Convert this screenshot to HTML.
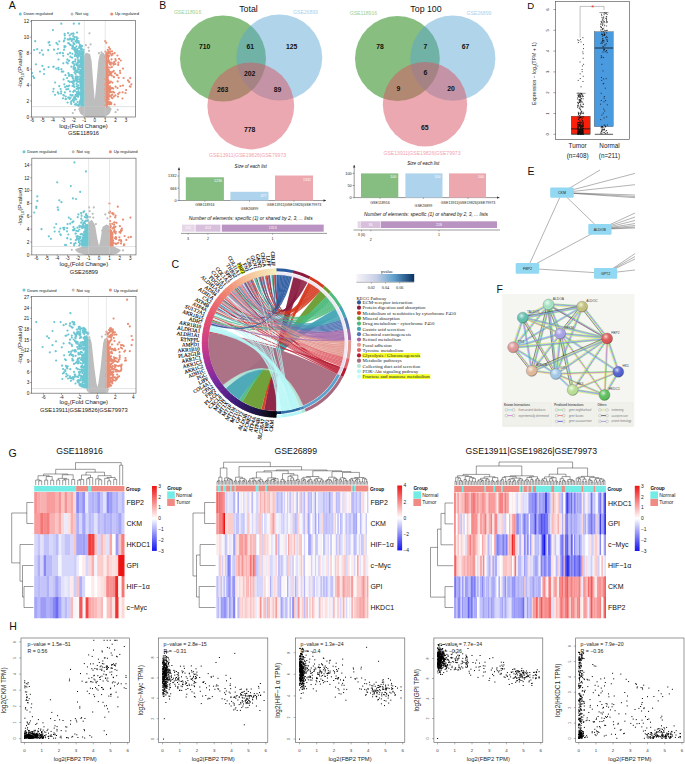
<!DOCTYPE html><html><head><meta charset="utf-8"><style>html,body{margin:0;padding:0;background:#fff;}svg{display:block;}</style></head><body><svg width="685" height="764" viewBox="0 0 685 764">
<rect width="685" height="764" fill="#fff"/>
<text x="8.8" y="8.9" font-size="10.5" text-anchor="start" fill="#111" font-family='"Liberation Sans", sans-serif' >A</text>
<circle cx="20.3" cy="13.9" r="1.5" fill="#6cc7d3"/>
<text x="23.6" y="15.4" font-size="4.2" text-anchor="start" fill="#222" font-family='"Liberation Sans", sans-serif' >Down regulated</text>
<circle cx="72" cy="13.9" r="1.5" fill="#bdbdbd"/>
<text x="75.3" y="15.4" font-size="4.2" text-anchor="start" fill="#222" font-family='"Liberation Sans", sans-serif' >Not sig</text>
<circle cx="111.7" cy="13.9" r="1.5" fill="#e88c72"/>
<text x="115" y="15.4" font-size="4.2" text-anchor="start" fill="#222" font-family='"Liberation Sans", sans-serif' >Up regulated</text>
<clipPath id="clip11"><rect x="31.5" y="20.5" width="104.0" height="96.5"/></clipPath>
<g clip-path="url(#clip11)">
<polygon points="85.3,116.2 81.1,113.4 79.1,109 81.1,106.6 84.3,106.6 84.3,56.4 86.4,53.6 89.5,54.8 90.8,61.2 92.6,85.1 93.9,99.5 94.7,105 95.6,99.5 97,85.1 99.1,61.2 100.5,54.8 103.1,53.6 105.2,56.4 105.2,106.6 108.3,106.6 110.9,109 108.8,113.4 104.7,116.2" fill="#bdbdbd" stroke="#bdbdbd" stroke-width="1.6" stroke-linejoin="round"/>
<path stroke="#bdbdbd" stroke-width="2.2" stroke-linecap="round" d="M89 50.8h0M89.5 33.3h0M85.9 45.2h0M88.5 47.6h0M98.9 53.2h0M101.5 52.4h0M74.9 109.8h0M117.7 109.8h0M72.8 113h0M115.6 112.2h0M90.6 44.4h0"/>
<polygon points="84.3,106.6 84.3,54.8 83.4,51.6 82,59.6 80.9,81.1 80.9,104.2 82.2,106.6" fill="#6cc7d3" stroke="#6cc7d3" stroke-width="0.8" stroke-linejoin="round" transform="translate(-0.4,0)"/>
<polygon points="105.2,106.6 105.2,54.8 105.8,53.2 107.1,61.2 108.1,85.1 107.5,104.2 106.4,106.6" fill="#e88c72" stroke="#e88c72" stroke-width="0.8" stroke-linejoin="round" transform="translate(0.4,0)"/>
<path stroke="#6cc7d3" stroke-width="2.2" stroke-linecap="round" d="M78.9 69.5h0M61.4 69.2h0M78 66.7h0M82.5 75.9h0M75.5 49.6h0M83.4 89h0M83.4 59.5h0M73.8 102h0M48.5 42.6h0M74.9 61.4h0M82.8 105.7h0M77.6 102.1h0M82.4 92.1h0M84 80.1h0M79.1 51h0M77.8 62.9h0M78.1 61.7h0M78.9 88.1h0M35.9 64.3h0M73.4 82h0M82 89h0M83.6 62.3h0M79.7 51.7h0M79.9 44.8h0M67.6 102.6h0M82.2 51.6h0M78.6 41.1h0M79.8 101.9h0M75.5 50.6h0M81.5 101.3h0M80.7 45.7h0M71.7 95.7h0M81.8 100.4h0M83.7 60.7h0M82.5 73.2h0M79 94h0M72.6 95.1h0M75.1 97.2h0M79.4 92.7h0M81.5 46.7h0M69.8 81.9h0M65.1 87.1h0M79.8 51.3h0M75.2 98.3h0M44 74h0M81.6 59.1h0M80.7 87.9h0M83.6 101.4h0M76.5 89h0M76.1 79.8h0M78.9 42.9h0M78.4 67.9h0M66.4 89.4h0M82.8 52.7h0M69.2 85.6h0M82.4 62.2h0M59.2 86.2h0M57.6 44.4h0M76.1 76.3h0M83.3 104.4h0M55.1 82.5h0M73.5 86.3h0M68.9 61h0M81.2 95.7h0M73 99.7h0M82 72.6h0M67.3 59.5h0M81.4 49.8h0M82.3 105.6h0M81.5 79.1h0M83.7 96.5h0M80.2 70h0M83 85.3h0M64.6 33.8h0M74.8 56h0M76.5 96.1h0M84 105.6h0M62.9 53.2h0M55 94.8h0M75.3 71.4h0M72.6 81.6h0M83.6 75h0M72.4 39.7h0M72.4 53.8h0M70.3 38.5h0M80.4 63h0M63.8 41.3h0M79.5 54.9h0M66.6 62.3h0M75.6 78.6h0M76.5 63.7h0M83.5 69.6h0M39.8 52.8h0M72.7 76.6h0M72.5 62.7h0M79.1 51.2h0M83.5 63.1h0M84 72.3h0M78.5 91h0M73.6 68.9h0M75.8 41.1h0M81.7 105.9h0M81.1 64.3h0M82.3 96.4h0M63.3 55.8h0M79.1 47.7h0M80.8 64.6h0M82.3 80.7h0M69.7 38.6h0M65.4 75.2h0M76.5 83.9h0M83 77.3h0M68.2 43.1h0M73.2 36.1h0M81.4 96.2h0M79 88.4h0M82.1 81.6h0M75.6 70.8h0M80.9 53.9h0M48.6 67.2h0M83.6 104.8h0M66 99.1h0M73.3 63.5h0M81 57.1h0M84.1 98.9h0M78.9 104.9h0M68.6 86.3h0M82.9 103.9h0M75.5 74h0M75.5 59.3h0M69.7 35.4h0M74 90.7h0M78.6 94.5h0M84.2 79.8h0M73.2 91.8h0M81.5 85.3h0M73.7 67.2h0M75.8 52.6h0M79.8 55.3h0M63.3 95h0M60.3 52.8h0M83 79.9h0M75.6 41.4h0M80.1 70h0M65.5 46.6h0M58.6 69.5h0M74.9 90.8h0M72.9 45.6h0M75.2 54.5h0M82.2 52.2h0M49.3 42.1h0M77.4 52.2h0M80.9 49.4h0M67.1 78.1h0M83.5 81h0M77.2 53.4h0M78.3 104.5h0M69.6 98.9h0M70 91.3h0M80.7 56.8h0M82.9 97.8h0M77.8 57.3h0M68 54.3h0M58.4 67.8h0M57.8 92.4h0M82.1 74.7h0M81.2 61.3h0M75.2 68.4h0M67.8 63.4h0M81 82.7h0M67.7 39.4h0M82.2 55.2h0M53.6 66.6h0M76.7 92h0M77.5 71.9h0M76 103.8h0M53.3 67h0M79.7 54.6h0M76.9 72.2h0M73.9 100.3h0M77.4 77.9h0M56.4 42.8h0M81.5 77.4h0M83.1 81.1h0M69.3 39.5h0M78.5 85.3h0M82.4 69.5h0M61.2 91.3h0M70.9 102.3h0M82.4 93h0M74 81.8h0M80.4 67.1h0M83.3 63.9h0M83.1 76.6h0M81.7 94.5h0M77.6 76.5h0M80.1 80.1h0M77.6 95.3h0M82.3 68.5h0M75.2 67.9h0M67.4 59.7h0M67 86.2h0M72.3 46.1h0M63.6 79.4h0M80.9 48.7h0M82.1 46.1h0M64.9 92.4h0M81.9 62.3h0M81.6 100.7h0M68.4 73.2h0M70.4 94.8h0M79.7 62.1h0M84.1 95.2h0M74.1 39.3h0M53.6 88.8h0M78 55.2h0M78.1 60.1h0M82.4 102.4h0M83.3 104.4h0M77.2 70.8h0M76.8 95.8h0M82.5 94.4h0M68 33.1h0M61 93.4h0M83.7 51.8h0M78.8 55.7h0M80.8 77.2h0M77.8 77.2h0M76.1 104.8h0M73.6 43.7h0M82.5 79.5h0M72.3 75.3h0M82.4 96.7h0M77.9 105.2h0M64.4 46.1h0M73.4 42.5h0M75.5 77h0M76.2 70.6h0M48.2 50.2h0M81.6 50.6h0M72.2 48.4h0M69.3 74.6h0M64.1 40.7h0M73.7 49.3h0M71.4 75h0M72.9 99.6h0M80.6 76.9h0M84.2 86.4h0M75.2 61.3h0M81.9 49.1h0M74.5 81h0M74.7 64.6h0M77.5 79.6h0M75.2 55.7h0M71.5 33.9h0M84.1 71.6h0M72.4 86h0M79.7 103.4h0M82.4 84h0M83.4 92h0M63.3 63.3h0M78 41h0M76.8 37.4h0M75.3 48.1h0M83.6 72h0M71.6 101h0M60.6 89h0M78.6 95.2h0M78.2 65.3h0M83.7 52.2h0M79.4 72.1h0M76.2 80.3h0M81.3 66h0M77 86.5h0M73.1 83.4h0M84.2 92.7h0M83.9 97.7h0M71.8 76.3h0M64 49.8h0M83.8 49.8h0M58.6 93.6h0M63.3 71.6h0M78.5 41.4h0M81.8 74.6h0M59.7 53.1h0M78.7 41.3h0M69.2 60.5h0M83.2 70h0M78.9 93.1h0M83.8 76.3h0M83.1 80.6h0M74.5 72.5h0M81.6 70.8h0M79.5 55.7h0M77.6 38.3h0M57.2 53.5h0M81.9 99.7h0M64.5 47.3h0M75.6 80.3h0M81.5 64.3h0M76.9 65.2h0M75.4 52.3h0M82.4 91.7h0M49.7 45.2h0M65.5 99.1h0M83.7 91h0M79.4 65.7h0M83.3 75h0M83.6 101.6h0M74.3 65.5h0M75.4 79.2h0M78.5 92.4h0M80.5 59.4h0M68.1 97.6h0M83.2 59.1h0M75.6 51.4h0M82.2 80.9h0M81.6 56.8h0M80.2 64.7h0M44.1 69.3h0M77.2 55h0M61.8 71.7h0M80.2 100.4h0M65.8 96.5h0M83.5 73.9h0M78.4 60.5h0M81.1 58.2h0M83.6 94.3h0M74.6 99.4h0M81.1 61.3h0M73.8 84.5h0M82.9 85.5h0M72.8 78.2h0M83.2 65h0M76.8 42.6h0M59.3 41.3h0M79.2 53.6h0M81.1 86.8h0M79.8 46h0M64.3 84.3h0M80.3 83.3h0M80.3 81.3h0M79.9 94h0M76.9 51.1h0M77.4 49h0M76.9 93.8h0M71.6 41h0M81.3 105.3h0M77.8 69.4h0M76.8 39.4h0M74.9 48.1h0M83.7 75.1h0M70.5 97.8h0M83.5 63.9h0M63.9 95.4h0M75.4 95.3h0M72.1 57.7h0M81.8 93.1h0M71.4 66.7h0M71.4 75.9h0M80.6 45.3h0M74.4 69.7h0M77.4 57h0M73.3 38.6h0M79.6 52.7h0M74.5 44h0M69.7 44.3h0M64.8 35.4h0M75.2 68.3h0M73.3 46.8h0M79.4 79.1h0M82.9 62.8h0M42.4 65.9h0M82.7 94.5h0M79.4 87.5h0M53.2 91.6h0M81 99.4h0M75 50.2h0M82.5 102.9h0M78.8 67.7h0M63 98.3h0M83.3 95.8h0M82.1 92.4h0M73.1 61.8h0M82 95.4h0M81.4 95.9h0M71.7 81.9h0M77.2 50.2h0M78.5 89h0M64.9 38.4h0M80.6 71.9h0M56.3 68.6h0M82.1 103.6h0M58.1 49h0M80 72.6h0M77.8 87.7h0M43.1 54.7h0M81.9 106h0M78.6 81.7h0M70.1 52.9h0M76 94.7h0M82.8 87.5h0M81.6 53.2h0M77.8 63.1h0M40 71.6h0M77.5 95.9h0M71.2 103.9h0M69 43.3h0M68.9 97.3h0M81.5 62.4h0M83.4 78.6h0M78.7 42.8h0M76.4 46.3h0M81.1 57.3h0M79.5 46.7h0M83.4 58.6h0M82.2 73.8h0M77.7 95.5h0M68.4 81h0M81 101.9h0M81 77.4h0M73.1 78.8h0M74 97.4h0M79.8 76.7h0M54 49.7h0M74.9 104.5h0M80.1 61h0M81.9 72.2h0M78.8 105.9h0M41.8 50.3h0M82.2 69.4h0M81.2 83.2h0M77.4 85.8h0M80.6 81.8h0M74.5 86.9h0M82.3 62.6h0M80.7 47h0M76.9 56.2h0M80.7 54.4h0M83.4 98.4h0M83.4 67.2h0M73.3 91.8h0M79.7 52.2h0M76.3 99.5h0M82 97.1h0M83.1 82.7h0M83.6 53.4h0M79.3 73h0M75 50.9h0M69 75.9h0M80.7 80.6h0M84.1 83.8h0M73.6 33.8h0M70.4 56.7h0M76 104.4h0M80.7 85h0M74.9 97.8h0M80.1 73.9h0M70.5 44.9h0M75.9 94.6h0M71.4 39.4h0M77.2 81.9h0M78.1 96.8h0M73.2 33.4h0M77.8 57.8h0M68.2 89h0M58.5 59.5h0M82.3 101.6h0M81.8 71.4h0M73.7 81.1h0"/>
<path stroke="#e88c72" stroke-width="2.2" stroke-linecap="round" d="M120.4 86.1h0M108.8 99.3h0M126.1 90.1h0M118.7 77.8h0M109.9 72.6h0M107 54.6h0M115 73.3h0M105.9 60.5h0M107.1 55.1h0M106.8 74h0M115.4 95.4h0M109.8 102h0M105.4 96.7h0M130.2 78.1h0M111.4 88h0M111.6 62.6h0M108 72.1h0M114.6 104.5h0M106.5 80.1h0M106.1 85h0M110 96h0M109.4 90.8h0M110 86.4h0M111.1 104.1h0M111.6 97.7h0M123.6 78h0M108.8 82.2h0M110.8 64.7h0M113.3 63.6h0M109 47.3h0M115.7 60.7h0M108.2 81.2h0M110 51.5h0M109.5 75h0M108.4 53.3h0M107.4 103.5h0M112.6 54.3h0M112.8 71.8h0M113.2 88.6h0M110.4 102.4h0M106 81.6h0M109.2 82.9h0M105.5 68.1h0M109.5 92.2h0M107.3 83.9h0M106.7 102.7h0M119.1 58.9h0M111.5 54.8h0M108.3 59.2h0M106.6 64.2h0M110 51.6h0M105.8 62.5h0M105.9 76.6h0M122.5 98.5h0M106.8 89.6h0M107.4 103h0M118.2 64.9h0M108.1 85.7h0M110.3 103.8h0M105.4 57h0M107.3 77.9h0M120.8 60.5h0M108.9 94.3h0M107.2 53.6h0M118.2 93.9h0M115.6 86.7h0M108.9 96.4h0M117.4 55.5h0M106.5 70.8h0M106.4 56.9h0M105.5 100.8h0M112.6 88h0M118.4 62.7h0M112.4 98.2h0M112 51.3h0M108.6 102h0M106.6 89.2h0M112.3 94.7h0M106.3 93.3h0M111.5 59.3h0M107.9 68h0M117.6 75.3h0M106.7 89.5h0M120.2 73h0M107.1 70h0M105.7 51.9h0M108.5 75.4h0M109.5 103.9h0M110.5 89.2h0M106.8 60.8h0M105.7 90.8h0M113.3 91.9h0M107.1 75.2h0M106.4 56h0M130.5 86.7h0M108.7 62.1h0M108 52.3h0M109.2 95.9h0M109.9 67.5h0M107.8 68.3h0M114 77.2h0M109.2 55.9h0M111.8 75.6h0M122.6 92.3h0M113.9 96.5h0M110.6 92.2h0M108.5 60.9h0M114.1 62.2h0M106.7 78.8h0M106.6 73.7h0M109.2 104.5h0M110.4 62.7h0M110.1 53.4h0M106.3 98.1h0M105.3 79.3h0M108.5 80.6h0M106.9 61h0M105.6 56.2h0M110 73.5h0M114.2 92.5h0M106.1 89.2h0M105.4 89.2h0M110.8 74.6h0M107 73h0M105.7 60.9h0M106.3 92.3h0M106.2 67.8h0M115.4 64h0M105.6 83.9h0M107.8 94h0M125.5 93h0M109.1 61.1h0M129.8 86.3h0M108.7 62.5h0M105.4 93.3h0M117.9 96.6h0M108.1 89.2h0M108.4 102.1h0M105.4 51.6h0M113.5 64.7h0M106.7 92.2h0M109.8 92h0M108.7 51.3h0M107.8 87h0M128 80.4h0M105.4 84.3h0M111.2 102.9h0M107.6 66.4h0M116.7 74.8h0M117.7 81.4h0M108.1 57.3h0M107.9 61h0M106.6 86.9h0M106.4 75.6h0M106.2 95.2h0M106.6 80.1h0M107.3 80.9h0M111.7 55.3h0M106.5 84.9h0M105.6 68.2h0M107.8 90.7h0M105.3 96.6h0M106.9 84.2h0M120 70.8h0M107 86h0M106.1 54h0M107.8 62.1h0M112.6 53.9h0M105.3 88.9h0M108 101.8h0M117.5 88h0M113.7 76.8h0M105.5 84.8h0M106.8 104.3h0M106.1 73.2h0M105.4 89.4h0M108.4 74.6h0M106 67h0M106.9 65.2h0M111.5 97.6h0M106.5 90.8h0M112.4 82.6h0M108 56h0M106.7 90h0M107.6 94.1h0M105.4 105.3h0M110.9 72.2h0M114.7 53.1h0M107.2 68.1h0M119.6 92.5h0M111.9 67.1h0M123 68.6h0M106.7 70.6h0M105.7 82.8h0M108.1 103.1h0M108 87.5h0M109.1 89.9h0M106.2 84h0M108.9 96.7h0M111.5 92h0M105.7 87.6h0M108.3 97.8h0M110.2 63.7h0M109.8 64.1h0M105.3 85h0M107.8 103h0M108.2 103.4h0M109.1 71.6h0M108.8 87.3h0M106.9 105.3h0M107.6 54.9h0M110 90.7h0M111.5 95.2h0M108.8 70h0M123 85.6h0M110.1 49.1h0M113.7 70.9h0M110.8 81.6h0M108.3 90.4h0M115.4 59.1h0M108 53.5h0M105.4 99.1h0M109.3 88.1h0M107.8 49.8h0M106.1 95.8h0M106.7 68h0M106.7 106.6h0M109.7 82.8h0M106.8 78.5h0M111.2 73.5h0"/>
<circle cx="61.3" cy="23.7" r="1.1" fill="#6cc7d3"/>
<circle cx="73.8" cy="23.7" r="1.1" fill="#6cc7d3"/>
<circle cx="79.1" cy="23.7" r="1.1" fill="#6cc7d3"/>
<circle cx="52.9" cy="30.1" r="1.1" fill="#6cc7d3"/>
<circle cx="77" cy="32.5" r="1.1" fill="#6cc7d3"/>
<circle cx="74.9" cy="37.2" r="1.1" fill="#6cc7d3"/>
<circle cx="35.2" cy="41.2" r="1.1" fill="#6cc7d3"/>
<circle cx="34.1" cy="50" r="1.1" fill="#6cc7d3"/>
<circle cx="37.2" cy="49.2" r="1.1" fill="#6cc7d3"/>
<circle cx="32" cy="73.1" r="1.1" fill="#6cc7d3"/>
<circle cx="34.1" cy="77.9" r="1.1" fill="#6cc7d3"/>
<circle cx="33.1" cy="76.3" r="1.1" fill="#6cc7d3"/>
<circle cx="105.2" cy="41.2" r="1.1" fill="#e88c72"/>
<circle cx="106.2" cy="42.8" r="1.1" fill="#e88c72"/>
<circle cx="129.2" cy="81.9" r="1.1" fill="#e88c72"/>
<circle cx="131.3" cy="84.3" r="1.1" fill="#e88c72"/>
</g>
<line x1="31.5" y1="106.6" x2="135.5" y2="106.6" stroke="#c8c8c8" stroke-width="0.5"/>
<line x1="84.3" y1="20.5" x2="84.3" y2="117" stroke="#d0d0d0" stroke-width="0.5"/>
<line x1="105.2" y1="20.5" x2="105.2" y2="117" stroke="#d0d0d0" stroke-width="0.5"/>
<rect x="31.5" y="20.5" width="104" height="96.5" fill="none" stroke="#666" stroke-width="0.7"/>
<line x1="32" y1="117" x2="32" y2="118.5" stroke="#555" stroke-width="0.5"/>
<text x="32" y="122.4" font-size="4.6" text-anchor="middle" fill="#222" font-family='"Liberation Sans", sans-serif' >-6</text>
<line x1="42.5" y1="117" x2="42.5" y2="118.5" stroke="#555" stroke-width="0.5"/>
<text x="42.5" y="122.4" font-size="4.6" text-anchor="middle" fill="#222" font-family='"Liberation Sans", sans-serif' >-5</text>
<line x1="52.9" y1="117" x2="52.9" y2="118.5" stroke="#555" stroke-width="0.5"/>
<text x="52.9" y="122.4" font-size="4.6" text-anchor="middle" fill="#222" font-family='"Liberation Sans", sans-serif' >-4</text>
<line x1="63.4" y1="117" x2="63.4" y2="118.5" stroke="#555" stroke-width="0.5"/>
<text x="63.4" y="122.4" font-size="4.6" text-anchor="middle" fill="#222" font-family='"Liberation Sans", sans-serif' >-3</text>
<line x1="73.8" y1="117" x2="73.8" y2="118.5" stroke="#555" stroke-width="0.5"/>
<text x="73.8" y="122.4" font-size="4.6" text-anchor="middle" fill="#222" font-family='"Liberation Sans", sans-serif' >-2</text>
<line x1="84.3" y1="117" x2="84.3" y2="118.5" stroke="#555" stroke-width="0.5"/>
<text x="84.3" y="122.4" font-size="4.6" text-anchor="middle" fill="#222" font-family='"Liberation Sans", sans-serif' >-1</text>
<line x1="94.7" y1="117" x2="94.7" y2="118.5" stroke="#555" stroke-width="0.5"/>
<text x="94.7" y="122.4" font-size="4.6" text-anchor="middle" fill="#222" font-family='"Liberation Sans", sans-serif' >0</text>
<line x1="105.2" y1="117" x2="105.2" y2="118.5" stroke="#555" stroke-width="0.5"/>
<text x="105.2" y="122.4" font-size="4.6" text-anchor="middle" fill="#222" font-family='"Liberation Sans", sans-serif' >1</text>
<line x1="115.6" y1="117" x2="115.6" y2="118.5" stroke="#555" stroke-width="0.5"/>
<text x="115.6" y="122.4" font-size="4.6" text-anchor="middle" fill="#222" font-family='"Liberation Sans", sans-serif' >2</text>
<line x1="126.1" y1="117" x2="126.1" y2="118.5" stroke="#555" stroke-width="0.5"/>
<text x="126.1" y="122.4" font-size="4.6" text-anchor="middle" fill="#222" font-family='"Liberation Sans", sans-serif' >3</text>
<line x1="30" y1="117" x2="31.5" y2="117" stroke="#555" stroke-width="0.5"/>
<text x="29.2" y="118.7" font-size="4.8" text-anchor="end" fill="#222" font-family='"Liberation Sans", sans-serif' >0</text>
<line x1="30" y1="101" x2="31.5" y2="101" stroke="#555" stroke-width="0.5"/>
<text x="29.2" y="102.7" font-size="4.8" text-anchor="end" fill="#222" font-family='"Liberation Sans", sans-serif' >2</text>
<line x1="30" y1="85.1" x2="31.5" y2="85.1" stroke="#555" stroke-width="0.5"/>
<text x="29.2" y="86.8" font-size="4.8" text-anchor="end" fill="#222" font-family='"Liberation Sans", sans-serif' >4</text>
<line x1="30" y1="69.1" x2="31.5" y2="69.1" stroke="#555" stroke-width="0.5"/>
<text x="29.2" y="70.8" font-size="4.8" text-anchor="end" fill="#222" font-family='"Liberation Sans", sans-serif' >6</text>
<line x1="30" y1="53.2" x2="31.5" y2="53.2" stroke="#555" stroke-width="0.5"/>
<text x="29.2" y="54.9" font-size="4.8" text-anchor="end" fill="#222" font-family='"Liberation Sans", sans-serif' >8</text>
<line x1="30" y1="37.2" x2="31.5" y2="37.2" stroke="#555" stroke-width="0.5"/>
<text x="29.2" y="38.9" font-size="4.8" text-anchor="end" fill="#222" font-family='"Liberation Sans", sans-serif' >10</text>
<line x1="30" y1="21.3" x2="31.5" y2="21.3" stroke="#555" stroke-width="0.5"/>
<text x="29.2" y="23" font-size="4.8" text-anchor="end" fill="#222" font-family='"Liberation Sans", sans-serif' >12</text>
<text x="83.5" y="127.8" font-size="6.0" text-anchor="middle" fill="#222" font-family='"Liberation Sans", sans-serif'>log<tspan font-size="4" dy="1.5">2</tspan><tspan dy="-1.5">(Fold Change)</tspan></text>
<text x="83.5" y="134.7" font-size="5.8" text-anchor="middle" fill="#222" font-family='"Liberation Sans", sans-serif' >GSE118916</text>
<text transform="translate(22,68.8) rotate(-90)" font-size="6.2" text-anchor="middle" fill="#222" font-family='"Liberation Sans", sans-serif'>-log<tspan font-size="4" dy="1.5">10</tspan><tspan dy="-1.5">(Pvalue)</tspan></text>
<circle cx="24" cy="151.7" r="1.5" fill="#6cc7d3"/>
<text x="27.3" y="153.2" font-size="4.2" text-anchor="start" fill="#222" font-family='"Liberation Sans", sans-serif' >Down regulated</text>
<circle cx="73.2" cy="151.7" r="1.5" fill="#bdbdbd"/>
<text x="76.5" y="153.2" font-size="4.2" text-anchor="start" fill="#222" font-family='"Liberation Sans", sans-serif' >Not sig</text>
<circle cx="110.4" cy="151.7" r="1.5" fill="#e88c72"/>
<text x="113.7" y="153.2" font-size="4.2" text-anchor="start" fill="#222" font-family='"Liberation Sans", sans-serif' >Up regulated</text>
<clipPath id="clip12"><rect x="31.8" y="158.2" width="104.2" height="96.70000000000002"/></clipPath>
<g clip-path="url(#clip12)">
<polygon points="86.5,254.3 79.1,252.3 76,249.8 83.3,246.9 88.3,246.5 88.6,222.8 91.7,220.8 94.3,225.3 96.9,240.8 99,249.1 101.1,240.8 103.2,227.3 106.3,225.3 109.5,226.6 109.7,246.5 114.7,247.8 119.9,250.4 116.8,253 110.5,254.3" fill="#bdbdbd" stroke="#bdbdbd" stroke-width="1.6" stroke-linejoin="round"/>
<path stroke="#bdbdbd" stroke-width="2.2" stroke-linecap="round" d="M93.8 207.4h0M89.1 207.4h0M92.7 213.8h0M90.1 217h0M105.3 214.4h0M107.4 218.3h0M108.9 212.5h0M89.6 211.2h0M93.3 217.6h0M71.8 249.8h0M123 250.4h0M95.9 224.1h0M102.1 230.5h0"/>
<polygon points="88.6,246.5 88.6,226.6 87,224.1 84.9,230.5 82.3,240.1 81.2,245.3 84.4,246.5" fill="#6cc7d3" stroke="#6cc7d3" stroke-width="0.8" stroke-linejoin="round" transform="translate(-0.4,0)"/>
<polygon points="109.5,246.5 109.5,230.5 111,230.5 112.6,236.9 112.6,245.3 111.5,246.5" fill="#e88c72" stroke="#e88c72" stroke-width="0.8" stroke-linejoin="round" transform="translate(0.4,0)"/>
<path stroke="#6cc7d3" stroke-width="2.2" stroke-linecap="round" d="M83.5 226.2h0M79.9 243.9h0M88.5 238.1h0M86 220.5h0M79.4 229.5h0M82.1 226.4h0M87.3 235.7h0M87.2 216.7h0M88.1 221.1h0M87.9 226.6h0M85.3 236.6h0M74.1 245.5h0M88.1 216.8h0M83 245.2h0M54.4 227.5h0M87.6 236.3h0M87.4 239.9h0M80.9 243.5h0M79.2 245.5h0M87.1 220.7h0M84.5 235.9h0M81.4 233.8h0M84.7 246.3h0M78.4 214.4h0M59.2 231.7h0M85.1 237.9h0M79.4 226.7h0M87.6 242.1h0M85 232.6h0M75.5 233.7h0M88.3 221h0M84.1 232.1h0M86.6 236h0M84.7 221.6h0M87.7 231.9h0M87 225.9h0M88.3 241h0M85.2 227.7h0M88.1 235.2h0M86.7 240.7h0M83.5 212.1h0M83.4 212.2h0M87.1 215.8h0M85 243.1h0M77.7 217.2h0M88.5 241.2h0M77 238.6h0M86.4 246.5h0M88.2 229.4h0M56.2 224h0M83.1 246.3h0M85.5 221.3h0M74.6 228.9h0M86.5 232.4h0M83.5 227.5h0M86.2 214.2h0M70.9 243.1h0M85.9 217.5h0M86 214.3h0M82.9 224.6h0M79 242.2h0M85.9 241.4h0M79.5 225.8h0M87.4 217.7h0M84.3 241.6h0M84.1 211.4h0M82.1 227.9h0M68.8 217.6h0M77.4 236.3h0M81.6 215.8h0M76.3 230.8h0M85.2 237.8h0M78.1 231.2h0M88.4 225.8h0M70.2 223.7h0M70.7 219.1h0M82.5 220.6h0M84.8 245.2h0M85.1 239.6h0M67.2 228.2h0M82.4 227.9h0M87.5 232.4h0M79.1 236.9h0M86.3 236.7h0M85.5 225.8h0M87.4 245.4h0M85.6 225.4h0M77.4 227.7h0M67.2 238.2h0M88.3 234.3h0M84 243.3h0M79.9 238.6h0M86.4 239.3h0M66 245.1h0M85 240.6h0M86.8 235.9h0M86.6 215.8h0M83.1 224.5h0M87.2 234.8h0M81.2 218.7h0M86.3 234.8h0M73.4 221.6h0M86.5 232h0M77.3 237h0M79.8 227h0M60.4 234.3h0M79.6 238.3h0M78.2 239.2h0M83.1 237.8h0M85.7 244.4h0M86.5 231.8h0M86.3 246.1h0M75.8 240.2h0M67 231.3h0M84.7 217h0M70.7 239.3h0M87.5 228.3h0M74.1 230.1h0M76.5 236.5h0M81 240.9h0M84.5 237.3h0M84.7 236.7h0M75.6 243.1h0M86.8 241.5h0M60.8 235.1h0M88.1 220.4h0M72.3 222.3h0M85.1 223.5h0M85.7 244.4h0M72.8 221.7h0M86.7 217.7h0M88.4 240.1h0M88.4 243.7h0M87.2 225.1h0M85.8 243.1h0M87 239.8h0M73 230.2h0M87.7 226.6h0M82.5 234.7h0M82.7 226.6h0M75.9 233.5h0M80.6 234.3h0M80.7 237h0M84.4 232.3h0M78.7 240.4h0M68.3 234.5h0M73.4 227.1h0M64 229.5h0M84.2 236.3h0M81.2 222.7h0M74.2 243.9h0M88 245h0M87.9 245.9h0M88.5 241.8h0M87.6 226.5h0M81.1 213h0M63.2 227.8h0M65.1 244.9h0M86.5 215.4h0M83.5 242.5h0M77.5 236.1h0M82.4 239.3h0M86.4 245.4h0M81.2 213.5h0M54.7 231.5h0M67.3 238.3h0M85.8 215.1h0M81.4 226.3h0M88.5 242.3h0M83.4 223h0"/>
<path stroke="#e88c72" stroke-width="2.2" stroke-linecap="round" d="M120.4 232.8h0M112.1 237h0M121.9 228.7h0M113.6 243h0M115.6 233.5h0M112.3 241.9h0M112.5 228.4h0M110.3 230.1h0M128.5 237.4h0M111.3 235.4h0M110.1 221.1h0M115.7 243.8h0M114.4 230.2h0M114.9 238.1h0M111.8 237.9h0M112 232.5h0M113.3 243.5h0M112.7 242.6h0M111.9 237.5h0M112.2 213.2h0M111.7 238.6h0M116.2 238.2h0M114 227.9h0M109.9 224.1h0M110.1 240.9h0M119.9 226.2h0M116.5 243.9h0M113.1 240.5h0M121 243.4h0M110.8 226.2h0M115.8 231.9h0M113.5 213.7h0M113.3 214.5h0M112.6 234.2h0M112.2 223.8h0M118.2 242.8h0M114.1 224.8h0M113.8 227.2h0M115.5 226.8h0M112.2 239.6h0M109.6 212.9h0M119.2 240.2h0M124 244.4h0M120.8 240.2h0M111.8 241h0M112.8 246h0M109.8 244.6h0M111.8 243.7h0M110.3 216.5h0M112.4 233.2h0M115.2 217.4h0M110.4 241.7h0M121.8 230.5h0M126.3 239.9h0M112.3 243h0M124.6 236h0M114.5 222.3h0M111.3 231h0M124.3 244.7h0M115.5 243.5h0M120.9 231.2h0M115.9 237h0M109.6 231.8h0M112.2 236.4h0M110 211.6h0M114.1 231.3h0M121 230h0M114.5 232.2h0M121.2 241.2h0M123.9 245.3h0M119.4 237.3h0M115.6 215.7h0M111 235.8h0M119.5 232.1h0M114.1 222.6h0M116.5 222.8h0M116 239.1h0M111.6 245.4h0M110.3 246.1h0M110.4 227.5h0"/>
<circle cx="74.4" cy="162.4" r="1.1" fill="#6cc7d3"/>
<circle cx="85.9" cy="171.4" r="1.1" fill="#6cc7d3"/>
<circle cx="57.2" cy="182.3" r="1.1" fill="#6cc7d3"/>
<circle cx="70.8" cy="186.1" r="1.1" fill="#6cc7d3"/>
<circle cx="80.2" cy="191.9" r="1.1" fill="#6cc7d3"/>
<circle cx="72.9" cy="198.4" r="1.1" fill="#6cc7d3"/>
<circle cx="76" cy="199" r="1.1" fill="#6cc7d3"/>
<circle cx="37.3" cy="196.4" r="1.1" fill="#6cc7d3"/>
<circle cx="37.3" cy="200.9" r="1.1" fill="#6cc7d3"/>
<circle cx="36.3" cy="206.7" r="1.1" fill="#6cc7d3"/>
<circle cx="36.3" cy="208" r="1.1" fill="#6cc7d3"/>
<circle cx="34.2" cy="212.5" r="1.1" fill="#6cc7d3"/>
<circle cx="59.3" cy="200.3" r="1.1" fill="#6cc7d3"/>
<circle cx="61.4" cy="202.2" r="1.1" fill="#6cc7d3"/>
<circle cx="57.7" cy="207.4" r="1.1" fill="#6cc7d3"/>
<circle cx="58.2" cy="209.9" r="1.1" fill="#6cc7d3"/>
<circle cx="41.5" cy="229.2" r="1.1" fill="#6cc7d3"/>
<circle cx="48.8" cy="236.3" r="1.1" fill="#6cc7d3"/>
<circle cx="50.9" cy="238.8" r="1.1" fill="#6cc7d3"/>
<circle cx="67.6" cy="224.1" r="1.1" fill="#6cc7d3"/>
<circle cx="60.3" cy="228.6" r="1.1" fill="#6cc7d3"/>
<circle cx="64.5" cy="227.9" r="1.1" fill="#6cc7d3"/>
<circle cx="109.5" cy="203.5" r="1.1" fill="#e88c72"/>
<circle cx="117.8" cy="206.7" r="1.1" fill="#e88c72"/>
<circle cx="130.4" cy="217.6" r="1.1" fill="#e88c72"/>
<circle cx="130.9" cy="236.9" r="1.1" fill="#e88c72"/>
<circle cx="123" cy="219.6" r="1.1" fill="#e88c72"/>
</g>
<line x1="31.8" y1="246.5" x2="136" y2="246.5" stroke="#c8c8c8" stroke-width="0.5"/>
<line x1="88.6" y1="158.2" x2="88.6" y2="254.9" stroke="#d0d0d0" stroke-width="0.5"/>
<line x1="109.5" y1="158.2" x2="109.5" y2="254.9" stroke="#d0d0d0" stroke-width="0.5"/>
<rect x="31.8" y="158.2" width="104.2" height="96.7" fill="none" stroke="#666" stroke-width="0.7"/>
<line x1="36.3" y1="254.9" x2="36.3" y2="256.4" stroke="#555" stroke-width="0.5"/>
<text x="36.3" y="260.3" font-size="4.6" text-anchor="middle" fill="#222" font-family='"Liberation Sans", sans-serif' >-6</text>
<line x1="46.7" y1="254.9" x2="46.7" y2="256.4" stroke="#555" stroke-width="0.5"/>
<text x="46.7" y="260.3" font-size="4.6" text-anchor="middle" fill="#222" font-family='"Liberation Sans", sans-serif' >-5</text>
<line x1="57.2" y1="254.9" x2="57.2" y2="256.4" stroke="#555" stroke-width="0.5"/>
<text x="57.2" y="260.3" font-size="4.6" text-anchor="middle" fill="#222" font-family='"Liberation Sans", sans-serif' >-4</text>
<line x1="67.6" y1="254.9" x2="67.6" y2="256.4" stroke="#555" stroke-width="0.5"/>
<text x="67.6" y="260.3" font-size="4.6" text-anchor="middle" fill="#222" font-family='"Liberation Sans", sans-serif' >-3</text>
<line x1="78.1" y1="254.9" x2="78.1" y2="256.4" stroke="#555" stroke-width="0.5"/>
<text x="78.1" y="260.3" font-size="4.6" text-anchor="middle" fill="#222" font-family='"Liberation Sans", sans-serif' >-2</text>
<line x1="88.6" y1="254.9" x2="88.6" y2="256.4" stroke="#555" stroke-width="0.5"/>
<text x="88.6" y="260.3" font-size="4.6" text-anchor="middle" fill="#222" font-family='"Liberation Sans", sans-serif' >-1</text>
<line x1="99" y1="254.9" x2="99" y2="256.4" stroke="#555" stroke-width="0.5"/>
<text x="99" y="260.3" font-size="4.6" text-anchor="middle" fill="#222" font-family='"Liberation Sans", sans-serif' >0</text>
<line x1="109.5" y1="254.9" x2="109.5" y2="256.4" stroke="#555" stroke-width="0.5"/>
<text x="109.5" y="260.3" font-size="4.6" text-anchor="middle" fill="#222" font-family='"Liberation Sans", sans-serif' >1</text>
<line x1="119.9" y1="254.9" x2="119.9" y2="256.4" stroke="#555" stroke-width="0.5"/>
<text x="119.9" y="260.3" font-size="4.6" text-anchor="middle" fill="#222" font-family='"Liberation Sans", sans-serif' >2</text>
<line x1="130.4" y1="254.9" x2="130.4" y2="256.4" stroke="#555" stroke-width="0.5"/>
<text x="130.4" y="260.3" font-size="4.6" text-anchor="middle" fill="#222" font-family='"Liberation Sans", sans-serif' >3</text>
<line x1="30.3" y1="254.9" x2="31.8" y2="254.9" stroke="#555" stroke-width="0.5"/>
<text x="29.5" y="256.6" font-size="4.8" text-anchor="end" fill="#222" font-family='"Liberation Sans", sans-serif' >0</text>
<line x1="30.3" y1="242" x2="31.8" y2="242" stroke="#555" stroke-width="0.5"/>
<text x="29.5" y="243.7" font-size="4.8" text-anchor="end" fill="#222" font-family='"Liberation Sans", sans-serif' >2</text>
<line x1="30.3" y1="229.2" x2="31.8" y2="229.2" stroke="#555" stroke-width="0.5"/>
<text x="29.5" y="230.9" font-size="4.8" text-anchor="end" fill="#222" font-family='"Liberation Sans", sans-serif' >4</text>
<line x1="30.3" y1="216.3" x2="31.8" y2="216.3" stroke="#555" stroke-width="0.5"/>
<text x="29.5" y="218" font-size="4.8" text-anchor="end" fill="#222" font-family='"Liberation Sans", sans-serif' >6</text>
<line x1="30.3" y1="203.5" x2="31.8" y2="203.5" stroke="#555" stroke-width="0.5"/>
<text x="29.5" y="205.2" font-size="4.8" text-anchor="end" fill="#222" font-family='"Liberation Sans", sans-serif' >8</text>
<line x1="30.3" y1="190.6" x2="31.8" y2="190.6" stroke="#555" stroke-width="0.5"/>
<text x="29.5" y="192.3" font-size="4.8" text-anchor="end" fill="#222" font-family='"Liberation Sans", sans-serif' >10</text>
<line x1="30.3" y1="177.8" x2="31.8" y2="177.8" stroke="#555" stroke-width="0.5"/>
<text x="29.5" y="179.5" font-size="4.8" text-anchor="end" fill="#222" font-family='"Liberation Sans", sans-serif' >12</text>
<line x1="30.3" y1="164.9" x2="31.8" y2="164.9" stroke="#555" stroke-width="0.5"/>
<text x="29.5" y="166.6" font-size="4.8" text-anchor="end" fill="#222" font-family='"Liberation Sans", sans-serif' >14</text>
<text x="83.9" y="266.3" font-size="6.0" text-anchor="middle" fill="#222" font-family='"Liberation Sans", sans-serif'>log<tspan font-size="4" dy="1.5">2</tspan><tspan dy="-1.5">(Fold Change)</tspan></text>
<text x="83.9" y="273.5" font-size="5.8" text-anchor="middle" fill="#222" font-family='"Liberation Sans", sans-serif' >GSE26899</text>
<text transform="translate(22.3,206.6) rotate(-90)" font-size="6.2" text-anchor="middle" fill="#222" font-family='"Liberation Sans", sans-serif'>-log<tspan font-size="4" dy="1.5">10</tspan><tspan dy="-1.5">(Pvalue)</tspan></text>
<circle cx="24" cy="290" r="1.5" fill="#6cc7d3"/>
<text x="27.3" y="291.5" font-size="4.2" text-anchor="start" fill="#222" font-family='"Liberation Sans", sans-serif' >Down regulated</text>
<circle cx="73.2" cy="290" r="1.5" fill="#bdbdbd"/>
<text x="76.5" y="291.5" font-size="4.2" text-anchor="start" fill="#222" font-family='"Liberation Sans", sans-serif' >Not sig</text>
<circle cx="110.4" cy="290" r="1.5" fill="#e88c72"/>
<text x="113.7" y="291.5" font-size="4.2" text-anchor="start" fill="#222" font-family='"Liberation Sans", sans-serif' >Up regulated</text>
<clipPath id="clip13"><rect x="31.6" y="296.5" width="104.4" height="96.69999999999999"/></clipPath>
<g clip-path="url(#clip13)">
<polygon points="92,392.8 88.4,391.4 87.1,389.6 88.3,388.6 88.4,341.7 89.8,339.2 90.9,343.4 93.4,366.5 95.8,384.3 97.4,390 99,384.3 101.5,366.5 103.9,343.4 105.1,339.2 106.4,341.7 106.6,388.6 108.2,389.6 106.9,391.4 103.7,392.8" fill="#bdbdbd" stroke="#bdbdbd" stroke-width="1.6" stroke-linejoin="round"/>
<path stroke="#bdbdbd" stroke-width="2.2" stroke-linecap="round" d="M89.3 337.4h0M105.5 334.5h0M101.9 336.7h0M107.3 391.8h0"/>
<polygon points="88.4,388.6 88.4,340.6 87.4,338.8 85.9,347 85,364.8 85.3,380.8 86.6,387.9" fill="#6cc7d3" stroke="#6cc7d3" stroke-width="0.8" stroke-linejoin="round" transform="translate(-0.4,0)"/>
<polygon points="106.4,388.6 106.4,343.4 107.3,341.3 108.9,350.5 109.4,371.9 108.7,384.3 107.5,387.9" fill="#e88c72" stroke="#e88c72" stroke-width="0.8" stroke-linejoin="round" transform="translate(0.4,0)"/>
<path stroke="#6cc7d3" stroke-width="2.2" stroke-linecap="round" d="M86.1 351.9h0M79.6 335.4h0M86.9 379.1h0M87.2 379.5h0M78.3 380.1h0M82.6 378.1h0M85.8 367.5h0M74.5 350.4h0M88.3 377.4h0M87.2 340.3h0M75.7 336.9h0M75 341.1h0M65.6 335.8h0M86.2 340.7h0M83.3 344.8h0M82.1 365.5h0M85 367.2h0M85.6 383.9h0M75.3 337.4h0M56 341.3h0M82.3 344.5h0M87.3 353.4h0M84 380.6h0M86.7 362.6h0M86.2 366.1h0M81.3 367.2h0M87.4 365h0M86.4 378.6h0M86.8 371.8h0M87.8 355.5h0M65 359.3h0M78.7 328.7h0M88.1 383.6h0M75.9 334.7h0M80.6 379.8h0M84.4 337.6h0M71.8 335.6h0M86.7 341h0M84.8 348.7h0M87.3 333.5h0M81.4 345.7h0M86.6 356.7h0M81.8 355h0M85 348.1h0M85.2 375h0M87.1 352.7h0M87.5 379.6h0M87.9 356h0M82.2 358.4h0M88.1 368.4h0M85.2 384.8h0M88.4 332.9h0M87.4 375.7h0M86 357.5h0M87.8 366.5h0M84.9 340.6h0M88.4 374.3h0M83.2 329.1h0M82.9 363.2h0M80 372.2h0M88.2 364.9h0M70 339.7h0M86.1 352h0M74 371.9h0M81.7 369.7h0M86.3 375.9h0M86.7 372.6h0M88.1 370.8h0M87.7 348.5h0M81.4 386.3h0M77.1 376.7h0M83.4 358.4h0M85.3 375.4h0M84.1 382.5h0M73.2 378.9h0M75.2 374.5h0M85.7 370h0M88.2 384.2h0M85 366.5h0M72.4 321.9h0M88.1 362.8h0M87.4 345.1h0M85.5 337h0M82.4 382.3h0M88.4 378.8h0M73 377.1h0M83.4 369.8h0M85.2 343.1h0M86.6 350.1h0M80 329.3h0M82.8 332.5h0M84 357.6h0M81 337.1h0M71 377.9h0M87.3 362.4h0M75.6 355.8h0M85.7 332.3h0M85.7 385.2h0M88 387.8h0M78.5 381.2h0M78.8 333.7h0M75.8 362.9h0M81 337.5h0M78.8 372h0M77.5 380.7h0M85.6 329.7h0M83.6 375.7h0M76.7 361.6h0M88.4 387.9h0M86.1 373.4h0M67.3 368.4h0M73.9 332.7h0M84.3 328.4h0M77.5 359.8h0M86.1 366h0M70.7 353.7h0M86.8 371.3h0M83.5 379.7h0M81.9 385.7h0M75.3 376.6h0M87.6 359.2h0M85.6 337.7h0M83.2 360.4h0M74.7 374.5h0M78 349h0M84.2 330.7h0M88.3 342h0M87.2 342.5h0M87.2 386.8h0M83.1 332.3h0M86.2 364.5h0M81.3 375.8h0M82.7 386.7h0M83.9 344.8h0M85.3 378.9h0M88 352.5h0M84.2 334.1h0M78.1 381.4h0M69.7 325.7h0M75.5 335h0M79.7 344.7h0M80 353.9h0M86.2 383.4h0M78.5 352.8h0M88 356.2h0M81.2 359.9h0M77 332.3h0M84.8 341.8h0M83.1 357.1h0M84.3 332.9h0M83.9 331h0M85.3 352h0M69.8 343.5h0M84.8 385.3h0M83.5 367.3h0M75.6 338.5h0M55.7 351.2h0M84.4 358.5h0M77.8 382.1h0M86.6 383h0M85.4 374.8h0M62.1 365.7h0M67.7 366.3h0M86.7 332.5h0M87.7 384.7h0M87.4 386.4h0M84.7 379.1h0M87.1 387.9h0M79.3 383.9h0M86.4 359.8h0M72 345.9h0M79 345.8h0M76.2 333.7h0M87.1 386.8h0M81 359.3h0M82.8 342.5h0M87 351.2h0M84.2 367.2h0M86.3 376.2h0M81.8 357.5h0M70.3 369.2h0M78.8 381.8h0M80.4 379.6h0M73.5 324.2h0M86.2 343.6h0M86.5 375h0M87.6 368h0M87.6 351.8h0M81.9 366h0M79 375.2h0M85.4 371.3h0M88.4 340.5h0M87.7 385.2h0M76.2 336.2h0M83.9 367.1h0M87.3 388.3h0M82.8 376.6h0M87.2 337.9h0M88.3 372.8h0M77.8 342h0M87.6 349.4h0M82.1 352.6h0M66.5 335.5h0M81.4 342.4h0M83.3 358.5h0M75.4 350h0M84.8 387.3h0M76.5 368.2h0M84.1 375h0M82.2 367.4h0M74.7 351.4h0M82.2 342h0M84 360h0M77.8 343.8h0M78 331.6h0M82.2 357.6h0M86.8 378.5h0M84.1 362.4h0M70.9 380.8h0M85.1 347.3h0M83.7 338.4h0M87.1 347h0M84.1 358h0M88 370.4h0M76 342.2h0M82.1 365.9h0M88.1 352.6h0M83.9 347.4h0M81.2 366.7h0M72.6 377.8h0M64 372.3h0M61.8 347.3h0M83.9 332.2h0M82.9 361.1h0M88 346.1h0M80.6 375.7h0M87.5 369.2h0M67.5 330.6h0M83.6 386.4h0M74.9 375.3h0M78.4 359.1h0M63.1 369.1h0M76.4 343.4h0M88.3 361.1h0M85.8 350.9h0M63.6 343.4h0M83.2 355.1h0M86.2 365.7h0M87.5 350.7h0M87.9 363.2h0M86.9 360.3h0M88 387.8h0M80.9 345.6h0M71.7 344.5h0M87.3 356.4h0M80.7 379h0M87.3 378.7h0M82.8 342.1h0M78.9 354.6h0M87.8 350.9h0M82.9 380.5h0M81.1 375.6h0M85.6 366.3h0M77.8 381h0M84 377.7h0M79.9 338.1h0M86.1 349.5h0M83.7 378.4h0M86 361.2h0M75.9 351.4h0M88.4 347.6h0M81.8 365.8h0M86.3 367.3h0M79.4 373.3h0M87.3 339.9h0M84 385.3h0M71.5 378.4h0M85 355.3h0M80.1 332h0M87 359.9h0M72.3 358.8h0M78.8 361.4h0M78.8 326.8h0M85.3 347.7h0M85.2 337.1h0M77.4 333.8h0M72.6 350.5h0M65.5 371h0M81.9 384.2h0M81.7 348.5h0M85.9 343.1h0M84.3 379.7h0M86.8 359.3h0M84.7 386.4h0M85.6 331.3h0M83.5 349.9h0M84.2 385.4h0M81.2 377.5h0M87.4 357.3h0M79.8 385.4h0M66.1 376.6h0M87 374h0M76.2 341.7h0M78 363.4h0M69.9 376.3h0M63.7 373.1h0M87.2 348.4h0M77.2 347h0M86.2 339.6h0M82.9 378.6h0M87.7 332.6h0M88 380h0M85.1 336.5h0M74.9 334h0M80.8 385.8h0M78.2 377.1h0M65.9 324.1h0M87.9 350.4h0M86.3 384.6h0M72.5 360.5h0M85.8 359.7h0M87.9 369.2h0M80.4 334.8h0M87.4 339h0M87.6 380.5h0M85.3 381.5h0M87.7 355.1h0M84.5 380.2h0M82.9 382.6h0M79.7 326.8h0M83.6 366.9h0M84.5 370.7h0M84.4 380.7h0M85.7 351.2h0M83.4 385.2h0M87.2 342.4h0M85.1 341.1h0M81.1 352.2h0M85.1 357.9h0M84.3 361.5h0M66.3 373.8h0M86.6 337.5h0M68.4 334.5h0M73.4 379.4h0M78.7 380.6h0M74 363.9h0M83.3 360.6h0M86.7 359.9h0M73.3 360.3h0M84 370.4h0M86.8 376.3h0M74.5 324.6h0M84.8 375.3h0M85.3 338.9h0M86.1 381.1h0M85.5 385.1h0M87.2 379.1h0M80.4 330h0M86.1 375.5h0M81.7 385.7h0M87.7 360.2h0M83.7 371.1h0M84.3 387.2h0M86.1 381.4h0M86.3 386h0M75.5 383.5h0M84.3 381h0M86.7 347.4h0M63.6 325.2h0M85.4 360.6h0M84.1 385h0M84.2 355.3h0M84.5 343.7h0M83.9 374.5h0M71.2 351.6h0M86.2 336.9h0M83.4 355.3h0M83.6 337.6h0M78.4 362.8h0M85 345h0M74.5 350.8h0M72.7 355h0M84.3 373.4h0M86 382.4h0M68.8 351.9h0M87.8 380.5h0M84.2 341.9h0M73.6 339.5h0M85.8 367.8h0M65.9 360.1h0M80.4 384.4h0M83.4 361.5h0M70.1 323.4h0M77.8 369.2h0M72.7 327.6h0M87.8 369.1h0M82.3 373h0M86.3 345.4h0M86.6 360.7h0M88.3 367.2h0M62.9 373.5h0M87.6 338.7h0M69.6 355.2h0M85.8 375.1h0M78.3 353.8h0M83.9 349.6h0M87.6 371h0M72.3 327.7h0M83.3 342.9h0M71.9 355.2h0M87.3 384.9h0M79.9 369.6h0M82.7 385.8h0M65.9 365.8h0M80.7 352.2h0M85.1 379.4h0M82.1 371.7h0M87.8 382h0M88.1 339.5h0M86.7 336.4h0M81.1 328.4h0M83.6 376.4h0M87.8 357.3h0M79.4 347.4h0M70 378h0M80.5 346.5h0M66.7 367.8h0M68 378.5h0M81.6 371.3h0M82.8 380.2h0M84.7 371.8h0M83.7 367.9h0M86.5 381.9h0M83.6 327.8h0M74 377.5h0M80.7 380.5h0M85.4 329.5h0M85.3 384.4h0M82.1 355.5h0M83 330.6h0M82.9 370h0M86.6 359h0M78 358.7h0M84.6 377.1h0M74.2 322.4h0M81.7 346.8h0M85.4 382h0M88 357.7h0M69.4 342.9h0M79.9 334.8h0M84.4 366.9h0M86.1 342h0M79.5 358h0M76.9 329.5h0M88.1 380h0M83.6 347.8h0M86.3 367.2h0M80.1 372.4h0M80 383.8h0M84.4 353.5h0M73.2 356.3h0M80.1 349h0M80.5 363.2h0M85.5 383.4h0M71.8 337.6h0M80.4 342.9h0M85.5 381.2h0M82.6 363.5h0M80.4 334.2h0M84.6 370.3h0M79.1 332.6h0M82 355h0M71.4 326.8h0M88.1 334.2h0M87.7 361.5h0M83.1 328.4h0M86.4 386.9h0M64.1 355.3h0M83.7 366.7h0M85.9 387.3h0"/>
<path stroke="#e88c72" stroke-width="2.2" stroke-linecap="round" d="M110.8 377.5h0M110.1 328.3h0M108.4 372.7h0M107.1 357.2h0M107.5 383.6h0M119.7 357.4h0M118.3 371.2h0M107.5 358.9h0M112.8 377.5h0M110.2 358h0M110.1 372.8h0M109.6 383.1h0M107 386.6h0M116.1 371.5h0M112.5 380.5h0M118 377.1h0M115.3 358.2h0M119.3 342.4h0M106.5 387.2h0M108 386.6h0M117.2 374.6h0M112.5 332.4h0M112.9 329.4h0M112.1 367.4h0M126 360.4h0M110.8 366.6h0M110.7 373.3h0M123.8 346h0M112.9 360.9h0M122.7 345.2h0M106.7 338.9h0M107 385.3h0M108 370.9h0M110 331.5h0M107.3 354.6h0M110.2 382.1h0M119.8 365.6h0M117.4 362h0M112.5 333.6h0M111.9 369h0M106.7 366.2h0M111.1 374.4h0M111.1 385.6h0M108 364.5h0M110 348.8h0M107.8 376h0M113.5 371.9h0M107.3 356.1h0M108.7 357.3h0M125.2 350.6h0M114.9 332.3h0M114.9 367.2h0M121 370.4h0M107.7 363.2h0M107.1 357.5h0M110.7 378h0M113.8 380.3h0M110 375h0M121.4 369.1h0M109 349h0M108.4 341.7h0M107.1 385.9h0M106.5 360.9h0M109.9 359.9h0M109.9 337.1h0M107.7 382.6h0M108 341.6h0M115.4 377.5h0M106.4 331.8h0M125.1 360.7h0M110.5 385h0M110.3 380h0M112.6 378.7h0M110.9 371.5h0M110 331.8h0M110.4 329.7h0M113.3 374.8h0M108 342.7h0M114.5 377.3h0M115.4 369.8h0M110.9 335.2h0M119.9 371.2h0M107.2 377h0M111.4 330.3h0M112.1 344.5h0M115.7 361.1h0M109 343.3h0M111.6 336.2h0M109.8 371.3h0M107.2 358.6h0M108.5 373.7h0M110.2 347.1h0M112.6 363.1h0M112.1 353.2h0M119.6 352.1h0M116.6 371.5h0M116.7 379.2h0M115.5 380.4h0M111.5 374h0M107.4 348.2h0M107.2 352.4h0M106.9 380.2h0M109.1 358.2h0M112.2 368.9h0M117.3 378h0M107.6 369.9h0M111.5 351.6h0M118.2 366.1h0M111.9 349.2h0M107.4 371.5h0M109.6 356h0M110.5 381.4h0M107.6 373.5h0M106.9 346.6h0M118.6 349.2h0M107.8 358h0M106.6 380.2h0M108 357.2h0M111.1 358.8h0M107.4 363.6h0M113.8 338h0M108.9 365.8h0M117.5 377.4h0M111.4 382.2h0M115.2 350.3h0M106.8 387.2h0M121.7 364.5h0M111.1 356.3h0M109 383.9h0M113.4 369.5h0M109.4 342.7h0M121.4 365.4h0M108.6 345.1h0M109.6 336.1h0M108.9 385.7h0M108.2 336.8h0M111.1 329.4h0M115.7 350.2h0M107.5 368.7h0M106.5 373.9h0M107.7 334.4h0M107.3 372.8h0M106.5 383h0M112.8 366.2h0M110.2 340.8h0M112.8 375.9h0M113.8 349.7h0M111.2 361.2h0M119.7 355.7h0M106.8 342.1h0M112.2 373.8h0M114.4 334.6h0M113.5 361.8h0M115.9 378.1h0M106.7 369.8h0M110.4 352.7h0M112.2 359.9h0M108.9 347.7h0M110.8 377.9h0M111.1 363.9h0M114.9 348.7h0M114.2 359.6h0M112.4 372.3h0M110.8 328.2h0M107.1 368.4h0M109.5 348.6h0M107.6 352h0M107.1 333.1h0M106.9 355h0M113.9 357.4h0M108.1 371.4h0M118.5 361.5h0M110.9 330.7h0M110 341.4h0M111.4 339.8h0M111.7 380.5h0M107.8 376.2h0M107.8 357.8h0M109.3 370.4h0M106.5 331.9h0M110 378.4h0M112.3 381.7h0M107.3 334.4h0M112.3 368.9h0M107.2 349.4h0M107.9 373.4h0M108.2 355h0M107.9 386.2h0M116.6 358.4h0M107.1 386.3h0M119.5 359.3h0M110.7 334.8h0M106.5 385h0M107.7 350.9h0M107.1 360.1h0M114.9 365.1h0M112.3 383.3h0M110 369.5h0M112.5 367h0M112.3 335.5h0M120.9 347.6h0M113 331.6h0M109.4 386.4h0M115.2 367h0M108.6 333h0M109.2 382.4h0M119.1 376.3h0M106.7 351.5h0M107.4 349.6h0M106.4 376.2h0M109.1 354.6h0M113.8 350.1h0M107.6 340.4h0M106.7 367.8h0M106.7 346.9h0M109.9 365.8h0M121.2 366.9h0M112.1 348.8h0M106.8 346.7h0M108.7 348h0M114 369h0M109.1 367.9h0M107 359.9h0M113.4 332.1h0M109.6 359.3h0M111.9 344.5h0M112.3 331.5h0M116.4 334.6h0M109.6 359.4h0M107.4 362.9h0M110.3 370.4h0M121 345.1h0M115.7 369.6h0M111.1 337.8h0M109.1 357.3h0M107.6 334.3h0M111 364.4h0M117 370h0M110.5 367.1h0M118.7 359.8h0M122.1 348.5h0M107.1 358.6h0M110.1 381h0M117.7 344.3h0M125.5 358h0M107.3 354.1h0M116.2 370.5h0M114.1 361.3h0M109.1 330.1h0M112.9 331h0M114.5 341h0M107.7 347.8h0M107 346.8h0M112.7 366.4h0M111.1 330.3h0M112.6 371.9h0M124.3 351.6h0M108.4 368h0M108.7 366.3h0M116.2 365.6h0"/>
<circle cx="127.1" cy="299.7" r="1.1" fill="#e88c72"/>
<circle cx="113.6" cy="318.5" r="1.1" fill="#e88c72"/>
<circle cx="128" cy="323.9" r="1.1" fill="#e88c72"/>
<circle cx="129.8" cy="326.4" r="1.1" fill="#e88c72"/>
<circle cx="131.6" cy="336" r="1.1" fill="#e88c72"/>
<circle cx="131.6" cy="345.2" r="1.1" fill="#e88c72"/>
<circle cx="132.5" cy="339.9" r="1.1" fill="#e88c72"/>
<circle cx="129.8" cy="351.2" r="1.1" fill="#e88c72"/>
<circle cx="36.3" cy="322.1" r="1.1" fill="#6cc7d3"/>
<circle cx="70.4" cy="313.2" r="1.1" fill="#6cc7d3"/>
<circle cx="54.3" cy="322.1" r="1.1" fill="#6cc7d3"/>
<circle cx="60.6" cy="322.1" r="1.1" fill="#6cc7d3"/>
<circle cx="47.1" cy="336.3" r="1.1" fill="#6cc7d3"/>
<circle cx="42.6" cy="347" r="1.1" fill="#6cc7d3"/>
<circle cx="52.5" cy="345.2" r="1.1" fill="#6cc7d3"/>
<circle cx="49.8" cy="352.3" r="1.1" fill="#6cc7d3"/>
<circle cx="56.1" cy="360.5" r="1.1" fill="#6cc7d3"/>
<circle cx="65.1" cy="370.1" r="1.1" fill="#6cc7d3"/>
<circle cx="67.7" cy="375.4" r="1.1" fill="#6cc7d3"/>
<circle cx="62.4" cy="379" r="1.1" fill="#6cc7d3"/>
<circle cx="48.9" cy="338.1" r="1.1" fill="#6cc7d3"/>
<circle cx="52.5" cy="331" r="1.1" fill="#6cc7d3"/>
</g>
<line x1="31.6" y1="388.6" x2="136" y2="388.6" stroke="#c8c8c8" stroke-width="0.5"/>
<line x1="88.4" y1="296.5" x2="88.4" y2="393.2" stroke="#d0d0d0" stroke-width="0.5"/>
<line x1="106.4" y1="296.5" x2="106.4" y2="393.2" stroke="#d0d0d0" stroke-width="0.5"/>
<rect x="31.6" y="296.5" width="104.4" height="96.7" fill="none" stroke="#666" stroke-width="0.7"/>
<line x1="43.5" y1="393.2" x2="43.5" y2="394.7" stroke="#555" stroke-width="0.5"/>
<text x="43.5" y="398.6" font-size="4.6" text-anchor="middle" fill="#222" font-family='"Liberation Sans", sans-serif' >-6</text>
<line x1="61.5" y1="393.2" x2="61.5" y2="394.7" stroke="#555" stroke-width="0.5"/>
<text x="61.5" y="398.6" font-size="4.6" text-anchor="middle" fill="#222" font-family='"Liberation Sans", sans-serif' >-4</text>
<line x1="79.4" y1="393.2" x2="79.4" y2="394.7" stroke="#555" stroke-width="0.5"/>
<text x="79.4" y="398.6" font-size="4.6" text-anchor="middle" fill="#222" font-family='"Liberation Sans", sans-serif' >-2</text>
<line x1="97.4" y1="393.2" x2="97.4" y2="394.7" stroke="#555" stroke-width="0.5"/>
<text x="97.4" y="398.6" font-size="4.6" text-anchor="middle" fill="#222" font-family='"Liberation Sans", sans-serif' >0</text>
<line x1="115.4" y1="393.2" x2="115.4" y2="394.7" stroke="#555" stroke-width="0.5"/>
<text x="115.4" y="398.6" font-size="4.6" text-anchor="middle" fill="#222" font-family='"Liberation Sans", sans-serif' >2</text>
<line x1="133.4" y1="393.2" x2="133.4" y2="394.7" stroke="#555" stroke-width="0.5"/>
<text x="133.4" y="398.6" font-size="4.6" text-anchor="middle" fill="#222" font-family='"Liberation Sans", sans-serif' >4</text>
<line x1="30.1" y1="393.2" x2="31.6" y2="393.2" stroke="#555" stroke-width="0.5"/>
<text x="29.3" y="394.9" font-size="4.8" text-anchor="end" fill="#222" font-family='"Liberation Sans", sans-serif' >0</text>
<line x1="30.1" y1="382.5" x2="31.6" y2="382.5" stroke="#555" stroke-width="0.5"/>
<text x="29.3" y="384.2" font-size="4.8" text-anchor="end" fill="#222" font-family='"Liberation Sans", sans-serif' >3</text>
<line x1="30.1" y1="371.9" x2="31.6" y2="371.9" stroke="#555" stroke-width="0.5"/>
<text x="29.3" y="373.6" font-size="4.8" text-anchor="end" fill="#222" font-family='"Liberation Sans", sans-serif' >6</text>
<line x1="30.1" y1="361.2" x2="31.6" y2="361.2" stroke="#555" stroke-width="0.5"/>
<text x="29.3" y="362.9" font-size="4.8" text-anchor="end" fill="#222" font-family='"Liberation Sans", sans-serif' >9</text>
<line x1="30.1" y1="350.5" x2="31.6" y2="350.5" stroke="#555" stroke-width="0.5"/>
<text x="29.3" y="352.2" font-size="4.8" text-anchor="end" fill="#222" font-family='"Liberation Sans", sans-serif' >12</text>
<line x1="30.1" y1="339.9" x2="31.6" y2="339.9" stroke="#555" stroke-width="0.5"/>
<text x="29.3" y="341.6" font-size="4.8" text-anchor="end" fill="#222" font-family='"Liberation Sans", sans-serif' >15</text>
<line x1="30.1" y1="329.2" x2="31.6" y2="329.2" stroke="#555" stroke-width="0.5"/>
<text x="29.3" y="330.9" font-size="4.8" text-anchor="end" fill="#222" font-family='"Liberation Sans", sans-serif' >18</text>
<line x1="30.1" y1="318.5" x2="31.6" y2="318.5" stroke="#555" stroke-width="0.5"/>
<text x="29.3" y="320.2" font-size="4.8" text-anchor="end" fill="#222" font-family='"Liberation Sans", sans-serif' >21</text>
<line x1="30.1" y1="307.9" x2="31.6" y2="307.9" stroke="#555" stroke-width="0.5"/>
<text x="29.3" y="309.6" font-size="4.8" text-anchor="end" fill="#222" font-family='"Liberation Sans", sans-serif' >24</text>
<line x1="30.1" y1="297.2" x2="31.6" y2="297.2" stroke="#555" stroke-width="0.5"/>
<text x="29.3" y="298.9" font-size="4.8" text-anchor="end" fill="#222" font-family='"Liberation Sans", sans-serif' >27</text>
<text x="83.8" y="404.2" font-size="6.0" text-anchor="middle" fill="#222" font-family='"Liberation Sans", sans-serif'>log<tspan font-size="4" dy="1.5">2</tspan><tspan dy="-1.5">(Fold Change)</tspan></text>
<text x="83.8" y="411.5" font-size="5.8" text-anchor="middle" fill="#222" font-family='"Liberation Sans", sans-serif' >GSE13911|GSE19826|GSE79973</text>
<text transform="translate(22.1,344.9) rotate(-90)" font-size="6.2" text-anchor="middle" fill="#222" font-family='"Liberation Sans", sans-serif'>-log<tspan font-size="4" dy="1.5">10</tspan><tspan dy="-1.5">(Pvalue)</tspan></text>
<text x="159.3" y="8.8" font-size="10.4" text-anchor="start" fill="#111" font-family='"Liberation Sans", sans-serif' >B</text>
<text x="248.5" y="12" font-size="8.8" text-anchor="middle" fill="#111" font-family='"Liberation Sans", sans-serif' >Total</text>
<circle cx="223" cy="58.4" r="43" fill="#117f01" fill-opacity="0.5"/>
<circle cx="279.3" cy="57.6" r="43" fill="#57a4d3" fill-opacity="0.47"/>
<circle cx="250.8" cy="106" r="43.4" fill="#d95161" fill-opacity="0.5"/>
<text x="204.7" y="49.2" font-size="6.8" text-anchor="middle" fill="#111" font-weight="bold" font-family='"Liberation Sans", sans-serif' >710</text>
<text x="250.3" y="49.2" font-size="6.8" text-anchor="middle" fill="#111" font-weight="bold" font-family='"Liberation Sans", sans-serif' >61</text>
<text x="291.6" y="49.2" font-size="6.8" text-anchor="middle" fill="#111" font-weight="bold" font-family='"Liberation Sans", sans-serif' >125</text>
<text x="249.7" y="76.1" font-size="6.8" text-anchor="middle" fill="#111" font-weight="bold" font-family='"Liberation Sans", sans-serif' >202</text>
<text x="222.6" y="92.4" font-size="6.8" text-anchor="middle" fill="#111" font-weight="bold" font-family='"Liberation Sans", sans-serif' >263</text>
<text x="277.6" y="92.4" font-size="6.8" text-anchor="middle" fill="#111" font-weight="bold" font-family='"Liberation Sans", sans-serif' >89</text>
<text x="249.7" y="132.1" font-size="6.8" text-anchor="middle" fill="#111" font-weight="bold" font-family='"Liberation Sans", sans-serif' >778</text>
<text x="187.6" y="14.4" font-size="5.1" text-anchor="middle" fill="#9ccf96" font-family='"Liberation Sans", sans-serif' >GSE118916</text>
<text x="305.5" y="14.4" font-size="5.1" text-anchor="middle" fill="#a8d2ee" font-family='"Liberation Sans", sans-serif' >GSE26899</text>
<text x="247.6" y="157.3" font-size="5.1" text-anchor="middle" fill="#f2a4ae" font-family='"Liberation Sans", sans-serif' >GSE13911|GSE19826|GSE79973</text>
<text x="426" y="12" font-size="8.8" text-anchor="middle" fill="#111" font-family='"Liberation Sans", sans-serif' >Top 100</text>
<circle cx="397.4" cy="58.5" r="42.4" fill="#117f01" fill-opacity="0.5"/>
<circle cx="452.8" cy="58.2" r="42.6" fill="#57a4d3" fill-opacity="0.47"/>
<circle cx="425" cy="104.3" r="42.2" fill="#d95161" fill-opacity="0.5"/>
<text x="380" y="48.7" font-size="6.8" text-anchor="middle" fill="#111" font-weight="bold" font-family='"Liberation Sans", sans-serif' >78</text>
<text x="425.5" y="48.7" font-size="6.8" text-anchor="middle" fill="#111" font-weight="bold" font-family='"Liberation Sans", sans-serif' >7</text>
<text x="465.5" y="48.7" font-size="6.8" text-anchor="middle" fill="#111" font-weight="bold" font-family='"Liberation Sans", sans-serif' >67</text>
<text x="425.5" y="75" font-size="6.8" text-anchor="middle" fill="#111" font-weight="bold" font-family='"Liberation Sans", sans-serif' >6</text>
<text x="398.4" y="91.1" font-size="6.8" text-anchor="middle" fill="#111" font-weight="bold" font-family='"Liberation Sans", sans-serif' >9</text>
<text x="451" y="91.1" font-size="6.8" text-anchor="middle" fill="#111" font-weight="bold" font-family='"Liberation Sans", sans-serif' >20</text>
<text x="424.7" y="130.4" font-size="6.8" text-anchor="middle" fill="#111" font-weight="bold" font-family='"Liberation Sans", sans-serif' >65</text>
<text x="363.4" y="14.6" font-size="5.1" text-anchor="middle" fill="#9ccf96" font-family='"Liberation Sans", sans-serif' >GSE118916</text>
<text x="478.9" y="14.6" font-size="5.1" text-anchor="middle" fill="#a8d2ee" font-family='"Liberation Sans", sans-serif' >GSE26899</text>
<text x="422" y="155" font-size="5.1" text-anchor="middle" fill="#f2a4ae" font-family='"Liberation Sans", sans-serif' >GSE13911|GSE19826|GSE79973</text>
<text x="250.7" y="167.5" font-size="4.6" text-anchor="middle" fill="#111" font-style="italic" font-family='"Liberation Sans", sans-serif' >Size of each list</text>
<line x1="179" y1="200.5" x2="179" y2="167.5" stroke="#333" stroke-width="0.5"/>
<polygon points="177.8,170 180.2,170 179,167.5" fill="#333"/>
<line x1="179" y1="200.5" x2="326" y2="200.5" stroke="#333" stroke-width="0.5"/>
<polygon points="323.5,199.3 323.5,201.7 326,200.5" fill="#333"/>
<line x1="177.5" y1="176" x2="179" y2="176" stroke="#333" stroke-width="0.5"/>
<text x="176.5" y="177.3" font-size="3.8" text-anchor="end" fill="#222" font-family='"Liberation Sans", sans-serif' >1332</text>
<line x1="177.5" y1="188.2" x2="179" y2="188.2" stroke="#333" stroke-width="0.5"/>
<text x="176.5" y="189.5" font-size="3.8" text-anchor="end" fill="#222" font-family='"Liberation Sans", sans-serif' >666</text>
<line x1="177.5" y1="200.5" x2="179" y2="200.5" stroke="#333" stroke-width="0.5"/>
<text x="176.5" y="201.8" font-size="3.8" text-anchor="end" fill="#222" font-family='"Liberation Sans", sans-serif' >0</text>
<rect x="185.8" y="177.3" width="38.1" height="23.2" fill="#86bd80"/>
<text x="221.9" y="182.3" font-size="3.6" text-anchor="end" fill="#fff" font-family='"Liberation Sans", sans-serif' >1236</text>
<rect x="230.4" y="191.8" width="38.1" height="8.7" fill="#aed3ec"/>
<text x="266.5" y="196.8" font-size="3.6" text-anchor="end" fill="#fff" font-family='"Liberation Sans", sans-serif' >477</text>
<rect x="275" y="175.5" width="38" height="25" fill="#eda7af"/>
<text x="311" y="180.5" font-size="3.6" text-anchor="end" fill="#fff" font-family='"Liberation Sans", sans-serif' >1332</text>
<line x1="204.8" y1="200.5" x2="204.8" y2="201.8" stroke="#333" stroke-width="0.4"/>
<text x="204.8" y="205.8" font-size="3.6" text-anchor="middle" fill="#222" font-family='"Liberation Sans", sans-serif' >GSE118916</text>
<line x1="249.5" y1="200.5" x2="249.5" y2="201.8" stroke="#333" stroke-width="0.4"/>
<text x="249.5" y="210.3" font-size="3.6" text-anchor="middle" fill="#222" font-family='"Liberation Sans", sans-serif' >GSE26899</text>
<line x1="294" y1="200.5" x2="294" y2="201.8" stroke="#333" stroke-width="0.4"/>
<text x="294" y="205.8" font-size="3.6" text-anchor="middle" fill="#222" font-family='"Liberation Sans", sans-serif' >GSE13911|GSE19826|GSE79973</text>
<text x="250.7" y="219.5" font-size="4.85" text-anchor="middle" fill="#111" font-style="italic" font-family='"Liberation Sans", sans-serif' >Number of elements: specific (1) or shared by 2, 3, ... lists</text>
<rect x="182" y="224.6" width="12.7" height="7.1" fill="#e6d6e8"/>
<text x="188.3" y="229.4" font-size="3.6" text-anchor="middle" fill="#fff" font-family='"Liberation Sans", sans-serif' >202</text>
<rect x="195.5" y="224.6" width="25" height="7.1" fill="#d8c0dc"/>
<text x="208" y="229.4" font-size="3.6" text-anchor="middle" fill="#fff" font-family='"Liberation Sans", sans-serif' >413</text>
<rect x="221.8" y="224.6" width="101.9" height="7.1" fill="#b993c1"/>
<text x="272.8" y="229.4" font-size="3.6" text-anchor="middle" fill="#fff" font-family='"Liberation Sans", sans-serif' >1313</text>
<line x1="181" y1="233.4" x2="327" y2="233.4" stroke="#333" stroke-width="0.5"/>
<line x1="188" y1="233.4" x2="188" y2="234.7" stroke="#333" stroke-width="0.4"/>
<text x="188" y="240.3" font-size="3.6" text-anchor="middle" fill="#222" font-family='"Liberation Sans", sans-serif' >3</text>
<line x1="207.9" y1="233.4" x2="207.9" y2="234.7" stroke="#333" stroke-width="0.4"/>
<text x="207.9" y="240.3" font-size="3.6" text-anchor="middle" fill="#222" font-family='"Liberation Sans", sans-serif' >2</text>
<line x1="272.6" y1="233.4" x2="272.6" y2="234.7" stroke="#333" stroke-width="0.4"/>
<text x="272.6" y="240.3" font-size="3.6" text-anchor="middle" fill="#222" font-family='"Liberation Sans", sans-serif' >1</text>
<text x="423.3" y="165" font-size="4.6" text-anchor="middle" fill="#111" font-style="italic" font-family='"Liberation Sans", sans-serif' >Size of each list</text>
<line x1="354.2" y1="197.6" x2="354.2" y2="165" stroke="#333" stroke-width="0.5"/>
<polygon points="353,167.5 355.4,167.5 354.2,165" fill="#333"/>
<line x1="354.2" y1="197.6" x2="499.5" y2="197.6" stroke="#333" stroke-width="0.5"/>
<polygon points="497,196.4 497,198.8 499.5,197.6" fill="#333"/>
<line x1="352.7" y1="173.4" x2="354.2" y2="173.4" stroke="#333" stroke-width="0.5"/>
<text x="351.7" y="174.7" font-size="3.8" text-anchor="end" fill="#222" font-family='"Liberation Sans", sans-serif' >100</text>
<line x1="352.7" y1="185.5" x2="354.2" y2="185.5" stroke="#333" stroke-width="0.5"/>
<text x="351.7" y="186.8" font-size="3.8" text-anchor="end" fill="#222" font-family='"Liberation Sans", sans-serif' >50</text>
<line x1="352.7" y1="197.6" x2="354.2" y2="197.6" stroke="#333" stroke-width="0.5"/>
<text x="351.7" y="198.9" font-size="3.8" text-anchor="end" fill="#222" font-family='"Liberation Sans", sans-serif' >0</text>
<rect x="361" y="173.4" width="37.3" height="24.2" fill="#86bd80"/>
<text x="396.3" y="178.4" font-size="3.6" text-anchor="end" fill="#fff" font-family='"Liberation Sans", sans-serif' >100</text>
<rect x="405.4" y="173.4" width="37.1" height="24.2" fill="#aed3ec"/>
<text x="440.5" y="178.4" font-size="3.6" text-anchor="end" fill="#fff" font-family='"Liberation Sans", sans-serif' >100</text>
<rect x="449" y="173.4" width="37" height="24.2" fill="#eda7af"/>
<text x="484" y="178.4" font-size="3.6" text-anchor="end" fill="#fff" font-family='"Liberation Sans", sans-serif' >100</text>
<line x1="380" y1="197.6" x2="380" y2="198.9" stroke="#333" stroke-width="0.4"/>
<text x="380" y="203.9" font-size="3.6" text-anchor="middle" fill="#222" font-family='"Liberation Sans", sans-serif' >GSE118916</text>
<line x1="423.4" y1="197.6" x2="423.4" y2="198.9" stroke="#333" stroke-width="0.4"/>
<text x="423.4" y="206.8" font-size="3.6" text-anchor="middle" fill="#222" font-family='"Liberation Sans", sans-serif' >GSE26899</text>
<line x1="468" y1="197.6" x2="468" y2="198.9" stroke="#333" stroke-width="0.4"/>
<text x="468" y="203.9" font-size="3.6" text-anchor="middle" fill="#222" font-family='"Liberation Sans", sans-serif' >GSE13911|GSE19826|GSE79973</text>
<text x="426" y="216" font-size="4.85" text-anchor="middle" fill="#111" font-style="italic" font-family='"Liberation Sans", sans-serif' >Number of elements: specific (1) or shared by 2, 3, ... lists</text>
<rect x="357.6" y="221.3" width="3.2" height="6.7" fill="#e6d6e8"/>
<rect x="361" y="221.3" width="19" height="6.7" fill="#d8c0dc"/>
<text x="370.5" y="226" font-size="3.6" text-anchor="middle" fill="#fff" font-family='"Liberation Sans", sans-serif' >36</text>
<rect x="380.7" y="221.3" width="116.3" height="6.7" fill="#b993c1"/>
<text x="438.9" y="226" font-size="3.6" text-anchor="middle" fill="#fff" font-family='"Liberation Sans", sans-serif' >218</text>
<line x1="353.5" y1="230" x2="500" y2="230" stroke="#333" stroke-width="0.5"/>
<line x1="361.5" y1="230" x2="361.5" y2="231.3" stroke="#333" stroke-width="0.4"/>
<text x="361.5" y="235.8" font-size="3.6" text-anchor="middle" fill="#222" font-family='"Liberation Sans", sans-serif' >3 (6)</text>
<line x1="370.8" y1="230" x2="370.8" y2="231.3" stroke="#333" stroke-width="0.4"/>
<text x="370.8" y="240.8" font-size="3.6" text-anchor="middle" fill="#222" font-family='"Liberation Sans", sans-serif' >2</text>
<line x1="439" y1="230" x2="439" y2="231.3" stroke="#333" stroke-width="0.4"/>
<text x="439" y="235.8" font-size="3.6" text-anchor="middle" fill="#222" font-family='"Liberation Sans", sans-serif' >1</text>
<text x="171.5" y="267.5" font-size="10.5" text-anchor="start" fill="#111" font-family='"Liberation Sans", sans-serif' >C</text>
<path d="M276.5,417.2A74.25,74.25 0 0 1 275.2,417.2L275.3,411.4A68.45,68.45 0 0 0 276.5,411.4Z" fill="#010102" stroke="#010102" stroke-width="0.9"/>
<path d="M275.2,417.2A74.25,74.25 0 0 1 273.9,417.2L274.1,411.4A68.45,68.45 0 0 0 275.3,411.4Z" fill="#020206" stroke="#020206" stroke-width="0.9"/>
<path d="M273.9,417.2A74.25,74.25 0 0 1 272.6,417.1L272.9,411.4A68.45,68.45 0 0 0 274.1,411.4Z" fill="#04030a" stroke="#04030a" stroke-width="0.9"/>
<path d="M272.6,417.1A74.25,74.25 0 0 1 271.3,417.1L271.7,411.3A68.45,68.45 0 0 0 272.9,411.4Z" fill="#06050e" stroke="#06050e" stroke-width="0.9"/>
<path d="M271.3,417.1A74.25,74.25 0 0 1 270,417L270.5,411.2A68.45,68.45 0 0 0 271.7,411.3Z" fill="#080612" stroke="#080612" stroke-width="0.9"/>
<path d="M270,417A74.25,74.25 0 0 1 268.7,416.8L269.3,411.1A68.45,68.45 0 0 0 270.5,411.2Z" fill="#090716" stroke="#090716" stroke-width="0.9"/>
<path d="M268.7,416.8A74.25,74.25 0 0 1 267.5,416.7L268.2,410.9A68.45,68.45 0 0 0 269.3,411.1Z" fill="#0b091a" stroke="#0b091a" stroke-width="0.9"/>
<path d="M267.5,416.7A74.25,74.25 0 0 1 266.2,416.5L267,410.8A68.45,68.45 0 0 0 268.2,410.9Z" fill="#0c0a1e" stroke="#0c0a1e" stroke-width="0.9"/>
<path d="M266.2,416.5A74.25,74.25 0 0 1 264.9,416.3L265.8,410.6A68.45,68.45 0 0 0 267,410.8Z" fill="#0e0b22" stroke="#0e0b22" stroke-width="0.9"/>
<path d="M264.9,416.3A74.25,74.25 0 0 1 263.6,416.1L264.6,410.4A68.45,68.45 0 0 0 265.8,410.6Z" fill="#100d26" stroke="#100d26" stroke-width="0.9"/>
<path d="M263.6,416.1A74.25,74.25 0 0 1 262.3,415.9L263.4,410.2A68.45,68.45 0 0 0 264.6,410.4Z" fill="#120e2a" stroke="#120e2a" stroke-width="0.9"/>
<path d="M262.3,415.9A74.25,74.25 0 0 1 261.1,415.6L262.3,410A68.45,68.45 0 0 0 263.4,410.2Z" fill="#130f2e" stroke="#130f2e" stroke-width="0.9"/>
<path d="M261.1,415.6A74.25,74.25 0 0 1 259.8,415.3L261.1,409.7A68.45,68.45 0 0 0 262.3,410Z" fill="#151132" stroke="#151132" stroke-width="0.9"/>
<path d="M259.8,415.3A74.25,74.25 0 0 1 258.5,415L259.9,409.4A68.45,68.45 0 0 0 261.1,409.7Z" fill="#161236" stroke="#161236" stroke-width="0.9"/>
<path d="M258.5,415A74.25,74.25 0 0 1 257.3,414.7L258.8,409.1A68.45,68.45 0 0 0 259.9,409.4Z" fill="#18133a" stroke="#18133a" stroke-width="0.9"/>
<path d="M257.3,414.7A74.25,74.25 0 0 1 256,414.4L257.6,408.8A68.45,68.45 0 0 0 258.8,409.1Z" fill="#1a143e" stroke="#1a143e" stroke-width="0.9"/>
<path d="M256,414.4A74.25,74.25 0 0 1 254.8,414L256.5,408.5A68.45,68.45 0 0 0 257.6,408.8Z" fill="#1c1440" stroke="#1c1440" stroke-width="0.9"/>
<path d="M254.8,414A74.25,74.25 0 0 1 253.6,413.6L255.3,408.1A68.45,68.45 0 0 0 256.5,408.5Z" fill="#1d1544" stroke="#1d1544" stroke-width="0.9"/>
<path d="M253.6,413.6A74.25,74.25 0 0 1 252.3,413.2L254.2,407.7A68.45,68.45 0 0 0 255.3,408.1Z" fill="#1f1546" stroke="#1f1546" stroke-width="0.9"/>
<path d="M252.3,413.2A74.25,74.25 0 0 1 251.1,412.8L253.1,407.3A68.45,68.45 0 0 0 254.2,407.7Z" fill="#21154a" stroke="#21154a" stroke-width="0.9"/>
<path d="M251.1,412.8A74.25,74.25 0 0 1 249.9,412.3L252,406.9A68.45,68.45 0 0 0 253.1,407.3Z" fill="#23154c" stroke="#23154c" stroke-width="0.9"/>
<path d="M249.9,412.3A74.25,74.25 0 0 1 248.7,411.8L250.9,406.5A68.45,68.45 0 0 0 252,406.9Z" fill="#241650" stroke="#241650" stroke-width="0.9"/>
<path d="M248.7,411.8A74.25,74.25 0 0 1 247.5,411.3L249.8,406A68.45,68.45 0 0 0 250.9,406.5Z" fill="#261652" stroke="#261652" stroke-width="0.9"/>
<path d="M247.5,411.3A74.25,74.25 0 0 1 246.3,410.8L248.7,405.5A68.45,68.45 0 0 0 249.8,406Z" fill="#281656" stroke="#281656" stroke-width="0.9"/>
<path d="M246.3,410.8A74.25,74.25 0 0 1 245.1,410.3L247.6,405A68.45,68.45 0 0 0 248.7,405.5Z" fill="#2a1658" stroke="#2a1658" stroke-width="0.9"/>
<path d="M245.1,410.3A74.25,74.25 0 0 1 244,409.7L246.5,404.5A68.45,68.45 0 0 0 247.6,405Z" fill="#2b175c" stroke="#2b175c" stroke-width="0.9"/>
<path d="M244,409.7A74.25,74.25 0 0 1 242.8,409.2L245.4,404A68.45,68.45 0 0 0 246.5,404.5Z" fill="#2d175e" stroke="#2d175e" stroke-width="0.9"/>
<path d="M242.8,409.2A74.25,74.25 0 0 1 241.6,408.6L244.4,403.4A68.45,68.45 0 0 0 245.4,404Z" fill="#2f1762" stroke="#2f1762" stroke-width="0.9"/>
<path d="M241.6,408.6A74.25,74.25 0 0 1 240.5,407.9L243.3,402.9A68.45,68.45 0 0 0 244.4,403.4Z" fill="#311764" stroke="#311764" stroke-width="0.9"/>
<path d="M240.5,407.9A74.25,74.25 0 0 1 239.4,407.3L242.3,402.3A68.45,68.45 0 0 0 243.3,402.9Z" fill="#321868" stroke="#321868" stroke-width="0.9"/>
<path d="M239.4,407.3A74.25,74.25 0 0 1 238.3,406.6L241.2,401.7A68.45,68.45 0 0 0 242.3,402.3Z" fill="#34186a" stroke="#34186a" stroke-width="0.9"/>
<path d="M238.3,406.6A74.25,74.25 0 0 1 237.2,406L240.2,401A68.45,68.45 0 0 0 241.2,401.7Z" fill="#36186e" stroke="#36186e" stroke-width="0.9"/>
<path d="M237.2,406A74.25,74.25 0 0 1 236.1,405.3L239.2,400.4A68.45,68.45 0 0 0 240.2,401Z" fill="#381870" stroke="#381870" stroke-width="0.9"/>
<path d="M236.1,405.3A74.25,74.25 0 0 1 235,404.6L238.2,399.7A68.45,68.45 0 0 0 239.2,400.4Z" fill="#391974" stroke="#391974" stroke-width="0.9"/>
<path d="M235,404.6A74.25,74.25 0 0 1 233.9,403.8L237.2,399.1A68.45,68.45 0 0 0 238.2,399.7Z" fill="#3b1976" stroke="#3b1976" stroke-width="0.9"/>
<path d="M233.9,403.8A74.25,74.25 0 0 1 232.9,403.1L236.3,398.4A68.45,68.45 0 0 0 237.2,399.1Z" fill="#3d1979" stroke="#3d1979" stroke-width="0.9"/>
<path d="M232.9,403.1A74.25,74.25 0 0 1 231.8,402.3L235.3,397.7A68.45,68.45 0 0 0 236.3,398.4Z" fill="#401a7a" stroke="#401a7a" stroke-width="0.9"/>
<path d="M231.8,402.3A74.25,74.25 0 0 1 230.8,401.5L234.4,396.9A68.45,68.45 0 0 0 235.3,397.7Z" fill="#421a7c" stroke="#421a7c" stroke-width="0.9"/>
<path d="M230.8,401.5A74.25,74.25 0 0 1 229.8,400.7L233.4,396.2A68.45,68.45 0 0 0 234.4,396.9Z" fill="#451b7e" stroke="#451b7e" stroke-width="0.9"/>
<path d="M229.8,400.7A74.25,74.25 0 0 1 228.8,399.9L232.5,395.4A68.45,68.45 0 0 0 233.4,396.2Z" fill="#481c7f" stroke="#481c7f" stroke-width="0.9"/>
<path d="M228.8,399.9A74.25,74.25 0 0 1 227.8,399L231.6,394.7A68.45,68.45 0 0 0 232.5,395.4Z" fill="#4a1c81" stroke="#4a1c81" stroke-width="0.9"/>
<path d="M227.8,399A74.25,74.25 0 0 1 226.8,398.2L230.7,393.9A68.45,68.45 0 0 0 231.6,394.7Z" fill="#4d1d82" stroke="#4d1d82" stroke-width="0.9"/>
<path d="M226.8,398.2A74.25,74.25 0 0 1 225.9,397.3L229.8,393.1A68.45,68.45 0 0 0 230.7,393.9Z" fill="#501e84" stroke="#501e84" stroke-width="0.9"/>
<path d="M225.9,397.3A74.25,74.25 0 0 1 224.9,396.4L229,392.2A68.45,68.45 0 0 0 229.8,393.1Z" fill="#521e86" stroke="#521e86" stroke-width="0.9"/>
<path d="M224.9,396.4A74.25,74.25 0 0 1 224,395.5L228.1,391.4A68.45,68.45 0 0 0 229,392.2Z" fill="#551f87" stroke="#551f87" stroke-width="0.9"/>
<path d="M224,395.5A74.25,74.25 0 0 1 223.1,394.6L227.3,390.5A68.45,68.45 0 0 0 228.1,391.4Z" fill="#571f89" stroke="#571f89" stroke-width="0.9"/>
<path d="M223.1,394.6A74.25,74.25 0 0 1 222.2,393.6L226.4,389.7A68.45,68.45 0 0 0 227.3,390.5Z" fill="#5a208a" stroke="#5a208a" stroke-width="0.9"/>
<path d="M222.2,393.6A74.25,74.25 0 0 1 221.3,392.7L225.6,388.8A68.45,68.45 0 0 0 226.4,389.7Z" fill="#5c208c" stroke="#5c208c" stroke-width="0.9"/>
<path d="M221.3,392.7A74.25,74.25 0 0 1 220.5,391.7L224.8,387.9A68.45,68.45 0 0 0 225.6,388.8Z" fill="#5f218e" stroke="#5f218e" stroke-width="0.9"/>
<path d="M220.5,391.7A74.25,74.25 0 0 1 219.6,390.7L224.1,387A68.45,68.45 0 0 0 224.8,387.9Z" fill="#62228f" stroke="#62228f" stroke-width="0.9"/>
<path d="M219.6,390.7A74.25,74.25 0 0 1 218.8,389.7L223.3,386.1A68.45,68.45 0 0 0 224.1,387Z" fill="#642291" stroke="#642291" stroke-width="0.9"/>
<path d="M218.8,389.7A74.25,74.25 0 0 1 218,388.7L222.6,385.1A68.45,68.45 0 0 0 223.3,386.1Z" fill="#672392" stroke="#672392" stroke-width="0.9"/>
<path d="M218,388.7A74.25,74.25 0 0 1 217.2,387.7L221.8,384.2A68.45,68.45 0 0 0 222.6,385.1Z" fill="#6a2494" stroke="#6a2494" stroke-width="0.9"/>
<path d="M217.2,387.7A74.25,74.25 0 0 1 216.4,386.6L221.1,383.2A68.45,68.45 0 0 0 221.8,384.2Z" fill="#6c2496" stroke="#6c2496" stroke-width="0.9"/>
<path d="M216.4,386.6A74.25,74.25 0 0 1 215.7,385.6L220.4,382.3A68.45,68.45 0 0 0 221.1,383.2Z" fill="#6f2597" stroke="#6f2597" stroke-width="0.9"/>
<path d="M215.7,385.6A74.25,74.25 0 0 1 214.9,384.5L219.8,381.3A68.45,68.45 0 0 0 220.4,382.3Z" fill="#712599" stroke="#712599" stroke-width="0.9"/>
<path d="M214.9,384.5A74.25,74.25 0 0 1 214.2,383.4L219.1,380.3A68.45,68.45 0 0 0 219.8,381.3Z" fill="#74269a" stroke="#74269a" stroke-width="0.9"/>
<path d="M214.2,383.4A74.25,74.25 0 0 1 213.5,382.3L218.5,379.3A68.45,68.45 0 0 0 219.1,380.3Z" fill="#76269c" stroke="#76269c" stroke-width="0.9"/>
<path d="M213.5,382.3A74.25,74.25 0 0 1 212.9,381.2L217.8,378.3A68.45,68.45 0 0 0 218.5,379.3Z" fill="#79279e" stroke="#79279e" stroke-width="0.9"/>
<path d="M212.9,381.2A74.25,74.25 0 0 1 212.2,380.1L217.2,377.2A68.45,68.45 0 0 0 217.8,378.3Z" fill="#7c289f" stroke="#7c289f" stroke-width="0.9"/>
<path d="M212.2,380.1A74.25,74.25 0 0 1 211.6,379L216.6,376.2A68.45,68.45 0 0 0 217.2,377.2Z" fill="#7e28a0" stroke="#7e28a0" stroke-width="0.9"/>
<path d="M211.6,379A74.25,74.25 0 0 1 210.9,377.9L216.1,375.1A68.45,68.45 0 0 0 216.6,376.2Z" fill="#81299f" stroke="#81299f" stroke-width="0.9"/>
<path d="M210.9,377.9A74.25,74.25 0 0 1 210.3,376.7L215.5,374.1A68.45,68.45 0 0 0 216.1,375.1Z" fill="#842a9e" stroke="#842a9e" stroke-width="0.9"/>
<path d="M210.3,376.7A74.25,74.25 0 0 1 209.8,375.5L215,373A68.45,68.45 0 0 0 215.5,374.1Z" fill="#872a9d" stroke="#872a9d" stroke-width="0.9"/>
<path d="M209.8,375.5A74.25,74.25 0 0 1 209.2,374.4L214.5,371.9A68.45,68.45 0 0 0 215,373Z" fill="#8a2b9c" stroke="#8a2b9c" stroke-width="0.9"/>
<path d="M209.2,374.4A74.25,74.25 0 0 1 208.7,373.2L214,370.8A68.45,68.45 0 0 0 214.5,371.9Z" fill="#8c2b9c" stroke="#8c2b9c" stroke-width="0.9"/>
<path d="M208.7,373.2A74.25,74.25 0 0 1 208.2,372L213.5,369.7A68.45,68.45 0 0 0 214,370.8Z" fill="#8f2c9b" stroke="#8f2c9b" stroke-width="0.9"/>
<path d="M208.2,372A74.25,74.25 0 0 1 207.7,370.8L213,368.6A68.45,68.45 0 0 0 213.5,369.7Z" fill="#922c9a" stroke="#922c9a" stroke-width="0.9"/>
<path d="M207.7,370.8A74.25,74.25 0 0 1 207.2,369.6L212.6,367.5A68.45,68.45 0 0 0 213,368.6Z" fill="#952d99" stroke="#952d99" stroke-width="0.9"/>
<path d="M207.2,369.6A74.25,74.25 0 0 1 206.7,368.4L212.2,366.4A68.45,68.45 0 0 0 212.6,367.5Z" fill="#982e98" stroke="#982e98" stroke-width="0.9"/>
<path d="M206.7,368.4A74.25,74.25 0 0 1 206.3,367.2L211.8,365.3A68.45,68.45 0 0 0 212.2,366.4Z" fill="#9a2e98" stroke="#9a2e98" stroke-width="0.9"/>
<path d="M206.3,367.2A74.25,74.25 0 0 1 205.9,365.9L211.4,364.2A68.45,68.45 0 0 0 211.8,365.3Z" fill="#9d2f97" stroke="#9d2f97" stroke-width="0.9"/>
<path d="M205.9,365.9A74.25,74.25 0 0 1 205.5,364.7L211,363A68.45,68.45 0 0 0 211.4,364.2Z" fill="#a03096" stroke="#a03096" stroke-width="0.9"/>
<path d="M205.5,364.7A74.25,74.25 0 0 1 205.1,363.5L210.7,361.9A68.45,68.45 0 0 0 211,363Z" fill="#a33095" stroke="#a33095" stroke-width="0.9"/>
<path d="M205.1,363.5A74.25,74.25 0 0 1 204.8,362.2L210.4,360.7A68.45,68.45 0 0 0 210.7,361.9Z" fill="#a63194" stroke="#a63194" stroke-width="0.9"/>
<path d="M204.8,362.2A74.25,74.25 0 0 1 204.5,361L210.1,359.6A68.45,68.45 0 0 0 210.4,360.7Z" fill="#a83194" stroke="#a83194" stroke-width="0.9"/>
<path d="M204.5,361A74.25,74.25 0 0 1 204.2,359.7L209.8,358.4A68.45,68.45 0 0 0 210.1,359.6Z" fill="#ab3293" stroke="#ab3293" stroke-width="0.9"/>
<path d="M204.2,359.7A74.25,74.25 0 0 1 203.9,358.4L209.5,357.2A68.45,68.45 0 0 0 209.8,358.4Z" fill="#ae3292" stroke="#ae3292" stroke-width="0.9"/>
<path d="M203.9,358.4A74.25,74.25 0 0 1 203.6,357.2L209.3,356.1A68.45,68.45 0 0 0 209.5,357.2Z" fill="#b13391" stroke="#b13391" stroke-width="0.9"/>
<path d="M203.6,357.2A74.25,74.25 0 0 1 203.4,355.9L209.1,354.9A68.45,68.45 0 0 0 209.3,356.1Z" fill="#b43490" stroke="#b43490" stroke-width="0.9"/>
<path d="M203.4,355.9A74.25,74.25 0 0 1 203.2,354.6L208.9,353.7A68.45,68.45 0 0 0 209.1,354.9Z" fill="#b63490" stroke="#b63490" stroke-width="0.9"/>
<path d="M203.2,354.6A74.25,74.25 0 0 1 203,353.3L208.7,352.5A68.45,68.45 0 0 0 208.9,353.7Z" fill="#b9358f" stroke="#b9358f" stroke-width="0.9"/>
<path d="M203,353.3A74.25,74.25 0 0 1 202.8,352L208.6,351.3A68.45,68.45 0 0 0 208.7,352.5Z" fill="#bc368e" stroke="#bc368e" stroke-width="0.9"/>
<path d="M202.8,352A74.25,74.25 0 0 1 202.7,350.8L208.4,350.2A68.45,68.45 0 0 0 208.6,351.3Z" fill="#bf368d" stroke="#bf368d" stroke-width="0.9"/>
<path d="M202.7,350.8A74.25,74.25 0 0 1 202.5,349.5L208.3,349A68.45,68.45 0 0 0 208.4,350.2Z" fill="#c2378c" stroke="#c2378c" stroke-width="0.9"/>
<path d="M202.5,349.5A74.25,74.25 0 0 1 202.4,348.2L208.2,347.8A68.45,68.45 0 0 0 208.3,349Z" fill="#c4388b" stroke="#c4388b" stroke-width="0.9"/>
<path d="M202.4,348.2A74.25,74.25 0 0 1 202.4,346.9L208.1,346.6A68.45,68.45 0 0 0 208.2,347.8Z" fill="#c5388a" stroke="#c5388a" stroke-width="0.9"/>
<path d="M202.4,346.9A74.25,74.25 0 0 1 202.3,345.6L208.1,345.4A68.45,68.45 0 0 0 208.1,346.6Z" fill="#c63a89" stroke="#c63a89" stroke-width="0.9"/>
<path d="M202.3,345.6A74.25,74.25 0 0 1 202.3,344.3L208.1,344.2A68.45,68.45 0 0 0 208.1,345.4Z" fill="#c83a88" stroke="#c83a88" stroke-width="0.9"/>
<path d="M202.3,344.3A74.25,74.25 0 0 1 202.2,343L208.1,343A68.45,68.45 0 0 0 208.1,344.2Z" fill="#c93c87" stroke="#c93c87" stroke-width="0.9"/>
<path d="M202.2,343A74.25,74.25 0 0 1 202.3,341.7L208.1,341.8A68.45,68.45 0 0 0 208.1,343Z" fill="#cb3c85" stroke="#cb3c85" stroke-width="0.9"/>
<path d="M202.3,341.7A74.25,74.25 0 0 1 202.3,340.4L208.1,340.6A68.45,68.45 0 0 0 208.1,341.8Z" fill="#cc3e84" stroke="#cc3e84" stroke-width="0.9"/>
<path d="M202.3,340.4A74.25,74.25 0 0 1 202.4,339.1L208.1,339.4A68.45,68.45 0 0 0 208.1,340.6Z" fill="#ce3e83" stroke="#ce3e83" stroke-width="0.9"/>
<path d="M202.4,339.1A74.25,74.25 0 0 1 202.4,337.8L208.2,338.2A68.45,68.45 0 0 0 208.1,339.4Z" fill="#cf4082" stroke="#cf4082" stroke-width="0.9"/>
<path d="M202.4,337.8A74.25,74.25 0 0 1 202.5,336.5L208.3,337A68.45,68.45 0 0 0 208.2,338.2Z" fill="#d04081" stroke="#d04081" stroke-width="0.9"/>
<path d="M202.5,336.5A74.25,74.25 0 0 1 202.7,335.2L208.4,335.8A68.45,68.45 0 0 0 208.3,337Z" fill="#d2427f" stroke="#d2427f" stroke-width="0.9"/>
<path d="M202.7,335.2A74.25,74.25 0 0 1 202.8,334L208.6,334.7A68.45,68.45 0 0 0 208.4,335.8Z" fill="#d3427e" stroke="#d3427e" stroke-width="0.9"/>
<path d="M202.8,334A74.25,74.25 0 0 1 203,332.7L208.7,333.5A68.45,68.45 0 0 0 208.6,334.7Z" fill="#d4447d" stroke="#d4447d" stroke-width="0.9"/>
<path d="M203,332.7A74.25,74.25 0 0 1 203.2,331.4L208.9,332.3A68.45,68.45 0 0 0 208.7,333.5Z" fill="#d6447c" stroke="#d6447c" stroke-width="0.9"/>
<path d="M203.2,331.4A74.25,74.25 0 0 1 203.4,330.1L209.1,331.1A68.45,68.45 0 0 0 208.9,332.3Z" fill="#d7467b" stroke="#d7467b" stroke-width="0.9"/>
<path d="M203.4,330.1A74.25,74.25 0 0 1 203.6,328.8L209.3,329.9A68.45,68.45 0 0 0 209.1,331.1Z" fill="#d94679" stroke="#d94679" stroke-width="0.9"/>
<path d="M203.6,328.8A74.25,74.25 0 0 1 203.9,327.6L209.5,328.8A68.45,68.45 0 0 0 209.3,329.9Z" fill="#da4878" stroke="#da4878" stroke-width="0.9"/>
<path d="M203.9,327.6A74.25,74.25 0 0 1 204.2,326.3L209.8,327.6A68.45,68.45 0 0 0 209.5,328.8Z" fill="#dc4877" stroke="#dc4877" stroke-width="0.9"/>
<path d="M204.2,326.3A74.25,74.25 0 0 1 204.5,325L210.1,326.4A68.45,68.45 0 0 0 209.8,327.6Z" fill="#dd4a76" stroke="#dd4a76" stroke-width="0.9"/>
<path d="M204.5,325A74.25,74.25 0 0 1 204.8,323.8L210.4,325.3A68.45,68.45 0 0 0 210.1,326.4Z" fill="#de4a75" stroke="#de4a75" stroke-width="0.9"/>
<path d="M204.8,323.8A74.25,74.25 0 0 1 205.1,322.5L210.7,324.1A68.45,68.45 0 0 0 210.4,325.3Z" fill="#e04c73" stroke="#e04c73" stroke-width="0.9"/>
<path d="M205.1,322.5A74.25,74.25 0 0 1 205.5,321.3L211,323A68.45,68.45 0 0 0 210.7,324.1Z" fill="#e14c72" stroke="#e14c72" stroke-width="0.9"/>
<path d="M205.5,321.3A74.25,74.25 0 0 1 205.9,320.1L211.4,321.8A68.45,68.45 0 0 0 211,323Z" fill="#e24e71" stroke="#e24e71" stroke-width="0.9"/>
<path d="M205.9,320.1A74.25,74.25 0 0 1 206.3,318.8L211.8,320.7A68.45,68.45 0 0 0 211.4,321.8Z" fill="#e44e70" stroke="#e44e70" stroke-width="0.9"/>
<path d="M206.3,318.8A74.25,74.25 0 0 1 206.7,317.6L212.2,319.6A68.45,68.45 0 0 0 211.8,320.7Z" fill="#e5506f" stroke="#e5506f" stroke-width="0.9"/>
<path d="M206.7,317.6A74.25,74.25 0 0 1 207.2,316.4L212.6,318.5A68.45,68.45 0 0 0 212.2,319.6Z" fill="#e6516e" stroke="#e6516e" stroke-width="0.9"/>
<path d="M207.2,316.4A74.25,74.25 0 0 1 207.7,315.2L213,317.4A68.45,68.45 0 0 0 212.6,318.5Z" fill="#e7536e" stroke="#e7536e" stroke-width="0.9"/>
<path d="M207.7,315.2A74.25,74.25 0 0 1 208.2,314L213.5,316.3A68.45,68.45 0 0 0 213,317.4Z" fill="#e7556e" stroke="#e7556e" stroke-width="0.9"/>
<path d="M208.2,314A74.25,74.25 0 0 1 208.7,312.8L214,315.2A68.45,68.45 0 0 0 213.5,316.3Z" fill="#e7576e" stroke="#e7576e" stroke-width="0.9"/>
<path d="M208.7,312.8A74.25,74.25 0 0 1 209.2,311.6L214.5,314.1A68.45,68.45 0 0 0 214,315.2Z" fill="#e8596e" stroke="#e8596e" stroke-width="0.9"/>
<path d="M209.2,311.6A74.25,74.25 0 0 1 209.8,310.5L215,313A68.45,68.45 0 0 0 214.5,314.1Z" fill="#e85b6e" stroke="#e85b6e" stroke-width="0.9"/>
<path d="M209.8,310.5A74.25,74.25 0 0 1 210.3,309.3L215.5,311.9A68.45,68.45 0 0 0 215,313Z" fill="#e95d6e" stroke="#e95d6e" stroke-width="0.9"/>
<path d="M210.3,309.3A74.25,74.25 0 0 1 210.9,308.1L216.1,310.9A68.45,68.45 0 0 0 215.5,311.9Z" fill="#e95f6e" stroke="#e95f6e" stroke-width="0.9"/>
<path d="M210.9,308.1A74.25,74.25 0 0 1 211.6,307L216.6,309.8A68.45,68.45 0 0 0 216.1,310.9Z" fill="#e9616e" stroke="#e9616e" stroke-width="0.9"/>
<path d="M211.6,307A74.25,74.25 0 0 1 212.2,305.9L217.2,308.8A68.45,68.45 0 0 0 216.6,309.8Z" fill="#ea636e" stroke="#ea636e" stroke-width="0.9"/>
<path d="M212.2,305.9A74.25,74.25 0 0 1 212.9,304.8L217.8,307.7A68.45,68.45 0 0 0 217.2,308.8Z" fill="#ea656e" stroke="#ea656e" stroke-width="0.9"/>
<path d="M212.9,304.8A74.25,74.25 0 0 1 213.5,303.7L218.5,306.7A68.45,68.45 0 0 0 217.8,307.7Z" fill="#eb676e" stroke="#eb676e" stroke-width="0.9"/>
<path d="M213.5,303.7A74.25,74.25 0 0 1 214.2,302.6L219.1,305.7A68.45,68.45 0 0 0 218.5,306.7Z" fill="#eb696e" stroke="#eb696e" stroke-width="0.9"/>
<path d="M214.2,302.6A74.25,74.25 0 0 1 214.9,301.5L219.8,304.7A68.45,68.45 0 0 0 219.1,305.7Z" fill="#eb6b6e" stroke="#eb6b6e" stroke-width="0.9"/>
<path d="M214.9,301.5A74.25,74.25 0 0 1 215.7,300.4L220.4,303.7A68.45,68.45 0 0 0 219.8,304.7Z" fill="#ec6d6e" stroke="#ec6d6e" stroke-width="0.9"/>
<path d="M215.7,300.4A74.25,74.25 0 0 1 216.4,299.4L221.1,302.8A68.45,68.45 0 0 0 220.4,303.7Z" fill="#ec6f6e" stroke="#ec6f6e" stroke-width="0.9"/>
<path d="M216.4,299.4A74.25,74.25 0 0 1 217.2,298.3L221.8,301.8A68.45,68.45 0 0 0 221.1,302.8Z" fill="#ed716e" stroke="#ed716e" stroke-width="0.9"/>
<path d="M217.2,298.3A74.25,74.25 0 0 1 218,297.3L222.6,300.9A68.45,68.45 0 0 0 221.8,301.8Z" fill="#ed736e" stroke="#ed736e" stroke-width="0.9"/>
<path d="M218,297.3A74.25,74.25 0 0 1 218.8,296.3L223.3,299.9A68.45,68.45 0 0 0 222.6,300.9Z" fill="#ed756e" stroke="#ed756e" stroke-width="0.9"/>
<path d="M218.8,296.3A74.25,74.25 0 0 1 219.6,295.3L224.1,299A68.45,68.45 0 0 0 223.3,299.9Z" fill="#ee776e" stroke="#ee776e" stroke-width="0.9"/>
<path d="M219.6,295.3A74.25,74.25 0 0 1 220.5,294.3L224.8,298.1A68.45,68.45 0 0 0 224.1,299Z" fill="#ee796e" stroke="#ee796e" stroke-width="0.9"/>
<path d="M220.5,294.3A74.25,74.25 0 0 1 221.3,293.3L225.6,297.2A68.45,68.45 0 0 0 224.8,298.1Z" fill="#ef7b6e" stroke="#ef7b6e" stroke-width="0.9"/>
<path d="M221.3,293.3A74.25,74.25 0 0 1 222.2,292.4L226.4,296.3A68.45,68.45 0 0 0 225.6,297.2Z" fill="#ef7d6e" stroke="#ef7d6e" stroke-width="0.9"/>
<path d="M222.2,292.4A74.25,74.25 0 0 1 223.1,291.4L227.3,295.5A68.45,68.45 0 0 0 226.4,296.3Z" fill="#ef7f6e" stroke="#ef7f6e" stroke-width="0.9"/>
<path d="M223.1,291.4A74.25,74.25 0 0 1 224,290.5L228.1,294.6A68.45,68.45 0 0 0 227.3,295.5Z" fill="#f0816e" stroke="#f0816e" stroke-width="0.9"/>
<path d="M224,290.5A74.25,74.25 0 0 1 224.9,289.6L229,293.8A68.45,68.45 0 0 0 228.1,294.6Z" fill="#f0846f" stroke="#f0846f" stroke-width="0.9"/>
<path d="M224.9,289.6A74.25,74.25 0 0 1 225.9,288.7L229.8,292.9A68.45,68.45 0 0 0 229,293.8Z" fill="#f08671" stroke="#f08671" stroke-width="0.9"/>
<path d="M225.9,288.7A74.25,74.25 0 0 1 226.8,287.8L230.7,292.1A68.45,68.45 0 0 0 229.8,292.9Z" fill="#f18a73" stroke="#f18a73" stroke-width="0.9"/>
<path d="M226.8,287.8A74.25,74.25 0 0 1 227.8,287L231.6,291.3A68.45,68.45 0 0 0 230.7,292.1Z" fill="#f18c75" stroke="#f18c75" stroke-width="0.9"/>
<path d="M227.8,287A74.25,74.25 0 0 1 228.8,286.1L232.5,290.6A68.45,68.45 0 0 0 231.6,291.3Z" fill="#f19077" stroke="#f19077" stroke-width="0.9"/>
<path d="M228.8,286.1A74.25,74.25 0 0 1 229.8,285.3L233.4,289.8A68.45,68.45 0 0 0 232.5,290.6Z" fill="#f19279" stroke="#f19279" stroke-width="0.9"/>
<path d="M229.8,285.3A74.25,74.25 0 0 1 230.8,284.5L234.4,289.1A68.45,68.45 0 0 0 233.4,289.8Z" fill="#f2967b" stroke="#f2967b" stroke-width="0.9"/>
<path d="M230.8,284.5A74.25,74.25 0 0 1 231.8,283.7L235.3,288.3A68.45,68.45 0 0 0 234.4,289.1Z" fill="#f2987d" stroke="#f2987d" stroke-width="0.9"/>
<path d="M231.8,283.7A74.25,74.25 0 0 1 232.9,282.9L236.3,287.6A68.45,68.45 0 0 0 235.3,288.3Z" fill="#f29c7f" stroke="#f29c7f" stroke-width="0.9"/>
<path d="M232.9,282.9A74.25,74.25 0 0 1 233.9,282.2L237.2,286.9A68.45,68.45 0 0 0 236.3,287.6Z" fill="#f29e81" stroke="#f29e81" stroke-width="0.9"/>
<path d="M233.9,282.2A74.25,74.25 0 0 1 235,281.4L238.2,286.3A68.45,68.45 0 0 0 237.2,286.9Z" fill="#f3a283" stroke="#f3a283" stroke-width="0.9"/>
<path d="M235,281.4A74.25,74.25 0 0 1 236.1,280.7L239.2,285.6A68.45,68.45 0 0 0 238.2,286.3Z" fill="#f3a485" stroke="#f3a485" stroke-width="0.9"/>
<path d="M236.1,280.7A74.25,74.25 0 0 1 237.2,280L240.2,285A68.45,68.45 0 0 0 239.2,285.6Z" fill="#f3a887" stroke="#f3a887" stroke-width="0.9"/>
<path d="M237.2,280A74.25,74.25 0 0 1 238.3,279.4L241.2,284.3A68.45,68.45 0 0 0 240.2,285Z" fill="#f3aa89" stroke="#f3aa89" stroke-width="0.9"/>
<path d="M238.3,279.4A74.25,74.25 0 0 1 239.4,278.7L242.3,283.7A68.45,68.45 0 0 0 241.2,284.3Z" fill="#f4ae8b" stroke="#f4ae8b" stroke-width="0.9"/>
<path d="M239.4,278.7A74.25,74.25 0 0 1 240.5,278.1L243.3,283.1A68.45,68.45 0 0 0 242.3,283.7Z" fill="#f4b08d" stroke="#f4b08d" stroke-width="0.9"/>
<path d="M240.5,278.1A74.25,74.25 0 0 1 241.6,277.4L244.4,282.6A68.45,68.45 0 0 0 243.3,283.1Z" fill="#f4b48f" stroke="#f4b48f" stroke-width="0.9"/>
<path d="M241.6,277.4A74.25,74.25 0 0 1 242.8,276.8L245.4,282A68.45,68.45 0 0 0 244.4,282.6Z" fill="#f4b691" stroke="#f4b691" stroke-width="0.9"/>
<path d="M242.8,276.8A74.25,74.25 0 0 1 244,276.3L246.5,281.5A68.45,68.45 0 0 0 245.4,282Z" fill="#f5ba93" stroke="#f5ba93" stroke-width="0.9"/>
<path d="M244,276.3A74.25,74.25 0 0 1 245.1,275.7L247.6,281A68.45,68.45 0 0 0 246.5,281.5Z" fill="#f5bc95" stroke="#f5bc95" stroke-width="0.9"/>
<path d="M245.1,275.7A74.25,74.25 0 0 1 246.3,275.2L248.7,280.5A68.45,68.45 0 0 0 247.6,281Z" fill="#f5bf97" stroke="#f5bf97" stroke-width="0.9"/>
<path d="M246.3,275.2A74.25,74.25 0 0 1 247.5,274.7L249.8,280A68.45,68.45 0 0 0 248.7,280.5Z" fill="#f5c198" stroke="#f5c198" stroke-width="0.9"/>
<path d="M247.5,274.7A74.25,74.25 0 0 1 248.7,274.2L250.9,279.5A68.45,68.45 0 0 0 249.8,280Z" fill="#f5c39a" stroke="#f5c39a" stroke-width="0.9"/>
<path d="M248.7,274.2A74.25,74.25 0 0 1 249.9,273.7L252,279.1A68.45,68.45 0 0 0 250.9,279.5Z" fill="#f5c59c" stroke="#f5c59c" stroke-width="0.9"/>
<path d="M249.9,273.7A74.25,74.25 0 0 1 251.1,273.2L253.1,278.7A68.45,68.45 0 0 0 252,279.1Z" fill="#f5c79d" stroke="#f5c79d" stroke-width="0.9"/>
<path d="M251.1,273.2A74.25,74.25 0 0 1 252.3,272.8L254.2,278.3A68.45,68.45 0 0 0 253.1,278.7Z" fill="#f5c99f" stroke="#f5c99f" stroke-width="0.9"/>
<path d="M252.3,272.8A74.25,74.25 0 0 1 253.6,272.4L255.3,277.9A68.45,68.45 0 0 0 254.2,278.3Z" fill="#f5cba0" stroke="#f5cba0" stroke-width="0.9"/>
<path d="M253.6,272.4A74.25,74.25 0 0 1 254.8,272L256.5,277.5A68.45,68.45 0 0 0 255.3,277.9Z" fill="#f5cda2" stroke="#f5cda2" stroke-width="0.9"/>
<path d="M254.8,272A74.25,74.25 0 0 1 256,271.6L257.6,277.2A68.45,68.45 0 0 0 256.5,277.5Z" fill="#f5cfa4" stroke="#f5cfa4" stroke-width="0.9"/>
<path d="M256,271.6A74.25,74.25 0 0 1 257.3,271.3L258.8,276.9A68.45,68.45 0 0 0 257.6,277.2Z" fill="#f5d1a5" stroke="#f5d1a5" stroke-width="0.9"/>
<path d="M257.3,271.3A74.25,74.25 0 0 1 258.5,271L259.9,276.6A68.45,68.45 0 0 0 258.8,276.9Z" fill="#f5d3a7" stroke="#f5d3a7" stroke-width="0.9"/>
<path d="M258.5,271A74.25,74.25 0 0 1 259.8,270.7L261.1,276.3A68.45,68.45 0 0 0 259.9,276.6Z" fill="#f5d5a8" stroke="#f5d5a8" stroke-width="0.9"/>
<path d="M259.8,270.7A74.25,74.25 0 0 1 261.1,270.4L262.3,276A68.45,68.45 0 0 0 261.1,276.3Z" fill="#f5d7aa" stroke="#f5d7aa" stroke-width="0.9"/>
<path d="M261.1,270.4A74.25,74.25 0 0 1 262.3,270.1L263.4,275.8A68.45,68.45 0 0 0 262.3,276Z" fill="#f5d9ac" stroke="#f5d9ac" stroke-width="0.9"/>
<path d="M262.3,270.1A74.25,74.25 0 0 1 263.6,269.9L264.6,275.6A68.45,68.45 0 0 0 263.4,275.8Z" fill="#f5dbad" stroke="#f5dbad" stroke-width="0.9"/>
<path d="M263.6,269.9A74.25,74.25 0 0 1 264.9,269.7L265.8,275.4A68.45,68.45 0 0 0 264.6,275.6Z" fill="#f5ddaf" stroke="#f5ddaf" stroke-width="0.9"/>
<path d="M264.9,269.7A74.25,74.25 0 0 1 266.2,269.5L267,275.2A68.45,68.45 0 0 0 265.8,275.4Z" fill="#f5dfb0" stroke="#f5dfb0" stroke-width="0.9"/>
<path d="M266.2,269.5A74.25,74.25 0 0 1 267.5,269.3L268.2,275.1A68.45,68.45 0 0 0 267,275.2Z" fill="#f5e1b2" stroke="#f5e1b2" stroke-width="0.9"/>
<path d="M267.5,269.3A74.25,74.25 0 0 1 268.7,269.2L269.3,274.9A68.45,68.45 0 0 0 268.2,275.1Z" fill="#f5e3b4" stroke="#f5e3b4" stroke-width="0.9"/>
<path d="M268.7,269.2A74.25,74.25 0 0 1 270,269L270.5,274.8A68.45,68.45 0 0 0 269.3,274.9Z" fill="#f5e5b5" stroke="#f5e5b5" stroke-width="0.9"/>
<path d="M270,269A74.25,74.25 0 0 1 271.3,268.9L271.7,274.7A68.45,68.45 0 0 0 270.5,274.8Z" fill="#f5e7b7" stroke="#f5e7b7" stroke-width="0.9"/>
<path d="M271.3,268.9A74.25,74.25 0 0 1 272.6,268.9L272.9,274.6A68.45,68.45 0 0 0 271.7,274.7Z" fill="#f5e9b8" stroke="#f5e9b8" stroke-width="0.9"/>
<path d="M272.6,268.9A74.25,74.25 0 0 1 273.9,268.8L274.1,274.6A68.45,68.45 0 0 0 272.9,274.6Z" fill="#f5ebba" stroke="#f5ebba" stroke-width="0.9"/>
<path d="M273.9,268.8A74.25,74.25 0 0 1 275.2,268.8L275.3,274.6A68.45,68.45 0 0 0 274.1,274.6Z" fill="#f5edbc" stroke="#f5edbc" stroke-width="0.9"/>
<path d="M275.2,268.8A74.25,74.25 0 0 1 276.5,268.8L276.5,274.6A68.45,68.45 0 0 0 275.3,274.6Z" fill="#f5efbd" stroke="#f5efbd" stroke-width="0.9"/>
<path d="M276.5,268.3A74.7,74.7 0 0 1 293.3,270.2L292.6,273.1A71.7,71.7 0 0 0 276.5,271.3Z" fill="#2c5aa0"/>
<path d="M276.5,271.9A71.1,71.1 0 0 1 292.5,273.7L291.9,276.5A68.3,68.3 0 0 0 276.5,274.7Z" fill="#efe9f4"/>
<path d="M293.3,270.2A74.7,74.7 0 0 1 310.4,276.4L309.1,279.1A71.7,71.7 0 0 0 292.6,273.1Z" fill="#8a1c40"/>
<path d="M292.5,273.7A71.1,71.1 0 0 1 308.8,279.6L307.5,282.1A68.3,68.3 0 0 0 291.9,276.5Z" fill="#efe9f4"/>
<path d="M310.4,276.4A74.7,74.7 0 0 1 324.5,285.8L322.6,288.1A71.7,71.7 0 0 0 309.1,279.1Z" fill="#d5391e"/>
<path d="M308.8,279.6A71.1,71.1 0 0 1 322.2,288.5L320.4,290.7A68.3,68.3 0 0 0 307.5,282.1Z" fill="#efe9f4"/>
<path d="M324.5,285.8A74.7,74.7 0 0 1 331.1,292.1L328.9,294.1A71.7,71.7 0 0 0 322.6,288.1Z" fill="#6a9c32"/>
<path d="M322.2,288.5A71.1,71.1 0 0 1 328.5,294.5L326.5,296.4A68.3,68.3 0 0 0 320.4,290.7Z" fill="#efe9f4"/>
<path d="M331.1,292.1A74.7,74.7 0 0 1 341.2,305.6L338.6,307.1A71.7,71.7 0 0 0 328.9,294.1Z" fill="#4dbb7c"/>
<path d="M328.5,294.5A71.1,71.1 0 0 1 338.1,307.4L335.6,308.9A68.3,68.3 0 0 0 326.5,296.4Z" fill="#efe9f4"/>
<path d="M341.2,305.6A74.7,74.7 0 0 1 346.7,317.5L343.9,318.5A71.7,71.7 0 0 0 338.6,307.1Z" fill="#44a5b5"/>
<path d="M338.1,307.4A71.1,71.1 0 0 1 343.3,318.7L340.7,319.6A68.3,68.3 0 0 0 335.6,308.9Z" fill="#efe9f4"/>
<path d="M346.7,317.5A74.7,74.7 0 0 1 349.8,328.7L346.9,329.3A71.7,71.7 0 0 0 343.9,318.5Z" fill="#5577b5"/>
<path d="M343.3,318.7A71.1,71.1 0 0 1 346.3,329.4L343.5,330A68.3,68.3 0 0 0 340.7,319.6Z" fill="#efe9f4"/>
<path d="M349.8,328.7A74.7,74.7 0 0 1 351.2,340.4L348.2,340.5A71.7,71.7 0 0 0 346.9,329.3Z" fill="#a268a8"/>
<path d="M346.3,329.4A71.1,71.1 0 0 1 347.6,340.5L344.8,340.6A68.3,68.3 0 0 0 343.5,330Z" fill="#efe9f4"/>
<path d="M351.2,340.4A74.7,74.7 0 0 1 349.6,358.5L346.6,357.9A71.7,71.7 0 0 0 348.2,340.5Z" fill="#e39a92"/>
<path d="M347.6,340.5A71.1,71.1 0 0 1 346,357.8L343.3,357.2A68.3,68.3 0 0 0 344.8,340.6Z" fill="#efe9f4"/>
<path d="M349.6,358.5A74.7,74.7 0 0 1 346.7,368.5L343.9,367.5A71.7,71.7 0 0 0 346.6,357.9Z" fill="#e0646c"/>
<path d="M346,357.8A71.1,71.1 0 0 1 343.3,367.3L340.7,366.4A68.3,68.3 0 0 0 343.3,357.2Z" fill="#e4e0ef"/>
<path d="M346.7,368.5A74.7,74.7 0 0 1 343.1,376.9L340.4,375.6A71.7,71.7 0 0 0 343.9,367.5Z" fill="#b81a30"/>
<path d="M343.3,367.3A71.1,71.1 0 0 1 339.9,375.3L337.4,374A68.3,68.3 0 0 0 340.7,366.4Z" fill="#d9d8ea"/>
<path d="M343.1,376.9A74.7,74.7 0 0 1 305.7,411.8L304.5,409A71.7,71.7 0 0 0 340.4,375.6Z" fill="#a86a7e"/>
<path d="M339.9,375.3A71.1,71.1 0 0 1 304.3,408.4L303.2,405.9A68.3,68.3 0 0 0 337.4,374Z" fill="#5ba3cf"/>
<path d="M305.7,411.8A74.7,74.7 0 0 1 302,413.2L301,410.4A71.7,71.7 0 0 0 304.5,409Z" fill="#b3e3d5"/>
<path d="M304.3,408.4A71.1,71.1 0 0 1 300.8,409.8L299.9,407.2A68.3,68.3 0 0 0 303.2,405.9Z" fill="#3f85bb"/>
<path d="M302,413.2A74.7,74.7 0 0 1 281.7,417.5L281.5,414.5A71.7,71.7 0 0 0 301,410.4Z" fill="#b5f5f5"/>
<path d="M300.8,409.8A71.1,71.1 0 0 1 281.5,413.9L281.3,411.1A68.3,68.3 0 0 0 299.9,407.2Z" fill="#2f6fa8"/>
<path d="M281.7,417.5A74.7,74.7 0 0 1 276.5,417.7L276.5,414.7A71.7,71.7 0 0 0 281.5,414.5Z" fill="#c5ffff"/>
<path d="M281.5,413.9A71.1,71.1 0 0 1 276.5,414.1L276.5,411.3A68.3,68.3 0 0 0 281.3,411.1Z" fill="#0b2f60"/>
<path d="M276.1,410.9A67.9,67.9 0 0 1 264.2,409.8Q276.5,343.0 293.5,277.3A67.9,67.9 0 0 1 301.9,280Q276.5,343.0 276.1,410.9Z" fill="#8a1c40" fill-opacity="0.95" stroke="#8a1c40" stroke-width="0.25" stroke-opacity="0.95"/>
<path d="M264,409.7A67.9,67.9 0 0 1 261.5,409.2Q276.5,343.0 308.4,283A67.9,67.9 0 0 1 311.5,284.8Q276.5,343.0 264,409.7Z" fill="#d5391e" fill-opacity="0.95" stroke="#d5391e" stroke-width="0.25" stroke-opacity="0.95"/>
<path d="M261.2,409.2A67.9,67.9 0 0 1 242.5,401.8Q276.5,343.0 320.1,291A67.9,67.9 0 0 1 326.2,296.7Q276.5,343.0 261.2,409.2Z" fill="#6a9c32" fill-opacity="0.95" stroke="#6a9c32" stroke-width="0.25" stroke-opacity="0.95"/>
<path d="M242.3,401.7A67.9,67.9 0 0 1 239.5,399.9Q276.5,343.0 326.2,296.7A67.9,67.9 0 0 1 330,301.2Q276.5,343.0 242.3,401.7Z" fill="#4dbb7c" fill-opacity="0.95" stroke="#4dbb7c" stroke-width="0.25" stroke-opacity="0.95"/>
<path d="M239.3,399.8A67.9,67.9 0 0 1 225.9,388.3Q276.5,343.0 335.3,309.1A67.9,67.9 0 0 1 338.5,315.4Q276.5,343.0 239.3,399.8Z" fill="#44a5b5" fill-opacity="0.95" stroke="#44a5b5" stroke-width="0.25" stroke-opacity="0.95"/>
<path d="M225.7,388.1A67.9,67.9 0 0 1 223.1,385Q276.5,343.0 303,405.5A67.9,67.9 0 0 1 299.7,406.8Q276.5,343.0 225.7,388.1Z" fill="#b3e3d5" fill-opacity="0.95" stroke="#b3e3d5" stroke-width="0.25" stroke-opacity="0.95"/>
<path d="M223,384.8A67.9,67.9 0 0 1 209.4,332.8Q276.5,343.0 336.9,374A67.9,67.9 0 0 1 303.2,405.4Q276.5,343.0 223,384.8Z" fill="#a86a7e" fill-opacity="0.95" stroke="#a86a7e" stroke-width="0.25" stroke-opacity="0.95"/>
<path d="M209.4,332.6A67.9,67.9 0 0 1 209.6,331.7Q276.5,343.0 340.1,366.8A67.9,67.9 0 0 1 339.7,367.9Q276.5,343.0 209.4,332.6Z" fill="#b81a30" fill-opacity="0.95" stroke="#b81a30" stroke-width="0.25" stroke-opacity="0.95"/>
<path d="M209.6,331.4A67.9,67.9 0 0 1 210.5,327Q276.5,343.0 299.4,406.9A67.9,67.9 0 0 1 291.8,409.2Q276.5,343.0 209.6,331.4Z" fill="#b5f5f5" fill-opacity="0.95" stroke="#b5f5f5" stroke-width="0.25" stroke-opacity="0.95"/>
<path d="M217.6,309.2A67.9,67.9 0 0 1 218.1,308.3Q276.5,343.0 288.8,276.2A67.9,67.9 0 0 1 290.3,276.5Q276.5,343.0 217.6,309.2Z" fill="#2c5aa0" fill-opacity="0.93" stroke="#2c5aa0" stroke-width="0.25" stroke-opacity="0.93"/>
<path d="M216.4,311.4A67.9,67.9 0 0 1 216.9,310.4Q276.5,343.0 284.8,410.4A67.9,67.9 0 0 1 283.9,410.5Q276.5,343.0 216.4,311.4Z" fill="#b5f5f5" fill-opacity="0.93" stroke="#b5f5f5" stroke-width="0.25" stroke-opacity="0.93"/>
<path d="M238,287.1A67.9,67.9 0 0 1 238.3,286.9Q276.5,343.0 343.9,334.4A67.9,67.9 0 0 1 344,335.3Q276.5,343.0 238,287.1Z" fill="#a268a8" fill-opacity="0.93" stroke="#a268a8" stroke-width="0.25" stroke-opacity="0.93"/>
<path d="M244.1,283.3A67.9,67.9 0 0 1 244.5,283.1Q276.5,343.0 341.3,322.7A67.9,67.9 0 0 1 341.7,324.1Q276.5,343.0 244.1,283.3Z" fill="#5577b5" fill-opacity="0.93" stroke="#5577b5" stroke-width="0.25" stroke-opacity="0.93"/>
<path d="M267.9,275.6A67.9,67.9 0 0 1 268.3,275.6Q276.5,343.0 340.3,319.8A67.9,67.9 0 0 1 340.8,321.2Q276.5,343.0 267.9,275.6Z" fill="#5577b5" fill-opacity="0.93" stroke="#5577b5" stroke-width="0.25" stroke-opacity="0.93"/>
<path d="M224.7,299.1A67.9,67.9 0 0 1 225.1,298.6Q276.5,343.0 338.4,370.9A67.9,67.9 0 0 1 338.1,371.6Q276.5,343.0 224.7,299.1Z" fill="#b81a30" fill-opacity="0.93" stroke="#b81a30" stroke-width="0.25" stroke-opacity="0.93"/>
<path d="M221.7,302.9A67.9,67.9 0 0 1 221.8,302.7Q276.5,343.0 342.8,328.6A67.9,67.9 0 0 1 343.2,330Q276.5,343.0 221.7,302.9Z" fill="#5577b5" fill-opacity="0.93" stroke="#5577b5" stroke-width="0.25" stroke-opacity="0.93"/>
<path d="M233.5,290.5A67.9,67.9 0 0 1 233.8,290.2Q276.5,343.0 344.3,346.2A67.9,67.9 0 0 1 344.2,348Q276.5,343.0 233.5,290.5Z" fill="#e39a92" fill-opacity="0.93" stroke="#e39a92" stroke-width="0.25" stroke-opacity="0.93"/>
<path d="M232.2,291.6A67.9,67.9 0 0 1 232.7,291.1Q276.5,343.0 339.5,317.6A67.9,67.9 0 0 1 339.7,318.1Q276.5,343.0 232.2,291.6Z" fill="#44a5b5" fill-opacity="0.93" stroke="#44a5b5" stroke-width="0.25" stroke-opacity="0.93"/>
<path d="M261.3,276.8A67.9,67.9 0 0 1 261.9,276.7Q276.5,343.0 343.3,330.9A67.9,67.9 0 0 1 343.5,331.8Q276.5,343.0 261.3,276.8Z" fill="#a268a8" fill-opacity="0.93" stroke="#a268a8" stroke-width="0.25" stroke-opacity="0.93"/>
<path d="M275.5,275.1A67.9,67.9 0 0 1 276.1,275.1Q276.5,343.0 276.7,275.1A67.9,67.9 0 0 1 278.3,275.1Q276.5,343.0 275.5,275.1Z" fill="#2c5aa0" fill-opacity="0.93" stroke="#2c5aa0" stroke-width="0.25" stroke-opacity="0.93"/>
<path d="M237.6,287.3A67.9,67.9 0 0 1 237.9,287.1Q276.5,343.0 289.2,409.7A67.9,67.9 0 0 1 288.3,409.9Q276.5,343.0 237.6,287.3Z" fill="#b5f5f5" fill-opacity="0.93" stroke="#b5f5f5" stroke-width="0.25" stroke-opacity="0.93"/>
<path d="M218.8,307.2A67.9,67.9 0 0 1 219.2,306.6Q276.5,343.0 337.7,372.4A67.9,67.9 0 0 1 337.4,373.1Q276.5,343.0 218.8,307.2Z" fill="#b81a30" fill-opacity="0.93" stroke="#b81a30" stroke-width="0.25" stroke-opacity="0.93"/>
<path d="M222.5,301.8A67.9,67.9 0 0 1 222.9,301.3Q276.5,343.0 344.3,338.9A67.9,67.9 0 0 1 344.3,339.7Q276.5,343.0 222.5,301.8Z" fill="#a268a8" fill-opacity="0.93" stroke="#a268a8" stroke-width="0.25" stroke-opacity="0.93"/>
<path d="M266.6,275.8A67.9,67.9 0 0 1 267.4,275.7Q276.5,343.0 303.3,280.6A67.9,67.9 0 0 1 304,280.9Q276.5,343.0 266.6,275.8Z" fill="#8a1c40" fill-opacity="0.93" stroke="#8a1c40" stroke-width="0.25" stroke-opacity="0.93"/>
<path d="M235.5,288.8A67.9,67.9 0 0 1 236,288.5Q276.5,343.0 342.5,327.1A67.9,67.9 0 0 1 342.8,328.6Q276.5,343.0 235.5,288.8Z" fill="#5577b5" fill-opacity="0.93" stroke="#5577b5" stroke-width="0.25" stroke-opacity="0.93"/>
<path d="M269.5,275.5A67.9,67.9 0 0 1 269.9,275.4Q276.5,343.0 279.8,275.2A67.9,67.9 0 0 1 281.3,275.3Q276.5,343.0 269.5,275.5Z" fill="#2c5aa0" fill-opacity="0.93" stroke="#2c5aa0" stroke-width="0.25" stroke-opacity="0.93"/>
<path d="M225.2,298.5A67.9,67.9 0 0 1 225.7,298Q276.5,343.0 342,361.1A67.9,67.9 0 0 1 341.6,362.4Q276.5,343.0 225.2,298.5Z" fill="#e0646c" fill-opacity="0.93" stroke="#e0646c" stroke-width="0.25" stroke-opacity="0.93"/>
<path d="M222.1,302.4A67.9,67.9 0 0 1 222.4,301.9Q276.5,343.0 343.6,353.5A67.9,67.9 0 0 1 343.3,355.3Q276.5,343.0 222.1,302.4Z" fill="#e39a92" fill-opacity="0.93" stroke="#e39a92" stroke-width="0.25" stroke-opacity="0.93"/>
<path d="M251.3,279.9A67.9,67.9 0 0 1 252,279.7Q276.5,343.0 340.8,321.2A67.9,67.9 0 0 1 341.3,322.7Q276.5,343.0 251.3,279.9Z" fill="#5577b5" fill-opacity="0.93" stroke="#5577b5" stroke-width="0.25" stroke-opacity="0.93"/>
<path d="M268.4,275.6A67.9,67.9 0 0 1 268.8,275.5Q276.5,343.0 312.5,285.4A67.9,67.9 0 0 1 313.5,286.1Q276.5,343.0 268.4,275.6Z" fill="#d5391e" fill-opacity="0.93" stroke="#d5391e" stroke-width="0.25" stroke-opacity="0.93"/>
<path d="M231.6,292.1A67.9,67.9 0 0 1 232.1,291.6Q276.5,343.0 344.1,336.2A67.9,67.9 0 0 1 344.1,337.1Q276.5,343.0 231.6,292.1Z" fill="#a268a8" fill-opacity="0.93" stroke="#a268a8" stroke-width="0.25" stroke-opacity="0.93"/>
<path d="M212.4,320.7A67.9,67.9 0 0 1 212.7,319.7Q276.5,343.0 319.2,290.2A67.9,67.9 0 0 1 320.1,291Q276.5,343.0 212.4,320.7Z" fill="#d5391e" fill-opacity="0.93" stroke="#d5391e" stroke-width="0.25" stroke-opacity="0.93"/>
<path d="M221.4,303.3A67.9,67.9 0 0 1 221.6,303.1Q276.5,343.0 341.6,362.4A67.9,67.9 0 0 1 341.2,363.7Q276.5,343.0 221.4,303.3Z" fill="#e0646c" fill-opacity="0.93" stroke="#e0646c" stroke-width="0.25" stroke-opacity="0.93"/>
<path d="M214.4,315.4A67.9,67.9 0 0 1 214.8,314.6Q276.5,343.0 278.6,410.9A67.9,67.9 0 0 1 277.7,410.9Q276.5,343.0 214.4,315.4Z" fill="#c5ffff" fill-opacity="0.93" stroke="#c5ffff" stroke-width="0.25" stroke-opacity="0.93"/>
<path d="M270.4,275.4A67.9,67.9 0 0 1 271.3,275.3Q276.5,343.0 291.8,409.2A67.9,67.9 0 0 1 290.9,409.4Q276.5,343.0 270.4,275.4Z" fill="#b5f5f5" fill-opacity="0.93" stroke="#b5f5f5" stroke-width="0.25" stroke-opacity="0.93"/>
<path d="M233,290.8A67.9,67.9 0 0 1 233.3,290.6Q276.5,343.0 342.6,358.4A67.9,67.9 0 0 1 342.3,359.8Q276.5,343.0 233,290.8Z" fill="#e0646c" fill-opacity="0.93" stroke="#e0646c" stroke-width="0.25" stroke-opacity="0.93"/>
<path d="M256.1,278.2A67.9,67.9 0 0 1 257,278Q276.5,343.0 304.7,281.2A67.9,67.9 0 0 1 305.3,281.5Q276.5,343.0 256.1,278.2Z" fill="#8a1c40" fill-opacity="0.93" stroke="#8a1c40" stroke-width="0.25" stroke-opacity="0.93"/>
<path d="M239.3,286.2A67.9,67.9 0 0 1 239.5,286Q276.5,343.0 317.4,288.8A67.9,67.9 0 0 1 318.3,289.5Q276.5,343.0 239.3,286.2Z" fill="#d5391e" fill-opacity="0.93" stroke="#d5391e" stroke-width="0.25" stroke-opacity="0.93"/>
<path d="M247.3,281.7A67.9,67.9 0 0 1 247.6,281.5Q276.5,343.0 284.3,275.5A67.9,67.9 0 0 1 285.8,275.7Q276.5,343.0 247.3,281.7Z" fill="#2c5aa0" fill-opacity="0.93" stroke="#2c5aa0" stroke-width="0.25" stroke-opacity="0.93"/>
<path d="M243.5,283.7A67.9,67.9 0 0 1 243.9,283.4Q276.5,343.0 343.6,332.7A67.9,67.9 0 0 1 343.7,333.6Q276.5,343.0 243.5,283.7Z" fill="#a268a8" fill-opacity="0.93" stroke="#a268a8" stroke-width="0.25" stroke-opacity="0.93"/>
<path d="M258.8,277.4A67.9,67.9 0 0 1 259.4,277.3Q276.5,343.0 330.6,302A67.9,67.9 0 0 1 331.3,302.9Q276.5,343.0 258.8,277.4Z" fill="#4dbb7c" fill-opacity="0.93" stroke="#4dbb7c" stroke-width="0.25" stroke-opacity="0.93"/>
<path d="M215.8,312.6A67.9,67.9 0 0 1 216.2,311.8Q276.5,343.0 318.3,289.5A67.9,67.9 0 0 1 319.2,290.2Q276.5,343.0 215.8,312.6Z" fill="#d5391e" fill-opacity="0.93" stroke="#d5391e" stroke-width="0.25" stroke-opacity="0.93"/>
<path d="M220.8,304.2A67.9,67.9 0 0 1 220.9,304Q276.5,343.0 279.5,410.8A67.9,67.9 0 0 1 278.6,410.9Q276.5,343.0 220.8,304.2Z" fill="#c5ffff" fill-opacity="0.93" stroke="#c5ffff" stroke-width="0.25" stroke-opacity="0.93"/>
<path d="M224.1,299.8A67.9,67.9 0 0 1 224.6,299.3Q276.5,343.0 287.4,410A67.9,67.9 0 0 1 286.5,410.2Q276.5,343.0 224.1,299.8Z" fill="#b5f5f5" fill-opacity="0.93" stroke="#b5f5f5" stroke-width="0.25" stroke-opacity="0.93"/>
<path d="M214.9,314.5A67.9,67.9 0 0 1 215.3,313.7Q276.5,343.0 283.9,410.5A67.9,67.9 0 0 1 283,410.6Q276.5,343.0 214.9,314.5Z" fill="#b5f5f5" fill-opacity="0.93" stroke="#b5f5f5" stroke-width="0.25" stroke-opacity="0.93"/>
<path d="M212.9,319.3A67.9,67.9 0 0 1 213.1,318.7Q276.5,343.0 277.7,410.9A67.9,67.9 0 0 1 276.9,410.9Q276.5,343.0 212.9,319.3Z" fill="#c5ffff" fill-opacity="0.93" stroke="#c5ffff" stroke-width="0.25" stroke-opacity="0.93"/>
<path d="M223,301.2A67.9,67.9 0 0 1 223.4,300.7Q276.5,343.0 333.7,306.4A67.9,67.9 0 0 1 334.2,307.2Q276.5,343.0 223,301.2Z" fill="#4dbb7c" fill-opacity="0.93" stroke="#4dbb7c" stroke-width="0.25" stroke-opacity="0.93"/>
<path d="M271.5,275.3A67.9,67.9 0 0 1 272.5,275.2Q276.5,343.0 330,301.2A67.9,67.9 0 0 1 330.6,302Q276.5,343.0 271.5,275.3Z" fill="#4dbb7c" fill-opacity="0.93" stroke="#4dbb7c" stroke-width="0.25" stroke-opacity="0.93"/>
<path d="M255.1,278.6A67.9,67.9 0 0 1 256,278.3Q276.5,343.0 331.3,302.9A67.9,67.9 0 0 1 331.9,303.7Q276.5,343.0 255.1,278.6Z" fill="#4dbb7c" fill-opacity="0.93" stroke="#4dbb7c" stroke-width="0.25" stroke-opacity="0.93"/>
<path d="M230.4,293.2A67.9,67.9 0 0 1 230.9,292.7Q276.5,343.0 342.3,359.8A67.9,67.9 0 0 1 342,361.1Q276.5,343.0 230.4,293.2Z" fill="#e0646c" fill-opacity="0.93" stroke="#e0646c" stroke-width="0.25" stroke-opacity="0.93"/>
<path d="M248,281.4A67.9,67.9 0 0 1 248.5,281.2Q276.5,343.0 339.4,368.6A67.9,67.9 0 0 1 339.1,369.4Q276.5,343.0 248,281.4Z" fill="#b81a30" fill-opacity="0.93" stroke="#b81a30" stroke-width="0.25" stroke-opacity="0.93"/>
<path d="M249.7,280.6A67.9,67.9 0 0 1 250.1,280.4Q276.5,343.0 331.9,303.7A67.9,67.9 0 0 1 332.5,304.6Q276.5,343.0 249.7,280.6Z" fill="#4dbb7c" fill-opacity="0.93" stroke="#4dbb7c" stroke-width="0.25" stroke-opacity="0.93"/>
<path d="M233.9,290.2A67.9,67.9 0 0 1 234.2,289.9Q276.5,343.0 344,335.3A67.9,67.9 0 0 1 344.1,336.2Q276.5,343.0 233.9,290.2Z" fill="#a268a8" fill-opacity="0.93" stroke="#a268a8" stroke-width="0.25" stroke-opacity="0.93"/>
<path d="M213.4,317.8A67.9,67.9 0 0 1 213.7,317.3Q276.5,343.0 337.4,373.1A67.9,67.9 0 0 1 337,373.8Q276.5,343.0 213.4,317.8Z" fill="#b81a30" fill-opacity="0.93" stroke="#b81a30" stroke-width="0.25" stroke-opacity="0.93"/>
<path d="M212,321.9A67.9,67.9 0 0 1 212.3,320.8Q276.5,343.0 334.8,308.1A67.9,67.9 0 0 1 335.3,309.1Q276.5,343.0 212,321.9Z" fill="#4dbb7c" fill-opacity="0.93" stroke="#4dbb7c" stroke-width="0.25" stroke-opacity="0.93"/>
<path d="M226.3,297.2A67.9,67.9 0 0 1 226.8,296.7Q276.5,343.0 344.2,338A67.9,67.9 0 0 1 344.3,338.9Q276.5,343.0 226.3,297.2Z" fill="#a268a8" fill-opacity="0.93" stroke="#a268a8" stroke-width="0.25" stroke-opacity="0.93"/>
<path d="M229.8,293.7A67.9,67.9 0 0 1 230.3,293.3Q276.5,343.0 338.7,370.1A67.9,67.9 0 0 1 338.4,370.9Q276.5,343.0 229.8,293.7Z" fill="#b81a30" fill-opacity="0.93" stroke="#b81a30" stroke-width="0.25" stroke-opacity="0.93"/>
<path d="M254.1,278.9A67.9,67.9 0 0 1 255,278.6Q276.5,343.0 338.8,315.9A67.9,67.9 0 0 1 339,316.5Q276.5,343.0 254.1,278.9Z" fill="#44a5b5" fill-opacity="0.93" stroke="#44a5b5" stroke-width="0.25" stroke-opacity="0.93"/>
<path d="M250.5,280.3A67.9,67.9 0 0 1 251.2,280Q276.5,343.0 339.7,367.9A67.9,67.9 0 0 1 339.4,368.6Q276.5,343.0 250.5,280.3Z" fill="#b81a30" fill-opacity="0.93" stroke="#b81a30" stroke-width="0.25" stroke-opacity="0.93"/>
<path d="M223.5,300.6A67.9,67.9 0 0 1 223.8,300.1Q276.5,343.0 306.7,282.2A67.9,67.9 0 0 1 307.3,282.5Q276.5,343.0 223.5,300.6Z" fill="#8a1c40" fill-opacity="0.93" stroke="#8a1c40" stroke-width="0.25" stroke-opacity="0.93"/>
<path d="M246.9,281.9A67.9,67.9 0 0 1 247.2,281.7Q276.5,343.0 316.4,288.1A67.9,67.9 0 0 1 317.4,288.8Q276.5,343.0 246.9,281.9Z" fill="#d5391e" fill-opacity="0.93" stroke="#d5391e" stroke-width="0.25" stroke-opacity="0.93"/>
<path d="M269,275.5A67.9,67.9 0 0 1 269.4,275.5Q276.5,343.0 302.6,280.3A67.9,67.9 0 0 1 303.3,280.6Q276.5,343.0 269,275.5Z" fill="#8a1c40" fill-opacity="0.93" stroke="#8a1c40" stroke-width="0.25" stroke-opacity="0.93"/>
<path d="M264.7,276.1A67.9,67.9 0 0 1 265.5,276Q276.5,343.0 343.2,330A67.9,67.9 0 0 1 343.3,330.9Q276.5,343.0 264.7,276.1Z" fill="#a268a8" fill-opacity="0.93" stroke="#a268a8" stroke-width="0.25" stroke-opacity="0.93"/>
<path d="M242.9,284A67.9,67.9 0 0 1 243.4,283.7Q276.5,343.0 280.4,410.8A67.9,67.9 0 0 1 279.5,410.8Q276.5,343.0 242.9,284Z" fill="#c5ffff" fill-opacity="0.93" stroke="#c5ffff" stroke-width="0.25" stroke-opacity="0.93"/>
<path d="M245.2,282.7A67.9,67.9 0 0 1 245.7,282.5Q276.5,343.0 285.8,275.7A67.9,67.9 0 0 1 287.3,276Q276.5,343.0 245.2,282.7Z" fill="#2c5aa0" fill-opacity="0.93" stroke="#2c5aa0" stroke-width="0.25" stroke-opacity="0.93"/>
<path d="M260.3,277.1A67.9,67.9 0 0 1 260.9,276.9Q276.5,343.0 282.8,275.4A67.9,67.9 0 0 1 284.3,275.5Q276.5,343.0 260.3,277.1Z" fill="#2c5aa0" fill-opacity="0.93" stroke="#2c5aa0" stroke-width="0.25" stroke-opacity="0.93"/>
<path d="M214,316.4A67.9,67.9 0 0 1 214.3,315.8Q276.5,343.0 334.2,307.2A67.9,67.9 0 0 1 334.8,308.1Q276.5,343.0 214,316.4Z" fill="#4dbb7c" fill-opacity="0.93" stroke="#4dbb7c" stroke-width="0.25" stroke-opacity="0.93"/>
<path d="M236.8,287.9A67.9,67.9 0 0 1 237.3,287.6Q276.5,343.0 306,281.8A67.9,67.9 0 0 1 306.7,282.2Q276.5,343.0 236.8,287.9Z" fill="#8a1c40" fill-opacity="0.93" stroke="#8a1c40" stroke-width="0.25" stroke-opacity="0.93"/>
<path d="M220.1,305.1A67.9,67.9 0 0 1 220.5,304.6Q276.5,343.0 287.3,276A67.9,67.9 0 0 1 288.8,276.2Q276.5,343.0 220.1,305.1Z" fill="#2c5aa0" fill-opacity="0.93" stroke="#2c5aa0" stroke-width="0.25" stroke-opacity="0.93"/>
<path d="M217,310.3A67.9,67.9 0 0 1 217.5,309.4Q276.5,343.0 340.8,364.9A67.9,67.9 0 0 1 340.3,366.2Q276.5,343.0 217,310.3Z" fill="#e0646c" fill-opacity="0.93" stroke="#e0646c" stroke-width="0.25" stroke-opacity="0.93"/>
<path d="M234.3,289.8A67.9,67.9 0 0 1 234.6,289.6Q276.5,343.0 333.1,305.5A67.9,67.9 0 0 1 333.7,306.4Q276.5,343.0 234.3,289.8Z" fill="#4dbb7c" fill-opacity="0.93" stroke="#4dbb7c" stroke-width="0.25" stroke-opacity="0.93"/>
<path d="M274,275.1A67.9,67.9 0 0 1 274.6,275.1Q276.5,343.0 311.5,284.8A67.9,67.9 0 0 1 312.5,285.4Q276.5,343.0 274,275.1Z" fill="#d5391e" fill-opacity="0.93" stroke="#d5391e" stroke-width="0.25" stroke-opacity="0.93"/>
<path d="M213.7,317.1A67.9,67.9 0 0 1 214,316.6Q276.5,343.0 343.3,355.3A67.9,67.9 0 0 1 342.9,357.1Q276.5,343.0 213.7,317.1Z" fill="#e39a92" fill-opacity="0.93" stroke="#e39a92" stroke-width="0.25" stroke-opacity="0.93"/>
<path d="M263.8,276.3A67.9,67.9 0 0 1 264.6,276.2Q276.5,343.0 290.9,409.4A67.9,67.9 0 0 1 290,409.5Q276.5,343.0 263.8,276.3Z" fill="#b5f5f5" fill-opacity="0.93" stroke="#b5f5f5" stroke-width="0.25" stroke-opacity="0.93"/>
<path d="M219.2,306.5A67.9,67.9 0 0 1 219.6,305.9Q276.5,343.0 341.2,363.7A67.9,67.9 0 0 1 340.8,364.9Q276.5,343.0 219.2,306.5Z" fill="#e0646c" fill-opacity="0.93" stroke="#e0646c" stroke-width="0.25" stroke-opacity="0.93"/>
<path d="M231,292.6A67.9,67.9 0 0 1 231.5,292.2Q276.5,343.0 344.2,348A67.9,67.9 0 0 1 344.1,349.8Q276.5,343.0 231,292.6Z" fill="#e39a92" fill-opacity="0.93" stroke="#e39a92" stroke-width="0.25" stroke-opacity="0.93"/>
<path d="M244.6,283A67.9,67.9 0 0 1 245.1,282.8Q276.5,343.0 305.3,281.5A67.9,67.9 0 0 1 306,281.8Q276.5,343.0 244.6,283Z" fill="#8a1c40" fill-opacity="0.93" stroke="#8a1c40" stroke-width="0.25" stroke-opacity="0.93"/>
<path d="M258.1,277.6A67.9,67.9 0 0 1 258.7,277.5Q276.5,343.0 338.5,315.4A67.9,67.9 0 0 1 338.8,315.9Q276.5,343.0 258.1,277.6Z" fill="#44a5b5" fill-opacity="0.93" stroke="#44a5b5" stroke-width="0.25" stroke-opacity="0.93"/>
<path d="M218.4,307.9A67.9,67.9 0 0 1 218.7,307.3Q276.5,343.0 285.7,410.3A67.9,67.9 0 0 1 284.8,410.4Q276.5,343.0 218.4,307.9Z" fill="#b5f5f5" fill-opacity="0.93" stroke="#b5f5f5" stroke-width="0.25" stroke-opacity="0.93"/>
<path d="M219.7,305.8A67.9,67.9 0 0 1 220.1,305.2Q276.5,343.0 339.9,318.7A67.9,67.9 0 0 1 340.1,319.2Q276.5,343.0 219.7,305.8Z" fill="#44a5b5" fill-opacity="0.93" stroke="#44a5b5" stroke-width="0.25" stroke-opacity="0.93"/>
<path d="M227.7,295.8A67.9,67.9 0 0 1 228.2,295.3Q276.5,343.0 344.1,349.8A67.9,67.9 0 0 1 343.8,351.7Q276.5,343.0 227.7,295.8Z" fill="#e39a92" fill-opacity="0.93" stroke="#e39a92" stroke-width="0.25" stroke-opacity="0.93"/>
<path d="M257.4,277.8A67.9,67.9 0 0 1 258,277.7Q276.5,343.0 290,409.5A67.9,67.9 0 0 1 289.2,409.7Q276.5,343.0 257.4,277.8Z" fill="#b5f5f5" fill-opacity="0.93" stroke="#b5f5f5" stroke-width="0.25" stroke-opacity="0.93"/>
<path d="M227.1,296.4A67.9,67.9 0 0 1 227.6,295.9Q276.5,343.0 288.3,409.9A67.9,67.9 0 0 1 287.4,410Q276.5,343.0 227.1,296.4Z" fill="#b5f5f5" fill-opacity="0.93" stroke="#b5f5f5" stroke-width="0.25" stroke-opacity="0.93"/>
<path d="M248.6,281.1A67.9,67.9 0 0 1 249,280.9Q276.5,343.0 344.4,340.6A67.9,67.9 0 0 1 344.4,342.5Q276.5,343.0 248.6,281.1Z" fill="#e39a92" fill-opacity="0.93" stroke="#e39a92" stroke-width="0.25" stroke-opacity="0.93"/>
<path d="M238.4,286.8A67.9,67.9 0 0 1 238.7,286.6Q276.5,343.0 342.1,325.6A67.9,67.9 0 0 1 342.5,327.1Q276.5,343.0 238.4,286.8Z" fill="#5577b5" fill-opacity="0.93" stroke="#5577b5" stroke-width="0.25" stroke-opacity="0.93"/>
<path d="M274.8,275.1A67.9,67.9 0 0 1 275.3,275.1Q276.5,343.0 301.9,280A67.9,67.9 0 0 1 302.6,280.3Q276.5,343.0 274.8,275.1Z" fill="#8a1c40" fill-opacity="0.93" stroke="#8a1c40" stroke-width="0.25" stroke-opacity="0.93"/>
<path d="M228.3,295.2A67.9,67.9 0 0 1 228.8,294.7Q276.5,343.0 344.1,337.1A67.9,67.9 0 0 1 344.2,338Q276.5,343.0 228.3,295.2Z" fill="#a268a8" fill-opacity="0.93" stroke="#a268a8" stroke-width="0.25" stroke-opacity="0.93"/>
<path d="M213.2,318.6A67.9,67.9 0 0 1 213.4,318Q276.5,343.0 283,410.6A67.9,67.9 0 0 1 282.1,410.7Q276.5,343.0 213.2,318.6Z" fill="#b5f5f5" fill-opacity="0.93" stroke="#b5f5f5" stroke-width="0.25" stroke-opacity="0.93"/>
<path d="M242,284.5A67.9,67.9 0 0 1 242.5,284.2Q276.5,343.0 341.7,324.1A67.9,67.9 0 0 1 342.1,325.6Q276.5,343.0 242,284.5Z" fill="#5577b5" fill-opacity="0.93" stroke="#5577b5" stroke-width="0.25" stroke-opacity="0.93"/>
<path d="M228.9,294.6A67.9,67.9 0 0 1 229.4,294.1Q276.5,343.0 339.7,318.1A67.9,67.9 0 0 1 339.9,318.7Q276.5,343.0 228.9,294.6Z" fill="#44a5b5" fill-opacity="0.93" stroke="#44a5b5" stroke-width="0.25" stroke-opacity="0.93"/>
<path d="M221,303.9A67.9,67.9 0 0 1 221.1,303.7Q276.5,343.0 286.5,410.2A67.9,67.9 0 0 1 285.7,410.3Q276.5,343.0 221,303.9Z" fill="#b5f5f5" fill-opacity="0.93" stroke="#b5f5f5" stroke-width="0.25" stroke-opacity="0.93"/>
<path d="M236.1,288.4A67.9,67.9 0 0 1 236.6,288Q276.5,343.0 332.5,304.6A67.9,67.9 0 0 1 333.1,305.5Q276.5,343.0 236.1,288.4Z" fill="#4dbb7c" fill-opacity="0.93" stroke="#4dbb7c" stroke-width="0.25" stroke-opacity="0.93"/>
<path d="M241.3,285A67.9,67.9 0 0 1 241.8,284.6Q276.5,343.0 343.7,333.6A67.9,67.9 0 0 1 343.9,334.4Q276.5,343.0 241.3,285Z" fill="#a268a8" fill-opacity="0.93" stroke="#a268a8" stroke-width="0.25" stroke-opacity="0.93"/>
<path d="M234.9,289.3A67.9,67.9 0 0 1 235.4,288.9Q276.5,343.0 339.1,369.4A67.9,67.9 0 0 1 338.7,370.1Q276.5,343.0 234.9,289.3Z" fill="#b81a30" fill-opacity="0.93" stroke="#b81a30" stroke-width="0.25" stroke-opacity="0.93"/>
<path d="M240.6,285.4A67.9,67.9 0 0 1 241.2,285Q276.5,343.0 344.4,344.3A67.9,67.9 0 0 1 344.3,346.2Q276.5,343.0 240.6,285.4Z" fill="#e39a92" fill-opacity="0.93" stroke="#e39a92" stroke-width="0.25" stroke-opacity="0.93"/>
<path d="M259.5,277.3A67.9,67.9 0 0 1 260.1,277.1Q276.5,343.0 304,280.9A67.9,67.9 0 0 1 304.7,281.2Q276.5,343.0 259.5,277.3Z" fill="#8a1c40" fill-opacity="0.93" stroke="#8a1c40" stroke-width="0.25" stroke-opacity="0.93"/>
<path d="M253.2,279.2A67.9,67.9 0 0 1 254,278.9Q276.5,343.0 281.2,410.7A67.9,67.9 0 0 1 280.4,410.8Q276.5,343.0 253.2,279.2Z" fill="#c5ffff" fill-opacity="0.93" stroke="#c5ffff" stroke-width="0.25" stroke-opacity="0.93"/>
<path d="M262,276.7A67.9,67.9 0 0 1 262.6,276.5Q276.5,343.0 314.5,286.7A67.9,67.9 0 0 1 315.4,287.4Q276.5,343.0 262,276.7Z" fill="#d5391e" fill-opacity="0.93" stroke="#d5391e" stroke-width="0.25" stroke-opacity="0.93"/>
<path d="M249.1,280.9A67.9,67.9 0 0 1 249.6,280.7Q276.5,343.0 343.5,331.8A67.9,67.9 0 0 1 343.6,332.7Q276.5,343.0 249.1,280.9Z" fill="#a268a8" fill-opacity="0.93" stroke="#a268a8" stroke-width="0.25" stroke-opacity="0.93"/>
<path d="M252.1,279.6A67.9,67.9 0 0 1 252.8,279.4Q276.5,343.0 315.4,287.4A67.9,67.9 0 0 1 316.4,288.1Q276.5,343.0 252.1,279.6Z" fill="#d5391e" fill-opacity="0.93" stroke="#d5391e" stroke-width="0.25" stroke-opacity="0.93"/>
<path d="M265.7,276A67.9,67.9 0 0 1 266.5,275.8Q276.5,343.0 313.5,286.1A67.9,67.9 0 0 1 314.5,286.7Q276.5,343.0 265.7,276Z" fill="#d5391e" fill-opacity="0.93" stroke="#d5391e" stroke-width="0.25" stroke-opacity="0.93"/>
<path d="M238.8,286.5A67.9,67.9 0 0 1 239.1,286.3Q276.5,343.0 339.2,317A67.9,67.9 0 0 1 339.5,317.6Q276.5,343.0 238.8,286.5Z" fill="#44a5b5" fill-opacity="0.93" stroke="#44a5b5" stroke-width="0.25" stroke-opacity="0.93"/>
<path d="M210.6,326.6A67.9,67.9 0 0 1 211,325.1Q276.5,343.0 282.1,410.7A67.9,67.9 0 0 1 281.2,410.7Q276.5,343.0 210.6,326.6Z" fill="#b5f5f5" fill-opacity="0.93" stroke="#b5f5f5" stroke-width="0.25" stroke-opacity="0.93"/>
<path d="M221.2,303.6A67.9,67.9 0 0 1 221.4,303.4Q276.5,343.0 338.1,371.6A67.9,67.9 0 0 1 337.7,372.4Q276.5,343.0 221.2,303.6Z" fill="#b81a30" fill-opacity="0.93" stroke="#b81a30" stroke-width="0.25" stroke-opacity="0.93"/>
<path d="M246.5,282.1A67.9,67.9 0 0 1 246.8,281.9Q276.5,343.0 339,316.5A67.9,67.9 0 0 1 339.2,317Q276.5,343.0 246.5,282.1Z" fill="#44a5b5" fill-opacity="0.93" stroke="#44a5b5" stroke-width="0.25" stroke-opacity="0.93"/>
<path d="M272.6,275.2A67.9,67.9 0 0 1 273.6,275.2Q276.5,343.0 278.3,275.1A67.9,67.9 0 0 1 279.8,275.2Q276.5,343.0 272.6,275.2Z" fill="#2c5aa0" fill-opacity="0.93" stroke="#2c5aa0" stroke-width="0.25" stroke-opacity="0.93"/>
<path d="M215.3,313.5A67.9,67.9 0 0 1 215.7,312.7Q276.5,343.0 340.1,319.2A67.9,67.9 0 0 1 340.3,319.8Q276.5,343.0 215.3,313.5Z" fill="#44a5b5" fill-opacity="0.93" stroke="#44a5b5" stroke-width="0.25" stroke-opacity="0.93"/>
<path d="M262.8,276.5A67.9,67.9 0 0 1 263.4,276.4Q276.5,343.0 281.3,275.3A67.9,67.9 0 0 1 282.8,275.4Q276.5,343.0 262.8,276.5Z" fill="#2c5aa0" fill-opacity="0.93" stroke="#2c5aa0" stroke-width="0.25" stroke-opacity="0.93"/>
<path d="M239.9,285.8A67.9,67.9 0 0 1 240.5,285.4Q276.5,343.0 342.9,357.1A67.9,67.9 0 0 1 342.6,358.4Q276.5,343.0 239.9,285.8Z" fill="#e0646c" fill-opacity="0.93" stroke="#e0646c" stroke-width="0.25" stroke-opacity="0.93"/>
<path d="M246.1,282.3A67.9,67.9 0 0 1 246.4,282.2Q276.5,343.0 344.4,342.5A67.9,67.9 0 0 1 344.4,344.3Q276.5,343.0 246.1,282.3Z" fill="#e39a92" fill-opacity="0.93" stroke="#e39a92" stroke-width="0.25" stroke-opacity="0.93"/>
<path d="M225.8,297.9A67.9,67.9 0 0 1 226.2,297.4Q276.5,343.0 343.8,351.7A67.9,67.9 0 0 1 343.6,353.5Q276.5,343.0 225.8,297.9Z" fill="#e39a92" fill-opacity="0.93" stroke="#e39a92" stroke-width="0.25" stroke-opacity="0.93"/>
<path d="M211,325A67.9,67.9 0 0 1 211.5,323.5Q276.5,343.0 290.3,276.5A67.9,67.9 0 0 1 291.8,276.8Q276.5,343.0 211,325Z" fill="#2c5aa0" fill-opacity="0.93" stroke="#2c5aa0" stroke-width="0.25" stroke-opacity="0.93"/>
<path d="M211.6,323.1A67.9,67.9 0 0 1 211.9,322Q276.5,343.0 344.3,339.7A67.9,67.9 0 0 1 344.4,340.6Q276.5,343.0 211.6,323.1Z" fill="#a268a8" fill-opacity="0.93" stroke="#a268a8" stroke-width="0.25" stroke-opacity="0.93"/>
<text transform="translate(272.3,419.9) rotate(-86.9)" font-size="5.2" text-anchor="end" dominant-baseline="middle" fill="#000" stroke="#000" stroke-width="0.12" font-family='"Liberation Serif", serif'>CKM</text>
<text transform="translate(267.9,419.5) rotate(-83.6)" font-size="5.2" text-anchor="end" dominant-baseline="middle" fill="#000" stroke="#000" stroke-width="0.12" font-family='"Liberation Serif", serif'>FBP2</text>
<text transform="translate(263.5,418.9) rotate(-80.3)" font-size="5.2" text-anchor="end" dominant-baseline="middle" fill="#000" stroke="#000" stroke-width="0.12" font-family='"Liberation Serif", serif'>SLC26A7</text>
<text transform="translate(259.2,418) rotate(-77)" font-size="5.2" text-anchor="end" dominant-baseline="middle" fill="#000" stroke="#000" stroke-width="0.12" font-family='"Liberation Serif", serif'>ATP4B</text>
<text transform="translate(254.9,416.9) rotate(-73.7)" font-size="5.2" text-anchor="end" dominant-baseline="middle" fill="#000" stroke="#000" stroke-width="0.12" font-family='"Liberation Serif", serif'>ATP4A</text>
<text transform="translate(250.7,415.5) rotate(-70.4)" font-size="5.2" text-anchor="end" dominant-baseline="middle" fill="#000" stroke="#000" stroke-width="0.12" font-family='"Liberation Serif", serif'>KCNE2</text>
<text transform="translate(246.6,413.9) rotate(-67.1)" font-size="5.2" text-anchor="end" dominant-baseline="middle" fill="#000" stroke="#000" stroke-width="0.12" font-family='"Liberation Serif", serif'>ALDOB</text>
<text transform="translate(242.6,412.1) rotate(-63.8)" font-size="5.2" text-anchor="end" dominant-baseline="middle" fill="#000" stroke="#000" stroke-width="0.12" font-family='"Liberation Serif", serif'>GPT2</text>
<text transform="translate(238.7,410.1) rotate(-60.6)" font-size="5.2" text-anchor="end" dominant-baseline="middle" fill="#000" stroke="#000" stroke-width="0.12" font-family='"Liberation Serif", serif'>MT1G</text>
<text transform="translate(234.9,407.8) rotate(-57.3)" font-size="5.2" text-anchor="end" dominant-baseline="middle" fill="#000" stroke="#000" stroke-width="0.12" font-family='"Liberation Serif", serif'>MT1M</text>
<text transform="translate(231.2,405.3) rotate(-54)" font-size="5.2" text-anchor="end" dominant-baseline="middle" fill="#000" stroke="#000" stroke-width="0.12" font-family='"Liberation Serif", serif'>MT1F</text>
<text transform="translate(227.7,402.6) rotate(-50.7)" font-size="5.2" text-anchor="end" dominant-baseline="middle" fill="#000" stroke="#000" stroke-width="0.12" font-family='"Liberation Serif", serif'>MT1X</text>
<text transform="translate(224.4,399.7) rotate(-47.4)" font-size="5.2" text-anchor="end" dominant-baseline="middle" fill="#000" stroke="#000" stroke-width="0.12" font-family='"Liberation Serif", serif'>MT1H</text>
<text transform="translate(221.2,396.6) rotate(-44.1)" font-size="5.2" text-anchor="end" dominant-baseline="middle" fill="#000" stroke="#000" stroke-width="0.12" font-family='"Liberation Serif", serif'>CXCL8</text>
<text transform="translate(218.2,393.4) rotate(-40.8)" font-size="5.2" text-anchor="end" dominant-baseline="middle" fill="#000" stroke="#000" stroke-width="0.12" font-family='"Liberation Serif", serif'>PLAGL</text>
<text transform="translate(215.5,389.9) rotate(-37.6)" font-size="5.2" text-anchor="end" dominant-baseline="middle" fill="#000" stroke="#000" stroke-width="0.12" font-family='"Liberation Serif", serif'>FBP2</text>
<text transform="translate(212.9,386.4) rotate(-34.3)" font-size="5.2" text-anchor="end" dominant-baseline="middle" fill="#000" stroke="#000" stroke-width="0.12" font-family='"Liberation Serif", serif'>CPA2</text>
<text transform="translate(210.5,382.6) rotate(-31)" font-size="5.2" text-anchor="end" dominant-baseline="middle" fill="#000" stroke="#000" stroke-width="0.12" font-family='"Liberation Serif", serif'>COL4A1</text>
<text transform="translate(208.3,378.8) rotate(-27.7)" font-size="5.2" text-anchor="end" dominant-baseline="middle" fill="#000" stroke="#000" stroke-width="0.12" font-family='"Liberation Serif", serif'>LIPF</text>
<text transform="translate(206.4,374.8) rotate(-24.4)" font-size="5.2" text-anchor="end" dominant-baseline="middle" fill="#000" stroke="#000" stroke-width="0.12" font-family='"Liberation Serif", serif'>PGC</text>
<text transform="translate(204.7,370.7) rotate(-21.1)" font-size="5.2" text-anchor="end" dominant-baseline="middle" fill="#000" stroke="#000" stroke-width="0.12" font-family='"Liberation Serif", serif'>ADH1C</text>
<text transform="translate(203.2,366.6) rotate(-17.8)" font-size="5.2" text-anchor="end" dominant-baseline="middle" fill="#000" stroke="#000" stroke-width="0.12" font-family='"Liberation Serif", serif'>AKR1C2</text>
<text transform="translate(202,362.3) rotate(-14.5)" font-size="5.2" text-anchor="end" dominant-baseline="middle" fill="#000" stroke="#000" stroke-width="0.12" font-family='"Liberation Serif", serif'>AKR1C3</text>
<text transform="translate(201,358) rotate(-11.3)" font-size="5.2" text-anchor="end" dominant-baseline="middle" fill="#000" stroke="#000" stroke-width="0.12" font-family='"Liberation Serif", serif'>AKR1C1</text>
<text transform="translate(200.2,353.7) rotate(-8)" font-size="5.2" text-anchor="end" dominant-baseline="middle" fill="#000" stroke="#000" stroke-width="0.12" font-family='"Liberation Serif", serif'>PLA2G1B</text>
<text transform="translate(199.8,349.3) rotate(-4.7)" font-size="5.2" text-anchor="end" dominant-baseline="middle" fill="#000" stroke="#000" stroke-width="0.12" font-family='"Liberation Serif", serif'>AKR1B10</text>
<text transform="translate(199.5,344.9) rotate(-1.4)" font-size="5.2" text-anchor="end" dominant-baseline="middle" fill="#000" stroke="#000" stroke-width="0.12" font-family='"Liberation Serif", serif'>AMPD1</text>
<text transform="translate(199.5,340.5) rotate(1.9)" font-size="5.2" text-anchor="end" dominant-baseline="middle" fill="#000" stroke="#000" stroke-width="0.12" font-family='"Liberation Serif", serif'>ETNPPL</text>
<text transform="translate(199.8,336) rotate(5.2)" font-size="5.2" text-anchor="end" dominant-baseline="middle" fill="#000" stroke="#000" stroke-width="0.12" font-family='"Liberation Serif", serif'>ALDH1A1</text>
<text transform="translate(200.3,331.7) rotate(8.5)" font-size="5.2" text-anchor="end" dominant-baseline="middle" fill="#000" stroke="#000" stroke-width="0.12" font-family='"Liberation Serif", serif'>ALDH3A1</text>
<text transform="translate(201.1,327.3) rotate(11.8)" font-size="5.2" text-anchor="end" dominant-baseline="middle" fill="#000" stroke="#000" stroke-width="0.12" font-family='"Liberation Serif", serif'>AKR1B10</text>
<text transform="translate(202.1,323) rotate(15)" font-size="5.2" text-anchor="end" dominant-baseline="middle" fill="#000" stroke="#000" stroke-width="0.12" font-family='"Liberation Serif", serif'>ADH7</text>
<text transform="translate(203.4,318.8) rotate(18.3)" font-size="5.2" text-anchor="end" dominant-baseline="middle" fill="#000" stroke="#000" stroke-width="0.12" font-family='"Liberation Serif", serif'>AKR1B15</text>
<text transform="translate(204.9,314.6) rotate(21.6)" font-size="5.2" text-anchor="end" dominant-baseline="middle" fill="#000" stroke="#000" stroke-width="0.12" font-family='"Liberation Serif", serif'>SULT2A1</text>
<text transform="translate(206.7,310.6) rotate(24.9)" font-size="5.2" text-anchor="end" dominant-baseline="middle" fill="#000" stroke="#000" stroke-width="0.12" font-family='"Liberation Serif", serif'>ATP4A</text>
<text transform="translate(208.6,306.6) rotate(28.2)" font-size="5.2" text-anchor="end" dominant-baseline="middle" fill="#000" stroke="#000" stroke-width="0.12" font-family='"Liberation Serif", serif'>ATP4B</text>
<text transform="translate(210.8,302.8) rotate(31.5)" font-size="5.2" text-anchor="end" dominant-baseline="middle" fill="#000" stroke="#000" stroke-width="0.12" font-family='"Liberation Serif", serif'>CA2</text>
<text transform="translate(213.2,299.1) rotate(34.8)" font-size="5.2" text-anchor="end" dominant-baseline="middle" fill="#000" stroke="#000" stroke-width="0.12" font-family='"Liberation Serif", serif'>ADH1A</text>
<text transform="translate(215.9,295.5) rotate(38.1)" font-size="5.2" text-anchor="end" dominant-baseline="middle" fill="#000" stroke="#000" stroke-width="0.12" font-family='"Liberation Serif", serif'>ADH4</text>
<text transform="translate(218.7,292.1) rotate(41.3)" font-size="5.2" text-anchor="end" dominant-baseline="middle" fill="#000" stroke="#000" stroke-width="0.12" font-family='"Liberation Serif", serif'>ALDH1A3</text>
<text transform="translate(221.7,288.9) rotate(44.6)" font-size="5.2" text-anchor="end" dominant-baseline="middle" fill="#000" stroke="#000" stroke-width="0.12" font-family='"Liberation Serif", serif'>PDGFD</text>
<text transform="translate(224.9,285.9) rotate(47.9)" font-size="5.2" text-anchor="end" dominant-baseline="middle" fill="#000" stroke="#000" stroke-width="0.12" font-family='"Liberation Serif", serif'>COL1A1</text>
<text transform="translate(228.3,283) rotate(51.2)" font-size="5.2" text-anchor="end" dominant-baseline="middle" fill="#000" stroke="#000" stroke-width="0.12" font-family='"Liberation Serif", serif'>COL1A2</text>
<text transform="translate(231.8,280.3) rotate(54.5)" font-size="5.2" text-anchor="end" dominant-baseline="middle" fill="#000" stroke="#000" stroke-width="0.12" font-family='"Liberation Serif", serif'>SPP1</text>
<text transform="translate(235.4,277.9) rotate(57.8)" font-size="5.2" text-anchor="end" dominant-baseline="middle" fill="#000" stroke="#000" stroke-width="0.12" font-family='"Liberation Serif", serif'>THBS2</text>
<text transform="translate(239.2,275.6) rotate(61.1)" font-size="5.2" text-anchor="end" dominant-baseline="middle" fill="#000" stroke="#000" stroke-width="0.12" font-family='"Liberation Serif", serif'>COL11A1</text>
<g transform="translate(243.2,273.6) rotate(64.3)"><rect x="-10.5" y="-2.2" width="10.5" height="4.4" fill="#e8f020"/></g>
<text transform="translate(243.2,273.6) rotate(64.3)" font-size="5.2" text-anchor="end" dominant-baseline="middle" fill="#000" stroke="#000" stroke-width="0.12" font-family='"Liberation Serif", serif'>FBP2</text>
<text transform="translate(247.2,271.8) rotate(67.6)" font-size="5.2" text-anchor="end" dominant-baseline="middle" fill="#000" stroke="#000" stroke-width="0.12" font-family='"Liberation Serif", serif'>FN1</text>
<text transform="translate(251.3,270.2) rotate(70.9)" font-size="5.2" text-anchor="end" dominant-baseline="middle" fill="#000" stroke="#000" stroke-width="0.12" font-family='"Liberation Serif", serif'>CPA1</text>
<text transform="translate(255.5,268.9) rotate(74.2)" font-size="5.2" text-anchor="end" dominant-baseline="middle" fill="#000" stroke="#000" stroke-width="0.12" font-family='"Liberation Serif", serif'>GKN1</text>
<text transform="translate(259.8,267.8) rotate(77.5)" font-size="5.2" text-anchor="end" dominant-baseline="middle" fill="#000" stroke="#000" stroke-width="0.12" font-family='"Liberation Serif", serif'>GKN2</text>
<text transform="translate(264.2,267) rotate(80.8)" font-size="5.2" text-anchor="end" dominant-baseline="middle" fill="#000" stroke="#000" stroke-width="0.12" font-family='"Liberation Serif", serif'>CHGA</text>
<text transform="translate(268.5,266.4) rotate(84.1)" font-size="5.2" text-anchor="end" dominant-baseline="middle" fill="#000" stroke="#000" stroke-width="0.12" font-family='"Liberation Serif", serif'>LIPF</text>
<text transform="translate(272.9,266.1) rotate(87.4)" font-size="5.2" text-anchor="end" dominant-baseline="middle" fill="#000" stroke="#000" stroke-width="0.12" font-family='"Liberation Serif", serif'>CBLIF</text>
<defs><linearGradient id="pv" x1="0" x2="1" y1="0" y2="0"><stop offset="0" stop-color="#f7f4f9"/><stop offset="0.35" stop-color="#c6cfe6"/><stop offset="0.65" stop-color="#5f9fcd"/><stop offset="1" stop-color="#0a3161"/></linearGradient></defs>
<text x="387" y="272.5" font-size="4.6" text-anchor="middle" fill="#222" font-family='"Liberation Serif", serif' >pvalue</text>
<rect x="356.3" y="274" width="57.9" height="7.8" fill="url(#pv)"/>
<line x1="356.3" y1="282.3" x2="414.2" y2="282.3" stroke="#444" stroke-width="0.4"/>
<line x1="371.3" y1="282.3" x2="371.3" y2="283.6" stroke="#444" stroke-width="0.4"/>
<text x="371.3" y="288.5" font-size="4.2" text-anchor="middle" fill="#222" font-family='"Liberation Serif", serif' >0.02</text>
<line x1="385.5" y1="282.3" x2="385.5" y2="283.6" stroke="#444" stroke-width="0.4"/>
<text x="385.5" y="288.5" font-size="4.2" text-anchor="middle" fill="#222" font-family='"Liberation Serif", serif' >0.04</text>
<line x1="399.7" y1="282.3" x2="399.7" y2="283.6" stroke="#444" stroke-width="0.4"/>
<text x="399.7" y="288.5" font-size="4.2" text-anchor="middle" fill="#222" font-family='"Liberation Serif", serif' >0.06</text>
<text x="356.5" y="299.5" font-size="4.6" text-anchor="start" fill="#222" font-family='"Liberation Serif", serif' >KEGG Pathway</text>
<circle cx="359" cy="302.4" r="2.1" fill="#2c5aa0"/>
<text x="362.6" y="304.1" font-size="4.85" text-anchor="start" fill="#222" font-family='"Liberation Serif", serif' >ECM-receptor interaction</text>
<circle cx="359" cy="307.7" r="2.1" fill="#8a1c40"/>
<text x="362.6" y="309.4" font-size="4.85" text-anchor="start" fill="#222" font-family='"Liberation Serif", serif' >Protein digestion and absorption</text>
<circle cx="359" cy="313" r="2.1" fill="#d5391e"/>
<text x="362.6" y="314.7" font-size="4.85" text-anchor="start" fill="#222" font-family='"Liberation Serif", serif' >Metabolism of xenobiotics by cytochrome P450</text>
<circle cx="359" cy="318.3" r="2.1" fill="#6a9c32"/>
<text x="362.6" y="320" font-size="4.85" text-anchor="start" fill="#222" font-family='"Liberation Serif", serif' >Mineral absorption</text>
<circle cx="359" cy="323.6" r="2.1" fill="#4dbb7c"/>
<text x="362.6" y="325.3" font-size="4.85" text-anchor="start" fill="#222" font-family='"Liberation Serif", serif' >Drug metabolism - cytochrome P450</text>
<circle cx="359" cy="328.9" r="2.1" fill="#44a5b5"/>
<text x="362.6" y="330.6" font-size="4.85" text-anchor="start" fill="#222" font-family='"Liberation Serif", serif' >Gastric acid secretion</text>
<circle cx="359" cy="334.2" r="2.1" fill="#5577b5"/>
<text x="362.6" y="335.9" font-size="4.85" text-anchor="start" fill="#222" font-family='"Liberation Serif", serif' >Chemical carcinogenesis</text>
<circle cx="359" cy="339.5" r="2.1" fill="#a268a8"/>
<text x="362.6" y="341.2" font-size="4.85" text-anchor="start" fill="#222" font-family='"Liberation Serif", serif' >Retinol metabolism</text>
<circle cx="359" cy="344.8" r="2.1" fill="#e39a92"/>
<text x="362.6" y="346.5" font-size="4.85" text-anchor="start" fill="#222" font-family='"Liberation Serif", serif' >Focal adhesion</text>
<circle cx="359" cy="350.1" r="2.1" fill="#e0646c"/>
<text x="362.6" y="351.8" font-size="4.85" text-anchor="start" fill="#222" font-family='"Liberation Serif", serif' >Tyrosine metabolism</text>
<rect x="362.3" y="353" width="58" height="4.8" fill="#f4ff2a"/>
<circle cx="359" cy="355.4" r="2.1" fill="#b81a30"/>
<text x="362.6" y="357.1" font-size="4.85" text-anchor="start" fill="#222" font-family='"Liberation Serif", serif' >Glycolysis / Gluconeogenesis</text>
<circle cx="359" cy="360.7" r="2.1" fill="#a86a7e"/>
<text x="362.6" y="362.4" font-size="4.85" text-anchor="start" fill="#222" font-family='"Liberation Serif", serif' >Metabolic pathways</text>
<circle cx="359" cy="366" r="2.1" fill="#b3e3d5"/>
<text x="362.6" y="367.7" font-size="4.85" text-anchor="start" fill="#222" font-family='"Liberation Serif", serif' >Collecting duct acid secretion</text>
<circle cx="359" cy="371.3" r="2.1" fill="#b5f5f5"/>
<text x="362.6" y="373" font-size="4.85" text-anchor="start" fill="#222" font-family='"Liberation Serif", serif' >PI3K-Akt signaling pathway</text>
<rect x="362.3" y="374.2" width="68" height="4.8" fill="#f4ff2a"/>
<circle cx="359" cy="376.6" r="2.1" fill="#c5ffff"/>
<text x="362.6" y="378.3" font-size="4.85" text-anchor="start" fill="#222" font-family='"Liberation Serif", serif' >Fructose and mannose metabolism</text>
<text x="527.3" y="8.8" font-size="9.6" text-anchor="start" fill="#111" font-family='"Liberation Sans", sans-serif' >D</text>
<rect x="555.4" y="1.4" width="74.2" height="138.2" fill="none" stroke="#444" stroke-width="0.6"/>
<line x1="553.4" y1="134.3" x2="555.4" y2="134.3" stroke="#444" stroke-width="0.5"/>
<text transform="translate(548.9,134.3) rotate(-90)" font-size="4.2" text-anchor="middle" fill="#222" font-family='"Liberation Sans", sans-serif'>0</text>
<line x1="553.4" y1="113.5" x2="555.4" y2="113.5" stroke="#444" stroke-width="0.5"/>
<text transform="translate(548.9,113.5) rotate(-90)" font-size="4.2" text-anchor="middle" fill="#222" font-family='"Liberation Sans", sans-serif'>1</text>
<line x1="553.4" y1="92.7" x2="555.4" y2="92.7" stroke="#444" stroke-width="0.5"/>
<text transform="translate(548.9,92.7) rotate(-90)" font-size="4.2" text-anchor="middle" fill="#222" font-family='"Liberation Sans", sans-serif'>2</text>
<line x1="553.4" y1="71.9" x2="555.4" y2="71.9" stroke="#444" stroke-width="0.5"/>
<text transform="translate(548.9,71.9) rotate(-90)" font-size="4.2" text-anchor="middle" fill="#222" font-family='"Liberation Sans", sans-serif'>3</text>
<line x1="553.4" y1="51.1" x2="555.4" y2="51.1" stroke="#444" stroke-width="0.5"/>
<text transform="translate(548.9,51.1) rotate(-90)" font-size="4.2" text-anchor="middle" fill="#222" font-family='"Liberation Sans", sans-serif'>4</text>
<line x1="553.4" y1="30.3" x2="555.4" y2="30.3" stroke="#444" stroke-width="0.5"/>
<text transform="translate(548.9,30.3) rotate(-90)" font-size="4.2" text-anchor="middle" fill="#222" font-family='"Liberation Sans", sans-serif'>5</text>
<line x1="553.4" y1="9.5" x2="555.4" y2="9.5" stroke="#444" stroke-width="0.5"/>
<text transform="translate(548.9,9.5) rotate(-90)" font-size="4.2" text-anchor="middle" fill="#222" font-family='"Liberation Sans", sans-serif'>6</text>
<text transform="translate(536.4,73.6) rotate(-90)" font-size="5.1" text-anchor="middle" fill="#222" font-family='"Liberation Sans", sans-serif'>Expression − log<tspan font-size="3.6" dy="1.2">2</tspan><tspan dy="-1.2">(TPM + 1)</tspan></text>
<rect x="571.2" y="116.2" width="19" height="17.7" fill="#fb1e08" stroke="#333" stroke-width="0.35"/>
<line x1="571.2" y1="128.9" x2="590.2" y2="128.9" stroke="#111" stroke-width="0.8"/>
<line x1="580.8" y1="116.2" x2="580.8" y2="93.3" stroke="#333" stroke-width="0.35" stroke-dasharray="1,0.7"/>
<line x1="576.5" y1="93.3" x2="585.6" y2="93.3" stroke="#333" stroke-width="0.5"/>
<line x1="571.2" y1="134.3" x2="590.2" y2="134.3" stroke="#111" stroke-width="0.7"/>
<rect x="594.3" y="31.8" width="18.9" height="94.8" fill="#4a9ae0" stroke="#333" stroke-width="0.35"/>
<line x1="594.8" y1="48" x2="613.1" y2="48" stroke="#111" stroke-width="0.8"/>
<line x1="604" y1="31.8" x2="604" y2="12.6" stroke="#333" stroke-width="0.35" stroke-dasharray="1,0.7"/>
<line x1="599.4" y1="12.6" x2="608.5" y2="12.6" stroke="#333" stroke-width="0.5"/>
<line x1="594.8" y1="134.3" x2="613.1" y2="134.3" stroke="#111" stroke-width="0.7"/>
<path stroke="#111" stroke-width="0.8" stroke-linecap="square" d="M579.8 129.4h0M578 105.9h0M579.2 123h0M580.4 100.4h0M581.4 111.2h0M582.8 128h0M581.6 125.9h0M581.1 125.4h0M582.8 134.1h0M582.9 126.4h0M580 95.5h0M583.2 112.3h0M578.4 124.6h0M580.2 113.3h0M580.6 117.4h0M581.1 131.6h0M581.7 119.7h0M583.5 44.6h0M582.8 122.3h0M581 41.9h0M582.6 120.6h0M578 132.2h0M578.1 93.1h0M578.5 113.5h0M582.8 125.2h0M577.9 128.4h0M582.9 116.4h0M583.6 64.3h0M581.2 133.8h0M580 132.9h0M577.9 122.5h0M583.4 117h0M580.4 114.7h0M581.2 127.9h0M583.2 128.3h0M581.9 130.8h0M583.5 132.1h0M577.7 129.3h0M577.7 128.9h0M578 105.7h0M581.7 111.6h0M582 126.6h0M581.7 133.9h0M580.3 78.6h0M579.8 131.9h0M581.2 131.4h0M582.2 131.3h0M582 129h0M582.4 132.7h0M580.2 133h0M579.5 124.5h0M580.2 123.1h0M579.6 122.1h0M580.3 96.8h0M580.8 133.5h0M582.6 124h0M582.4 132.3h0M579.7 99.6h0M582.4 132.1h0M580.1 131.6h0M583.1 131h0M583.3 134.3h0M580.2 93.2h0M578.9 40.6h0M581.6 98.5h0M579.6 132.2h0M581.1 133.9h0M577.9 123.9h0M583.1 53.7h0M581.1 96.2h0M578.6 125.8h0M580.7 127.5h0M581.3 116.8h0M582.8 132.5h0M579.7 124.8h0M582.5 129.5h0M583.1 124.5h0M577.6 98.9h0M577.9 97.6h0M580.8 132.3h0M582.3 130.3h0M578.4 133.9h0M583.4 133.9h0M580.6 125h0M579.7 131.9h0M579.8 107.3h0M578.3 131.8h0M579.9 126.4h0M579.8 133.1h0M579.9 100.4h0M580.2 106h0M581.8 130h0M580.4 126.9h0M581.8 129.5h0M580.2 130.8h0M579.8 94.9h0M579.2 100.1h0M582.5 133.5h0M582.4 96.7h0M581 102.1h0M577.6 128.8h0M577.9 125h0M582.9 133.6h0M582.6 134.2h0M581.6 122.7h0M581.1 94.4h0M582.2 126.8h0M578.2 126.5h0M578 95h0M582.6 129.1h0M579.1 133.1h0M580 101.4h0M579.7 131.1h0M580.6 133.8h0M582.1 69.5h0M582.1 127h0M580.5 109.8h0M578.5 96.3h0M583.1 125.7h0M581.9 130.6h0M578.8 132.4h0M579 131.9h0M579.4 94.3h0M582.7 113.4h0M578.9 132.4h0M579.9 130.2h0M579.5 131.5h0M583.5 123h0M580.4 128.6h0M580.9 99h0M582.7 126.3h0M583.4 126h0M579 132.7h0M583.4 104.2h0M578.7 119.5h0M581.8 133h0M579.1 96.2h0M580.1 117h0M578.2 125h0M579.7 117.7h0M577.6 127.3h0M580.5 130.7h0M583.3 128.8h0M578.3 129.4h0M578.3 127.5h0M578.2 95.9h0M582.2 71.7h0M581.7 117.6h0M579.2 99.6h0M581.6 94.1h0M580.6 133.5h0M581.7 126.4h0M581.5 133h0M582.9 121.7h0M583.2 123.7h0M581.9 131.8h0M581.5 129.2h0M578.7 132h0M582.1 126.4h0M579.8 125.9h0M582.8 131.3h0M579.1 129.9h0M579.6 115.5h0M582.2 129.4h0M578.3 122.6h0M578.3 133.6h0M578.7 102.3h0M582.1 130.9h0M581.2 101.6h0M578.8 131.1h0M578.8 129.1h0M577.8 124.8h0M583.3 96.5h0M581.1 129.3h0M581.7 93.5h0M580.5 122h0M577.6 102.4h0M580.6 104.7h0M578.8 130.4h0M580.6 134.1h0M581 112.4h0M578.4 42.6h0M577.9 106h0M578.1 132.6h0M579.5 117.7h0M578.4 103.5h0M583.2 106.8h0M579.7 101.9h0M582.8 95.1h0M580.5 125.5h0M578.1 134h0M580.6 133.2h0M580.1 109.1h0M580.4 117.3h0M578.7 113.9h0M579.8 102.6h0M581.2 129.6h0M578.9 134.3h0M580.4 123h0M578.6 132.8h0M577.8 133.2h0M580.5 133.2h0M580.3 134.2h0M577.9 126.7h0M577.8 131.1h0M578.2 80.4h0M581.3 133.2h0M577.9 133.5h0M582.3 118.3h0M579.4 117.4h0M582.5 132.4h0M578.2 115.9h0M581.2 93.8h0M578.1 134.1h0M577.9 134.1h0M578.8 96.2h0M582.4 65.9h0M577.8 39.9h0M583.3 128.5h0M582.7 132.1h0M579.6 131.2h0M578.6 95.2h0M582.6 102.1h0M579.8 118.3h0M582.3 132.7h0M578.6 132.3h0M581.9 106.6h0M578.5 130.1h0M580.4 127.2h0M578.2 104.1h0M581.5 122.7h0M580.3 97.2h0M579.6 102.1h0M580 133.8h0M581 86.8h0M581.5 133.8h0M578.5 134h0M577.7 107.4h0M578.9 113h0M582.3 130.9h0M580.8 100.2h0M578.1 133.1h0M577.7 124.1h0M583 81.5h0M578.9 130.4h0M581.5 106.3h0M579.7 97.2h0M578.3 112.3h0M582.5 107h0M580.4 129.5h0M579.7 125.3h0M580.9 133.8h0M581.5 113.1h0M579.7 120.5h0M580.2 73.9h0M578.6 132.8h0M582.8 51.9h0M583.2 58.3h0M583.3 130.9h0M580.5 39.4h0M583.6 113.7h0M583.2 76.3h0M581.9 133.7h0M581.4 129.7h0M579.3 125.8h0M582.1 131.7h0M578.2 117.9h0M578.1 131h0M581.8 125.3h0M582.9 37.7h0M579.5 133.2h0M580.9 129.6h0M579.3 122.3h0M582.4 120.7h0M582.4 132.6h0M580.8 133.4h0M577.9 133.2h0M580.4 125.1h0M583.5 48.6h0M577.7 133h0M577.9 131.7h0M579.5 133.7h0M580.1 124.2h0M580.2 134h0M583.1 104.2h0M578.4 119.3h0M580.7 100.1h0M579.3 108.5h0M581.5 134.2h0M580.4 96h0M582.5 95.2h0M580.7 113.4h0M581.7 133h0M580 62h0M582.4 130.5h0M578.5 114.3h0M580.1 129.7h0M583.2 98.8h0M581 127h0M579.3 130.1h0M601.2 57.7h0M604.1 98.2h0M605 125.3h0M601.8 15.7h0M602.7 19.2h0M607.1 14.5h0M602.5 36h0M607.4 41.5h0M601.9 42.3h0M605.7 30.8h0M606.2 78.7h0M607.2 40.2h0M603.9 40.8h0M600.8 30.1h0M601.5 14.3h0M607.4 132.6h0M601.5 77.5h0M601.7 21.9h0M606.6 19.4h0M604.2 14.1h0M603.2 47h0M601.4 131.7h0M603 46.2h0M601.8 133.6h0M607.4 125h0M607.2 37.5h0M602.7 24h0M605.7 37.8h0M603.7 83.4h0M604.2 34.1h0M604.7 111h0M601.8 126.4h0M601.7 126.4h0M600.9 43.3h0M606.6 130.5h0M606.6 50.6h0M605.3 51.7h0M601.1 21.6h0M601.5 34.1h0M604 101.8h0M603 38.9h0M607.1 52.6h0M602.5 126.5h0M601.4 131.8h0M602.9 22.9h0M607.3 104.8h0M604.2 32.7h0M604.2 125.1h0M601 27.3h0M605.9 18.5h0M603.2 18.2h0M602 130.9h0M603.5 17.1h0M603 127.6h0M603.3 31.7h0M606.6 26h0M602 115h0M601.5 27.4h0M602.5 38.8h0M606.9 30.4h0M606.3 22.7h0M603.6 57.6h0M606.7 116.9h0M606.7 32.8h0M606.3 43.8h0M600.7 119.6h0M606.3 50.8h0M603.2 40.5h0M604.9 34.5h0M601.2 93.3h0M601.1 127.8h0M607.4 22.1h0M603.9 50.7h0M606.3 16.7h0M604.6 35h0M603.2 132.4h0M600.7 26.4h0M604.5 129.4h0M603.8 42.2h0M602.5 129.3h0M604.2 128.1h0M606.8 39.6h0M604.8 30.6h0M606.9 21.5h0M601.9 127.4h0M602.7 34.4h0M602 17.6h0M601.3 55.8h0M602 130.6h0M604 49.6h0M606.3 18.3h0M603.2 35.7h0M602.3 41.5h0M601.3 100.5h0M604.5 34.1h0M602 24.2h0M601.7 80.4h0M604.3 96.5h0M603.6 78.9h0M606.5 20.8h0M602.4 28.8h0M602.1 127.9h0M602.9 52.1h0M601.8 129.8h0M605.6 100.6h0M604.2 117.9h0M604.3 129.8h0M603.9 130.1h0M601.9 64.3h0M604.4 21.8h0M606.7 16.8h0M606.4 13.1h0M600.6 104.2h0M603 70.9h0M602.2 29.3h0M603.2 83.9h0M602.7 29.8h0M603.3 113.1h0M604.5 35.4h0M603.9 49h0M601.7 31.7h0M607 30.4h0M603.3 129.5h0M602.7 40.5h0M607.1 133.2h0M602.3 34.4h0M604.5 132.6h0M602.1 43.4h0M605.6 126.9h0M605.4 133.4h0M603.7 109.1h0M605.8 131.2h0M602.4 25.4h0M606.6 36.8h0M605.3 88.2h0M602.3 20.2h0M603.2 28.6h0M605 44.6h0M604 21.9h0M605.6 126.4h0M604.4 49.4h0M601.9 57h0M605.7 13.4h0M601.5 22.7h0M604.7 25.4h0M604.9 45.8h0M600.5 133h0M603.2 20.9h0M604.8 12.8h0M600.5 24.1h0"/>
<polyline points="580.1,37.5 580.1,6.4 604,6.4 604,10" fill="none" stroke="#777" stroke-width="0.45"/>
<text x="592.6" y="10.4" font-size="7.5" text-anchor="middle" fill="#f03030" font-family='"Liberation Sans", sans-serif' >*</text>
<text x="577.6" y="147.6" font-size="6.3" text-anchor="middle" fill="#222" font-family='"Liberation Sans", sans-serif' >Tumor</text>
<text x="609.5" y="147.6" font-size="6.3" text-anchor="middle" fill="#222" font-family='"Liberation Sans", sans-serif' >Normal</text>
<text x="577.6" y="158.4" font-size="6.3" text-anchor="middle" fill="#222" font-family='"Liberation Sans", sans-serif' >(n=408)</text>
<text x="609.5" y="158.4" font-size="6.3" text-anchor="middle" fill="#222" font-family='"Liberation Sans", sans-serif' >(n=211)</text>
<text x="527.6" y="175.3" font-size="10.5" text-anchor="start" fill="#111" font-family='"Liberation Sans", sans-serif' >E</text>
<line x1="562" y1="192.6" x2="527.5" y2="268.4" stroke="#555" stroke-width="0.45"/>
<line x1="562" y1="192.6" x2="599.9" y2="229.3" stroke="#555" stroke-width="0.45"/>
<line x1="599.9" y1="229.3" x2="527.5" y2="268.4" stroke="#555" stroke-width="0.45"/>
<line x1="527.5" y1="268.4" x2="605.6" y2="273.3" stroke="#555" stroke-width="0.45"/>
<line x1="562" y1="192.6" x2="600" y2="170" stroke="#555" stroke-width="0.45"/>
<line x1="562" y1="192.6" x2="635" y2="173.4" stroke="#555" stroke-width="0.45"/>
<line x1="562" y1="192.6" x2="635" y2="184.7" stroke="#555" stroke-width="0.45"/>
<line x1="562" y1="192.6" x2="635" y2="195" stroke="#555" stroke-width="0.45"/>
<line x1="562" y1="192.6" x2="635" y2="196.5" stroke="#555" stroke-width="0.45"/>
<line x1="562" y1="192.6" x2="635" y2="197.7" stroke="#555" stroke-width="0.45"/>
<line x1="599.9" y1="229.3" x2="635" y2="213" stroke="#555" stroke-width="0.45"/>
<line x1="599.9" y1="229.3" x2="635" y2="217" stroke="#555" stroke-width="0.45"/>
<line x1="599.9" y1="229.3" x2="635" y2="220.5" stroke="#555" stroke-width="0.45"/>
<line x1="599.9" y1="229.3" x2="635" y2="223.5" stroke="#555" stroke-width="0.45"/>
<line x1="599.9" y1="229.3" x2="635" y2="225.5" stroke="#555" stroke-width="0.45"/>
<line x1="599.9" y1="229.3" x2="635" y2="227" stroke="#555" stroke-width="0.45"/>
<line x1="599.9" y1="229.3" x2="635" y2="228" stroke="#555" stroke-width="0.45"/>
<line x1="605.6" y1="273.3" x2="635" y2="253.6" stroke="#555" stroke-width="0.45"/>
<line x1="605.6" y1="273.3" x2="635" y2="256.5" stroke="#555" stroke-width="0.45"/>
<line x1="605.6" y1="273.3" x2="635" y2="259" stroke="#555" stroke-width="0.45"/>
<line x1="605.6" y1="273.3" x2="635" y2="270" stroke="#555" stroke-width="0.45"/>
<rect x="550.2" y="187.4" width="23.5" height="10.3" rx="1.2" fill="#93d8f2"/>
<text x="562" y="193.9" font-size="3.6" text-anchor="middle" fill="#222" font-family='"Liberation Sans", sans-serif' >CKM</text>
<rect x="588.3" y="223.9" width="23.2" height="10.8" rx="1.2" fill="#93d8f2"/>
<text x="599.9" y="230.6" font-size="3.6" text-anchor="middle" fill="#222" font-family='"Liberation Sans", sans-serif' >ALDOB</text>
<rect x="515.7" y="263" width="23.5" height="10.8" rx="1.2" fill="#93d8f2"/>
<text x="527.5" y="269.7" font-size="3.6" text-anchor="middle" fill="#222" font-family='"Liberation Sans", sans-serif' >FBP2</text>
<rect x="594" y="267.9" width="23.2" height="10.8" rx="1.2" fill="#93d8f2"/>
<text x="605.6" y="274.6" font-size="3.6" text-anchor="middle" fill="#222" font-family='"Liberation Sans", sans-serif' >GPT2</text>
<text x="496.5" y="292.5" font-size="10.5" text-anchor="start" fill="#111" font-family='"Liberation Sans", sans-serif' >F</text>
<defs><radialGradient id="nodeg" cx="0.38" cy="0.32" r="0.7"><stop offset="0" stop-color="#fff" stop-opacity="0.75"/><stop offset="0.35" stop-color="#fff" stop-opacity="0.15"/><stop offset="0.8" stop-color="#000" stop-opacity="0"/><stop offset="1" stop-color="#000" stop-opacity="0.25"/></radialGradient></defs>
<rect x="502.2" y="294" width="132.3" height="133" fill="#f5f5f1"/>
<line x1="548.7" y1="303.6" x2="582.2" y2="305.7" stroke="#5fdc5f" stroke-width="0.62"/>
<line x1="548.6" y1="304.3" x2="582.1" y2="306.4" stroke="#b44ee0" stroke-width="0.62"/>
<line x1="548.6" y1="304.9" x2="582.1" y2="307" stroke="#4fcfe8" stroke-width="0.6"/>
<line x1="548.5" y1="305.6" x2="582" y2="307.7" stroke="#e2e25a" stroke-width="0.6"/>
<line x1="549.1" y1="305.5" x2="523.3" y2="318.6" stroke="#5fdc5f" stroke-width="0.62"/>
<line x1="548.8" y1="304.9" x2="523" y2="318" stroke="#b44ee0" stroke-width="0.62"/>
<line x1="548.4" y1="304.3" x2="522.6" y2="317.4" stroke="#4fcfe8" stroke-width="0.6"/>
<line x1="548.1" y1="303.7" x2="522.3" y2="316.8" stroke="#e2e25a" stroke-width="0.6"/>
<line x1="549.9" y1="304.1" x2="561.6" y2="333.2" stroke="#5fdc5f" stroke-width="0.62"/>
<line x1="549.2" y1="304.3" x2="560.9" y2="333.4" stroke="#b44ee0" stroke-width="0.62"/>
<line x1="548.6" y1="304.6" x2="560.3" y2="333.7" stroke="#4fcfe8" stroke-width="0.6"/>
<line x1="548" y1="304.9" x2="559.7" y2="334" stroke="#e2e25a" stroke-width="0.6"/>
<line x1="547.3" y1="305.1" x2="559" y2="334.2" stroke="#333333" stroke-width="0.55"/>
<line x1="548.9" y1="304" x2="607.4" y2="337.9" stroke="#5fdc5f" stroke-width="0.62"/>
<line x1="548.6" y1="304.6" x2="607.1" y2="338.5" stroke="#b44ee0" stroke-width="0.62"/>
<line x1="548.3" y1="305.2" x2="606.8" y2="339.1" stroke="#333333" stroke-width="0.55"/>
<line x1="549.4" y1="305.3" x2="514" y2="348" stroke="#5fdc5f" stroke-width="0.62"/>
<line x1="548.9" y1="304.8" x2="513.5" y2="347.5" stroke="#b44ee0" stroke-width="0.62"/>
<line x1="548.3" y1="304.4" x2="512.9" y2="347.1" stroke="#4fcfe8" stroke-width="0.6"/>
<line x1="547.8" y1="303.9" x2="512.4" y2="346.6" stroke="#e2e25a" stroke-width="0.6"/>
<line x1="549.6" y1="304.5" x2="556.9" y2="373.9" stroke="#5fdc5f" stroke-width="0.62"/>
<line x1="548.9" y1="304.6" x2="556.2" y2="374" stroke="#b44ee0" stroke-width="0.62"/>
<line x1="548.3" y1="304.6" x2="555.6" y2="374" stroke="#4fcfe8" stroke-width="0.6"/>
<line x1="547.6" y1="304.7" x2="554.9" y2="374.1" stroke="#333333" stroke-width="0.55"/>
<line x1="549.9" y1="304.9" x2="533.1" y2="371.2" stroke="#5fdc5f" stroke-width="0.62"/>
<line x1="549.3" y1="304.8" x2="532.5" y2="371.1" stroke="#b44ee0" stroke-width="0.62"/>
<line x1="548.6" y1="304.6" x2="531.8" y2="370.9" stroke="#4fcfe8" stroke-width="0.6"/>
<line x1="547.9" y1="304.4" x2="531.1" y2="370.7" stroke="#e2e25a" stroke-width="0.6"/>
<line x1="547.3" y1="304.3" x2="530.5" y2="370.6" stroke="#333333" stroke-width="0.55"/>
<line x1="582.3" y1="307.7" x2="523" y2="318.7" stroke="#5fdc5f" stroke-width="0.62"/>
<line x1="582.2" y1="307" x2="522.9" y2="318" stroke="#b44ee0" stroke-width="0.62"/>
<line x1="582" y1="306.4" x2="522.7" y2="317.4" stroke="#4fcfe8" stroke-width="0.6"/>
<line x1="581.9" y1="305.7" x2="522.6" y2="316.7" stroke="#333333" stroke-width="0.55"/>
<line x1="583.2" y1="307.6" x2="561.4" y2="334.6" stroke="#5fdc5f" stroke-width="0.62"/>
<line x1="582.6" y1="307.1" x2="560.8" y2="334.1" stroke="#b44ee0" stroke-width="0.62"/>
<line x1="582.1" y1="306.7" x2="560.3" y2="333.7" stroke="#4fcfe8" stroke-width="0.6"/>
<line x1="581.6" y1="306.3" x2="559.8" y2="333.3" stroke="#e2e25a" stroke-width="0.6"/>
<line x1="581" y1="305.8" x2="559.2" y2="332.8" stroke="#333333" stroke-width="0.55"/>
<line x1="583.2" y1="305.9" x2="608.2" y2="337.7" stroke="#5fdc5f" stroke-width="0.62"/>
<line x1="582.6" y1="306.3" x2="607.6" y2="338.1" stroke="#b44ee0" stroke-width="0.62"/>
<line x1="582.1" y1="306.7" x2="607.1" y2="338.5" stroke="#4fcfe8" stroke-width="0.6"/>
<line x1="581.6" y1="307.1" x2="606.6" y2="338.9" stroke="#e2e25a" stroke-width="0.6"/>
<line x1="581" y1="307.5" x2="606" y2="339.3" stroke="#333333" stroke-width="0.55"/>
<line x1="582.4" y1="307.3" x2="513.5" y2="347.9" stroke="#5fdc5f" stroke-width="0.62"/>
<line x1="582.1" y1="306.7" x2="513.2" y2="347.3" stroke="#b44ee0" stroke-width="0.62"/>
<line x1="581.8" y1="306.1" x2="512.9" y2="346.7" stroke="#4fcfe8" stroke-width="0.6"/>
<line x1="583.1" y1="307.1" x2="556.9" y2="374.4" stroke="#5fdc5f" stroke-width="0.62"/>
<line x1="582.4" y1="306.8" x2="556.2" y2="374.1" stroke="#b44ee0" stroke-width="0.62"/>
<line x1="581.8" y1="306.6" x2="555.6" y2="373.9" stroke="#4fcfe8" stroke-width="0.6"/>
<line x1="581.1" y1="306.3" x2="554.9" y2="373.6" stroke="#e2e25a" stroke-width="0.6"/>
<line x1="523.1" y1="317.1" x2="560.6" y2="333.1" stroke="#5fdc5f" stroke-width="0.62"/>
<line x1="522.8" y1="317.7" x2="560.3" y2="333.7" stroke="#b44ee0" stroke-width="0.62"/>
<line x1="522.5" y1="318.3" x2="560" y2="334.3" stroke="#e2e25a" stroke-width="0.6"/>
<line x1="523.8" y1="318" x2="514.2" y2="347.6" stroke="#5fdc5f" stroke-width="0.62"/>
<line x1="523.1" y1="317.8" x2="513.5" y2="347.4" stroke="#b44ee0" stroke-width="0.62"/>
<line x1="522.5" y1="317.6" x2="512.9" y2="347.2" stroke="#4fcfe8" stroke-width="0.6"/>
<line x1="521.8" y1="317.4" x2="512.2" y2="347" stroke="#e2e25a" stroke-width="0.6"/>
<line x1="523.5" y1="317.6" x2="532.5" y2="370.8" stroke="#5fdc5f" stroke-width="0.62"/>
<line x1="522.8" y1="317.7" x2="531.8" y2="370.9" stroke="#b44ee0" stroke-width="0.62"/>
<line x1="522.1" y1="317.8" x2="531.1" y2="371" stroke="#4fcfe8" stroke-width="0.6"/>
<line x1="523.7" y1="317.2" x2="556.8" y2="373.5" stroke="#5fdc5f" stroke-width="0.62"/>
<line x1="523.1" y1="317.5" x2="556.2" y2="373.8" stroke="#b44ee0" stroke-width="0.62"/>
<line x1="522.5" y1="317.9" x2="555.6" y2="374.2" stroke="#e2e25a" stroke-width="0.6"/>
<line x1="521.9" y1="318.2" x2="555" y2="374.5" stroke="#333333" stroke-width="0.55"/>
<line x1="523" y1="316.7" x2="607.3" y2="337.5" stroke="#5fdc5f" stroke-width="0.62"/>
<line x1="522.9" y1="317.4" x2="607.2" y2="338.2" stroke="#b44ee0" stroke-width="0.62"/>
<line x1="522.7" y1="318" x2="607" y2="338.8" stroke="#4fcfe8" stroke-width="0.6"/>
<line x1="522.6" y1="318.7" x2="606.9" y2="339.5" stroke="#e2e25a" stroke-width="0.6"/>
<line x1="560.4" y1="332.7" x2="607.2" y2="337.5" stroke="#5fdc5f" stroke-width="0.62"/>
<line x1="560.3" y1="333.4" x2="607.1" y2="338.2" stroke="#b44ee0" stroke-width="0.62"/>
<line x1="560.3" y1="334" x2="607.1" y2="338.8" stroke="#4fcfe8" stroke-width="0.6"/>
<line x1="560.2" y1="334.7" x2="607" y2="339.5" stroke="#e2e25a" stroke-width="0.6"/>
<line x1="560.5" y1="334.4" x2="513.4" y2="348" stroke="#5fdc5f" stroke-width="0.62"/>
<line x1="560.3" y1="333.7" x2="513.2" y2="347.3" stroke="#b44ee0" stroke-width="0.62"/>
<line x1="560.1" y1="333" x2="513" y2="346.6" stroke="#4fcfe8" stroke-width="0.6"/>
<line x1="561.3" y1="333.8" x2="556.9" y2="374.1" stroke="#5fdc5f" stroke-width="0.62"/>
<line x1="560.6" y1="333.7" x2="556.2" y2="374" stroke="#b44ee0" stroke-width="0.62"/>
<line x1="560" y1="333.7" x2="555.6" y2="374" stroke="#4fcfe8" stroke-width="0.6"/>
<line x1="559.3" y1="333.6" x2="554.9" y2="373.9" stroke="#e2e25a" stroke-width="0.6"/>
<line x1="560.7" y1="333.1" x2="618.7" y2="371.2" stroke="#5fdc5f" stroke-width="0.62"/>
<line x1="560.3" y1="333.7" x2="618.3" y2="371.8" stroke="#b44ee0" stroke-width="0.62"/>
<line x1="559.9" y1="334.3" x2="617.9" y2="372.4" stroke="#4fcfe8" stroke-width="0.6"/>
<line x1="561.6" y1="333.4" x2="574" y2="389.7" stroke="#5fdc5f" stroke-width="0.62"/>
<line x1="561" y1="333.6" x2="573.4" y2="389.9" stroke="#b44ee0" stroke-width="0.62"/>
<line x1="560.3" y1="333.7" x2="572.7" y2="390" stroke="#4fcfe8" stroke-width="0.6"/>
<line x1="559.6" y1="333.8" x2="572" y2="390.1" stroke="#e2e25a" stroke-width="0.6"/>
<line x1="559" y1="334" x2="571.4" y2="390.3" stroke="#333333" stroke-width="0.55"/>
<line x1="560.9" y1="333.3" x2="605.1" y2="394.6" stroke="#5fdc5f" stroke-width="0.62"/>
<line x1="560.3" y1="333.7" x2="604.5" y2="395" stroke="#b44ee0" stroke-width="0.62"/>
<line x1="559.7" y1="334.1" x2="603.9" y2="395.4" stroke="#e2e25a" stroke-width="0.6"/>
<line x1="561.1" y1="334.3" x2="532.6" y2="371.5" stroke="#5fdc5f" stroke-width="0.62"/>
<line x1="560.6" y1="333.9" x2="532.1" y2="371.1" stroke="#b44ee0" stroke-width="0.62"/>
<line x1="560" y1="333.5" x2="531.5" y2="370.7" stroke="#4fcfe8" stroke-width="0.6"/>
<line x1="559.5" y1="333.1" x2="531" y2="370.3" stroke="#e2e25a" stroke-width="0.6"/>
<line x1="607.2" y1="339.5" x2="513.3" y2="348.3" stroke="#5fdc5f" stroke-width="0.62"/>
<line x1="607.1" y1="338.8" x2="513.2" y2="347.6" stroke="#b44ee0" stroke-width="0.62"/>
<line x1="607.1" y1="338.2" x2="513.2" y2="347" stroke="#4fcfe8" stroke-width="0.6"/>
<line x1="607" y1="337.5" x2="513.1" y2="346.3" stroke="#e2e25a" stroke-width="0.6"/>
<line x1="607.7" y1="339.3" x2="556.5" y2="374.8" stroke="#5fdc5f" stroke-width="0.62"/>
<line x1="607.3" y1="338.8" x2="556.1" y2="374.3" stroke="#b44ee0" stroke-width="0.62"/>
<line x1="606.9" y1="338.2" x2="555.7" y2="373.7" stroke="#4fcfe8" stroke-width="0.6"/>
<line x1="606.5" y1="337.7" x2="555.3" y2="373.2" stroke="#e2e25a" stroke-width="0.6"/>
<line x1="608.1" y1="338.2" x2="619.3" y2="371.5" stroke="#5fdc5f" stroke-width="0.62"/>
<line x1="607.4" y1="338.4" x2="618.6" y2="371.7" stroke="#b44ee0" stroke-width="0.62"/>
<line x1="606.8" y1="338.6" x2="618" y2="371.9" stroke="#4fcfe8" stroke-width="0.6"/>
<line x1="606.1" y1="338.8" x2="617.3" y2="372.1" stroke="#e2e25a" stroke-width="0.6"/>
<line x1="607.8" y1="338.5" x2="605.2" y2="395" stroke="#5fdc5f" stroke-width="0.62"/>
<line x1="607.1" y1="338.5" x2="604.5" y2="395" stroke="#b44ee0" stroke-width="0.62"/>
<line x1="606.4" y1="338.5" x2="603.8" y2="395" stroke="#e2e25a" stroke-width="0.6"/>
<line x1="607.6" y1="339.7" x2="532.3" y2="372.1" stroke="#5fdc5f" stroke-width="0.62"/>
<line x1="607.4" y1="339.1" x2="532.1" y2="371.5" stroke="#b44ee0" stroke-width="0.62"/>
<line x1="607.1" y1="338.5" x2="531.8" y2="370.9" stroke="#4fcfe8" stroke-width="0.6"/>
<line x1="606.8" y1="337.9" x2="531.5" y2="370.3" stroke="#e2e25a" stroke-width="0.6"/>
<line x1="606.6" y1="337.3" x2="531.3" y2="369.7" stroke="#333333" stroke-width="0.55"/>
<line x1="607.9" y1="339.1" x2="573.5" y2="390.6" stroke="#5fdc5f" stroke-width="0.62"/>
<line x1="607.4" y1="338.7" x2="573" y2="390.2" stroke="#b44ee0" stroke-width="0.62"/>
<line x1="606.8" y1="338.3" x2="572.4" y2="389.8" stroke="#4fcfe8" stroke-width="0.6"/>
<line x1="606.3" y1="337.9" x2="571.9" y2="389.4" stroke="#e2e25a" stroke-width="0.6"/>
<line x1="514" y1="346.7" x2="532.6" y2="370.3" stroke="#5fdc5f" stroke-width="0.62"/>
<line x1="513.5" y1="347.1" x2="532.1" y2="370.7" stroke="#b44ee0" stroke-width="0.62"/>
<line x1="512.9" y1="347.5" x2="531.5" y2="371.1" stroke="#e2e25a" stroke-width="0.6"/>
<line x1="512.4" y1="347.9" x2="531" y2="371.5" stroke="#333333" stroke-width="0.55"/>
<line x1="513.6" y1="346.7" x2="556.3" y2="373.4" stroke="#5fdc5f" stroke-width="0.62"/>
<line x1="513.2" y1="347.3" x2="555.9" y2="374" stroke="#b44ee0" stroke-width="0.62"/>
<line x1="512.8" y1="347.9" x2="555.5" y2="374.6" stroke="#4fcfe8" stroke-width="0.6"/>
<line x1="531.9" y1="370.2" x2="556" y2="373.3" stroke="#5fdc5f" stroke-width="0.62"/>
<line x1="531.8" y1="370.9" x2="555.9" y2="374" stroke="#b44ee0" stroke-width="0.62"/>
<line x1="531.7" y1="371.6" x2="555.8" y2="374.7" stroke="#e2e25a" stroke-width="0.6"/>
<line x1="555.9" y1="373.3" x2="618.3" y2="371.1" stroke="#5fdc5f" stroke-width="0.62"/>
<line x1="555.9" y1="374" x2="618.3" y2="371.8" stroke="#b44ee0" stroke-width="0.62"/>
<line x1="555.9" y1="374.7" x2="618.3" y2="372.5" stroke="#e2e25a" stroke-width="0.6"/>
<line x1="556.4" y1="373.5" x2="573.2" y2="389.5" stroke="#5fdc5f" stroke-width="0.62"/>
<line x1="555.9" y1="374" x2="572.7" y2="390" stroke="#b44ee0" stroke-width="0.62"/>
<line x1="555.4" y1="374.5" x2="572.2" y2="390.5" stroke="#4fcfe8" stroke-width="0.6"/>
<line x1="556.2" y1="373.4" x2="604.8" y2="394.4" stroke="#5fdc5f" stroke-width="0.62"/>
<line x1="555.9" y1="374" x2="604.5" y2="395" stroke="#b44ee0" stroke-width="0.62"/>
<line x1="555.6" y1="374.6" x2="604.2" y2="395.6" stroke="#e2e25a" stroke-width="0.6"/>
<line x1="618.6" y1="372.4" x2="573" y2="390.6" stroke="#5fdc5f" stroke-width="0.62"/>
<line x1="618.3" y1="371.8" x2="572.7" y2="390" stroke="#b44ee0" stroke-width="0.62"/>
<line x1="618" y1="371.2" x2="572.4" y2="389.4" stroke="#e2e25a" stroke-width="0.6"/>
<line x1="619.2" y1="372.3" x2="605.4" y2="395.5" stroke="#5fdc5f" stroke-width="0.62"/>
<line x1="618.6" y1="372" x2="604.8" y2="395.2" stroke="#b44ee0" stroke-width="0.62"/>
<line x1="618" y1="371.6" x2="604.2" y2="394.8" stroke="#4fcfe8" stroke-width="0.6"/>
<line x1="617.4" y1="371.3" x2="603.6" y2="394.5" stroke="#e2e25a" stroke-width="0.6"/>
<line x1="572.9" y1="389" x2="604.7" y2="394" stroke="#5fdc5f" stroke-width="0.62"/>
<line x1="572.8" y1="389.7" x2="604.6" y2="394.7" stroke="#b44ee0" stroke-width="0.62"/>
<line x1="572.6" y1="390.3" x2="604.4" y2="395.3" stroke="#4fcfe8" stroke-width="0.6"/>
<line x1="572.5" y1="391" x2="604.3" y2="396" stroke="#e2e25a" stroke-width="0.6"/>
<circle cx="548.6" cy="304.6" r="5.5" fill="#a8e6c6" stroke="#777" stroke-width="0.35"/>
<circle cx="548.6" cy="304.6" r="5.3" fill="url(#nodeg)"/>
<text x="552.8" y="300" font-size="3.3" text-anchor="start" fill="#444" font-family='"Liberation Sans", sans-serif' >ALDOA</text>
<circle cx="582.1" cy="306.7" r="5.5" fill="#c6c47e" stroke="#777" stroke-width="0.35"/>
<circle cx="582.1" cy="306.7" r="5.3" fill="url(#nodeg)"/>
<text x="586.3" y="302.1" font-size="3.3" text-anchor="start" fill="#444" font-family='"Liberation Sans", sans-serif' >ALDOC</text>
<circle cx="522.8" cy="317.7" r="5.5" fill="#62c2b0" stroke="#777" stroke-width="0.35"/>
<circle cx="522.8" cy="317.7" r="5.3" fill="url(#nodeg)"/>
<text x="527" y="313.1" font-size="3.3" text-anchor="start" fill="#444" font-family='"Liberation Sans", sans-serif' >TALDO1</text>
<circle cx="560.3" cy="333.7" r="5.5" fill="#aaa2ea" stroke="#777" stroke-width="0.35"/>
<circle cx="560.3" cy="333.7" r="5.3" fill="url(#nodeg)"/>
<text x="564.5" y="329.1" font-size="3.3" text-anchor="start" fill="#444" font-family='"Liberation Sans", sans-serif' >PFKM</text>
<circle cx="607.1" cy="338.5" r="5.5" fill="#e05656" stroke="#777" stroke-width="0.35"/>
<circle cx="607.1" cy="338.5" r="5.3" fill="url(#nodeg)"/>
<text x="611.3" y="333.9" font-size="3.3" text-anchor="start" fill="#444" font-family='"Liberation Sans", sans-serif' >FBP2</text>
<circle cx="513.2" cy="347.3" r="5.5" fill="#e29a9a" stroke="#777" stroke-width="0.35"/>
<circle cx="513.2" cy="347.3" r="5.3" fill="url(#nodeg)"/>
<text x="517.4" y="342.7" font-size="3.3" text-anchor="start" fill="#444" font-family='"Liberation Sans", sans-serif' >TPI1</text>
<circle cx="531.8" cy="370.9" r="5.5" fill="#e4bc9c" stroke="#777" stroke-width="0.35"/>
<circle cx="531.8" cy="370.9" r="5.3" fill="url(#nodeg)"/>
<text x="536" y="366.3" font-size="3.3" text-anchor="start" fill="#444" font-family='"Liberation Sans", sans-serif' >ALDOB</text>
<circle cx="555.9" cy="374" r="5.5" fill="#a4cbec" stroke="#777" stroke-width="0.35"/>
<circle cx="555.9" cy="374" r="5.3" fill="url(#nodeg)"/>
<text x="560.1" y="369.4" font-size="3.3" text-anchor="start" fill="#444" font-family='"Liberation Sans", sans-serif' >GPI</text>
<circle cx="618.3" cy="371.8" r="5.5" fill="#5562d2" stroke="#777" stroke-width="0.35"/>
<circle cx="618.3" cy="371.8" r="5.3" fill="url(#nodeg)"/>
<text x="622.5" y="367.2" font-size="3.3" text-anchor="start" fill="#444" font-family='"Liberation Sans", sans-serif' >HK1</text>
<circle cx="572.7" cy="390" r="5.5" fill="#bce496" stroke="#777" stroke-width="0.35"/>
<circle cx="572.7" cy="390" r="5.3" fill="url(#nodeg)"/>
<text x="576.9" y="385.4" font-size="3.3" text-anchor="start" fill="#444" font-family='"Liberation Sans", sans-serif' >HK3</text>
<circle cx="604.5" cy="395" r="5.5" fill="#5fc25f" stroke="#777" stroke-width="0.35"/>
<circle cx="604.5" cy="395" r="5.3" fill="url(#nodeg)"/>
<text x="608.7" y="390.4" font-size="3.3" text-anchor="start" fill="#444" font-family='"Liberation Sans", sans-serif' >HKDC1</text>
<rect x="503" y="402.6" width="48.5" height="23.6" rx="0.8" fill="#f1f1ec" stroke="#e4e4de" stroke-width="0.3"/>
<rect x="553" y="402.6" width="42" height="23.6" rx="0.8" fill="#f1f1ec" stroke="#e4e4de" stroke-width="0.3"/>
<rect x="596.5" y="402.6" width="36.5" height="23.6" rx="0.8" fill="#f1f1ec" stroke="#e4e4de" stroke-width="0.3"/>
<text x="504" y="405.8" font-size="2.8" text-anchor="start" fill="#555" font-weight="bold" font-family='"Liberation Sans", sans-serif' >Known Interactions</text>
<line x1="506" y1="409.9" x2="514" y2="409.9" stroke="#6cd0e0" stroke-width="0.7"/>
<rect x="505.2" y="408.7" width="2.4" height="2.4" rx="0.6" fill="#f4f4f0" stroke="#888" stroke-width="0.3"/><rect x="512.4" y="408.7" width="2.4" height="2.4" rx="0.6" fill="#f4f4f0" stroke="#888" stroke-width="0.3"/>
<text x="518.4" y="410.8" font-size="2.6" text-anchor="start" fill="#777" font-style="italic" font-family='"Liberation Sans", sans-serif' >from curated databases</text>
<line x1="506" y1="415.6" x2="514" y2="415.6" stroke="#d060e8" stroke-width="0.7"/>
<rect x="505.2" y="414.4" width="2.4" height="2.4" rx="0.6" fill="#f4f4f0" stroke="#888" stroke-width="0.3"/><rect x="512.4" y="414.4" width="2.4" height="2.4" rx="0.6" fill="#f4f4f0" stroke="#888" stroke-width="0.3"/>
<text x="518.4" y="416.5" font-size="2.6" text-anchor="start" fill="#777" font-style="italic" font-family='"Liberation Sans", sans-serif' >experimentally determined</text>
<text x="554.2" y="405.8" font-size="2.8" text-anchor="start" fill="#555" font-weight="bold" font-family='"Liberation Sans", sans-serif' >Predicted Interactions</text>
<line x1="556.2" y1="409.9" x2="564.2" y2="409.9" stroke="#5fd05f" stroke-width="0.7"/>
<rect x="555.4" y="408.7" width="2.4" height="2.4" rx="0.6" fill="#f4f4f0" stroke="#888" stroke-width="0.3"/><rect x="562.6" y="408.7" width="2.4" height="2.4" rx="0.6" fill="#f4f4f0" stroke="#888" stroke-width="0.3"/>
<text x="568.9" y="410.8" font-size="2.6" text-anchor="start" fill="#777" font-style="italic" font-family='"Liberation Sans", sans-serif' >gene neighborhood</text>
<line x1="556.2" y1="415.6" x2="564.2" y2="415.6" stroke="#f05050" stroke-width="0.7"/>
<rect x="555.4" y="414.4" width="2.4" height="2.4" rx="0.6" fill="#f4f4f0" stroke="#888" stroke-width="0.3"/><rect x="562.6" y="414.4" width="2.4" height="2.4" rx="0.6" fill="#f4f4f0" stroke="#888" stroke-width="0.3"/>
<text x="568.9" y="416.5" font-size="2.6" text-anchor="start" fill="#777" font-style="italic" font-family='"Liberation Sans", sans-serif' >gene fusions</text>
<line x1="556.2" y1="421.4" x2="564.2" y2="421.4" stroke="#3030f0" stroke-width="0.7"/>
<rect x="555.4" y="420.2" width="2.4" height="2.4" rx="0.6" fill="#f4f4f0" stroke="#888" stroke-width="0.3"/><rect x="562.6" y="420.2" width="2.4" height="2.4" rx="0.6" fill="#f4f4f0" stroke="#888" stroke-width="0.3"/>
<text x="568.9" y="422.3" font-size="2.6" text-anchor="start" fill="#777" font-style="italic" font-family='"Liberation Sans", sans-serif' >gene co-occurrence</text>
<text x="597.5" y="405.8" font-size="2.8" text-anchor="start" fill="#555" font-weight="bold" font-family='"Liberation Sans", sans-serif' >Others</text>
<line x1="599.5" y1="409.9" x2="607.5" y2="409.9" stroke="#c8d850" stroke-width="0.7"/>
<rect x="598.7" y="408.7" width="2.4" height="2.4" rx="0.6" fill="#f4f4f0" stroke="#888" stroke-width="0.3"/><rect x="605.9" y="408.7" width="2.4" height="2.4" rx="0.6" fill="#f4f4f0" stroke="#888" stroke-width="0.3"/>
<text x="611.5" y="410.8" font-size="2.6" text-anchor="start" fill="#777" font-style="italic" font-family='"Liberation Sans", sans-serif' >textmining</text>
<line x1="599.5" y1="415.6" x2="607.5" y2="415.6" stroke="#333" stroke-width="0.7"/>
<rect x="598.7" y="414.4" width="2.4" height="2.4" rx="0.6" fill="#f4f4f0" stroke="#888" stroke-width="0.3"/><rect x="605.9" y="414.4" width="2.4" height="2.4" rx="0.6" fill="#f4f4f0" stroke="#888" stroke-width="0.3"/>
<text x="611.5" y="416.5" font-size="2.6" text-anchor="start" fill="#777" font-style="italic" font-family='"Liberation Sans", sans-serif' >co-expression</text>
<line x1="599.5" y1="421.4" x2="607.5" y2="421.4" stroke="#8080f0" stroke-width="0.7"/>
<rect x="598.7" y="420.2" width="2.4" height="2.4" rx="0.6" fill="#f4f4f0" stroke="#888" stroke-width="0.3"/><rect x="605.9" y="420.2" width="2.4" height="2.4" rx="0.6" fill="#f4f4f0" stroke="#888" stroke-width="0.3"/>
<text x="611.5" y="422.3" font-size="2.6" text-anchor="start" fill="#777" font-style="italic" font-family='"Liberation Sans", sans-serif' >protein homology</text>
<defs><linearGradient id="hmg" x1="0" x2="0" y1="0" y2="1"><stop offset="0" stop-color="#ee1414"/><stop offset="0.5" stop-color="#ffffff"/><stop offset="1" stop-color="#1414ee"/></linearGradient></defs>
<text x="8.5" y="456.5" font-size="10.5" text-anchor="start" fill="#111" font-family='"Liberation Sans", sans-serif' >G</text>
<text x="79.6" y="454.3" font-size="8.7" text-anchor="middle" fill="#111" font-family='"Liberation Sans", sans-serif' >GSE118916</text>
<rect x="34.2" y="486" width="42.2" height="5.5" fill="#72ece4"/><rect x="76.2" y="486" width="12.2" height="5.5" fill="#f28a84"/><rect x="88.2" y="486" width="3.2" height="5.5" fill="#72ece4"/><rect x="91.2" y="486" width="33.2" height="5.5" fill="#f28a84"/>
<path fill="#f79393" d="M34.2 492h3.3v21.3h-3.3zM58.2 492h3.3v21.3h-3.3zM64.2 492h3.3v21.3h-3.3zM109.2 576h3.3v21.3h-3.3z"/><path fill="#f8a6a6" d="M37.2 492h3.3v21.3h-3.3zM70.2 492h3.3v21.3h-3.3zM58.2 513h3.3v21.3h-3.3zM109.2 534h3.3v21.3h-3.3zM88.2 597h3.3v21.3h-3.3z"/><path fill="#f9b0b0" d="M40.2 492h3.3v21.3h-3.3zM43.2 492h3.3v21.3h-3.3zM55.2 492h3.3v21.3h-3.3zM49.2 513h3.3v21.3h-3.3zM52.2 513h3.3v21.3h-3.3zM70.2 513h3.3v21.3h-3.3zM91.2 555h3.3v21.3h-3.3zM91.2 597h3.3v21.3h-3.3zM109.2 597h3.3v21.3h-3.3z"/><path fill="#f79d9d" d="M46.2 492h3.3v21.3h-3.3zM49.2 492h3.3v21.3h-3.3zM52.2 492h3.3v21.3h-3.3zM34.2 513h3.3v21.3h-3.3zM37.2 513h3.3v21.3h-3.3z"/><path fill="#fac4c4" d="M61.2 492h3.3v21.3h-3.3zM55.2 513h3.3v21.3h-3.3zM73.2 513h3.3v21.3h-3.3zM73.2 534h3.3v21.3h-3.3zM94.2 534h3.3v21.3h-3.3zM118.2 534h3.3v21.3h-3.3zM106.2 555h3.3v21.3h-3.3zM76.2 576h3.3v21.3h-3.3zM106.2 597h3.3v21.3h-3.3z"/><path fill="#fababa" d="M67.2 492h3.3v21.3h-3.3zM100.2 534h3.3v21.3h-3.3zM70.2 597h3.3v21.3h-3.3zM94.2 597h3.3v21.3h-3.3zM100.2 597h3.3v21.3h-3.3z"/><path fill="#fcd7d7" d="M73.2 492h3.3v21.3h-3.3zM61.2 513h3.3v21.3h-3.3zM103.2 534h3.3v21.3h-3.3zM88.2 555h3.3v21.3h-3.3zM109.2 555h3.3v21.3h-3.3zM115.2 555h3.3v21.3h-3.3zM103.2 576h3.3v21.3h-3.3zM121.2 597h3.3v21.3h-3.3z"/><path fill="#8989f6" d="M76.2 492h3.3v21.3h-3.3zM106.2 492h3.3v21.3h-3.3zM43.2 555h3.3v21.3h-3.3zM52.2 597h3.3v21.3h-3.3z"/><path fill="#b0b0f9" d="M79.2 492h3.3v21.3h-3.3zM91.2 492h3.3v21.3h-3.3zM115.2 492h3.3v21.3h-3.3zM76.2 513h3.3v21.3h-3.3zM103.2 513h3.3v21.3h-3.3zM109.2 513h3.3v21.3h-3.3zM85.2 534h3.3v21.3h-3.3zM37.2 555h3.3v21.3h-3.3zM46.2 576h3.3v21.3h-3.3zM79.2 576h3.3v21.3h-3.3zM46.2 597h3.3v21.3h-3.3z"/><path fill="#9393f7" d="M82.2 492h3.3v21.3h-3.3z"/><path fill="#ebebfd" d="M85.2 492h3.3v21.3h-3.3zM64.2 513h3.3v21.3h-3.3zM58.2 534h3.3v21.3h-3.3zM76.2 555h3.3v21.3h-3.3zM64.2 576h3.3v21.3h-3.3z"/><path fill="#babafa" d="M88.2 492h3.3v21.3h-3.3zM94.2 492h3.3v21.3h-3.3zM112.2 492h3.3v21.3h-3.3zM121.2 492h3.3v21.3h-3.3zM88.2 513h3.3v21.3h-3.3zM97.2 513h3.3v21.3h-3.3zM106.2 513h3.3v21.3h-3.3zM115.2 513h3.3v21.3h-3.3zM55.2 534h3.3v21.3h-3.3zM46.2 555h3.3v21.3h-3.3zM49.2 555h3.3v21.3h-3.3zM37.2 576h3.3v21.3h-3.3zM37.2 597h3.3v21.3h-3.3zM64.2 597h3.3v21.3h-3.3z"/><path fill="#9d9df7" d="M97.2 492h3.3v21.3h-3.3zM109.2 492h3.3v21.3h-3.3zM82.2 534h3.3v21.3h-3.3zM115.2 534h3.3v21.3h-3.3zM40.2 597h3.3v21.3h-3.3zM43.2 597h3.3v21.3h-3.3z"/><path fill="#c4c4fa" d="M100.2 492h3.3v21.3h-3.3zM91.2 513h3.3v21.3h-3.3zM100.2 513h3.3v21.3h-3.3zM112.2 513h3.3v21.3h-3.3zM37.2 534h3.3v21.3h-3.3zM43.2 534h3.3v21.3h-3.3zM46.2 534h3.3v21.3h-3.3zM64.2 534h3.3v21.3h-3.3zM67.2 534h3.3v21.3h-3.3zM34.2 576h3.3v21.3h-3.3zM40.2 576h3.3v21.3h-3.3zM43.2 576h3.3v21.3h-3.3zM52.2 576h3.3v21.3h-3.3zM58.2 576h3.3v21.3h-3.3z"/><path fill="#e1e1fc" d="M103.2 492h3.3v21.3h-3.3zM94.2 513h3.3v21.3h-3.3zM40.2 534h3.3v21.3h-3.3zM106.2 534h3.3v21.3h-3.3zM61.2 576h3.3v21.3h-3.3zM67.2 576h3.3v21.3h-3.3z"/><path fill="#cecefb" d="M118.2 492h3.3v21.3h-3.3zM121.2 513h3.3v21.3h-3.3zM52.2 534h3.3v21.3h-3.3zM34.2 555h3.3v21.3h-3.3zM52.2 555h3.3v21.3h-3.3zM55.2 555h3.3v21.3h-3.3zM73.2 555h3.3v21.3h-3.3zM49.2 576h3.3v21.3h-3.3zM73.2 576h3.3v21.3h-3.3zM61.2 597h3.3v21.3h-3.3zM67.2 597h3.3v21.3h-3.3z"/><path fill="#f57575" d="M40.2 513h3.3v21.3h-3.3zM121.2 576h3.3v21.3h-3.3z"/><path fill="#f68989" d="M43.2 513h3.3v21.3h-3.3zM106.2 576h3.3v21.3h-3.3zM112.2 576h3.3v21.3h-3.3z"/><path fill="#f57f7f" d="M46.2 513h3.3v21.3h-3.3zM121.2 534h3.3v21.3h-3.3z"/><path fill="#fce1e1" d="M67.2 513h3.3v21.3h-3.3zM112.2 555h3.3v21.3h-3.3zM100.2 576h3.3v21.3h-3.3zM112.2 597h3.3v21.3h-3.3z"/><path fill="#d7d7fc" d="M79.2 513h3.3v21.3h-3.3zM85.2 513h3.3v21.3h-3.3zM34.2 534h3.3v21.3h-3.3zM49.2 534h3.3v21.3h-3.3zM61.2 534h3.3v21.3h-3.3zM70.2 534h3.3v21.3h-3.3zM97.2 534h3.3v21.3h-3.3zM40.2 555h3.3v21.3h-3.3zM61.2 555h3.3v21.3h-3.3zM64.2 555h3.3v21.3h-3.3zM67.2 555h3.3v21.3h-3.3zM70.2 555h3.3v21.3h-3.3zM85.2 555h3.3v21.3h-3.3zM82.2 576h3.3v21.3h-3.3z"/><path fill="#a6a6f8" d="M82.2 513h3.3v21.3h-3.3zM118.2 513h3.3v21.3h-3.3zM76.2 534h3.3v21.3h-3.3zM79.2 534h3.3v21.3h-3.3zM55.2 576h3.3v21.3h-3.3zM34.2 597h3.3v21.3h-3.3zM49.2 597h3.3v21.3h-3.3zM58.2 597h3.3v21.3h-3.3z"/><path fill="#f03b3b" d="M88.2 534h3.3v21.3h-3.3z"/><path fill="#f14444" d="M91.2 534h3.3v21.3h-3.3zM85.2 597h3.3v21.3h-3.3z"/><path fill="#ffffff" d="M112.2 534h3.3v21.3h-3.3zM79.2 555h3.3v21.3h-3.3zM85.2 576h3.3v21.3h-3.3zM88.2 576h3.3v21.3h-3.3zM94.2 576h3.3v21.3h-3.3zM103.2 597h3.3v21.3h-3.3z"/><path fill="#f5f5fe" d="M58.2 555h3.3v21.3h-3.3zM94.2 555h3.3v21.3h-3.3zM73.2 597h3.3v21.3h-3.3zM82.2 597h3.3v21.3h-3.3z"/><path fill="#fdebeb" d="M82.2 555h3.3v21.3h-3.3zM103.2 555h3.3v21.3h-3.3zM70.2 576h3.3v21.3h-3.3zM91.2 576h3.3v21.3h-3.3zM97.2 576h3.3v21.3h-3.3z"/><path fill="#fbcece" d="M97.2 555h3.3v21.3h-3.3zM100.2 555h3.3v21.3h-3.3zM97.2 597h3.3v21.3h-3.3z"/><path fill="#ee1414" d="M118.2 555h3.3v21.3h-3.3zM121.2 555h3.3v21.3h-3.3z"/><path fill="#ef2727" d="M115.2 576h3.3v21.3h-3.3z"/><path fill="#fef5f5" d="M118.2 576h3.3v21.3h-3.3zM76.2 597h3.3v21.3h-3.3zM118.2 597h3.3v21.3h-3.3z"/><path fill="#6c6cf4" d="M55.2 597h3.3v21.3h-3.3z"/><path fill="#f25858" d="M79.2 597h3.3v21.3h-3.3z"/><path fill="#f03131" d="M115.2 597h3.3v21.3h-3.3z"/>
<text x="126" y="491" font-size="4.8" text-anchor="start" fill="#111" font-weight="bold" font-family='"Liberation Sans", sans-serif' >Group</text>
<text x="126.5" y="505" font-size="7.0" text-anchor="start" fill="#111" font-family='"Liberation Sans", sans-serif' >FBP2</text>
<text x="126.5" y="526" font-size="7.0" text-anchor="start" fill="#111" font-family='"Liberation Sans", sans-serif' >CKM</text>
<text x="126.5" y="547" font-size="7.0" text-anchor="start" fill="#111" font-family='"Liberation Sans", sans-serif' >HKDC1</text>
<text x="126.5" y="568" font-size="7.0" text-anchor="start" fill="#111" font-family='"Liberation Sans", sans-serif' >GPI</text>
<text x="126.5" y="589" font-size="7.0" text-anchor="start" fill="#111" font-family='"Liberation Sans", sans-serif' >HIF−1α</text>
<text x="126.5" y="610" font-size="7.0" text-anchor="start" fill="#111" font-family='"Liberation Sans", sans-serif' >c−Myc</text>
<path d="M38.7,485.2V480.8H41.7V485.2M35.7,485.2V480H40.2V480.8M44.7,485.2V480.1H47.7V485.2M50.7,485.2V480.2H53.7V485.2M46.2,480.1V476.5H52.2V480.2M38,480V475.7H49.2V476.5M56.7,485.2V480H59.7V485.2M62.7,485.2V480H65.7V485.2M64.2,480V479.2H68.7V485.2M58.2,480V478.4H66.5V479.2M71.7,485.2V479.5H74.7V485.2M62.3,478.4V474.8H73.2V479.5M43.6,475.7V474H67.8V474.8M77.7,485.2V480.2H80.7V485.2M79.2,480.2V479.4H83.7V485.2M86.7,485.2V478.7H89.7V485.2M88.2,478.7V477.5H92.7V485.2M81.5,479.4V475H90.5V477.5M98.7,485.2V479.8H101.7V485.2M95.7,485.2V478.9H100.2V479.8M107.7,485.2V480.9H110.7V485.2M104.7,485.2V478.3H109.2V480.9M113.7,485.2V479.4H116.7V485.2M107,478.3V477.5H115.2V479.4M98,478.9V475.7H111.1V477.5M86,475V472.2H104.5V475.7M55.7,474V469.3H95.2V472.2M119.7,485.2V465.2H122.7V485.2M75.5,469.3V462.6H121.2V465.2" fill="none" stroke="#222" stroke-width="0.45"/>
<path d="M33.4,502.5H26.8M33.4,523.5H26.8M26.8,502.5V523.5M33.4,586.5H24M33.4,607.5H24M24,586.5V607.5M33.4,565.5H22.5M24,597H22.5M22.5,565.5V597M33.4,544.5H20M22.5,581.2H20M20,544.5V581.2M26.8,513H11.7M20,562.9H11.7M11.7,513V562.9" fill="none" stroke="#222" stroke-width="0.45"/>
<rect x="152" y="486" width="4.8" height="64.9" fill="url(#hmg)"/>
<text x="158.2" y="487.8" font-size="4.9" text-anchor="start" fill="#222" font-family='"Liberation Sans", sans-serif' >3</text>
<text x="158.2" y="498.6" font-size="4.9" text-anchor="start" fill="#222" font-family='"Liberation Sans", sans-serif' >2</text>
<text x="158.2" y="509.4" font-size="4.9" text-anchor="start" fill="#222" font-family='"Liberation Sans", sans-serif' >1</text>
<text x="158.2" y="520.2" font-size="4.9" text-anchor="start" fill="#222" font-family='"Liberation Sans", sans-serif' >0</text>
<text x="158.2" y="531.1" font-size="4.9" text-anchor="start" fill="#222" font-family='"Liberation Sans", sans-serif' >−1</text>
<text x="158.2" y="541.9" font-size="4.9" text-anchor="start" fill="#222" font-family='"Liberation Sans", sans-serif' >−2</text>
<text x="158.2" y="552.7" font-size="4.9" text-anchor="start" fill="#222" font-family='"Liberation Sans", sans-serif' >−3</text>
<text x="167.2" y="490" font-size="4.8" text-anchor="start" fill="#111" font-weight="bold" font-family='"Liberation Sans", sans-serif' >Group</text>
<rect x="167.2" y="491.4" width="7.6" height="7.3" fill="#72ece4"/>
<rect x="167.2" y="498.9" width="7.6" height="7.1" fill="#f28a84"/>
<text x="176" y="496.8" font-size="5.0" text-anchor="start" fill="#222" font-family='"Liberation Sans", sans-serif' >Normal</text>
<text x="176" y="504" font-size="5.0" text-anchor="start" fill="#222" font-family='"Liberation Sans", sans-serif' >Tumor</text>
<text x="295.8" y="454.3" font-size="8.7" text-anchor="middle" fill="#111" font-family='"Liberation Sans", sans-serif' >GSE26899</text>
<rect x="216.3" y="485.5" width="1.6" height="6" fill="#f28a84"/><rect x="217.7" y="485.5" width="3" height="6" fill="#72ece4"/><rect x="220.5" y="485.5" width="3" height="6" fill="#f28a84"/><rect x="223.3" y="485.5" width="3" height="6" fill="#72ece4"/><rect x="226.1" y="485.5" width="4.4" height="6" fill="#f28a84"/><rect x="230.4" y="485.5" width="1.6" height="6" fill="#72ece4"/><rect x="231.8" y="485.5" width="3" height="6" fill="#f28a84"/><rect x="234.6" y="485.5" width="1.6" height="6" fill="#72ece4"/><rect x="236" y="485.5" width="19.9" height="6" fill="#f28a84"/><rect x="255.7" y="485.5" width="3" height="6" fill="#72ece4"/><rect x="258.5" y="485.5" width="7.2" height="6" fill="#f28a84"/><rect x="265.5" y="485.5" width="1.6" height="6" fill="#72ece4"/><rect x="266.9" y="485.5" width="84.5" height="6" fill="#f28a84"/><rect x="351.2" y="485.5" width="1.6" height="6" fill="#72ece4"/><rect x="352.6" y="485.5" width="1.6" height="6" fill="#f28a84"/><rect x="354" y="485.5" width="1.6" height="6" fill="#72ece4"/><rect x="355.5" y="485.5" width="12.8" height="6" fill="#f28a84"/>
<path fill="#f25858" d="M216.3 492h1.7v21.3h-1.7zM219.1 513h1.7v21.3h-1.7z"/><path fill="#f68989" d="M217.7 492h1.7v21.3h-1.7zM221.9 492h1.7v21.3h-1.7z"/><path fill="#f36262" d="M219.1 492h1.7v21.3h-1.7zM221.9 513h1.7v21.3h-1.7z"/><path fill="#f57f7f" d="M220.5 492h1.7v21.3h-1.7zM223.3 492h1.7v21.3h-1.7zM220.5 513h1.7v21.3h-1.7zM351.2 597h1.7v21.3h-1.7z"/><path fill="#e1e1fc" d="M224.7 492h1.7v21.3h-1.7zM229 492h1.7v21.3h-1.7zM230.4 492h1.7v21.3h-1.7zM231.8 492h1.7v21.3h-1.7zM240.2 492h1.7v21.3h-1.7zM327.3 492h1.7v21.3h-1.7zM341.4 492h1.7v21.3h-1.7zM344.2 492h1.7v21.3h-1.7zM356.9 492h1.7v21.3h-1.7zM234.6 513h1.7v21.3h-1.7zM248.6 513h1.7v21.3h-1.7zM265.5 513h1.7v21.3h-1.7zM283.8 513h1.7v21.3h-1.7zM302 513h1.7v21.3h-1.7zM306.3 513h1.7v21.3h-1.7zM311.9 513h1.7v21.3h-1.7zM318.9 513h1.7v21.3h-1.7zM320.3 513h1.7v21.3h-1.7zM344.2 513h1.7v21.3h-1.7zM347 513h1.7v21.3h-1.7zM229 534h1.7v21.3h-1.7zM258.5 534h1.7v21.3h-1.7zM276.7 534h1.7v21.3h-1.7zM311.9 534h1.7v21.3h-1.7zM324.5 534h1.7v21.3h-1.7zM341.4 534h1.7v21.3h-1.7zM347 534h1.7v21.3h-1.7zM349.8 534h1.7v21.3h-1.7zM282.4 555h1.7v21.3h-1.7zM285.2 555h1.7v21.3h-1.7zM359.7 555h1.7v21.3h-1.7zM362.5 555h1.7v21.3h-1.7zM234.6 576h1.7v21.3h-1.7zM254.2 576h1.7v21.3h-1.7zM255.7 576h1.7v21.3h-1.7zM289.4 576h1.7v21.3h-1.7zM321.7 576h1.7v21.3h-1.7zM327.3 576h1.7v21.3h-1.7zM234.6 597h1.7v21.3h-1.7zM265.5 597h1.7v21.3h-1.7zM283.8 597h1.7v21.3h-1.7zM295 597h1.7v21.3h-1.7z"/><path fill="#cecefb" d="M226.1 492h1.7v21.3h-1.7zM243 492h1.7v21.3h-1.7zM257.1 492h1.7v21.3h-1.7zM278.1 492h1.7v21.3h-1.7zM279.6 492h1.7v21.3h-1.7zM283.8 492h1.7v21.3h-1.7zM286.6 492h1.7v21.3h-1.7zM330.2 492h1.7v21.3h-1.7zM331.6 492h1.7v21.3h-1.7zM358.3 492h1.7v21.3h-1.7zM366.7 492h1.7v21.3h-1.7zM233.2 513h1.7v21.3h-1.7zM240.2 513h1.7v21.3h-1.7zM241.6 513h1.7v21.3h-1.7zM282.4 513h1.7v21.3h-1.7zM292.2 513h1.7v21.3h-1.7zM293.6 513h1.7v21.3h-1.7zM296.4 513h1.7v21.3h-1.7zM309.1 513h1.7v21.3h-1.7zM327.3 513h1.7v21.3h-1.7zM330.2 513h1.7v21.3h-1.7zM226.1 534h1.7v21.3h-1.7zM234.6 534h1.7v21.3h-1.7zM261.3 534h1.7v21.3h-1.7zM271.1 534h1.7v21.3h-1.7zM285.2 534h1.7v21.3h-1.7zM300.6 534h1.7v21.3h-1.7zM303.4 534h1.7v21.3h-1.7zM310.5 534h1.7v21.3h-1.7zM314.7 534h1.7v21.3h-1.7zM327.3 534h1.7v21.3h-1.7zM345.6 534h1.7v21.3h-1.7zM348.4 534h1.7v21.3h-1.7zM355.5 534h1.7v21.3h-1.7zM362.5 534h1.7v21.3h-1.7zM365.3 534h1.7v21.3h-1.7zM221.9 555h1.7v21.3h-1.7zM224.7 555h1.7v21.3h-1.7zM257.1 555h1.7v21.3h-1.7zM261.3 555h1.7v21.3h-1.7zM286.6 555h1.7v21.3h-1.7zM300.6 555h1.7v21.3h-1.7zM310.5 555h1.7v21.3h-1.7zM314.7 555h1.7v21.3h-1.7zM334.4 555h1.7v21.3h-1.7zM354 555h1.7v21.3h-1.7zM257.1 576h1.7v21.3h-1.7zM292.2 576h1.7v21.3h-1.7zM316.1 576h1.7v21.3h-1.7zM334.4 576h1.7v21.3h-1.7zM216.3 597h1.7v21.3h-1.7zM279.6 597h1.7v21.3h-1.7zM282.4 597h1.7v21.3h-1.7zM340 597h1.7v21.3h-1.7z"/><path fill="#ebebfd" d="M227.5 492h1.7v21.3h-1.7zM234.6 492h1.7v21.3h-1.7zM244.4 492h1.7v21.3h-1.7zM248.6 492h1.7v21.3h-1.7zM282.4 492h1.7v21.3h-1.7zM288 492h1.7v21.3h-1.7zM295 492h1.7v21.3h-1.7zM302 492h1.7v21.3h-1.7zM345.6 492h1.7v21.3h-1.7zM238.8 513h1.7v21.3h-1.7zM245.8 513h1.7v21.3h-1.7zM254.2 513h1.7v21.3h-1.7zM275.3 513h1.7v21.3h-1.7zM278.1 513h1.7v21.3h-1.7zM279.6 513h1.7v21.3h-1.7zM285.2 513h1.7v21.3h-1.7zM289.4 513h1.7v21.3h-1.7zM351.2 513h1.7v21.3h-1.7zM361.1 513h1.7v21.3h-1.7zM220.5 534h1.7v21.3h-1.7zM230.4 534h1.7v21.3h-1.7zM255.7 534h1.7v21.3h-1.7zM320.3 534h1.7v21.3h-1.7zM325.9 534h1.7v21.3h-1.7zM359.7 534h1.7v21.3h-1.7zM217.7 555h1.7v21.3h-1.7zM265.5 555h1.7v21.3h-1.7zM272.5 555h1.7v21.3h-1.7zM273.9 555h1.7v21.3h-1.7zM295 555h1.7v21.3h-1.7zM311.9 555h1.7v21.3h-1.7zM321.7 555h1.7v21.3h-1.7zM323.1 555h1.7v21.3h-1.7zM365.3 555h1.7v21.3h-1.7zM224.7 576h1.7v21.3h-1.7zM262.7 576h1.7v21.3h-1.7zM272.5 576h1.7v21.3h-1.7zM288 576h1.7v21.3h-1.7zM293.6 576h1.7v21.3h-1.7zM307.7 576h1.7v21.3h-1.7zM317.5 576h1.7v21.3h-1.7zM328.7 576h1.7v21.3h-1.7zM255.7 597h1.7v21.3h-1.7zM300.6 597h1.7v21.3h-1.7zM317.5 597h1.7v21.3h-1.7zM328.7 597h1.7v21.3h-1.7zM331.6 597h1.7v21.3h-1.7zM338.6 597h1.7v21.3h-1.7zM348.4 597h1.7v21.3h-1.7z"/><path fill="#b0b0f9" d="M233.2 492h1.7v21.3h-1.7zM317.5 513h1.7v21.3h-1.7zM352.6 513h1.7v21.3h-1.7zM354 513h1.7v21.3h-1.7zM365.3 513h1.7v21.3h-1.7zM307.7 534h1.7v21.3h-1.7zM354 534h1.7v21.3h-1.7zM292.2 555h1.7v21.3h-1.7zM269.7 576h1.7v21.3h-1.7zM286.6 576h1.7v21.3h-1.7zM295 576h1.7v21.3h-1.7zM303.4 576h1.7v21.3h-1.7z"/><path fill="#ffffff" d="M236 492h1.7v21.3h-1.7zM238.8 492h1.7v21.3h-1.7zM297.8 492h1.7v21.3h-1.7zM311.9 492h1.7v21.3h-1.7zM365.3 492h1.7v21.3h-1.7zM262.7 513h1.7v21.3h-1.7zM310.5 513h1.7v21.3h-1.7zM316.1 513h1.7v21.3h-1.7zM335.8 513h1.7v21.3h-1.7zM342.8 513h1.7v21.3h-1.7zM356.9 513h1.7v21.3h-1.7zM366.7 513h1.7v21.3h-1.7zM257.1 534h1.7v21.3h-1.7zM302 534h1.7v21.3h-1.7zM306.3 534h1.7v21.3h-1.7zM321.7 534h1.7v21.3h-1.7zM331.6 534h1.7v21.3h-1.7zM366.7 534h1.7v21.3h-1.7zM216.3 555h1.7v21.3h-1.7zM293.6 555h1.7v21.3h-1.7zM304.9 555h1.7v21.3h-1.7zM306.3 555h1.7v21.3h-1.7zM331.6 555h1.7v21.3h-1.7zM349.8 555h1.7v21.3h-1.7zM355.5 555h1.7v21.3h-1.7zM265.5 576h1.7v21.3h-1.7zM281 576h1.7v21.3h-1.7zM285.2 576h1.7v21.3h-1.7zM354 576h1.7v21.3h-1.7zM219.1 597h1.7v21.3h-1.7zM236 597h1.7v21.3h-1.7zM261.3 597h1.7v21.3h-1.7zM288 597h1.7v21.3h-1.7zM323.1 597h1.7v21.3h-1.7zM344.2 597h1.7v21.3h-1.7zM347 597h1.7v21.3h-1.7z"/><path fill="#a6a6f8" d="M237.4 492h1.7v21.3h-1.7zM314.7 492h1.7v21.3h-1.7zM307.7 513h1.7v21.3h-1.7zM314.7 513h1.7v21.3h-1.7zM355.5 513h1.7v21.3h-1.7zM231.8 576h1.7v21.3h-1.7zM221.9 597h1.7v21.3h-1.7zM281 597h1.7v21.3h-1.7z"/><path fill="#fef5f5" d="M241.6 492h1.7v21.3h-1.7zM250 492h1.7v21.3h-1.7zM252.8 492h1.7v21.3h-1.7zM285.2 492h1.7v21.3h-1.7zM293.6 492h1.7v21.3h-1.7zM340 492h1.7v21.3h-1.7zM347 492h1.7v21.3h-1.7zM349.8 492h1.7v21.3h-1.7zM268.3 513h1.7v21.3h-1.7zM299.2 513h1.7v21.3h-1.7zM338.6 513h1.7v21.3h-1.7zM363.9 513h1.7v21.3h-1.7zM227.5 534h1.7v21.3h-1.7zM268.3 534h1.7v21.3h-1.7zM269.7 534h1.7v21.3h-1.7zM286.6 534h1.7v21.3h-1.7zM292.2 534h1.7v21.3h-1.7zM295 534h1.7v21.3h-1.7zM304.9 534h1.7v21.3h-1.7zM313.3 534h1.7v21.3h-1.7zM318.9 534h1.7v21.3h-1.7zM328.7 534h1.7v21.3h-1.7zM333 534h1.7v21.3h-1.7zM334.4 534h1.7v21.3h-1.7zM230.4 555h1.7v21.3h-1.7zM276.7 555h1.7v21.3h-1.7zM307.7 555h1.7v21.3h-1.7zM309.1 555h1.7v21.3h-1.7zM320.3 555h1.7v21.3h-1.7zM333 555h1.7v21.3h-1.7zM361.1 555h1.7v21.3h-1.7zM266.9 576h1.7v21.3h-1.7zM283.8 576h1.7v21.3h-1.7zM299.2 576h1.7v21.3h-1.7zM333 576h1.7v21.3h-1.7zM340 576h1.7v21.3h-1.7zM257.1 597h1.7v21.3h-1.7zM290.8 597h1.7v21.3h-1.7zM310.5 597h1.7v21.3h-1.7zM314.7 597h1.7v21.3h-1.7zM316.1 597h1.7v21.3h-1.7zM335.8 597h1.7v21.3h-1.7z"/><path fill="#fdebeb" d="M245.8 492h1.7v21.3h-1.7zM304.9 492h1.7v21.3h-1.7zM306.3 492h1.7v21.3h-1.7zM333 492h1.7v21.3h-1.7zM334.4 492h1.7v21.3h-1.7zM348.4 492h1.7v21.3h-1.7zM252.8 513h1.7v21.3h-1.7zM216.3 534h1.7v21.3h-1.7zM217.7 534h1.7v21.3h-1.7zM237.4 534h1.7v21.3h-1.7zM282.4 534h1.7v21.3h-1.7zM283.8 534h1.7v21.3h-1.7zM337.2 534h1.7v21.3h-1.7zM223.3 555h1.7v21.3h-1.7zM262.7 555h1.7v21.3h-1.7zM264.1 555h1.7v21.3h-1.7zM266.9 555h1.7v21.3h-1.7zM302 555h1.7v21.3h-1.7zM348.4 555h1.7v21.3h-1.7zM351.2 555h1.7v21.3h-1.7zM352.6 555h1.7v21.3h-1.7zM358.3 555h1.7v21.3h-1.7zM366.7 555h1.7v21.3h-1.7zM240.2 576h1.7v21.3h-1.7zM244.4 576h1.7v21.3h-1.7zM268.3 576h1.7v21.3h-1.7zM297.8 576h1.7v21.3h-1.7zM302 576h1.7v21.3h-1.7zM304.9 576h1.7v21.3h-1.7zM318.9 576h1.7v21.3h-1.7zM355.5 576h1.7v21.3h-1.7zM243 597h1.7v21.3h-1.7zM269.7 597h1.7v21.3h-1.7zM273.9 597h1.7v21.3h-1.7zM278.1 597h1.7v21.3h-1.7zM299.2 597h1.7v21.3h-1.7zM330.2 597h1.7v21.3h-1.7zM341.4 597h1.7v21.3h-1.7zM352.6 597h1.7v21.3h-1.7z"/><path fill="#d7d7fc" d="M247.2 492h1.7v21.3h-1.7zM255.7 492h1.7v21.3h-1.7zM275.3 492h1.7v21.3h-1.7zM292.2 492h1.7v21.3h-1.7zM313.3 492h1.7v21.3h-1.7zM317.5 492h1.7v21.3h-1.7zM318.9 492h1.7v21.3h-1.7zM320.3 492h1.7v21.3h-1.7zM321.7 492h1.7v21.3h-1.7zM324.5 492h1.7v21.3h-1.7zM354 492h1.7v21.3h-1.7zM251.4 513h1.7v21.3h-1.7zM255.7 513h1.7v21.3h-1.7zM257.1 513h1.7v21.3h-1.7zM261.3 513h1.7v21.3h-1.7zM264.1 513h1.7v21.3h-1.7zM281 513h1.7v21.3h-1.7zM286.6 513h1.7v21.3h-1.7zM313.3 513h1.7v21.3h-1.7zM334.4 513h1.7v21.3h-1.7zM341.4 513h1.7v21.3h-1.7zM296.4 534h1.7v21.3h-1.7zM340 534h1.7v21.3h-1.7zM352.6 534h1.7v21.3h-1.7zM358.3 534h1.7v21.3h-1.7zM226.1 555h1.7v21.3h-1.7zM231.8 555h1.7v21.3h-1.7zM234.6 555h1.7v21.3h-1.7zM258.5 555h1.7v21.3h-1.7zM269.7 555h1.7v21.3h-1.7zM271.1 555h1.7v21.3h-1.7zM279.6 555h1.7v21.3h-1.7zM289.4 555h1.7v21.3h-1.7zM296.4 555h1.7v21.3h-1.7zM317.5 555h1.7v21.3h-1.7zM327.3 555h1.7v21.3h-1.7zM345.6 555h1.7v21.3h-1.7zM217.7 576h1.7v21.3h-1.7zM230.4 576h1.7v21.3h-1.7zM258.5 576h1.7v21.3h-1.7zM259.9 576h1.7v21.3h-1.7zM261.3 576h1.7v21.3h-1.7zM271.1 576h1.7v21.3h-1.7zM296.4 576h1.7v21.3h-1.7zM300.6 576h1.7v21.3h-1.7zM309.1 576h1.7v21.3h-1.7zM311.9 576h1.7v21.3h-1.7zM324.5 576h1.7v21.3h-1.7zM227.5 597h1.7v21.3h-1.7zM286.6 597h1.7v21.3h-1.7zM296.4 597h1.7v21.3h-1.7zM345.6 597h1.7v21.3h-1.7z"/><path fill="#babafa" d="M251.4 492h1.7v21.3h-1.7zM276.7 492h1.7v21.3h-1.7zM281 492h1.7v21.3h-1.7zM289.4 492h1.7v21.3h-1.7zM296.4 492h1.7v21.3h-1.7zM303.4 492h1.7v21.3h-1.7zM307.7 492h1.7v21.3h-1.7zM310.5 492h1.7v21.3h-1.7zM323.1 492h1.7v21.3h-1.7zM335.8 492h1.7v21.3h-1.7zM351.2 492h1.7v21.3h-1.7zM352.6 492h1.7v21.3h-1.7zM355.5 492h1.7v21.3h-1.7zM359.7 492h1.7v21.3h-1.7zM295 513h1.7v21.3h-1.7zM303.4 513h1.7v21.3h-1.7zM325.9 513h1.7v21.3h-1.7zM340 513h1.7v21.3h-1.7zM359.7 513h1.7v21.3h-1.7zM278.1 534h1.7v21.3h-1.7zM323.1 534h1.7v21.3h-1.7zM278.1 555h1.7v21.3h-1.7zM226.1 576h1.7v21.3h-1.7zM279.6 576h1.7v21.3h-1.7zM323.1 576h1.7v21.3h-1.7zM325.9 576h1.7v21.3h-1.7zM217.7 597h1.7v21.3h-1.7zM226.1 597h1.7v21.3h-1.7zM237.4 597h1.7v21.3h-1.7zM285.2 597h1.7v21.3h-1.7zM289.4 597h1.7v21.3h-1.7zM303.4 597h1.7v21.3h-1.7z"/><path fill="#f5f5fe" d="M254.2 492h1.7v21.3h-1.7zM316.1 492h1.7v21.3h-1.7zM363.9 492h1.7v21.3h-1.7zM244.4 513h1.7v21.3h-1.7zM250 513h1.7v21.3h-1.7zM266.9 513h1.7v21.3h-1.7zM276.7 513h1.7v21.3h-1.7zM288 513h1.7v21.3h-1.7zM300.6 513h1.7v21.3h-1.7zM358.3 513h1.7v21.3h-1.7zM362.5 513h1.7v21.3h-1.7zM221.9 534h1.7v21.3h-1.7zM223.3 534h1.7v21.3h-1.7zM231.8 534h1.7v21.3h-1.7zM272.5 534h1.7v21.3h-1.7zM273.9 534h1.7v21.3h-1.7zM279.6 534h1.7v21.3h-1.7zM281 534h1.7v21.3h-1.7zM317.5 534h1.7v21.3h-1.7zM342.8 534h1.7v21.3h-1.7zM351.2 534h1.7v21.3h-1.7zM356.9 534h1.7v21.3h-1.7zM283.8 555h1.7v21.3h-1.7zM297.8 555h1.7v21.3h-1.7zM313.3 555h1.7v21.3h-1.7zM316.1 555h1.7v21.3h-1.7zM324.5 555h1.7v21.3h-1.7zM328.7 555h1.7v21.3h-1.7zM338.6 555h1.7v21.3h-1.7zM340 555h1.7v21.3h-1.7zM221.9 576h1.7v21.3h-1.7zM237.4 576h1.7v21.3h-1.7zM275.3 576h1.7v21.3h-1.7zM282.4 576h1.7v21.3h-1.7zM306.3 576h1.7v21.3h-1.7zM314.7 576h1.7v21.3h-1.7zM307.7 597h1.7v21.3h-1.7zM320.3 597h1.7v21.3h-1.7zM327.3 597h1.7v21.3h-1.7zM334.4 597h1.7v21.3h-1.7zM349.8 597h1.7v21.3h-1.7z"/><path fill="#fce1e1" d="M258.5 492h1.7v21.3h-1.7zM269.7 492h1.7v21.3h-1.7zM271.1 492h1.7v21.3h-1.7zM290.8 492h1.7v21.3h-1.7zM361.1 492h1.7v21.3h-1.7zM290.8 513h1.7v21.3h-1.7zM304.9 513h1.7v21.3h-1.7zM333 513h1.7v21.3h-1.7zM265.5 534h1.7v21.3h-1.7zM297.8 534h1.7v21.3h-1.7zM344.2 534h1.7v21.3h-1.7zM363.9 534h1.7v21.3h-1.7zM220.5 555h1.7v21.3h-1.7zM268.3 555h1.7v21.3h-1.7zM290.8 555h1.7v21.3h-1.7zM299.2 555h1.7v21.3h-1.7zM325.9 555h1.7v21.3h-1.7zM335.8 555h1.7v21.3h-1.7zM341.4 555h1.7v21.3h-1.7zM236 576h1.7v21.3h-1.7zM241.6 576h1.7v21.3h-1.7zM248.6 576h1.7v21.3h-1.7zM310.5 576h1.7v21.3h-1.7zM352.6 576h1.7v21.3h-1.7zM240.2 597h1.7v21.3h-1.7zM247.2 597h1.7v21.3h-1.7zM248.6 597h1.7v21.3h-1.7zM251.4 597h1.7v21.3h-1.7zM254.2 597h1.7v21.3h-1.7zM258.5 597h1.7v21.3h-1.7zM271.1 597h1.7v21.3h-1.7zM276.7 597h1.7v21.3h-1.7zM313.3 597h1.7v21.3h-1.7zM321.7 597h1.7v21.3h-1.7zM324.5 597h1.7v21.3h-1.7zM325.9 597h1.7v21.3h-1.7zM365.3 597h1.7v21.3h-1.7z"/><path fill="#f9b0b0" d="M259.9 492h1.7v21.3h-1.7zM254.2 534h1.7v21.3h-1.7zM245.8 555h1.7v21.3h-1.7zM247.2 576h1.7v21.3h-1.7zM250 576h1.7v21.3h-1.7zM344.2 576h1.7v21.3h-1.7zM347 576h1.7v21.3h-1.7zM264.1 597h1.7v21.3h-1.7zM266.9 597h1.7v21.3h-1.7zM342.8 597h1.7v21.3h-1.7zM358.3 597h1.7v21.3h-1.7zM361.1 597h1.7v21.3h-1.7z"/><path fill="#fbcece" d="M261.3 492h1.7v21.3h-1.7zM262.7 492h1.7v21.3h-1.7zM273.9 492h1.7v21.3h-1.7zM299.2 492h1.7v21.3h-1.7zM227.5 513h1.7v21.3h-1.7zM229 513h1.7v21.3h-1.7zM230.4 513h1.7v21.3h-1.7zM231.8 513h1.7v21.3h-1.7zM273.9 513h1.7v21.3h-1.7zM251.4 534h1.7v21.3h-1.7zM259.9 534h1.7v21.3h-1.7zM262.7 534h1.7v21.3h-1.7zM264.1 534h1.7v21.3h-1.7zM290.8 534h1.7v21.3h-1.7zM288 555h1.7v21.3h-1.7zM318.9 555h1.7v21.3h-1.7zM330.2 555h1.7v21.3h-1.7zM337.2 555h1.7v21.3h-1.7zM363.9 555h1.7v21.3h-1.7zM251.4 576h1.7v21.3h-1.7zM276.7 576h1.7v21.3h-1.7zM341.4 576h1.7v21.3h-1.7zM356.9 576h1.7v21.3h-1.7zM358.3 576h1.7v21.3h-1.7zM359.7 576h1.7v21.3h-1.7zM241.6 597h1.7v21.3h-1.7zM244.4 597h1.7v21.3h-1.7zM245.8 597h1.7v21.3h-1.7zM252.8 597h1.7v21.3h-1.7zM262.7 597h1.7v21.3h-1.7zM302 597h1.7v21.3h-1.7zM304.9 597h1.7v21.3h-1.7zM309.1 597h1.7v21.3h-1.7zM337.2 597h1.7v21.3h-1.7zM354 597h1.7v21.3h-1.7z"/><path fill="#f8a6a6" d="M264.1 492h1.7v21.3h-1.7zM217.7 513h1.7v21.3h-1.7zM238.8 534h1.7v21.3h-1.7zM250 534h1.7v21.3h-1.7zM275.3 534h1.7v21.3h-1.7zM288 534h1.7v21.3h-1.7zM237.4 555h1.7v21.3h-1.7zM238.8 555h1.7v21.3h-1.7zM356.9 555h1.7v21.3h-1.7zM366.7 576h1.7v21.3h-1.7zM359.7 597h1.7v21.3h-1.7z"/><path fill="#fcd7d7" d="M265.5 492h1.7v21.3h-1.7zM342.8 492h1.7v21.3h-1.7zM362.5 492h1.7v21.3h-1.7zM224.7 513h1.7v21.3h-1.7zM226.1 513h1.7v21.3h-1.7zM269.7 513h1.7v21.3h-1.7zM297.8 513h1.7v21.3h-1.7zM321.7 513h1.7v21.3h-1.7zM219.1 534h1.7v21.3h-1.7zM236 534h1.7v21.3h-1.7zM247.2 534h1.7v21.3h-1.7zM248.6 534h1.7v21.3h-1.7zM266.9 534h1.7v21.3h-1.7zM289.4 534h1.7v21.3h-1.7zM259.9 555h1.7v21.3h-1.7zM275.3 555h1.7v21.3h-1.7zM342.8 555h1.7v21.3h-1.7zM347 555h1.7v21.3h-1.7zM219.1 576h1.7v21.3h-1.7zM238.8 576h1.7v21.3h-1.7zM264.1 576h1.7v21.3h-1.7zM273.9 576h1.7v21.3h-1.7zM290.8 576h1.7v21.3h-1.7zM349.8 576h1.7v21.3h-1.7zM365.3 576h1.7v21.3h-1.7z"/><path fill="#fac4c4" d="M266.9 492h1.7v21.3h-1.7zM272.5 492h1.7v21.3h-1.7zM247.2 513h1.7v21.3h-1.7zM258.5 513h1.7v21.3h-1.7zM259.9 513h1.7v21.3h-1.7zM271.1 513h1.7v21.3h-1.7zM243 534h1.7v21.3h-1.7zM299.2 534h1.7v21.3h-1.7zM219.1 555h1.7v21.3h-1.7zM236 555h1.7v21.3h-1.7zM240.2 555h1.7v21.3h-1.7zM243 555h1.7v21.3h-1.7zM244.4 555h1.7v21.3h-1.7zM247.2 555h1.7v21.3h-1.7zM251.4 555h1.7v21.3h-1.7zM344.2 555h1.7v21.3h-1.7zM243 576h1.7v21.3h-1.7zM335.8 576h1.7v21.3h-1.7zM345.6 576h1.7v21.3h-1.7zM238.8 597h1.7v21.3h-1.7zM250 597h1.7v21.3h-1.7zM272.5 597h1.7v21.3h-1.7zM293.6 597h1.7v21.3h-1.7zM355.5 597h1.7v21.3h-1.7z"/><path fill="#fababa" d="M268.3 492h1.7v21.3h-1.7zM252.8 534h1.7v21.3h-1.7zM293.6 534h1.7v21.3h-1.7zM248.6 555h1.7v21.3h-1.7zM245.8 576h1.7v21.3h-1.7zM252.8 576h1.7v21.3h-1.7zM338.6 576h1.7v21.3h-1.7zM348.4 576h1.7v21.3h-1.7zM361.1 576h1.7v21.3h-1.7zM363.9 576h1.7v21.3h-1.7zM268.3 597h1.7v21.3h-1.7zM306.3 597h1.7v21.3h-1.7zM311.9 597h1.7v21.3h-1.7zM318.9 597h1.7v21.3h-1.7zM333 597h1.7v21.3h-1.7zM356.9 597h1.7v21.3h-1.7zM363.9 597h1.7v21.3h-1.7zM366.7 597h1.7v21.3h-1.7z"/><path fill="#c4c4fa" d="M300.6 492h1.7v21.3h-1.7zM309.1 492h1.7v21.3h-1.7zM325.9 492h1.7v21.3h-1.7zM337.2 492h1.7v21.3h-1.7zM338.6 492h1.7v21.3h-1.7zM236 513h1.7v21.3h-1.7zM237.4 513h1.7v21.3h-1.7zM243 513h1.7v21.3h-1.7zM323.1 513h1.7v21.3h-1.7zM324.5 513h1.7v21.3h-1.7zM328.7 513h1.7v21.3h-1.7zM331.6 513h1.7v21.3h-1.7zM337.2 513h1.7v21.3h-1.7zM345.6 513h1.7v21.3h-1.7zM348.4 513h1.7v21.3h-1.7zM349.8 513h1.7v21.3h-1.7zM224.7 534h1.7v21.3h-1.7zM316.1 534h1.7v21.3h-1.7zM330.2 534h1.7v21.3h-1.7zM335.8 534h1.7v21.3h-1.7zM338.6 534h1.7v21.3h-1.7zM361.1 534h1.7v21.3h-1.7zM233.2 555h1.7v21.3h-1.7zM255.7 555h1.7v21.3h-1.7zM281 555h1.7v21.3h-1.7zM303.4 555h1.7v21.3h-1.7zM216.3 576h1.7v21.3h-1.7zM220.5 576h1.7v21.3h-1.7zM223.3 576h1.7v21.3h-1.7zM278.1 576h1.7v21.3h-1.7zM313.3 576h1.7v21.3h-1.7zM320.3 576h1.7v21.3h-1.7zM330.2 576h1.7v21.3h-1.7zM331.6 576h1.7v21.3h-1.7zM230.4 597h1.7v21.3h-1.7zM231.8 597h1.7v21.3h-1.7z"/><path fill="#9d9df7" d="M328.7 492h1.7v21.3h-1.7zM233.2 534h1.7v21.3h-1.7zM309.1 534h1.7v21.3h-1.7zM227.5 576h1.7v21.3h-1.7zM220.5 597h1.7v21.3h-1.7zM229 597h1.7v21.3h-1.7z"/><path fill="#f79393" d="M216.3 513h1.7v21.3h-1.7zM240.2 534h1.7v21.3h-1.7zM244.4 534h1.7v21.3h-1.7zM241.6 555h1.7v21.3h-1.7zM254.2 555h1.7v21.3h-1.7zM351.2 576h1.7v21.3h-1.7zM362.5 576h1.7v21.3h-1.7zM259.9 597h1.7v21.3h-1.7zM297.8 597h1.7v21.3h-1.7z"/><path fill="#ee1414" d="M223.3 513h1.7v21.3h-1.7z"/><path fill="#f79d9d" d="M272.5 513h1.7v21.3h-1.7zM241.6 534h1.7v21.3h-1.7zM245.8 534h1.7v21.3h-1.7zM337.2 576h1.7v21.3h-1.7zM342.8 576h1.7v21.3h-1.7zM275.3 597h1.7v21.3h-1.7zM362.5 597h1.7v21.3h-1.7z"/><path fill="#7f7ff5" d="M227.5 555h1.7v21.3h-1.7z"/><path fill="#8989f6" d="M229 555h1.7v21.3h-1.7zM233.2 576h1.7v21.3h-1.7zM292.2 597h1.7v21.3h-1.7z"/><path fill="#f57575" d="M250 555h1.7v21.3h-1.7z"/><path fill="#f46c6c" d="M252.8 555h1.7v21.3h-1.7z"/><path fill="#9393f7" d="M229 576h1.7v21.3h-1.7zM223.3 597h1.7v21.3h-1.7zM224.7 597h1.7v21.3h-1.7z"/><path fill="#7575f5" d="M233.2 597h1.7v21.3h-1.7z"/>
<text x="369.9" y="490.5" font-size="4.8" text-anchor="start" fill="#111" font-weight="bold" font-family='"Liberation Sans", sans-serif' >Group</text>
<text x="370.4" y="505" font-size="7.0" text-anchor="start" fill="#111" font-family='"Liberation Sans", sans-serif' >FBP2</text>
<text x="370.4" y="526" font-size="7.0" text-anchor="start" fill="#111" font-family='"Liberation Sans", sans-serif' >CKM</text>
<text x="370.4" y="547" font-size="7.0" text-anchor="start" fill="#111" font-family='"Liberation Sans", sans-serif' >HIF−1α</text>
<text x="370.4" y="568" font-size="7.0" text-anchor="start" fill="#111" font-family='"Liberation Sans", sans-serif' >c−Myc</text>
<text x="370.4" y="589" font-size="7.0" text-anchor="start" fill="#111" font-family='"Liberation Sans", sans-serif' >GPI</text>
<text x="370.4" y="610" font-size="7.0" text-anchor="start" fill="#111" font-family='"Liberation Sans", sans-serif' >HKDC1</text>
<path d="M217,484.7V481.5H218.4V484.7M217.7,481.5V480.7H219.8V484.7M221.2,484.7V481.1H222.6V484.7M218.8,480.7V477.2H221.9V481.1M224,484.7V480.6H225.4V484.7M226.8,484.7V480.2H228.2V484.7M231.1,484.7V480.3H232.5V484.7M229.7,484.7V479.5H231.8V480.3M227.5,480.2V478.7H230.7V479.5M224.7,480.6V477.9H229.1V478.7M220.3,477.2V468H226.9V477.9M233.9,484.7V481.6H235.3V484.7M234.6,481.6V480.8H236.7V484.7M238.1,484.7V481.7H239.5V484.7M238.8,481.7V480.9H240.9V484.7M243.7,484.7V481.6H245.1V484.7M242.3,484.7V480.8H244.4V481.6M243.4,480.8V480H246.5V484.7M239.8,480.9V478.4H244.9V480M235.6,480.8V477.2H242.4V478.4M247.9,484.7V481.5H249.3V484.7M248.6,481.5V480.7H250.7V484.7M252.1,484.7V481.3H253.5V484.7M255,484.7V481.2H256.4V484.7M252.8,481.3V480.4H255.7V481.2M249.7,480.7V478.7H254.2V480.4M259.2,484.7V481.4H260.6V484.7M257.8,484.7V480.6H259.9V481.4M262,484.7V481.4H263.4V484.7M258.8,480.6V479.8H262.7V481.4M252,478.7V477.9H260.8V479.8M264.8,484.7V481.7H266.2V484.7M265.5,481.7V480.9H267.6V484.7M266.5,480.9V480.1H269V484.7M270.4,484.7V480.6H271.8V484.7M273.2,484.7V481.4H274.6V484.7M273.9,481.4V480.4H276V484.7M271.1,480.6V479.5H275V480.4M277.4,484.7V481.8H278.8V484.7M273,479.5V478.7H278.1V481.8M267.8,480.1V477.9H275.6V478.7M256.4,477.9V472H271.7V477.9M280.3,484.7V481.3H281.7V484.7M284.5,484.7V481.7H285.9V484.7M283.1,484.7V480.9H285.2V481.7M281,481.3V479.4H284.1V480.9M287.3,484.7V480.5H288.7V484.7M290.1,484.7V480.5H291.5V484.7M292.9,484.7V480H294.3V484.7M290.8,480.5V477.9H293.6V480M288,480.5V476.3H292.2V477.9M295.7,484.7V480.4H297.1V484.7M298.5,484.7V481.3H299.9V484.7M296.4,480.4V479.6H299.2V481.3M290.1,476.3V475.1H297.8V479.6M282.5,479.4V473.6H294V475.1M264,472V470.8H288.2V473.6M302.7,484.7V480.5H304.1V484.7M303.4,480.5V479.7H305.6V484.7M301.3,484.7V478.8H304.5V479.7M307,484.7V481.5H308.4V484.7M307.7,481.5V480.7H309.8V484.7M311.2,484.7V481.8H312.6V484.7M308.7,480.7V479.7H311.9V481.8M302.9,478.8V477.3H310.3V479.7M314,484.7V480.4H315.4V484.7M316.8,484.7V480.9H318.2V484.7M314.7,480.4V479.1H317.5V480.9M319.6,484.7V481.5H321V484.7M322.4,484.7V481.1H323.8V484.7M320.3,481.5V479.9H323.1V481.1M316.1,479.1V478.3H321.7V479.9M306.6,477.3V476.5H318.9V478.3M325.2,484.7V481.2H326.6V484.7M325.9,481.2V480.3H328V484.7M330.9,484.7V481.7H332.3V484.7M329.4,484.7V480.3H331.6V481.7M327,480.3V479.5H330.5V480.3M335.1,484.7V480.4H336.5V484.7M335.8,480.4V479.6H337.9V484.7M333.7,484.7V478.3H336.8V479.6M328.7,479.5V477.2H335.2V478.3M340.7,484.7V481.1H342.1V484.7M339.3,484.7V479.7H341.4V481.1M346.3,484.7V481.2H347.7V484.7M344.9,484.7V480.4H347V481.2M343.5,484.7V478.6H346V480.4M340.3,479.7V477.8H344.7V478.6M349.1,484.7V480.1H350.5V484.7M351.9,484.7V480.5H353.3V484.7M349.8,480.1V479.1H352.6V480.5M354.7,484.7V481H356.2V484.7M355.5,481V479.9H357.6V484.7M359,484.7V481.7H360.4V484.7M356.5,479.9V479.1H359.7V481.7M351.2,479.1V478.3H358.1V479.1M361.8,484.7V481.7H363.2V484.7M366,484.7V481.6H367.4V484.7M364.6,484.7V479.1H366.7V481.6M362.5,481.7V478.3H365.6V479.1M354.7,478.3V477.5H364.1V478.3M342.5,477.8V472.4H359.4V477.5M332,477.2V471.6H350.9V472.4M312.8,476.5V470.8H341.5V471.6M276.1,470.8V470H327.1V470.8M239,477.2V466.6H301.6V470M223.6,468V462.2H270.3V466.6" fill="none" stroke="#222" stroke-width="0.45"/>
<path d="M215.5,502.5H204.6M215.5,523.5H204.6M204.6,502.5V523.5M215.5,544.5H200.1M215.5,565.5H200.1M200.1,544.5V565.5M215.5,586.5H199.2M215.5,607.5H199.2M199.2,586.5V607.5M200.1,555H196.5M199.2,597H196.5M196.5,555V597M204.6,513H193M196.5,576H193M193,513V576" fill="none" stroke="#222" stroke-width="0.45"/>
<rect x="397.3" y="485.5" width="4.8" height="64.9" fill="url(#hmg)"/>
<text x="403.5" y="487.3" font-size="4.9" text-anchor="start" fill="#222" font-family='"Liberation Sans", sans-serif' >4</text>
<text x="403.5" y="503.5" font-size="4.9" text-anchor="start" fill="#222" font-family='"Liberation Sans", sans-serif' >2</text>
<text x="403.5" y="519.8" font-size="4.9" text-anchor="start" fill="#222" font-family='"Liberation Sans", sans-serif' >0</text>
<text x="403.5" y="536" font-size="4.9" text-anchor="start" fill="#222" font-family='"Liberation Sans", sans-serif' >−2</text>
<text x="403.5" y="552.2" font-size="4.9" text-anchor="start" fill="#222" font-family='"Liberation Sans", sans-serif' >−4</text>
<text x="413.4" y="490" font-size="4.8" text-anchor="start" fill="#111" font-weight="bold" font-family='"Liberation Sans", sans-serif' >Group</text>
<rect x="413.4" y="491.4" width="7.6" height="7.3" fill="#72ece4"/>
<rect x="413.4" y="498.9" width="7.6" height="7.1" fill="#f28a84"/>
<text x="422.2" y="496.8" font-size="5.0" text-anchor="start" fill="#222" font-family='"Liberation Sans", sans-serif' >Normal</text>
<text x="422.2" y="504" font-size="5.0" text-anchor="start" fill="#222" font-family='"Liberation Sans", sans-serif' >Tumor</text>
<text x="531.3" y="454.3" font-size="8.7" text-anchor="middle" fill="#111" font-family='"Liberation Sans", sans-serif' >GSE13911|GSE19826|GSE79973</text>
<rect x="454.2" y="485.8" width="7.8" height="6.2" fill="#f28a84"/><rect x="461.8" y="485.8" width="1.7" height="6.2" fill="#72ece4"/><rect x="463.3" y="485.8" width="21.4" height="6.2" fill="#f28a84"/><rect x="484.5" y="485.8" width="1.7" height="6.2" fill="#72ece4"/><rect x="486" y="485.8" width="7.8" height="6.2" fill="#f28a84"/><rect x="493.6" y="485.8" width="1.7" height="6.2" fill="#72ece4"/><rect x="495.1" y="485.8" width="6.3" height="6.2" fill="#f28a84"/><rect x="501.2" y="485.8" width="1.7" height="6.2" fill="#72ece4"/><rect x="502.7" y="485.8" width="16.9" height="6.2" fill="#f28a84"/><rect x="519.3" y="485.8" width="1.7" height="6.2" fill="#72ece4"/><rect x="520.9" y="485.8" width="1.7" height="6.2" fill="#f28a84"/><rect x="522.4" y="485.8" width="1.7" height="6.2" fill="#72ece4"/><rect x="523.9" y="485.8" width="3.2" height="6.2" fill="#f28a84"/><rect x="526.9" y="485.8" width="1.7" height="6.2" fill="#72ece4"/><rect x="528.4" y="485.8" width="3.2" height="6.2" fill="#f28a84"/><rect x="531.5" y="485.8" width="1.7" height="6.2" fill="#72ece4"/><rect x="533" y="485.8" width="3.2" height="6.2" fill="#f28a84"/><rect x="536" y="485.8" width="15.4" height="6.2" fill="#72ece4"/><rect x="551.2" y="485.8" width="3.2" height="6.2" fill="#f28a84"/><rect x="554.2" y="485.8" width="7.8" height="6.2" fill="#72ece4"/><rect x="561.8" y="485.8" width="3.2" height="6.2" fill="#f28a84"/><rect x="564.8" y="485.8" width="16.9" height="6.2" fill="#72ece4"/><rect x="581.5" y="485.8" width="1.7" height="6.2" fill="#f28a84"/><rect x="583" y="485.8" width="10.8" height="6.2" fill="#72ece4"/><rect x="593.6" y="485.8" width="1.7" height="6.2" fill="#f28a84"/><rect x="595.1" y="485.8" width="10.8" height="6.2" fill="#72ece4"/>
<path fill="#f46c6c" d="M454.2 492.5h1.8v21.2h-1.8zM501.2 492.5h1.8v21.2h-1.8zM504.2 492.5h1.8v21.2h-1.8zM514.8 555.2h1.8v21.2h-1.8zM548.1 576.2h1.8v21.2h-1.8zM561.8 576.2h1.8v21.2h-1.8zM587.5 576.2h1.8v21.2h-1.8zM548.1 597.1h1.8v21.2h-1.8zM549.6 597.1h1.8v21.2h-1.8zM578.4 597.1h1.8v21.2h-1.8z"/><path fill="#fcd7d7" d="M455.7 492.5h1.8v21.2h-1.8zM458.7 492.5h1.8v21.2h-1.8zM551.2 492.5h1.8v21.2h-1.8zM486 513.4h1.8v21.2h-1.8zM554.2 513.4h1.8v21.2h-1.8zM581.5 513.4h1.8v21.2h-1.8zM476.9 534.3h1.8v21.2h-1.8zM484.5 534.3h1.8v21.2h-1.8zM516.3 534.3h1.8v21.2h-1.8zM602.7 534.3h1.8v21.2h-1.8zM460.3 555.2h1.8v21.2h-1.8zM481.5 555.2h1.8v21.2h-1.8zM507.2 555.2h1.8v21.2h-1.8zM586 555.2h1.8v21.2h-1.8zM545.1 576.2h1.8v21.2h-1.8zM552.7 597.1h1.8v21.2h-1.8zM557.2 597.1h1.8v21.2h-1.8z"/><path fill="#f8a6a6" d="M457.2 492.5h1.8v21.2h-1.8zM505.7 492.5h1.8v21.2h-1.8zM552.7 492.5h1.8v21.2h-1.8zM483 513.4h1.8v21.2h-1.8zM511.8 513.4h1.8v21.2h-1.8zM514.8 513.4h1.8v21.2h-1.8zM481.5 534.3h1.8v21.2h-1.8zM466.3 555.2h1.8v21.2h-1.8zM469.4 555.2h1.8v21.2h-1.8zM510.3 555.2h1.8v21.2h-1.8zM601.2 555.2h1.8v21.2h-1.8zM555.7 576.2h1.8v21.2h-1.8zM563.3 576.2h1.8v21.2h-1.8zM572.4 576.2h1.8v21.2h-1.8zM576.9 576.2h1.8v21.2h-1.8zM584.5 576.2h1.8v21.2h-1.8z"/><path fill="#fac4c4" d="M460.3 492.5h1.8v21.2h-1.8zM469.4 492.5h1.8v21.2h-1.8zM458.7 513.4h1.8v21.2h-1.8zM466.3 513.4h1.8v21.2h-1.8zM476.9 513.4h1.8v21.2h-1.8zM496.6 513.4h1.8v21.2h-1.8zM552.7 513.4h1.8v21.2h-1.8zM470.9 534.3h1.8v21.2h-1.8zM475.4 534.3h1.8v21.2h-1.8zM483 534.3h1.8v21.2h-1.8zM461.8 555.2h1.8v21.2h-1.8zM464.8 555.2h1.8v21.2h-1.8zM502.7 555.2h1.8v21.2h-1.8zM504.2 555.2h1.8v21.2h-1.8zM505.7 555.2h1.8v21.2h-1.8zM563.3 555.2h1.8v21.2h-1.8zM595.1 555.2h1.8v21.2h-1.8zM552.7 576.2h1.8v21.2h-1.8zM579.9 576.2h1.8v21.2h-1.8zM537.5 597.1h1.8v21.2h-1.8zM575.4 597.1h1.8v21.2h-1.8z"/><path fill="#fababa" d="M461.8 492.5h1.8v21.2h-1.8zM478.4 492.5h1.8v21.2h-1.8zM495.1 492.5h1.8v21.2h-1.8zM502.7 492.5h1.8v21.2h-1.8zM558.7 492.5h1.8v21.2h-1.8zM481.5 513.4h1.8v21.2h-1.8zM551.2 513.4h1.8v21.2h-1.8zM466.3 534.3h1.8v21.2h-1.8zM510.3 534.3h1.8v21.2h-1.8zM595.1 534.3h1.8v21.2h-1.8zM586 576.2h1.8v21.2h-1.8zM555.7 597.1h1.8v21.2h-1.8zM558.7 597.1h1.8v21.2h-1.8z"/><path fill="#f9b0b0" d="M463.3 492.5h1.8v21.2h-1.8zM475.4 492.5h1.8v21.2h-1.8zM480 492.5h1.8v21.2h-1.8zM484.5 492.5h1.8v21.2h-1.8zM487.5 492.5h1.8v21.2h-1.8zM457.2 513.4h1.8v21.2h-1.8zM493.6 513.4h1.8v21.2h-1.8zM508.7 513.4h1.8v21.2h-1.8zM457.2 534.3h1.8v21.2h-1.8zM467.8 534.3h1.8v21.2h-1.8zM493.6 534.3h1.8v21.2h-1.8zM508.7 534.3h1.8v21.2h-1.8zM455.7 555.2h1.8v21.2h-1.8zM463.3 555.2h1.8v21.2h-1.8zM467.8 555.2h1.8v21.2h-1.8zM470.9 555.2h1.8v21.2h-1.8zM513.3 555.2h1.8v21.2h-1.8zM581.5 555.2h1.8v21.2h-1.8zM601.2 576.2h1.8v21.2h-1.8zM563.3 597.1h1.8v21.2h-1.8zM573.9 597.1h1.8v21.2h-1.8zM586 597.1h1.8v21.2h-1.8zM589 597.1h1.8v21.2h-1.8zM592.1 597.1h1.8v21.2h-1.8zM595.1 597.1h1.8v21.2h-1.8zM602.7 597.1h1.8v21.2h-1.8z"/><path fill="#f57f7f" d="M464.8 492.5h1.8v21.2h-1.8zM473.9 492.5h1.8v21.2h-1.8zM499.6 492.5h1.8v21.2h-1.8zM484.5 513.4h1.8v21.2h-1.8zM490.6 513.4h1.8v21.2h-1.8zM495.1 513.4h1.8v21.2h-1.8zM454.2 534.3h1.8v21.2h-1.8zM469.4 534.3h1.8v21.2h-1.8zM549.6 576.2h1.8v21.2h-1.8zM570.9 576.2h1.8v21.2h-1.8zM578.4 576.2h1.8v21.2h-1.8zM545.1 597.1h1.8v21.2h-1.8zM564.8 597.1h1.8v21.2h-1.8zM570.9 597.1h1.8v21.2h-1.8zM599.6 597.1h1.8v21.2h-1.8z"/><path fill="#f68989" d="M466.3 492.5h1.8v21.2h-1.8zM470.9 492.5h1.8v21.2h-1.8zM498.1 492.5h1.8v21.2h-1.8zM470.9 513.4h1.8v21.2h-1.8zM472.4 513.4h1.8v21.2h-1.8zM483 555.2h1.8v21.2h-1.8zM543.6 576.2h1.8v21.2h-1.8zM558.7 576.2h1.8v21.2h-1.8zM560.2 576.2h1.8v21.2h-1.8zM583 576.2h1.8v21.2h-1.8zM602.7 576.2h1.8v21.2h-1.8zM533 597.1h1.8v21.2h-1.8zM561.8 597.1h1.8v21.2h-1.8zM572.4 597.1h1.8v21.2h-1.8zM576.9 597.1h1.8v21.2h-1.8zM598.1 597.1h1.8v21.2h-1.8z"/><path fill="#f79d9d" d="M467.8 492.5h1.8v21.2h-1.8zM490.6 492.5h1.8v21.2h-1.8zM492.1 492.5h1.8v21.2h-1.8zM493.6 492.5h1.8v21.2h-1.8zM489 513.4h1.8v21.2h-1.8zM557.2 513.4h1.8v21.2h-1.8zM473.9 534.3h1.8v21.2h-1.8zM473.9 555.2h1.8v21.2h-1.8zM480 555.2h1.8v21.2h-1.8zM554.2 576.2h1.8v21.2h-1.8zM567.8 576.2h1.8v21.2h-1.8zM575.4 576.2h1.8v21.2h-1.8zM596.6 576.2h1.8v21.2h-1.8zM534.5 597.1h1.8v21.2h-1.8zM542.1 597.1h1.8v21.2h-1.8zM583 597.1h1.8v21.2h-1.8zM584.5 597.1h1.8v21.2h-1.8zM593.6 597.1h1.8v21.2h-1.8z"/><path fill="#f57575" d="M472.4 492.5h1.8v21.2h-1.8zM454.2 513.4h1.8v21.2h-1.8zM564.8 576.2h1.8v21.2h-1.8zM560.2 597.1h1.8v21.2h-1.8z"/><path fill="#f79393" d="M476.9 492.5h1.8v21.2h-1.8zM481.5 492.5h1.8v21.2h-1.8zM483 492.5h1.8v21.2h-1.8zM489 492.5h1.8v21.2h-1.8zM507.2 492.5h1.8v21.2h-1.8zM473.9 513.4h1.8v21.2h-1.8zM475.4 513.4h1.8v21.2h-1.8zM480 513.4h1.8v21.2h-1.8zM513.3 513.4h1.8v21.2h-1.8zM472.4 534.3h1.8v21.2h-1.8zM472.4 555.2h1.8v21.2h-1.8zM542.1 576.2h1.8v21.2h-1.8zM569.3 576.2h1.8v21.2h-1.8zM573.9 576.2h1.8v21.2h-1.8zM589 576.2h1.8v21.2h-1.8zM592.1 576.2h1.8v21.2h-1.8zM598.1 576.2h1.8v21.2h-1.8zM599.6 576.2h1.8v21.2h-1.8zM539 597.1h1.8v21.2h-1.8zM543.6 597.1h1.8v21.2h-1.8zM546.6 597.1h1.8v21.2h-1.8zM567.8 597.1h1.8v21.2h-1.8zM596.6 597.1h1.8v21.2h-1.8z"/><path fill="#fbcece" d="M486 492.5h1.8v21.2h-1.8zM522.4 492.5h1.8v21.2h-1.8zM554.2 492.5h1.8v21.2h-1.8zM557.2 492.5h1.8v21.2h-1.8zM487.5 513.4h1.8v21.2h-1.8zM501.2 513.4h1.8v21.2h-1.8zM595.1 513.4h1.8v21.2h-1.8zM460.3 534.3h1.8v21.2h-1.8zM490.6 534.3h1.8v21.2h-1.8zM507.2 534.3h1.8v21.2h-1.8zM514.8 534.3h1.8v21.2h-1.8zM457.2 555.2h1.8v21.2h-1.8zM476.9 555.2h1.8v21.2h-1.8zM508.7 555.2h1.8v21.2h-1.8zM557.2 555.2h1.8v21.2h-1.8zM596.6 555.2h1.8v21.2h-1.8zM523.9 576.2h1.8v21.2h-1.8zM593.6 576.2h1.8v21.2h-1.8zM531.5 597.1h1.8v21.2h-1.8zM569.3 597.1h1.8v21.2h-1.8z"/><path fill="#fdebeb" d="M496.6 492.5h1.8v21.2h-1.8zM511.8 492.5h1.8v21.2h-1.8zM514.8 492.5h1.8v21.2h-1.8zM519.3 492.5h1.8v21.2h-1.8zM555.7 492.5h1.8v21.2h-1.8zM581.5 492.5h1.8v21.2h-1.8zM596.6 492.5h1.8v21.2h-1.8zM461.8 513.4h1.8v21.2h-1.8zM505.7 513.4h1.8v21.2h-1.8zM455.7 534.3h1.8v21.2h-1.8zM478.4 534.3h1.8v21.2h-1.8zM486 534.3h1.8v21.2h-1.8zM522.4 534.3h1.8v21.2h-1.8zM563.3 534.3h1.8v21.2h-1.8zM496.6 555.2h1.8v21.2h-1.8zM501.2 555.2h1.8v21.2h-1.8zM522.4 555.2h1.8v21.2h-1.8zM552.7 555.2h1.8v21.2h-1.8zM551.2 576.2h1.8v21.2h-1.8zM557.2 576.2h1.8v21.2h-1.8zM595.1 576.2h1.8v21.2h-1.8z"/><path fill="#f5f5fe" d="M508.7 492.5h1.8v21.2h-1.8zM517.8 492.5h1.8v21.2h-1.8zM595.1 492.5h1.8v21.2h-1.8zM586 513.4h1.8v21.2h-1.8zM533 534.3h1.8v21.2h-1.8zM551.2 534.3h1.8v21.2h-1.8zM557.2 534.3h1.8v21.2h-1.8zM516.3 555.2h1.8v21.2h-1.8zM554.2 555.2h1.8v21.2h-1.8zM592.1 555.2h1.8v21.2h-1.8zM540.6 576.2h1.8v21.2h-1.8zM546.6 576.2h1.8v21.2h-1.8z"/><path fill="#fef5f5" d="M510.3 492.5h1.8v21.2h-1.8zM513.3 492.5h1.8v21.2h-1.8zM586 492.5h1.8v21.2h-1.8zM469.4 513.4h1.8v21.2h-1.8zM528.4 513.4h1.8v21.2h-1.8zM458.7 534.3h1.8v21.2h-1.8zM463.3 534.3h1.8v21.2h-1.8zM572.4 534.3h1.8v21.2h-1.8zM584.5 534.3h1.8v21.2h-1.8zM475.4 555.2h1.8v21.2h-1.8zM539 555.2h1.8v21.2h-1.8zM602.7 555.2h1.8v21.2h-1.8zM499.6 576.2h1.8v21.2h-1.8zM581.5 597.1h1.8v21.2h-1.8zM601.2 597.1h1.8v21.2h-1.8z"/><path fill="#d7d7fc" d="M516.3 492.5h1.8v21.2h-1.8zM587.5 492.5h1.8v21.2h-1.8zM589 492.5h1.8v21.2h-1.8zM502.7 513.4h1.8v21.2h-1.8zM525.4 534.3h1.8v21.2h-1.8zM546.6 534.3h1.8v21.2h-1.8zM583 534.3h1.8v21.2h-1.8zM590.6 534.3h1.8v21.2h-1.8zM520.9 555.2h1.8v21.2h-1.8zM530 555.2h1.8v21.2h-1.8zM537.5 555.2h1.8v21.2h-1.8zM484.5 576.2h1.8v21.2h-1.8zM495.1 576.2h1.8v21.2h-1.8zM505.7 576.2h1.8v21.2h-1.8zM526.9 576.2h1.8v21.2h-1.8zM495.1 597.1h1.8v21.2h-1.8zM496.6 597.1h1.8v21.2h-1.8zM498.1 597.1h1.8v21.2h-1.8zM507.2 597.1h1.8v21.2h-1.8zM510.3 597.1h1.8v21.2h-1.8zM523.9 597.1h1.8v21.2h-1.8zM525.4 597.1h1.8v21.2h-1.8z"/><path fill="#e1e1fc" d="M520.9 492.5h1.8v21.2h-1.8zM523.9 492.5h1.8v21.2h-1.8zM525.4 492.5h1.8v21.2h-1.8zM498.1 513.4h1.8v21.2h-1.8zM520.9 513.4h1.8v21.2h-1.8zM549.6 513.4h1.8v21.2h-1.8zM464.8 534.3h1.8v21.2h-1.8zM489 534.3h1.8v21.2h-1.8zM558.7 534.3h1.8v21.2h-1.8zM581.5 534.3h1.8v21.2h-1.8zM486 555.2h1.8v21.2h-1.8zM531.5 555.2h1.8v21.2h-1.8zM558.7 555.2h1.8v21.2h-1.8zM604.2 555.2h1.8v21.2h-1.8zM478.4 576.2h1.8v21.2h-1.8zM489 576.2h1.8v21.2h-1.8zM501.2 576.2h1.8v21.2h-1.8zM460.3 597.1h1.8v21.2h-1.8zM478.4 597.1h1.8v21.2h-1.8zM508.7 597.1h1.8v21.2h-1.8zM551.2 597.1h1.8v21.2h-1.8z"/><path fill="#ebebfd" d="M526.9 492.5h1.8v21.2h-1.8zM584.5 492.5h1.8v21.2h-1.8zM601.2 492.5h1.8v21.2h-1.8zM517.8 534.3h1.8v21.2h-1.8zM528.4 534.3h1.8v21.2h-1.8zM539 534.3h1.8v21.2h-1.8zM555.7 534.3h1.8v21.2h-1.8zM587.5 534.3h1.8v21.2h-1.8zM598.1 534.3h1.8v21.2h-1.8zM478.4 555.2h1.8v21.2h-1.8zM498.1 555.2h1.8v21.2h-1.8zM584.5 555.2h1.8v21.2h-1.8zM587.5 555.2h1.8v21.2h-1.8zM589 555.2h1.8v21.2h-1.8zM460.3 576.2h1.8v21.2h-1.8zM463.3 576.2h1.8v21.2h-1.8zM581.5 576.2h1.8v21.2h-1.8zM587.5 597.1h1.8v21.2h-1.8z"/><path fill="#9d9df7" d="M528.4 492.5h1.8v21.2h-1.8zM530 492.5h1.8v21.2h-1.8zM543.6 492.5h1.8v21.2h-1.8zM546.6 492.5h1.8v21.2h-1.8zM569.3 492.5h1.8v21.2h-1.8zM576.9 492.5h1.8v21.2h-1.8zM598.1 492.5h1.8v21.2h-1.8zM602.7 492.5h1.8v21.2h-1.8zM522.4 513.4h1.8v21.2h-1.8zM526.9 513.4h1.8v21.2h-1.8zM533 513.4h1.8v21.2h-1.8zM570.9 513.4h1.8v21.2h-1.8zM501.2 534.3h1.8v21.2h-1.8zM530 534.3h1.8v21.2h-1.8zM523.9 555.2h1.8v21.2h-1.8zM560.2 555.2h1.8v21.2h-1.8zM569.3 555.2h1.8v21.2h-1.8zM572.4 555.2h1.8v21.2h-1.8zM461.8 576.2h1.8v21.2h-1.8zM464.8 576.2h1.8v21.2h-1.8zM466.3 576.2h1.8v21.2h-1.8zM472.4 576.2h1.8v21.2h-1.8zM492.1 576.2h1.8v21.2h-1.8zM533 576.2h1.8v21.2h-1.8zM469.4 597.1h1.8v21.2h-1.8zM475.4 597.1h1.8v21.2h-1.8zM483 597.1h1.8v21.2h-1.8zM487.5 597.1h1.8v21.2h-1.8zM490.6 597.1h1.8v21.2h-1.8zM504.2 597.1h1.8v21.2h-1.8zM517.8 597.1h1.8v21.2h-1.8zM519.3 597.1h1.8v21.2h-1.8zM526.9 597.1h1.8v21.2h-1.8z"/><path fill="#8989f6" d="M531.5 492.5h1.8v21.2h-1.8zM539 492.5h1.8v21.2h-1.8zM516.3 513.4h1.8v21.2h-1.8zM498.1 534.3h1.8v21.2h-1.8zM523.9 534.3h1.8v21.2h-1.8zM526.9 534.3h1.8v21.2h-1.8zM560.2 534.3h1.8v21.2h-1.8zM573.9 534.3h1.8v21.2h-1.8zM578.4 534.3h1.8v21.2h-1.8zM599.6 534.3h1.8v21.2h-1.8zM545.1 555.2h1.8v21.2h-1.8zM575.4 555.2h1.8v21.2h-1.8zM579.9 555.2h1.8v21.2h-1.8zM481.5 576.2h1.8v21.2h-1.8zM513.3 576.2h1.8v21.2h-1.8zM457.2 597.1h1.8v21.2h-1.8zM458.7 597.1h1.8v21.2h-1.8z"/><path fill="#9393f7" d="M533 492.5h1.8v21.2h-1.8zM536 492.5h1.8v21.2h-1.8zM542.1 492.5h1.8v21.2h-1.8zM548.1 492.5h1.8v21.2h-1.8zM517.8 513.4h1.8v21.2h-1.8zM537.5 513.4h1.8v21.2h-1.8zM564.8 513.4h1.8v21.2h-1.8zM589 513.4h1.8v21.2h-1.8zM593.6 513.4h1.8v21.2h-1.8zM602.7 513.4h1.8v21.2h-1.8zM540.6 534.3h1.8v21.2h-1.8zM549.6 534.3h1.8v21.2h-1.8zM604.2 534.3h1.8v21.2h-1.8zM549.6 555.2h1.8v21.2h-1.8zM458.7 576.2h1.8v21.2h-1.8zM504.2 576.2h1.8v21.2h-1.8zM511.8 576.2h1.8v21.2h-1.8zM454.2 597.1h1.8v21.2h-1.8zM461.8 597.1h1.8v21.2h-1.8zM513.3 597.1h1.8v21.2h-1.8zM520.9 597.1h1.8v21.2h-1.8z"/><path fill="#6c6cf4" d="M534.5 492.5h1.8v21.2h-1.8zM570.9 492.5h1.8v21.2h-1.8zM542.1 513.4h1.8v21.2h-1.8zM566.3 513.4h1.8v21.2h-1.8zM564.8 534.3h1.8v21.2h-1.8zM561.8 555.2h1.8v21.2h-1.8zM470.9 576.2h1.8v21.2h-1.8zM522.4 597.1h1.8v21.2h-1.8z"/><path fill="#c4c4fa" d="M537.5 492.5h1.8v21.2h-1.8zM560.2 492.5h1.8v21.2h-1.8zM583 492.5h1.8v21.2h-1.8zM593.6 492.5h1.8v21.2h-1.8zM460.3 513.4h1.8v21.2h-1.8zM576.9 513.4h1.8v21.2h-1.8zM578.4 513.4h1.8v21.2h-1.8zM598.1 513.4h1.8v21.2h-1.8zM536 534.3h1.8v21.2h-1.8zM554.2 534.3h1.8v21.2h-1.8zM576.9 534.3h1.8v21.2h-1.8zM487.5 555.2h1.8v21.2h-1.8zM533 555.2h1.8v21.2h-1.8zM519.3 576.2h1.8v21.2h-1.8zM534.5 576.2h1.8v21.2h-1.8zM455.7 597.1h1.8v21.2h-1.8zM472.4 597.1h1.8v21.2h-1.8zM480 597.1h1.8v21.2h-1.8zM493.6 597.1h1.8v21.2h-1.8zM505.7 597.1h1.8v21.2h-1.8zM528.4 597.1h1.8v21.2h-1.8z"/><path fill="#b0b0f9" d="M540.6 492.5h1.8v21.2h-1.8zM564.8 492.5h1.8v21.2h-1.8zM578.4 492.5h1.8v21.2h-1.8zM525.4 513.4h1.8v21.2h-1.8zM536 513.4h1.8v21.2h-1.8zM561.8 513.4h1.8v21.2h-1.8zM569.3 513.4h1.8v21.2h-1.8zM575.4 513.4h1.8v21.2h-1.8zM584.5 513.4h1.8v21.2h-1.8zM495.1 534.3h1.8v21.2h-1.8zM504.2 534.3h1.8v21.2h-1.8zM519.3 534.3h1.8v21.2h-1.8zM567.8 534.3h1.8v21.2h-1.8zM579.9 534.3h1.8v21.2h-1.8zM489 555.2h1.8v21.2h-1.8zM542.1 555.2h1.8v21.2h-1.8zM455.7 576.2h1.8v21.2h-1.8zM469.4 576.2h1.8v21.2h-1.8zM476.9 576.2h1.8v21.2h-1.8zM480 576.2h1.8v21.2h-1.8zM483 576.2h1.8v21.2h-1.8zM487.5 576.2h1.8v21.2h-1.8zM493.6 576.2h1.8v21.2h-1.8zM507.2 576.2h1.8v21.2h-1.8zM508.7 576.2h1.8v21.2h-1.8zM514.8 576.2h1.8v21.2h-1.8zM517.8 576.2h1.8v21.2h-1.8zM522.4 576.2h1.8v21.2h-1.8zM531.5 576.2h1.8v21.2h-1.8zM537.5 576.2h1.8v21.2h-1.8zM539 576.2h1.8v21.2h-1.8zM463.3 597.1h1.8v21.2h-1.8zM464.8 597.1h1.8v21.2h-1.8zM466.3 597.1h1.8v21.2h-1.8zM530 597.1h1.8v21.2h-1.8z"/><path fill="#3b3bf0" d="M545.1 492.5h1.8v21.2h-1.8zM604.2 492.5h1.8v21.2h-1.8zM599.6 513.4h1.8v21.2h-1.8zM567.8 555.2h1.8v21.2h-1.8z"/><path fill="#cecefb" d="M549.6 492.5h1.8v21.2h-1.8zM592.1 492.5h1.8v21.2h-1.8zM463.3 513.4h1.8v21.2h-1.8zM504.2 513.4h1.8v21.2h-1.8zM579.9 513.4h1.8v21.2h-1.8zM596.6 513.4h1.8v21.2h-1.8zM592.1 534.3h1.8v21.2h-1.8zM493.6 555.2h1.8v21.2h-1.8zM526.9 555.2h1.8v21.2h-1.8zM583 555.2h1.8v21.2h-1.8zM590.6 555.2h1.8v21.2h-1.8zM598.1 555.2h1.8v21.2h-1.8zM475.4 576.2h1.8v21.2h-1.8zM528.4 576.2h1.8v21.2h-1.8zM502.7 597.1h1.8v21.2h-1.8z"/><path fill="#a6a6f8" d="M561.8 492.5h1.8v21.2h-1.8zM579.9 492.5h1.8v21.2h-1.8zM530 513.4h1.8v21.2h-1.8zM531.5 513.4h1.8v21.2h-1.8zM573.9 513.4h1.8v21.2h-1.8zM587.5 513.4h1.8v21.2h-1.8zM592.1 513.4h1.8v21.2h-1.8zM601.2 513.4h1.8v21.2h-1.8zM499.6 534.3h1.8v21.2h-1.8zM545.1 534.3h1.8v21.2h-1.8zM492.1 555.2h1.8v21.2h-1.8zM495.1 555.2h1.8v21.2h-1.8zM534.5 555.2h1.8v21.2h-1.8zM536 555.2h1.8v21.2h-1.8zM457.2 576.2h1.8v21.2h-1.8zM498.1 576.2h1.8v21.2h-1.8zM473.9 597.1h1.8v21.2h-1.8zM492.1 597.1h1.8v21.2h-1.8zM501.2 597.1h1.8v21.2h-1.8zM511.8 597.1h1.8v21.2h-1.8zM514.8 597.1h1.8v21.2h-1.8zM516.3 597.1h1.8v21.2h-1.8z"/><path fill="#ffffff" d="M563.3 492.5h1.8v21.2h-1.8zM455.7 513.4h1.8v21.2h-1.8zM464.8 513.4h1.8v21.2h-1.8zM507.2 513.4h1.8v21.2h-1.8zM480 534.3h1.8v21.2h-1.8zM492.1 534.3h1.8v21.2h-1.8zM586 534.3h1.8v21.2h-1.8zM601.2 534.3h1.8v21.2h-1.8zM484.5 555.2h1.8v21.2h-1.8zM499.6 555.2h1.8v21.2h-1.8zM511.8 555.2h1.8v21.2h-1.8zM599.6 555.2h1.8v21.2h-1.8zM496.6 576.2h1.8v21.2h-1.8zM476.9 597.1h1.8v21.2h-1.8z"/><path fill="#3131f0" d="M566.3 492.5h1.8v21.2h-1.8zM604.2 513.4h1.8v21.2h-1.8z"/><path fill="#7575f5" d="M567.8 492.5h1.8v21.2h-1.8zM590.6 492.5h1.8v21.2h-1.8zM599.6 492.5h1.8v21.2h-1.8zM545.1 513.4h1.8v21.2h-1.8zM546.6 513.4h1.8v21.2h-1.8zM590.6 513.4h1.8v21.2h-1.8zM561.8 534.3h1.8v21.2h-1.8zM570.9 555.2h1.8v21.2h-1.8zM454.2 576.2h1.8v21.2h-1.8zM470.9 597.1h1.8v21.2h-1.8z"/><path fill="#babafa" d="M572.4 492.5h1.8v21.2h-1.8zM575.4 492.5h1.8v21.2h-1.8zM519.3 513.4h1.8v21.2h-1.8zM548.1 513.4h1.8v21.2h-1.8zM567.8 513.4h1.8v21.2h-1.8zM572.4 513.4h1.8v21.2h-1.8zM583 513.4h1.8v21.2h-1.8zM487.5 534.3h1.8v21.2h-1.8zM534.5 534.3h1.8v21.2h-1.8zM537.5 534.3h1.8v21.2h-1.8zM569.3 534.3h1.8v21.2h-1.8zM575.4 534.3h1.8v21.2h-1.8zM517.8 555.2h1.8v21.2h-1.8zM519.3 555.2h1.8v21.2h-1.8zM525.4 555.2h1.8v21.2h-1.8zM546.6 555.2h1.8v21.2h-1.8zM555.7 555.2h1.8v21.2h-1.8zM467.8 576.2h1.8v21.2h-1.8zM486 576.2h1.8v21.2h-1.8zM490.6 576.2h1.8v21.2h-1.8zM502.7 576.2h1.8v21.2h-1.8zM510.3 576.2h1.8v21.2h-1.8zM516.3 576.2h1.8v21.2h-1.8zM520.9 576.2h1.8v21.2h-1.8zM525.4 576.2h1.8v21.2h-1.8zM530 576.2h1.8v21.2h-1.8zM536 576.2h1.8v21.2h-1.8zM481.5 597.1h1.8v21.2h-1.8zM484.5 597.1h1.8v21.2h-1.8zM486 597.1h1.8v21.2h-1.8zM489 597.1h1.8v21.2h-1.8zM499.6 597.1h1.8v21.2h-1.8z"/><path fill="#7f7ff5" d="M573.9 492.5h1.8v21.2h-1.8zM523.9 513.4h1.8v21.2h-1.8zM539 513.4h1.8v21.2h-1.8zM496.6 534.3h1.8v21.2h-1.8zM502.7 534.3h1.8v21.2h-1.8zM505.7 534.3h1.8v21.2h-1.8zM540.6 555.2h1.8v21.2h-1.8zM543.6 555.2h1.8v21.2h-1.8zM548.1 555.2h1.8v21.2h-1.8zM576.9 555.2h1.8v21.2h-1.8zM473.9 576.2h1.8v21.2h-1.8z"/><path fill="#fce1e1" d="M467.8 513.4h1.8v21.2h-1.8zM478.4 513.4h1.8v21.2h-1.8zM492.1 513.4h1.8v21.2h-1.8zM499.6 513.4h1.8v21.2h-1.8zM510.3 513.4h1.8v21.2h-1.8zM555.7 513.4h1.8v21.2h-1.8zM558.7 513.4h1.8v21.2h-1.8zM560.2 513.4h1.8v21.2h-1.8zM563.3 513.4h1.8v21.2h-1.8zM461.8 534.3h1.8v21.2h-1.8zM520.9 534.3h1.8v21.2h-1.8zM531.5 534.3h1.8v21.2h-1.8zM552.7 534.3h1.8v21.2h-1.8zM589 534.3h1.8v21.2h-1.8zM593.6 534.3h1.8v21.2h-1.8zM596.6 534.3h1.8v21.2h-1.8zM458.7 555.2h1.8v21.2h-1.8zM490.6 555.2h1.8v21.2h-1.8zM528.4 555.2h1.8v21.2h-1.8zM551.2 555.2h1.8v21.2h-1.8zM593.6 555.2h1.8v21.2h-1.8zM554.2 597.1h1.8v21.2h-1.8zM579.9 597.1h1.8v21.2h-1.8z"/><path fill="#4e4ef2" d="M534.5 513.4h1.8v21.2h-1.8zM540.6 513.4h1.8v21.2h-1.8z"/><path fill="#5858f2" d="M543.6 513.4h1.8v21.2h-1.8zM566.3 534.3h1.8v21.2h-1.8zM578.4 555.2h1.8v21.2h-1.8z"/><path fill="#ef2727" d="M511.8 534.3h1.8v21.2h-1.8z"/><path fill="#f25858" d="M513.3 534.3h1.8v21.2h-1.8zM566.3 576.2h1.8v21.2h-1.8zM590.6 576.2h1.8v21.2h-1.8zM540.6 597.1h1.8v21.2h-1.8zM590.6 597.1h1.8v21.2h-1.8z"/><path fill="#4444f1" d="M542.1 534.3h1.8v21.2h-1.8z"/><path fill="#1414ee" d="M543.6 534.3h1.8v21.2h-1.8z"/><path fill="#6262f3" d="M548.1 534.3h1.8v21.2h-1.8zM570.9 534.3h1.8v21.2h-1.8zM564.8 555.2h1.8v21.2h-1.8zM573.9 555.2h1.8v21.2h-1.8zM467.8 597.1h1.8v21.2h-1.8z"/><path fill="#f36262" d="M454.2 555.2h1.8v21.2h-1.8zM604.2 576.2h1.8v21.2h-1.8zM536 597.1h1.8v21.2h-1.8zM566.3 597.1h1.8v21.2h-1.8z"/><path fill="#2727ef" d="M566.3 555.2h1.8v21.2h-1.8z"/><path fill="#f24e4e" d="M604.2 597.1h1.8v21.2h-1.8z"/>
<text x="607.5" y="490.8" font-size="4.8" text-anchor="start" fill="#111" font-weight="bold" font-family='"Liberation Sans", sans-serif' >Group</text>
<text x="608" y="505.5" font-size="7.0" text-anchor="start" fill="#111" font-family='"Liberation Sans", sans-serif' >HKDC1</text>
<text x="608" y="526.4" font-size="7.0" text-anchor="start" fill="#111" font-family='"Liberation Sans", sans-serif' >GPI</text>
<text x="608" y="547.3" font-size="7.0" text-anchor="start" fill="#111" font-family='"Liberation Sans", sans-serif' >c−Myc</text>
<text x="608" y="568.2" font-size="7.0" text-anchor="start" fill="#111" font-family='"Liberation Sans", sans-serif' >HIF−1α</text>
<text x="608" y="589.1" font-size="7.0" text-anchor="start" fill="#111" font-family='"Liberation Sans", sans-serif' >CKM</text>
<text x="608" y="610" font-size="7.0" text-anchor="start" fill="#111" font-family='"Liberation Sans", sans-serif' >FBP2</text>
<path d="M455,485V481.4H456.5V485M461,485V481.4H462.5V485M459.5,485V480.5H461.8V481.4M458,485V478.1H460.6V480.5M455.7,481.4V477.3H459.3V478.1M465.6,485V480.9H467.1V485M464,485V479.5H466.3V480.9M468.6,485V480.8H470.1V485M471.6,485V481.2H473.1V485M474.7,485V481.6H476.2V485M472.4,481.2V478.4H475.4V481.6M469.4,480.8V477.6H473.9V478.4M465.2,479.5V476.5H471.6V477.6M457.5,477.3V475.7H468.4V476.5M477.7,485V480.8H479.2V485M480.7,485V481.4H482.2V485M481.5,481.4V480.6H483.7V485M478.4,480.8V479.8H482.6V480.6M485.3,485V480.4H486.8V485M488.3,485V481.3H489.8V485M486,480.4V479.1H489V481.3M480.5,479.8V478.3H487.5V479.1M492.8,485V481.6H494.3V485M491.3,485V480.8H493.6V481.6M495.9,485V481.7H497.4V485M496.6,481.7V480.9H498.9V485M492.5,480.8V477.6H497.8V480.9M484,478.3V476.8H495.1V477.6M463,475.7V474.4H489.6V476.8M500.4,485V480.6H501.9V485M501.2,480.6V479.4H503.4V485M505,485V481.5H506.5V485M502.3,479.4V477.4H505.7V481.5M509.5,485V481.5H511V485M508,485V479.7H510.3V481.5M512.5,485V481.4H514V485M513.3,481.4V480.6H515.6V485M509.1,479.7V478.9H514.4V480.6M517.1,485V481.8H518.6V485M517.8,481.8V480.3H520.1V485M521.6,485V480.3H523.1V485M519,480.3V478.9H522.4V480.3M511.8,478.9V478.1H520.7V478.9M504,477.4V476.6H516.2V478.1M524.6,485V480.7H526.2V485M527.7,485V481H529.2V485M525.4,480.7V479.8H528.4V481M532.2,485V480.9H533.7V485M530.7,485V479.5H533V480.9M526.9,479.8V477.5H531.8V479.5M535.3,485V480.1H536.8V485M538.3,485V480.5H539.8V485M536,480.1V478.9H539V480.5M529.4,477.5V476.7H537.5V478.9M510.1,476.6V475.8H533.5V476.7M476.3,474.4V466H521.8V475.8M542.8,485V480.8H544.3V485M541.3,485V480H543.6V480.8M545.9,485V481H547.4V485M542.4,480V478.7H546.6V481M548.9,485V481.2H550.4V485M551.9,485V480.7H553.4V485M549.6,481.2V478.7H552.7V480.7M556.5,485V481.9H558V485M554.9,485V481H557.2V481.9M551.2,478.7V477.7H556.1V481M544.5,478.7V476.9H553.6V477.7M559.5,485V481.5H561V485M564,485V481.3H565.6V485M562.5,485V480.5H564.8V481.3M560.2,481.5V478.7H563.7V480.5M567.1,485V481.1H568.6V485M570.1,485V481.1H571.6V485M573.1,485V481.1H574.6V485M570.9,481.1V480.3H573.9V481.1M567.8,481.1V479.5H572.4V480.3M562,478.7V476.6H570.1V479.5M549.1,476.9V474.2H566V476.6M577.7,485V481.2H579.2V485M578.4,481.2V478.9H580.7V485M576.2,485V478.1H579.6V478.9M582.2,485V481.6H583.7V485M585.2,485V481.7H586.8V485M583,481.6V479.1H586V481.7M577.9,478.1V477.2H584.5V479.1M591.3,485V482H592.8V485M589.8,485V480.6H592.1V482M588.3,485V479.8H590.9V480.6M595.9,485V481.9H597.4V485M594.3,485V479.9H596.6V481.9M598.9,485V480.7H600.4V485M601.9,485V481.5H603.4V485M602.7,481.5V480.6H604.9V485M599.6,480.7V479.2H603.8V480.6M595.5,479.9V478.4H601.7V479.2M589.6,479.8V477.6H598.6V478.4M581.2,477.2V476.4H594.1V477.6M557.6,474.2V468H587.6V476.4M499,466V462H572.6V468" fill="none" stroke="#222" stroke-width="0.45"/>
<path d="M453.4,503H445M453.4,523.9H445M445,503V523.9M445,513.4H441M453.4,544.8H441M441,513.4V544.8M441,529.1H437.5M453.4,565.7H437.5M437.5,529.1V565.7M453.4,586.6H445M453.4,607.5H445M445,586.6V607.5M437.5,547.4H430.5M445,597.1H430.5M430.5,547.4V597.1" fill="none" stroke="#222" stroke-width="0.45"/>
<rect x="634.8" y="485.8" width="4.8" height="65.2" fill="url(#hmg)"/>
<text x="641" y="487.6" font-size="4.9" text-anchor="start" fill="#222" font-family='"Liberation Sans", sans-serif' >3</text>
<text x="641" y="498.5" font-size="4.9" text-anchor="start" fill="#222" font-family='"Liberation Sans", sans-serif' >2</text>
<text x="641" y="509.3" font-size="4.9" text-anchor="start" fill="#222" font-family='"Liberation Sans", sans-serif' >1</text>
<text x="641" y="520.2" font-size="4.9" text-anchor="start" fill="#222" font-family='"Liberation Sans", sans-serif' >0</text>
<text x="641" y="531.1" font-size="4.9" text-anchor="start" fill="#222" font-family='"Liberation Sans", sans-serif' >−1</text>
<text x="641" y="541.9" font-size="4.9" text-anchor="start" fill="#222" font-family='"Liberation Sans", sans-serif' >−2</text>
<text x="641" y="552.8" font-size="4.9" text-anchor="start" fill="#222" font-family='"Liberation Sans", sans-serif' >−3</text>
<text x="650.4" y="490" font-size="4.8" text-anchor="start" fill="#111" font-weight="bold" font-family='"Liberation Sans", sans-serif' >Group</text>
<rect x="650.4" y="491.4" width="7.6" height="7.3" fill="#72ece4"/>
<rect x="650.4" y="498.9" width="7.6" height="7.1" fill="#f28a84"/>
<text x="659.2" y="496.8" font-size="5.0" text-anchor="start" fill="#222" font-family='"Liberation Sans", sans-serif' >Normal</text>
<text x="659.2" y="504" font-size="5.0" text-anchor="start" fill="#222" font-family='"Liberation Sans", sans-serif' >Tumor</text>
<text x="9.3" y="630.3" font-size="10.5" text-anchor="start" fill="#111" font-family='"Liberation Sans", sans-serif' >H</text>
<rect x="21" y="638" width="108.4" height="104.6" fill="none" stroke="#555" stroke-width="0.6"/>
<line x1="24.5" y1="742.6" x2="24.5" y2="744.4" stroke="#555" stroke-width="0.45"/>
<text x="24.5" y="751.8" font-size="4.4" text-anchor="middle" fill="#333" font-family='"Liberation Sans", sans-serif' >0</text>
<line x1="41.7" y1="742.6" x2="41.7" y2="744.4" stroke="#555" stroke-width="0.45"/>
<text x="41.7" y="751.8" font-size="4.4" text-anchor="middle" fill="#333" font-family='"Liberation Sans", sans-serif' >1</text>
<line x1="58.9" y1="742.6" x2="58.9" y2="744.4" stroke="#555" stroke-width="0.45"/>
<text x="58.9" y="751.8" font-size="4.4" text-anchor="middle" fill="#333" font-family='"Liberation Sans", sans-serif' >2</text>
<line x1="76.1" y1="742.6" x2="76.1" y2="744.4" stroke="#555" stroke-width="0.45"/>
<text x="76.1" y="751.8" font-size="4.4" text-anchor="middle" fill="#333" font-family='"Liberation Sans", sans-serif' >3</text>
<line x1="93.3" y1="742.6" x2="93.3" y2="744.4" stroke="#555" stroke-width="0.45"/>
<text x="93.3" y="751.8" font-size="4.4" text-anchor="middle" fill="#333" font-family='"Liberation Sans", sans-serif' >4</text>
<line x1="110.5" y1="742.6" x2="110.5" y2="744.4" stroke="#555" stroke-width="0.45"/>
<text x="110.5" y="751.8" font-size="4.4" text-anchor="middle" fill="#333" font-family='"Liberation Sans", sans-serif' >5</text>
<line x1="127.7" y1="742.6" x2="127.7" y2="744.4" stroke="#555" stroke-width="0.45"/>
<text x="127.7" y="751.8" font-size="4.4" text-anchor="middle" fill="#333" font-family='"Liberation Sans", sans-serif' >6</text>
<line x1="19.2" y1="738.5" x2="21" y2="738.5" stroke="#555" stroke-width="0.45"/>
<text transform="translate(16,738.5) rotate(-90)" font-size="3.6" text-anchor="middle" fill="#444" font-family='"Liberation Sans", sans-serif'>0</text>
<line x1="19.2" y1="722.4" x2="21" y2="722.4" stroke="#555" stroke-width="0.45"/>
<text transform="translate(16,722.4) rotate(-90)" font-size="3.6" text-anchor="middle" fill="#444" font-family='"Liberation Sans", sans-serif'>1</text>
<line x1="19.2" y1="706.3" x2="21" y2="706.3" stroke="#555" stroke-width="0.45"/>
<text transform="translate(16,706.3) rotate(-90)" font-size="3.6" text-anchor="middle" fill="#444" font-family='"Liberation Sans", sans-serif'>2</text>
<line x1="19.2" y1="690.2" x2="21" y2="690.2" stroke="#555" stroke-width="0.45"/>
<text transform="translate(16,690.2) rotate(-90)" font-size="3.6" text-anchor="middle" fill="#444" font-family='"Liberation Sans", sans-serif'>3</text>
<line x1="19.2" y1="674.1" x2="21" y2="674.1" stroke="#555" stroke-width="0.45"/>
<text transform="translate(16,674.1) rotate(-90)" font-size="3.6" text-anchor="middle" fill="#444" font-family='"Liberation Sans", sans-serif'>4</text>
<line x1="19.2" y1="658" x2="21" y2="658" stroke="#555" stroke-width="0.45"/>
<text transform="translate(16,658) rotate(-90)" font-size="3.6" text-anchor="middle" fill="#444" font-family='"Liberation Sans", sans-serif'>5</text>
<line x1="19.2" y1="641.9" x2="21" y2="641.9" stroke="#555" stroke-width="0.45"/>
<text transform="translate(16,641.9) rotate(-90)" font-size="3.6" text-anchor="middle" fill="#444" font-family='"Liberation Sans", sans-serif'>6</text>
<path d="M29.5 738.4h0M36.7 735.5h0M27.7 737.3h0M26.5 733.1h0M34.7 734.3h0M27.4 737h0M35.5 737.7h0M54 732.9h0M26.2 738.1h0M34.2 737.3h0M27.4 735.8h0M41.5 732.5h0M26.3 736.3h0M35.7 736.4h0M43.4 736.7h0M28.8 736.8h0M40.5 730.2h0M41 737.5h0M34.6 735.1h0M28.1 732.9h0M25.4 736.4h0M29.1 736.7h0M33.5 737.8h0M29.7 735.7h0M36.4 733.6h0M51.9 736.4h0M42.7 738.3h0M26.7 736.6h0M33.7 735.7h0M26.6 737.2h0M32.7 731.7h0M37.3 735.5h0M33.1 736.7h0M37.1 736h0M31.3 738.4h0M42.3 736.9h0M41.6 736.6h0M29.3 737.9h0M48.5 733.2h0M29.5 737.1h0M32.8 734.1h0M31.6 735.6h0M42.7 738.4h0M26.2 735.4h0M35.6 735.5h0M29.4 738.1h0M35.2 734.6h0M34.2 730.4h0M25.4 736h0M27.4 729.2h0M25.4 738.1h0M30.5 736.6h0M25.9 737.6h0M39.1 733.9h0M38 737.1h0M26.3 736.5h0M28.2 736.1h0M29.1 735.3h0M28.8 734.8h0M31.2 736h0M40.7 737.7h0M40.4 737.3h0M29.9 738.1h0M37.4 734.6h0M25.3 730.8h0M29.5 734.6h0M34.7 733h0M32.5 736.2h0M30.9 736.1h0M28.3 735.3h0M27.6 734.6h0M25.3 732.9h0M26.3 732.5h0M38.4 737.6h0M30.8 737h0M30.1 732.9h0M31.4 736h0M28.7 735.6h0M26.8 736.4h0M33.5 734.4h0M36.5 734.4h0M31.6 737.5h0M32.8 735.9h0M48.7 738.5h0M25.6 736.5h0M36.1 737.7h0M27.9 735h0M24.7 738.5h0M37.1 734.8h0M31.6 731.7h0M33.7 736.9h0M25.8 736.2h0M40.3 734.7h0M33.3 737.8h0M35.6 736.1h0M28.3 735.6h0M48.2 736.5h0M30.3 735h0M30.1 736.4h0M36.3 735.4h0M31.4 737.7h0M40.8 735.3h0M25.3 733.5h0M49 736.1h0M28.2 735.9h0M42.8 737.9h0M31.7 737.6h0M61.2 737.9h0M26.5 737.7h0M25.7 737.6h0M35.3 736.3h0M29.8 737.9h0M42.9 737.7h0M35.5 737.1h0M40.1 737.8h0M40.2 735h0M25.8 735.6h0M26.7 737.3h0M26.7 737.6h0M45 735.5h0M29 735.6h0M46.1 734.7h0M32.4 732.9h0M40.7 737.2h0M34.5 737.5h0M31.3 733.7h0M38.8 735.7h0M33.7 736.7h0M41.5 736.6h0M29.9 738h0M42.5 735.2h0M28.2 737.3h0M30 736.9h0M38.6 731.6h0M32.4 737.2h0M26.1 735.1h0M29.1 735.9h0M27.4 736.4h0M25.9 731.5h0M32.9 733.8h0M38.6 734.9h0M26.3 732.9h0M28.3 738h0M39.8 735.3h0M36 737.5h0M34 734.5h0M28.2 738.4h0M31.7 736.8h0M31.9 735.2h0M25.3 736.9h0M28.3 734.2h0M37.2 733.1h0M37.6 737.1h0M25.4 736h0M41.9 736.9h0M35.2 736.2h0M41.8 731.6h0M24.7 737.2h0M28.9 737.3h0M36 737.8h0M43.1 737.2h0M28.4 737.2h0M30.7 737.9h0M29.8 738.1h0M31.4 736.4h0M41.4 734.1h0M28.7 735.9h0M39.7 738.5h0M26.6 736.9h0M28.3 737h0M28.9 733.4h0M32.5 736.9h0M35.9 734.1h0M44.4 735.5h0M30.1 736.5h0M26.8 737.2h0M32 732.7h0M28.2 736.8h0M34.1 737h0M25.5 737.5h0M30.2 732.8h0M34.1 737.2h0M30.6 738.3h0M28.4 738.2h0M41.8 731.6h0M34.9 734.7h0M31.9 736.8h0M24.6 732h0M42.9 734h0M31.2 735.9h0M28.8 732h0M28.6 736.3h0M37.7 738.1h0M36.4 736.6h0M33.9 734.5h0M27.4 737.3h0M37.5 736.1h0M34 738.3h0M30.7 735.4h0M29.5 736.7h0M33.7 734.7h0M50.5 736.1h0M40.5 737.4h0M32.3 736.1h0M51.1 734.8h0M35.6 737.6h0M34.1 733.5h0M35.6 737.4h0M36.7 736.4h0M37.8 736h0M26.4 735h0M41.3 736.8h0M32 738.1h0M35.4 730.3h0M32.4 737.6h0M32.7 738h0M30.3 737.9h0M32.7 736.6h0M34.8 731.1h0M35 735.1h0M31.1 737h0M48.3 736.8h0M29.4 734.3h0M42.2 734.4h0M33.8 736.4h0M35 737.3h0M35.6 737.5h0M32.3 733.5h0M30.3 737.7h0M38 731.8h0M32.3 736.6h0M28.3 737.4h0M24.6 737.3h0M30.2 735.2h0M28.2 735.2h0M24.8 733.4h0M25.1 735.3h0M26.6 737.8h0M30 737.8h0M34.3 735.7h0M28 737.8h0M31.2 736.2h0M28.6 736.2h0M37.2 734.7h0M38.6 728.7h0M30.4 737.9h0M53.6 734.5h0M45.2 736.8h0M26.4 734.9h0M27.4 736.4h0M43.6 737.7h0M30.9 733.9h0M40.8 729.1h0M30.7 737h0M25.1 737.4h0M36.2 736.5h0M41.2 734.6h0M28.2 735.5h0M28.2 737.8h0M24.7 735.5h0M28.7 733.9h0M32.7 736.5h0M30.6 736h0M33.8 737.6h0M40.5 735.3h0M24.6 734.7h0M24.7 736.3h0M33 735.1h0M33.1 732h0M45.6 737.7h0M29.6 735.7h0M29.5 732.2h0M26.2 736.4h0M26.4 737.2h0M32 736.1h0M31.1 733.9h0M24.6 736.7h0M30.6 732.1h0M29.1 734.6h0M28.7 732.2h0M32.9 737.8h0M34.8 734.4h0M33.5 733.8h0M25.7 730.7h0M37.2 736.8h0M37.8 734.2h0M31.1 737.6h0M36.9 737h0M41.9 735.8h0M32.7 731.7h0M42.1 732.8h0M26.3 735.3h0M24.6 738.4h0M36.3 736.3h0M28.2 735.4h0M27.7 735h0M37.4 735.1h0M27 737.2h0M32.6 733.8h0M25.1 737.2h0M26.1 737.2h0M55 734h0M32.8 738.3h0M37.8 730.9h0M31.8 737.8h0M33.6 736.7h0M36.8 738.1h0M24.7 736.4h0M43.3 737.9h0M32.3 733.9h0M30.2 735.8h0M41 738.2h0M30.6 736.1h0M27.2 736h0M39 737.9h0M35.8 734.2h0M40 736.6h0M43.3 736.2h0M39.2 737h0M30.1 737.2h0M41.4 735.7h0M28.9 734.9h0M30.1 737.4h0M25.8 734.7h0M28.8 737.5h0M31.1 738.2h0M26.5 734.9h0M36 737.4h0M42.4 737.5h0M28.2 735h0M26.1 700.4h0M28.2 737.2h0M26.6 694.7h0M27.9 700.5h0M29.6 722.8h0M26.3 683.7h0M29 730.6h0M25.6 707.6h0M28.8 724.3h0M27.2 696.9h0M27.2 722h0M24.7 686h0M26.9 687h0M31.2 707.7h0M28.6 734.6h0M27.6 727.7h0M25.4 691.9h0M29.2 735.8h0M27 697.2h0M26.1 737.9h0M24.9 687.8h0M30.8 735.4h0M25.4 728.2h0M30 712h0M27 710.1h0M28.8 730.5h0M30.3 694.3h0M31.7 703.9h0M27.8 702.5h0M27.9 702.9h0M32.4 716.7h0M27.4 722.9h0M24.9 718.2h0M25.4 708.9h0M29.3 686.5h0M27.8 684h0M24.7 680.8h0M30.4 720.9h0M28.1 682.6h0M25.8 686.3h0M29.2 698.7h0M26.7 697.7h0M26.5 699.9h0M26.7 692h0M24.7 682.7h0M63 720.5h0M55 734.8h0M51.1 731.4h0M77.9 737.5h0M56.5 735.5h0M70.5 724.2h0M35.8 724.5h0M55.6 738.1h0M28.2 724h0M57.1 726.6h0M61.2 730.6h0M81 718.4h0M81.6 717.6h0M57 729.4h0M76.3 720.2h0M28.9 730.4h0M60.2 737.2h0M67.1 737.6h0M66.8 727.1h0M84.1 729.5h0M51.1 736h0M65.9 731h0M71.8 737.1h0M32.8 736.8h0M65.7 726.8h0M61 736.2h0M84.7 738h0M39.6 733.6h0M57.6 715.7h0M84.5 730.7h0M83.2 721.2h0M50.6 718.6h0M47.1 730.6h0M44 726.8h0M24.6 733.4h0M50.4 699.8h0M68.4 738h0M66.5 737.6h0M38.4 719.6h0M47.9 729.3h0M26.5 725.6h0M51.8 712.4h0M82.6 737h0M36.9 733.8h0M57 730.9h0M45.8 732.3h0M55 725.8h0M43 722.8h0M74.9 734h0M36.9 723.4h0M54.2 728.1h0M72.7 736.4h0M53.6 738.2h0M26.3 732.6h0M76.8 721.9h0M76.8 734.8h0M44.4 731.9h0M54.9 720.5h0M43.2 730.1h0M59.6 719.8h0M95.5 687.6h0M117.9 697.1h0M107.5 666.3h0M106 674.8h0M100.4 676.9h0M102 651h0M121.2 683.8h0M95.9 682h0M110.2 640.3h0M116 663.7h0M91.8 668.7h0M107.8 678.1h0M108 681.3h0M101.8 669.2h0M101.5 687.5h0M107.1 669.3h0M115.5 665.9h0M114.5 685.9h0M110.4 688.7h0M90.7 681.6h0M106.9 680.1h0M106.7 669.4h0M105.7 678.3h0M126 683.7h0M102.8 661h0M108.4 667.5h0M103.8 674.1h0M101.8 670.5h0M102.4 663.6h0M111.6 668h0M106.5 705.7h0M110 672.2h0M105.6 678.1h0M100.1 669.3h0M112.1 655.2h0M115 669.6h0M86.8 682.1h0M99.3 662.5h0M104.1 640.3h0M94.6 696.6h0M103.1 689.3h0M97.2 681.4h0M94 679.1h0M97.3 665.4h0M115 682.2h0M119.8 654.4h0M117.9 706.8h0M110.8 694.5h0M114.4 665.4h0M111.2 653h0M93 670.2h0M116.9 670.3h0M103.1 681h0M93.8 640.3h0M97.1 669.6h0M102.4 667h0M102 676.2h0M124.2 687.8h0M107.4 647.4h0M95 680h0M124.3 646.5h0M106.3 667.2h0M118.5 683.1h0M104.2 671.2h0M102.3 651.9h0M126 675.7h0M111.6 665.1h0M90.4 688.2h0M111 668.1h0M107.2 640.3h0M93.8 675.8h0M92.9 682.2h0M111.6 674.7h0M90.5 663.9h0M109.4 648.1h0M113.3 677.2h0M107.5 708.8h0M106.8 667.9h0M91.8 677.7h0M102.2 687.7h0M104.2 667.5h0M106.3 666.8h0M107.4 658.3h0M110.7 688.1h0M94.9 668.5h0M103.4 689.3h0M113.4 677.6h0M113.5 663.9h0M114.8 640.3h0M126 677.5h0M84.3 663.6h0M108.8 696.1h0M85.8 682.3h0M111.8 671.9h0M107.5 668.2h0M112.2 644.2h0M126 688.5h0M92.5 688.6h0M112.4 682.9h0M114.9 664.8h0M93.2 663.8h0M113.2 681.8h0M97.8 675.7h0M106.4 674.8h0M117 640.3h0M92.2 656.4h0M112.3 664.5h0M116.1 692.2h0M98.1 690.1h0M100.2 679.5h0M103.8 663.9h0M117.3 656.8h0M111.1 694.1h0M93.5 650.1h0M105.1 657.8h0M116.7 675.7h0M101.1 665.9h0M101.6 694.6h0M88.7 654.9h0M94.3 675.3h0M116.5 656.3h0M100.2 666.7h0M115.3 640.3h0M117.4 684.2h0M114.6 649.9h0M112 664.8h0M112.3 668.3h0M96.3 682.8h0M104.4 658h0M110.9 696.2h0M98.3 701.6h0M91.2 681.8h0M99.6 677.5h0M79.8 706.8h0M79.8 708.1h0M103 702.3h0M69.5 679.1h0M82.1 681.2h0M106.8 665.8h0M91.7 737.1h0M106.5 734.6h0M89.9 735.6h0M70.5 669.4h0M96.8 688.9h0M75.4 718.6h0M80.5 673.6h0M77.5 691.5h0M104.2 730.8h0M84.9 718.5h0M92.7 712h0M108.8 711.9h0M104.6 706h0M88.9 678.3h0M98.8 685.5h0M77.5 702h0M70.7 720.7h0M87.4 666.9h0M104.8 717.2h0M98.4 659.2h0M97 668.7h0M86.9 673.8h0M93.8 694.7h0M87.3 691.2h0M89.3 693.6h0M69.4 680.8h0" stroke="#000" stroke-width="1.0" stroke-linecap="square"/>
<text x="75.2" y="760.5" font-size="5.8" text-anchor="middle" fill="#222" font-family='"Liberation Sans", sans-serif' >log2(FBP2 TPM)</text>
<text transform="translate(5.7,690.3) rotate(-90)" font-size="6.4" text-anchor="middle" fill="#222" font-family='"Liberation Sans", sans-serif'>log2(CKM TPM)</text>
<text x="27.6" y="646.3" font-size="5.2" text-anchor="start" fill="#222" font-family='"Liberation Sans", sans-serif' >p−value = 1.5e−51</text>
<text x="27.6" y="652.6" font-size="5.2" text-anchor="start" fill="#222" font-family='"Liberation Sans", sans-serif' >R = 0.56</text>
<rect x="158.5" y="638" width="109.3" height="104.6" fill="none" stroke="#555" stroke-width="0.6"/>
<line x1="162.6" y1="742.6" x2="162.6" y2="744.4" stroke="#555" stroke-width="0.45"/>
<text x="162.6" y="751.8" font-size="4.4" text-anchor="middle" fill="#333" font-family='"Liberation Sans", sans-serif' >0</text>
<line x1="179.8" y1="742.6" x2="179.8" y2="744.4" stroke="#555" stroke-width="0.45"/>
<text x="179.8" y="751.8" font-size="4.4" text-anchor="middle" fill="#333" font-family='"Liberation Sans", sans-serif' >1</text>
<line x1="197" y1="742.6" x2="197" y2="744.4" stroke="#555" stroke-width="0.45"/>
<text x="197" y="751.8" font-size="4.4" text-anchor="middle" fill="#333" font-family='"Liberation Sans", sans-serif' >2</text>
<line x1="214.2" y1="742.6" x2="214.2" y2="744.4" stroke="#555" stroke-width="0.45"/>
<text x="214.2" y="751.8" font-size="4.4" text-anchor="middle" fill="#333" font-family='"Liberation Sans", sans-serif' >3</text>
<line x1="231.4" y1="742.6" x2="231.4" y2="744.4" stroke="#555" stroke-width="0.45"/>
<text x="231.4" y="751.8" font-size="4.4" text-anchor="middle" fill="#333" font-family='"Liberation Sans", sans-serif' >4</text>
<line x1="248.6" y1="742.6" x2="248.6" y2="744.4" stroke="#555" stroke-width="0.45"/>
<text x="248.6" y="751.8" font-size="4.4" text-anchor="middle" fill="#333" font-family='"Liberation Sans", sans-serif' >5</text>
<line x1="265.8" y1="742.6" x2="265.8" y2="744.4" stroke="#555" stroke-width="0.45"/>
<text x="265.8" y="751.8" font-size="4.4" text-anchor="middle" fill="#333" font-family='"Liberation Sans", sans-serif' >6</text>
<line x1="156.7" y1="739.1" x2="158.5" y2="739.1" stroke="#555" stroke-width="0.45"/>
<text transform="translate(153.5,739.1) rotate(-90)" font-size="3.6" text-anchor="middle" fill="#444" font-family='"Liberation Sans", sans-serif'>0</text>
<line x1="156.7" y1="718.7" x2="158.5" y2="718.7" stroke="#555" stroke-width="0.45"/>
<text transform="translate(153.5,718.7) rotate(-90)" font-size="3.6" text-anchor="middle" fill="#444" font-family='"Liberation Sans", sans-serif'>2</text>
<line x1="156.7" y1="698.3" x2="158.5" y2="698.3" stroke="#555" stroke-width="0.45"/>
<text transform="translate(153.5,698.3) rotate(-90)" font-size="3.6" text-anchor="middle" fill="#444" font-family='"Liberation Sans", sans-serif'>4</text>
<line x1="156.7" y1="677.9" x2="158.5" y2="677.9" stroke="#555" stroke-width="0.45"/>
<text transform="translate(153.5,677.9) rotate(-90)" font-size="3.6" text-anchor="middle" fill="#444" font-family='"Liberation Sans", sans-serif'>6</text>
<line x1="156.7" y1="657.5" x2="158.5" y2="657.5" stroke="#555" stroke-width="0.45"/>
<text transform="translate(153.5,657.5) rotate(-90)" font-size="3.6" text-anchor="middle" fill="#444" font-family='"Liberation Sans", sans-serif'>8</text>
<path d="M167 673.1h0M164 661h0M166.1 671.8h0M165.7 669.7h0M165.1 667.9h0M165 675h0M165.9 657.1h0M167 667.9h0M166.1 658.3h0M169.2 689.7h0M163.9 669h0M164.3 677.1h0M168.9 662.6h0M167.2 672.6h0M163.7 680.2h0M164.5 670.9h0M165.3 663.2h0M165.5 675.5h0M166.2 683.6h0M163.8 672.3h0M164 658.9h0M167.3 679.9h0M166.9 688.5h0M167.6 666.3h0M168 674.9h0M167.7 686.2h0M163 670.1h0M162.8 683.2h0M168.6 674.2h0M164.3 679.8h0M166.3 692h0M163.5 683.4h0M168.5 664.2h0M166.5 669h0M169.9 672.1h0M165.7 667.9h0M164.1 677.2h0M163.7 683.7h0M168.1 672.1h0M164.7 665.2h0M167.5 670.1h0M168.8 662.2h0M164 657.5h0M165 687h0M162.6 662.3h0M167.7 671h0M163.2 673.8h0M163.9 677h0M164.8 651.4h0M162.6 674.6h0M166.5 678.9h0M169.4 670.4h0M162.7 682.2h0M166 667.1h0M168.5 663.5h0M165.4 673.3h0M168.9 680.7h0M166.4 675.8h0M165 664.1h0M163.9 681.7h0M162.7 675h0M164.4 675.3h0M166.8 679.3h0M164.8 682.4h0M163.8 661.5h0M169.7 687.9h0M165.9 702.5h0M169.6 679.6h0M167.3 692.3h0M168.5 671.1h0M164.6 691.3h0M164.1 677.9h0M164.5 691.2h0M163.7 665.3h0M165.3 682.1h0M162.6 682.9h0M163.6 671.9h0M169.2 673.1h0M164.1 673.1h0M163 670.5h0M164.5 671.6h0M164.1 686.1h0M164.9 672.7h0M163.1 680.4h0M166.2 675.7h0M164.6 671.2h0M164.1 662.7h0M163.4 659.1h0M164.6 684.6h0M165.5 679.7h0M162.7 683.2h0M163.2 666.8h0M164 674h0M165.5 672.9h0M163.2 692.5h0M166.3 677.4h0M165.3 669.3h0M163.4 671.5h0M167 686.8h0M164.1 680.3h0M165.4 668.7h0M164.4 689.8h0M166.4 671.4h0M166.2 692.9h0M162.9 679.4h0M165.3 655.7h0M164.8 672.1h0M167 664.1h0M169.8 678.5h0M166.2 687.3h0M163.3 660.2h0M167.8 657.4h0M166.4 670.1h0M163 672.5h0M168.4 658.1h0M163.8 691.4h0M163.7 687.4h0M165.8 674.6h0M167 672.9h0M166.6 656.5h0M164.7 671.3h0M165 660.7h0M163 664.3h0M166.2 674.1h0M167.9 651.9h0M165.4 675.9h0M165.8 679.5h0M163.2 678.9h0M166.1 685.7h0M168.7 679.6h0M167.2 661.9h0M165.7 664.4h0M167 675.3h0M162.9 669.3h0M163.1 694.8h0M166 681.5h0M164.3 674.8h0M162.8 681.4h0M162.7 679h0M165.5 677h0M164.3 667.5h0M164.7 679h0M166.6 665.6h0M164.9 694.9h0M166.6 678.6h0M165.2 674.7h0M164 677.5h0M167.7 693.1h0M164.9 672.1h0M163.9 677.7h0M164.4 653.3h0M165.5 665.3h0M163.1 675.7h0M167.3 667.8h0M164.2 685.2h0M169.5 677.1h0M166.3 673.6h0M164.5 677.1h0M163.4 681.1h0M166.2 679h0M166.8 669.2h0M163.9 665.2h0M163.2 694.2h0M162.9 690.1h0M166.8 668.2h0M166.1 685.7h0M162.7 677.2h0M168.9 670h0M164.3 671.5h0M163.9 668.6h0M163.3 679.7h0M166.4 651.7h0M166.5 674.3h0M164.5 672.4h0M164 686.5h0M163.4 696.3h0M163 686.8h0M165.9 681.3h0M164.2 684.9h0M164.3 669.8h0M164.9 680.9h0M166.2 684.1h0M162.7 671.5h0M164.3 675.9h0M164.2 655.9h0M162.8 669.1h0M162.8 658.2h0M168.2 679.9h0M163.2 668.3h0M169.9 685.8h0M166.6 666.5h0M164.2 660.2h0M164.2 688.5h0M164 671.7h0M169.2 669.4h0M168.1 676.9h0M163.4 672.1h0M164.8 664.1h0M166.1 667.8h0M167.2 677.9h0M164.3 665.7h0M163.4 661.1h0M164.5 683.3h0M163.2 667.5h0M167.1 661.6h0M166.3 681h0M164 671.4h0M168.6 674.8h0M163.1 674h0M166.2 685.3h0M166.4 653h0M168.4 669.1h0M166.3 683.7h0M165.2 677.3h0M165.2 687.4h0M167 681.4h0M164.5 684.1h0M162.7 687.3h0M164.3 683.8h0M165.6 675.4h0M165.7 685h0M165 674h0M165.4 679.4h0M164.4 666.6h0M163.7 668.1h0M166.9 660.9h0M164.2 673.2h0M166.4 660.9h0M166.8 687h0M165 685.6h0M164.9 667.7h0M163.1 681.8h0M166.6 673.8h0M163.7 664.7h0M165.9 682.9h0M162.8 668.5h0M163.4 669.9h0M164.5 675.7h0M165.2 685.4h0M164.5 662.7h0M162.7 678.8h0M164.9 664.1h0M163 692.4h0M171.1 676.5h0M164 677.6h0M163 662.1h0M166.2 670.7h0M164.2 693.4h0M165.4 671.8h0M166.4 660.4h0M166.9 671.9h0M163.1 676.6h0M165.5 675.6h0M163.7 662.5h0M165.5 675.8h0M168.1 677.1h0M166.9 682.3h0M166.1 664h0M164.9 685.8h0M167 678.2h0M163 660.2h0M162.8 674.2h0M163.8 681h0M164.3 667h0M165.2 663.8h0M164.9 686.9h0M162.9 685.6h0M162.8 663.8h0M162.8 693.2h0M167.2 669.5h0M164.5 676.2h0M167.4 684.9h0M163.9 677h0M165.9 668.8h0M166.3 674.2h0M163 681.1h0M166.2 676.2h0M166.5 675.8h0M162.7 677.3h0M166.8 669.8h0M163 673.8h0M165.7 671.9h0M166.1 674.9h0M165.3 674.7h0M165.4 664.3h0M165.1 674.7h0M165.4 683.6h0M165.3 673.1h0M163.3 679.3h0M163.2 678.8h0M163.4 676.9h0M164.8 670.6h0M163.4 693.3h0M163.6 676h0M166.3 670.1h0M165 666.1h0M164.3 678h0M164.8 671.1h0M162.7 673.4h0M164 674.2h0M166.1 686.1h0M162.8 673.8h0M164.6 678.8h0M162.9 666.5h0M164 672.4h0M167.6 679.7h0M164.4 679.1h0M165.6 675.3h0M164.9 668.1h0M165.6 670.8h0M164.1 689.4h0M166 690.6h0M164.7 684.6h0M165.7 682.3h0M166.2 663.9h0M164.1 684.8h0M164.9 677.1h0M166 688.2h0M166.4 667h0M162.8 662.8h0M166 672.7h0M166 659.5h0M163.5 667.1h0M169 666h0M164.6 673.3h0M165.2 686.4h0M167.7 682.3h0M162.9 676.6h0M165.1 689.1h0M165.2 660.2h0M166.4 665.8h0M164.6 664.6h0M165.2 669.4h0M163.1 684.8h0M163.3 656h0M170.2 683.7h0M165.3 681.8h0M164 663.7h0M164.5 675.3h0M165.5 669.3h0M164.7 676.4h0M166 694.9h0M163.1 663.4h0M164.3 678.5h0M165 673.3h0M163.4 690.5h0M163.4 672.2h0M167.7 678h0M170.1 670.1h0M162.8 681.1h0M162.8 662.2h0M163.4 668.6h0M166.4 669.9h0M165.6 651.4h0M167.3 667.2h0M163.1 669.3h0M162.7 689.9h0M164.7 681.4h0M164.2 689.2h0M168.3 672.6h0M165.8 691.3h0M166.4 662.8h0M165.2 685.2h0M166.6 665.5h0M163.9 696.5h0M164.8 664.9h0M163.6 684.8h0M166.1 657.6h0M163.9 679.1h0M166 686.8h0M165 669.8h0M164.1 659.1h0M165.2 670.6h0M163.9 673.5h0M166.2 686.3h0M166.3 667.2h0M170.9 673.5h0M165.9 673.4h0M169 659.9h0M165.2 682.9h0M189.6 685.3h0M168.8 671h0M171.4 677.6h0M178 672.7h0M170.6 681.3h0M182.3 686.7h0M196 674.1h0M175.7 679.2h0M174.6 672.4h0M169.8 696.3h0M195.1 678.8h0M179.1 680.9h0M195.6 676.5h0M185.4 684h0M196.9 672.1h0M182 670.9h0M169.3 684.3h0M178.9 684.3h0M175.5 686.1h0M178.6 673.1h0M186.2 697h0M185 673.1h0M174.9 684.3h0M181.4 681.4h0M192 691.8h0M194 683.4h0M179.6 690.5h0M194.4 696.5h0M176.4 671.5h0M174.8 671.1h0M169.1 675.9h0M189.1 684.2h0M183.9 666.2h0M186.9 685.6h0M181.7 690.4h0M193.6 671.7h0M189.3 673.2h0M170.3 680.1h0M187.7 685.6h0M191.4 679.4h0M171.2 680h0M177.5 682.5h0M177.9 688.3h0M187.2 678.3h0M190.6 689.6h0M176 680.5h0M183.1 682.1h0M171.3 675.3h0M183 684.7h0M174.3 681h0M167.9 678.6h0M194.2 693.1h0M190.2 676.3h0M194.9 682.4h0M196 678.2h0M186.2 683.4h0M178.7 678.4h0M194.8 674.5h0M169.5 699h0M191.1 678.9h0M195.9 678.5h0M186.2 676.8h0M173.1 682.4h0M175.5 678.2h0M192.7 680.2h0M193.5 676.3h0M196 668.8h0M195.8 682.6h0M182.7 684h0M193.9 673.9h0M168.9 696.1h0M178.1 676h0M191.3 665.9h0M182.4 672.7h0M177.8 678.7h0M186.6 682.8h0M178.6 675.1h0M191.8 685h0M194.3 681.5h0M170.7 693.8h0M191.6 670.7h0M177.8 687.2h0M178.7 679.6h0M169.9 670.8h0M178.9 677.4h0M192 672.1h0M181.5 676.8h0M184.4 668.4h0M176.5 677.5h0M170.4 687.5h0M169.8 672.9h0M181.1 681.4h0M173.4 678.2h0M186.8 694.2h0M171.9 665.5h0M174.8 675.1h0M172.7 679.5h0M192.5 678.3h0M182.6 684.6h0M195.2 697.1h0M177.2 674.5h0M182.6 680.9h0M185.6 681.9h0M177.9 686.8h0M173.1 682.7h0M180.4 666.2h0M173.8 670.4h0M189.4 673.8h0M187.9 680.6h0M194.1 685.7h0M179.9 690.1h0M170.4 672.2h0M193.6 677.1h0M194.5 686.6h0M186 689.5h0M177.7 679.8h0M196.3 677.4h0M187.9 688.5h0M181.1 686.1h0M183.1 671.6h0M227.2 700.9h0M211 676.9h0M209.3 685.9h0M222.1 698.8h0M230.3 683.9h0M203.4 682.5h0M197.1 675.3h0M200.3 691.3h0M199.8 687h0M205.8 695.5h0M201.3 703.6h0M229.2 692.1h0M216.7 684.9h0M213.3 676.2h0M230.2 693.1h0M213.6 686.2h0M230.7 688.7h0M208.2 673.6h0M203.9 681.6h0M212.3 696.6h0M224.8 699.4h0M201.2 666.1h0M226.3 691h0M214.9 689.3h0M207.8 699h0M199.7 677.5h0M205.4 683.6h0M202.6 696.1h0M209.5 689.9h0M230.6 678.3h0M209.9 698.6h0M206.5 687.8h0M226 675.3h0M219.9 691h0M218.6 689.1h0M216 662.5h0M216.2 686.1h0M218 685.8h0M224.6 692.7h0M231 697.1h0M202.9 682.2h0M211.5 677.1h0M225 688.5h0M230.2 685.5h0M218 678.3h0M225.8 703.5h0M217.8 688.8h0M225.6 694.4h0M208.8 698.2h0M226.5 680.8h0M250 701.8h0M260.7 695.1h0M235.1 709.1h0M246.4 702.6h0M256.4 706h0M234.3 703.9h0M253.8 696.3h0M240.5 693.8h0M235 697h0M243 701.7h0M241.9 692.4h0M245.5 695h0M236.3 696h0M245 693.5h0M231.1 706h0M243.9 695.3h0M254.3 693.6h0M234.2 705.2h0M248.3 691.5h0M254.1 695.4h0M247.9 699.3h0M235.8 698.2h0M251.2 696.2h0M246.8 693.3h0M250.1 702.2h0M247.9 707.6h0M260.5 695.5h0M242.2 697.3h0M246.7 689.9h0M242.3 700.5h0M240.4 710.4h0M233.9 697.4h0M247 699.1h0M252.5 699.2h0M248 696.4h0M235.2 692.1h0M249 703.5h0M237.9 700h0M235.8 707.8h0M246.4 699h0M253.4 696.7h0M231.6 701.4h0M249.4 705.3h0M255.6 695.4h0M260.4 683.5h0M229.4 703.9h0M256.4 697.7h0M233.7 709.9h0M244.2 698.1h0M230.9 697.2h0M258.9 688.1h0M243.5 704h0M233.2 702.9h0M241.8 707.6h0M240.6 695h0M251.4 696.1h0M258.6 686.4h0M247.1 698.4h0M264.1 692.1h0M258.4 695.2h0M239.2 697h0M239.4 697.1h0M259.5 692.6h0M256.6 696.5h0M241.5 694.6h0M242 695.4h0M237.1 695.6h0M256.5 698.9h0M239.2 704.6h0M240.6 702.7h0M247.8 702.8h0M249.6 695.6h0M246.2 703.6h0M245.8 700.1h0M246.4 693.4h0M242 692.6h0M264.1 700.5h0M249.5 696.8h0M259.9 710.5h0M246.1 700.3h0M242.7 698h0M246 707.7h0M240.1 689.5h0M252.6 703.1h0M244.3 691.4h0M248.6 700.4h0M246.8 689.1h0M242.1 702.1h0M253 697.5h0M257 693.6h0M235.4 687.2h0M247.6 701.6h0M243.1 692h0M251.2 689h0M250.5 692.7h0M249.3 698.2h0M252.7 699.8h0M245.8 695.5h0M248.2 695.4h0M237.2 710.5h0M234.4 697h0M249.5 700.9h0M241.3 689.1h0M245.3 700.7h0M247.4 703.1h0M250.7 695.5h0M245.4 701.8h0M242.9 706.1h0M245.8 696.7h0M240.8 703.9h0M163.5 739.1h0M164.3 718.7h0M244.3 724.8h0M234.8 653.4h0M219.4 657.5h0" stroke="#000" stroke-width="1.0" stroke-linecap="square"/>
<text x="213.2" y="760.5" font-size="5.8" text-anchor="middle" fill="#222" font-family='"Liberation Sans", sans-serif' >log2(FBP2 TPM)</text>
<text transform="translate(143.2,690.3) rotate(-90)" font-size="6.4" text-anchor="middle" fill="#222" font-family='"Liberation Sans", sans-serif'>log2(c−Myc TPM)</text>
<text x="163.6" y="646.3" font-size="5.2" text-anchor="start" fill="#222" font-family='"Liberation Sans", sans-serif' >p−value = 2.8e−15</text>
<text x="163.6" y="652.6" font-size="5.2" text-anchor="start" fill="#222" font-family='"Liberation Sans", sans-serif' >R = −0.31</text>
<rect x="295.4" y="638" width="109.4" height="104.6" fill="none" stroke="#555" stroke-width="0.6"/>
<line x1="299.5" y1="742.6" x2="299.5" y2="744.4" stroke="#555" stroke-width="0.45"/>
<text x="299.5" y="751.8" font-size="4.4" text-anchor="middle" fill="#333" font-family='"Liberation Sans", sans-serif' >0</text>
<line x1="316.7" y1="742.6" x2="316.7" y2="744.4" stroke="#555" stroke-width="0.45"/>
<text x="316.7" y="751.8" font-size="4.4" text-anchor="middle" fill="#333" font-family='"Liberation Sans", sans-serif' >1</text>
<line x1="333.9" y1="742.6" x2="333.9" y2="744.4" stroke="#555" stroke-width="0.45"/>
<text x="333.9" y="751.8" font-size="4.4" text-anchor="middle" fill="#333" font-family='"Liberation Sans", sans-serif' >2</text>
<line x1="351.1" y1="742.6" x2="351.1" y2="744.4" stroke="#555" stroke-width="0.45"/>
<text x="351.1" y="751.8" font-size="4.4" text-anchor="middle" fill="#333" font-family='"Liberation Sans", sans-serif' >3</text>
<line x1="368.3" y1="742.6" x2="368.3" y2="744.4" stroke="#555" stroke-width="0.45"/>
<text x="368.3" y="751.8" font-size="4.4" text-anchor="middle" fill="#333" font-family='"Liberation Sans", sans-serif' >4</text>
<line x1="385.5" y1="742.6" x2="385.5" y2="744.4" stroke="#555" stroke-width="0.45"/>
<text x="385.5" y="751.8" font-size="4.4" text-anchor="middle" fill="#333" font-family='"Liberation Sans", sans-serif' >5</text>
<line x1="402.7" y1="742.6" x2="402.7" y2="744.4" stroke="#555" stroke-width="0.45"/>
<text x="402.7" y="751.8" font-size="4.4" text-anchor="middle" fill="#333" font-family='"Liberation Sans", sans-serif' >6</text>
<line x1="293.6" y1="739.1" x2="295.4" y2="739.1" stroke="#555" stroke-width="0.45"/>
<text transform="translate(290.4,739.1) rotate(-90)" font-size="3.6" text-anchor="middle" fill="#444" font-family='"Liberation Sans", sans-serif'>0</text>
<line x1="293.6" y1="717.5" x2="295.4" y2="717.5" stroke="#555" stroke-width="0.45"/>
<text transform="translate(290.4,717.5) rotate(-90)" font-size="3.6" text-anchor="middle" fill="#444" font-family='"Liberation Sans", sans-serif'>2</text>
<line x1="293.6" y1="695.9" x2="295.4" y2="695.9" stroke="#555" stroke-width="0.45"/>
<text transform="translate(290.4,695.9) rotate(-90)" font-size="3.6" text-anchor="middle" fill="#444" font-family='"Liberation Sans", sans-serif'>4</text>
<line x1="293.6" y1="674.3" x2="295.4" y2="674.3" stroke="#555" stroke-width="0.45"/>
<text transform="translate(290.4,674.3) rotate(-90)" font-size="3.6" text-anchor="middle" fill="#444" font-family='"Liberation Sans", sans-serif'>6</text>
<line x1="293.6" y1="652.7" x2="295.4" y2="652.7" stroke="#555" stroke-width="0.45"/>
<text transform="translate(290.4,652.7) rotate(-90)" font-size="3.6" text-anchor="middle" fill="#444" font-family='"Liberation Sans", sans-serif'>8</text>
<path d="M300.7 669.6h0M300.1 669.6h0M300.4 680.4h0M303.5 656.6h0M299.9 680.1h0M304 689.2h0M303.1 671.3h0M300.6 676.7h0M301.4 680.7h0M300 663.6h0M303.7 674.4h0M301.4 679h0M303 688h0M300.1 672.6h0M302.7 675.8h0M302.2 649.4h0M302.2 671.6h0M299.7 669.9h0M304 681.1h0M302.7 677.2h0M300 675.9h0M303.8 675.9h0M300.2 665h0M300.7 662.1h0M300.8 666.3h0M300.3 655.9h0M302.4 678.3h0M303.4 672.9h0M302.6 680.6h0M300.7 661.4h0M300.2 669.9h0M300.6 675.5h0M303.3 674.8h0M300.6 671.3h0M303 674.2h0M300.6 668h0M299.5 662.7h0M301.5 661.7h0M300.3 673.2h0M307 677.8h0M300.4 662h0M300.8 679.4h0M300.2 675.5h0M302.9 663.3h0M302.7 678.9h0M306.9 671.3h0M300.8 665.8h0M300.9 666h0M302 654.1h0M301.1 677.3h0M305.2 670.8h0M302.6 675h0M301.6 661.3h0M299.7 674.7h0M300.7 681.3h0M300.1 677.7h0M301.5 671h0M305.4 679.7h0M303.3 672.3h0M304 670.9h0M303.9 664.1h0M303.4 668.6h0M306 669.2h0M305.1 651.1h0M301.1 654.3h0M303.8 683.7h0M303.4 679h0M299.6 678.8h0M300.2 678.9h0M302.9 683h0M301.6 679.5h0M303.2 651h0M299.7 670.4h0M302 665.1h0M303.1 681.1h0M300.3 683.1h0M300 675.9h0M304.3 677.8h0M303.4 657.9h0M300.8 666.1h0M302.4 656.3h0M299.9 685.3h0M301.2 653.8h0M301.7 674.2h0M301.8 671.9h0M300.3 666.6h0M302.7 673.7h0M300.2 678.9h0M303.1 681.2h0M302.6 677.2h0M300.2 678h0M300.4 669.4h0M300.2 671.8h0M301.5 667.4h0M301.3 693.5h0M302.3 673h0M300.4 656.6h0M302.4 680.2h0M305.7 663.7h0M302 672.2h0M302.3 648.4h0M301.4 667.4h0M302.6 680.7h0M302.8 661.3h0M299.5 664h0M300.9 658.1h0M302.8 686.1h0M304.7 668.8h0M301.3 669.2h0M301.2 672.7h0M306 667.6h0M303 666.4h0M300.9 670.9h0M301.1 664.3h0M301.9 663h0M299.6 659.6h0M303.7 667.5h0M300.9 673h0M300.3 663.6h0M300.1 679.7h0M305.9 673.1h0M301.2 669.8h0M301.8 683.7h0M299.9 666.5h0M300.1 661.9h0M299.6 666.2h0M300.2 668.8h0M300.5 658.9h0M303.2 656.5h0M305.6 661.9h0M302.2 659.5h0M302.5 673.9h0M301.3 662.4h0M301.6 665.3h0M303.3 680.3h0M301.7 662.3h0M301.3 667.8h0M304.3 672.8h0M300.5 687.7h0M301.8 675.2h0M302.2 654.8h0M304 664.4h0M300 655.6h0M301.5 654.3h0M299.6 670.2h0M302.9 668.4h0M300.2 675.7h0M302.3 675.1h0M301.1 661h0M305.8 668.1h0M300.5 653.5h0M299.6 668h0M300.9 674.4h0M303.8 687.8h0M304.3 678.3h0M302.9 678h0M300.8 665.6h0M301 670h0M302 669.2h0M304.3 688.3h0M299.6 659.2h0M303.4 670.6h0M302.6 667.2h0M302.3 668.1h0M306.1 655.2h0M301.1 670h0M302.3 670.1h0M303.9 681.7h0M300.1 661.6h0M300.2 678h0M299.8 663.4h0M302.2 675.8h0M301.4 671.9h0M300.2 674.6h0M302.6 678.2h0M305.1 676.6h0M301.6 675.3h0M302.7 684.1h0M302.8 662.9h0M300.1 669.4h0M299.8 661.2h0M300.4 670.5h0M300.1 672.4h0M301.7 676.7h0M303.2 681h0M303.2 685.4h0M300.8 657h0M300.7 654.9h0M299.9 667h0M301.7 680.3h0M302.2 654.4h0M301 683.6h0M301.3 667.1h0M301.6 666.5h0M303.6 668.4h0M303.1 675.4h0M300.3 681.6h0M300.6 679.1h0M300.9 668.8h0M300.9 668.5h0M302.5 672.6h0M299.8 656.5h0M303.9 663.8h0M301.9 687.1h0M301.3 671.2h0M303.2 683.3h0M302.6 674.7h0M300.4 673.4h0M305.1 672.7h0M302.5 674.9h0M302.1 675.7h0M300.2 663.1h0M299.6 690h0M301.9 665.5h0M301.9 666.6h0M300.6 666.9h0M303.3 662.7h0M299.5 670.5h0M300.7 664.5h0M301.8 676.1h0M302.4 652.1h0M299.9 665.2h0M303.2 692.9h0M303 664.4h0M299.7 668.3h0M302.6 667.8h0M301.6 686.3h0M300.3 670.6h0M299.6 670.5h0M302.9 672h0M301.7 662.9h0M299.6 664.7h0M300.2 682.9h0M304.1 665.9h0M305.8 665.4h0M302.4 689.5h0M301.1 672.4h0M301.4 674.2h0M303.9 686.4h0M302.1 658.4h0M299.9 685.2h0M301 674h0M303.6 663.3h0M302.1 689h0M302.5 683.6h0M300.4 671.9h0M299.9 661.1h0M300.2 658.4h0M302.1 675.6h0M303.4 667h0M300.7 677.3h0M299.5 678.6h0M300.2 664.7h0M300.4 648.4h0M303.4 668.3h0M299.6 659.1h0M301.8 662.5h0M299.5 670.9h0M302.1 686.5h0M302.9 659.7h0M303.4 649.2h0M300.7 678.7h0M301.1 671.9h0M308.5 665.9h0M301.9 674.9h0M300.3 658.8h0M301.1 669.5h0M305 666.8h0M299.7 656.8h0M302.7 682.3h0M301.3 669.2h0M301.6 672.9h0M301.2 673h0M300.2 662.1h0M304 663.8h0M299.7 668.8h0M300 672.6h0M302.1 672h0M302.5 671.4h0M301.5 684.5h0M301.4 662.2h0M299.7 671h0M301.5 664.5h0M300.6 665.3h0M303.3 675.4h0M299.7 684.6h0M301.5 676.5h0M302.6 677.7h0M300.9 665.4h0M302 670.9h0M302 682.7h0M305 676.5h0M304.1 673.6h0M301.7 668.9h0M301.6 653.6h0M299.5 665.1h0M303.8 659.2h0M300.8 671h0M301.1 672.9h0M308 651.5h0M301.6 681.1h0M304.2 664.9h0M301.8 668.2h0M302.6 668.7h0M303.4 685.2h0M306.3 672.9h0M300.9 698.1h0M301.2 666.6h0M299.8 663.9h0M303 683.6h0M299.9 663.1h0M299.7 683.6h0M303 657.7h0M299.7 671.3h0M299.8 668.4h0M300.1 674.1h0M301.8 659.7h0M299.6 671.5h0M300.5 679.9h0M300.3 671.7h0M302.6 673.7h0M301.1 658.9h0M300.3 662.4h0M302.6 669.4h0M300.1 667.3h0M302.1 670.6h0M302.3 678.3h0M302.9 677.3h0M300.1 669.8h0M300.4 669.8h0M304 683.7h0M302.4 669.3h0M299.9 669.5h0M302.6 672.2h0M300.3 676.1h0M305.4 686.4h0M299.6 665.9h0M303 671.5h0M301.3 665.4h0M301.8 668.5h0M300.2 680.5h0M302.4 669.1h0M300.8 676.6h0M302.7 666.3h0M301.1 664.7h0M303.5 663.4h0M300.8 664.6h0M300.5 656h0M301.2 680.2h0M302.4 648.4h0M300.1 669.9h0M304.1 667h0M304.1 673.1h0M299.6 677.9h0M304.7 661h0M301.5 668.9h0M300.8 667.4h0M301.8 677.7h0M300.3 660.8h0M303 677h0M299.7 648.4h0M300.1 683.4h0M301.6 675.9h0M301.7 656.1h0M305 669.5h0M301.2 679.7h0M304.7 671.5h0M304.5 661h0M300.1 680.9h0M301.8 679.2h0M299.9 678.1h0M303.7 679.7h0M301.7 678.6h0M303.8 685.2h0M302.5 671.1h0M302 667.2h0M302.5 666.2h0M303.3 669h0M302.1 674h0M300.9 680.8h0M317.1 678.6h0M319.6 681.6h0M320.4 684.1h0M323.8 658.4h0M317.7 674.2h0M329.7 660.8h0M314.2 669.5h0M320.3 670.8h0M314.8 659.8h0M320.4 667.5h0M307 665.7h0M313.3 688.8h0M317.6 672.9h0M314.5 664h0M326.9 661.1h0M328.2 673.6h0M319.5 672h0M327.5 673.3h0M306.8 682.6h0M326.3 667.5h0M310.5 676.4h0M304.9 657.5h0M306.8 660.5h0M309.7 676.2h0M317.1 678.5h0M319.9 670h0M324.8 676.1h0M321.4 673.2h0M325.3 666h0M330 672.8h0M313.3 666h0M314.3 670.7h0M319.5 675.9h0M307.3 668.4h0M305.1 665.3h0M323.4 682.7h0M329.1 673.2h0M311.9 680.1h0M310.7 677.5h0M320.9 679h0M316.8 681.8h0M327.3 681.5h0M316.3 691h0M319.1 667.5h0M328.4 672.7h0M315.7 684.3h0M321.4 672h0M319.6 667.9h0M327 673.5h0M312.4 672.6h0M311.3 668h0M319 672.9h0M327.4 675.3h0M319.2 674.3h0M328.3 670.7h0M322.6 675.4h0M325.2 671.9h0M312.9 656.3h0M310.8 673.3h0M322.9 680.5h0M325.2 670h0M324 673.8h0M308.3 669.6h0M311.2 673.1h0M316.8 677.5h0M313.9 671.5h0M307.5 668.1h0M330.1 671.1h0M318.3 674.5h0M330.2 660.2h0M310.1 670h0M308.3 679.8h0M323.4 658.1h0M309.8 659.1h0M315.2 668h0M316.2 680.6h0M308.2 676.9h0M305.3 680.4h0M312.9 652.7h0M309.2 677.4h0M329.9 684.4h0M311.1 684.6h0M324 667.2h0M324.9 681.7h0M315.8 669h0M310.4 671.3h0M322.6 680.3h0M325.3 676.5h0M327.4 678h0M310.3 680h0M318.7 666.9h0M324.6 668.3h0M325.3 670.1h0M322 672.1h0M329.3 663h0M318.2 667.5h0M312.5 678.1h0M322.7 665.1h0M327.8 668.7h0M321.6 663.7h0M306.6 688.7h0M309.3 662.1h0M323.4 669.8h0M322.1 664.5h0M312.3 675.2h0M316.6 678.6h0M320.6 671.7h0M319.1 664.8h0M321.3 676.2h0M307.9 670.6h0M336.9 678.4h0M341.8 673.1h0M361 669h0M345.5 677.2h0M366.7 683.8h0M338.6 668.7h0M340.5 679.9h0M339 690h0M331.4 676.8h0M358 681.9h0M333.7 680.5h0M342.6 683.3h0M338.4 677.6h0M361.7 678h0M337.9 678.1h0M365.2 679.8h0M337.8 679.2h0M355 678.7h0M350.9 677.3h0M341.9 685.1h0M356.9 678.2h0M359.7 688.8h0M333.4 670.7h0M342.7 659.1h0M335.6 678.6h0M337.6 671h0M335.8 666.7h0M353.8 671.9h0M353.5 669h0M337 671.3h0M367 692h0M346.7 689.4h0M338.6 678h0M336.6 669.5h0M339.1 693.6h0M343.6 680.5h0M338.1 688.6h0M342.5 665h0M344 689.2h0M341 694h0M343.5 680.1h0M338.8 683.1h0M334.5 671.8h0M334.6 673.1h0M362.7 686.1h0M344.1 685.3h0M335.6 687.1h0M355.4 679.1h0M343.6 692.6h0M335.3 697.1h0M361.3 667.2h0M353.3 668h0M336.1 676h0M336.2 663.2h0M333.1 666.2h0M392.7 688.8h0M367.6 692.3h0M372.5 689.4h0M384.5 705.6h0M379.7 692.3h0M369.4 682.3h0M381.1 684.6h0M381.8 695.9h0M366.4 690h0M371.8 685.7h0M388.2 698.1h0M391.6 689.2h0M391.6 683.4h0M376.1 696.3h0M374.1 684.2h0M380.5 686.7h0M373.8 691.4h0M383.1 687.2h0M378.1 685.6h0M388.7 703.1h0M372.2 690.8h0M377.2 690.4h0M377.1 692.4h0M372.6 696.8h0M386.6 688.3h0M395.3 694.7h0M387.9 688h0M388.3 685.1h0M379.1 694.3h0M390.8 700.2h0M380.3 690.4h0M383.3 684.2h0M383.6 694.6h0M393 691.3h0M382.3 682.4h0M378.4 699.5h0M385.1 689.3h0M377 693.7h0M385.7 692.5h0M383.2 679.6h0M397.5 688.1h0M375.2 686.3h0M377.1 690.5h0M391.4 685.1h0M376.7 692.1h0M372.8 694.7h0M382.3 686.7h0M379.6 689.6h0M394.5 693h0M371.4 688.1h0M385.9 688.6h0M401 686.9h0M386 696.2h0M372.9 685.9h0M374.4 692.8h0M392.6 688.6h0M393 692.1h0M365.6 695.2h0M386 688.2h0M368.1 689.2h0M376.6 696.7h0M377.3 687.6h0M391.6 687.8h0M382.8 680.9h0M369.9 684.9h0M395.6 686.5h0M379.4 698h0M386.7 694.1h0M385.6 686.1h0M401 690.5h0M375.6 690.9h0M384.3 700.5h0M395 695.3h0M392.8 685.9h0M361.4 689.2h0M385.6 685.1h0M384.8 692.3h0M386.1 690h0M389.8 692.3h0M379.7 686.1h0M381.7 694.2h0M390.5 680.1h0M364.7 683.6h0M374.2 693.1h0M378.3 691h0M366.2 694.6h0M372.5 688.2h0M383.5 689.2h0M382.1 692.7h0M386.2 689.4h0M389.2 688.6h0M382.9 689.6h0M386.6 693.7h0M364.7 689.4h0M388.4 678.6h0M373 691.8h0M375.1 690.1h0M378.5 687.6h0M376.5 688.9h0M384.7 694.8h0M391 693.1h0M370.5 693h0M374.1 694h0M381.3 698.9h0M368 688.6h0M382.7 688.9h0M385.9 688h0M373.9 690.3h0M375.1 691.4h0M388.4 695.3h0M386 701h0M376.1 682.2h0M401 698h0M383.7 682.1h0M378.3 685.4h0M377.8 700h0M381.4 703.8h0M388.4 695.9h0M379.6 687.1h0M376.7 696.4h0M299.5 739.1h0M366.6 647.3h0M378.6 661.3h0M345.9 700.2h0" stroke="#000" stroke-width="1.0" stroke-linecap="square"/>
<text x="350.1" y="760.5" font-size="5.8" text-anchor="middle" fill="#222" font-family='"Liberation Sans", sans-serif' >log2(FBP2 TPM)</text>
<text transform="translate(280.1,690.3) rotate(-90)" font-size="6.4" text-anchor="middle" fill="#222" font-family='"Liberation Sans", sans-serif'>log2(HIF−1 α TPM)</text>
<text x="300.5" y="646.3" font-size="5.2" text-anchor="start" fill="#222" font-family='"Liberation Sans", sans-serif' >p−value = 1.3e−24</text>
<text x="300.5" y="652.6" font-size="5.2" text-anchor="start" fill="#222" font-family='"Liberation Sans", sans-serif' >R = −0.4</text>
<rect x="433.9" y="638" width="108.9" height="104.6" fill="none" stroke="#555" stroke-width="0.6"/>
<line x1="437.6" y1="742.6" x2="437.6" y2="744.4" stroke="#555" stroke-width="0.45"/>
<text x="437.6" y="751.8" font-size="4.4" text-anchor="middle" fill="#333" font-family='"Liberation Sans", sans-serif' >0</text>
<line x1="454.8" y1="742.6" x2="454.8" y2="744.4" stroke="#555" stroke-width="0.45"/>
<text x="454.8" y="751.8" font-size="4.4" text-anchor="middle" fill="#333" font-family='"Liberation Sans", sans-serif' >1</text>
<line x1="472" y1="742.6" x2="472" y2="744.4" stroke="#555" stroke-width="0.45"/>
<text x="472" y="751.8" font-size="4.4" text-anchor="middle" fill="#333" font-family='"Liberation Sans", sans-serif' >2</text>
<line x1="489.2" y1="742.6" x2="489.2" y2="744.4" stroke="#555" stroke-width="0.45"/>
<text x="489.2" y="751.8" font-size="4.4" text-anchor="middle" fill="#333" font-family='"Liberation Sans", sans-serif' >3</text>
<line x1="506.4" y1="742.6" x2="506.4" y2="744.4" stroke="#555" stroke-width="0.45"/>
<text x="506.4" y="751.8" font-size="4.4" text-anchor="middle" fill="#333" font-family='"Liberation Sans", sans-serif' >4</text>
<line x1="523.6" y1="742.6" x2="523.6" y2="744.4" stroke="#555" stroke-width="0.45"/>
<text x="523.6" y="751.8" font-size="4.4" text-anchor="middle" fill="#333" font-family='"Liberation Sans", sans-serif' >5</text>
<line x1="540.8" y1="742.6" x2="540.8" y2="744.4" stroke="#555" stroke-width="0.45"/>
<text x="540.8" y="751.8" font-size="4.4" text-anchor="middle" fill="#333" font-family='"Liberation Sans", sans-serif' >6</text>
<line x1="432.1" y1="738.5" x2="433.9" y2="738.5" stroke="#555" stroke-width="0.45"/>
<text transform="translate(428.9,738.5) rotate(-90)" font-size="3.6" text-anchor="middle" fill="#444" font-family='"Liberation Sans", sans-serif'>0</text>
<line x1="432.1" y1="718.5" x2="433.9" y2="718.5" stroke="#555" stroke-width="0.45"/>
<text transform="translate(428.9,718.5) rotate(-90)" font-size="3.6" text-anchor="middle" fill="#444" font-family='"Liberation Sans", sans-serif'>2</text>
<line x1="432.1" y1="698.5" x2="433.9" y2="698.5" stroke="#555" stroke-width="0.45"/>
<text transform="translate(428.9,698.5) rotate(-90)" font-size="3.6" text-anchor="middle" fill="#444" font-family='"Liberation Sans", sans-serif'>4</text>
<line x1="432.1" y1="678.5" x2="433.9" y2="678.5" stroke="#555" stroke-width="0.45"/>
<text transform="translate(428.9,678.5) rotate(-90)" font-size="3.6" text-anchor="middle" fill="#444" font-family='"Liberation Sans", sans-serif'>6</text>
<line x1="432.1" y1="658.5" x2="433.9" y2="658.5" stroke="#555" stroke-width="0.45"/>
<text transform="translate(428.9,658.5) rotate(-90)" font-size="3.6" text-anchor="middle" fill="#444" font-family='"Liberation Sans", sans-serif'>8</text>
<path d="M444.4 654.8h0M441.8 655h0M439.5 654.6h0M444.6 659.7h0M438.5 656.1h0M444.6 655.8h0M438.9 656.8h0M439 663.4h0M442.1 656.9h0M441 664.9h0M438.9 651h0M439.3 664.1h0M440.2 659.2h0M437.7 663.3h0M440.7 661.2h0M439.1 653.6h0M438.3 662.1h0M443.6 659.8h0M443.9 661.5h0M439.3 659.1h0M439 662.6h0M439.8 661.4h0M437.9 655.4h0M441.4 658.2h0M440 658.3h0M444.7 658.6h0M440.7 662.6h0M438.3 667.9h0M441.6 661.1h0M437.9 655.8h0M438.2 653.1h0M439.7 659.1h0M440.7 663.4h0M442.1 654.6h0M438.2 644.5h0M437.9 665.6h0M439 649.8h0M437.9 658.8h0M438.4 659.4h0M442.8 652.4h0M437.9 647.9h0M438.8 657.1h0M442.1 649.5h0M438.6 663.7h0M440.3 662.3h0M445.9 665.5h0M441.8 656.8h0M438.2 655.2h0M442 667.6h0M439 660.1h0M447 659.9h0M440 655.5h0M443.2 657.6h0M438.6 645.8h0M438.7 660.6h0M438.9 670.6h0M440.7 656.8h0M440.6 674.5h0M438.2 657.1h0M442.4 654.8h0M441.9 656.5h0M440.1 666.9h0M438.8 649h0M438.9 665.5h0M440.6 657.6h0M440.6 660.4h0M438 660.2h0M439.4 656.4h0M441.9 656.6h0M440.6 661h0M439.8 647.8h0M438.8 658h0M437.9 652.2h0M439.4 657.8h0M443.4 653.6h0M442.1 656.8h0M438.1 666.7h0M442.6 661.7h0M439.9 650.5h0M438.6 658h0M441.2 670.2h0M442 668.3h0M443.6 657.2h0M439.5 656.7h0M439.4 651.4h0M440.2 660h0M438.7 653.6h0M439 659.5h0M437.9 652.5h0M442.4 657.4h0M441.6 654.2h0M439.6 653.4h0M438.2 654.2h0M444.9 663.5h0M441.4 668.2h0M438.7 660.9h0M437.9 662.9h0M438.9 665.5h0M445.5 650.2h0M442.2 658.4h0M438.5 659.4h0M438.2 666h0M442.7 648.6h0M444.1 660.9h0M445.4 659.6h0M445.1 663.9h0M440 648.9h0M443.8 664.3h0M439.9 661.9h0M441 657.1h0M438 660.6h0M440.8 662.8h0M441.6 653.9h0M439.9 657.9h0M439.6 657.2h0M439.7 661.7h0M439.2 650.1h0M445.1 669.4h0M440.8 654h0M438.5 663.1h0M443.3 663.5h0M438.6 663.5h0M439.9 657.4h0M437.8 654.2h0M438.8 664.6h0M438.4 664.9h0M444.1 664.1h0M441.7 658.4h0M442.8 663.4h0M443.2 655.2h0M440.7 665.8h0M438 662.7h0M440 659h0M439.3 656h0M443 657.1h0M439.5 662.1h0M441.5 665.9h0M440.8 659h0M438.2 667.3h0M439.3 668.7h0M437.9 656.1h0M440.1 649.4h0M440.5 659.7h0M437.9 648.4h0M439.7 665.1h0M440.5 656.6h0M441 666.3h0M441.9 665.7h0M437.9 660.1h0M441.4 664.6h0M445 662h0M439.6 661.7h0M439.4 657h0M437.7 659.5h0M440.7 654.3h0M439.1 661.8h0M438.5 651.9h0M437.9 652.4h0M439.7 665.6h0M438.9 654.5h0M442.8 663.9h0M443.2 657.5h0M440.5 651.9h0M440.2 657.3h0M439.8 649.6h0M443 644.5h0M439.9 653h0M440.5 661.4h0M438 652h0M438.9 662.9h0M438 656.7h0M439.5 661.7h0M439 658.5h0M437.7 664.7h0M442.7 651.5h0M438.4 645.3h0M442.3 662.4h0M440.8 658.3h0M441.9 654.6h0M438.6 662.8h0M442.3 652.5h0M438.5 660.2h0M437.9 661.8h0M438.2 657.4h0M438.7 660.1h0M444.2 666.2h0M437.6 666.9h0M438.6 659.6h0M438 655.3h0M438.1 667.7h0M438.5 654.7h0M440 668.9h0M444.3 658.3h0M440.9 655.9h0M438.5 662.3h0M437.7 655.5h0M442.3 674.5h0M440 658.3h0M445 655.6h0M441.7 659.4h0M444.2 644.5h0M437.8 664.6h0M438.5 657.4h0M443.9 652.3h0M444.1 663.7h0M438.6 654.4h0M441.9 656.5h0M438.3 664.2h0M443.3 653h0M438.4 668.8h0M437.6 656.5h0M439.2 665.7h0M438.2 665.4h0M439.8 652.5h0M439.9 671.5h0M441.2 657.1h0M443 657.6h0M441.4 652.9h0M438.9 669.9h0M438.1 666.3h0M439.3 661.2h0M439.4 656.2h0M445 664.4h0M446 666.2h0M439.7 653.9h0M440.3 662.3h0M443.5 660.7h0M438.6 659.9h0M440 663.8h0M439.6 653.9h0M442.9 662.6h0M440.2 657.5h0M441.5 659.1h0M439.9 654.6h0M443.1 659.9h0M437.8 656.2h0M439.5 652.1h0M439.9 667.5h0M438.1 657.9h0M438 659.2h0M438 656.5h0M443.3 653.8h0M438.4 665.3h0M440.2 668.4h0M438.8 649.5h0M443 658.6h0M440.6 658.1h0M439.3 661.2h0M439 654.5h0M438.5 659.2h0M441.4 649.8h0M438.4 660.2h0M441.2 666.6h0M441.4 657.2h0M440.4 657.8h0M439.9 652.6h0M441.2 656.9h0M441.8 659.1h0M438.2 668.2h0M439.4 655.5h0M439.2 662h0M439.4 667.5h0M440 651.3h0M441.1 660.7h0M438.4 669.1h0M439.5 672.2h0M442 659.5h0M437.7 656.2h0M438.7 652.7h0M437.8 653.6h0M442.2 657.2h0M437.7 654h0M442.6 665.2h0M441.3 659.6h0M437.7 654h0M439.7 661.3h0M441.5 659.1h0M442.2 655.7h0M441.1 654.5h0M440.1 656.8h0M441 659.1h0M439.1 654.6h0M438.8 657.8h0M438.3 652.8h0M439 653.8h0M440.8 656.8h0M439.4 664.6h0M438.6 655.5h0M440.1 660.8h0M439.2 666.5h0M438.3 657.1h0M440.5 672.9h0M444.3 653.8h0M437.7 655.7h0M445.4 666.3h0M441.8 657.5h0M440.1 660.7h0M438.7 657.3h0M438.3 659.3h0M439.4 661.3h0M438.3 663.9h0M441.3 668.6h0M442.7 661.9h0M438.5 661.9h0M440.5 657.2h0M438.8 664.6h0M438.8 660.7h0M443.6 658.4h0M440.3 666.7h0M440.3 663.8h0M440.9 648.9h0M443.5 656.1h0M441.1 660.5h0M442.4 648.5h0M439.4 660.7h0M437.9 658.9h0M442.6 653.3h0M437.7 666.2h0M437.7 648h0M440 651.7h0M439 661.4h0M443.5 665.6h0M438.4 667.8h0M441.6 661h0M439.7 667h0M438 655.9h0M441.6 668.7h0M442.1 657.6h0M441.9 656.7h0M445.4 659h0M442.2 653.3h0M441.4 662.3h0M438 650h0M437.9 654.4h0M439.8 672.3h0M445.1 655.2h0M437.6 663.9h0M440 652.1h0M439.9 657.5h0M439.9 665.6h0M441.3 663.2h0M438 662.6h0M440.4 657.9h0M440 668.1h0M439.7 656.2h0M441.8 655.5h0M439.3 655h0M443.1 663.1h0M439.1 657.3h0M439.5 656.5h0M440 652.8h0M444.2 661.8h0M440 655.4h0M440.9 660.4h0M438.8 644.5h0M437.7 671.1h0M438.2 665.5h0M439.9 658.3h0M443.8 661h0M441 665.4h0M440.8 651.1h0M444.2 665.3h0M439.9 651.7h0M443.5 653.3h0M438 672.9h0M438.4 661.1h0M441.5 659.1h0M437.7 661.2h0M439 653.9h0M438.7 660.9h0M441.6 645.5h0M438.9 652.6h0M441.9 656h0M441.2 664.8h0M439.4 663.7h0M438.7 664.3h0M438.4 659.2h0M440.8 666.4h0M440.6 653.7h0M438.9 649.5h0M440.4 667.5h0M439.9 653.8h0M437.6 663.7h0M437.7 663.1h0M440.8 654.6h0M440.5 663.6h0M440.1 670.9h0M438.6 660.2h0M440.5 662.2h0M438.4 663.1h0M443.6 654.8h0M439.9 656.3h0M439.6 654.3h0M441.9 658.2h0M439.1 664.9h0M440.9 662.8h0M437.7 655.9h0M438.7 652.7h0M440.1 664.3h0M444.8 659.1h0M447.6 664.5h0M445.8 666.5h0M446.9 667.4h0M446.1 663h0M443.4 651.2h0M462.7 661.7h0M450.8 669.7h0M457.3 662.6h0M466.4 656.4h0M448.8 660.7h0M451.3 658.2h0M446 668.9h0M455.5 660.7h0M466.9 661h0M450 664.9h0M458.9 665.1h0M467.1 663.9h0M456.4 662.6h0M466.9 657.3h0M466.8 663.8h0M450.9 662.7h0M443.4 652.9h0M465.5 658.1h0M459.2 655.3h0M460.1 668h0M457.8 670h0M461.2 663.8h0M456.3 652.9h0M457.9 659.8h0M467.5 665.3h0M466 655.1h0M466.2 664.7h0M444 660.7h0M457 660.2h0M462.8 668h0M455.6 667.9h0M443.7 672.6h0M468.2 662.7h0M462 661h0M455.1 668.2h0M452.2 654h0M443.2 667.2h0M458.9 658.4h0M455 658.9h0M465.7 667h0M459.5 655.6h0M454.3 669.7h0M465.5 663.1h0M464 662.5h0M462.8 658.4h0M446.4 668.4h0M450.9 657.6h0M448.7 662.4h0M461.7 666.8h0M446.1 657.5h0M445.2 655.4h0M443.4 658.2h0M447.1 665h0M449 662.6h0M465.7 660.1h0M459 667.6h0M462.7 653.8h0M467.5 666.6h0M451.3 654.6h0M458.7 669.8h0M457.2 646.2h0M449.4 661.9h0M460.6 669.1h0M455.5 660h0M462.5 663.1h0M448.3 659.8h0M466.4 662.6h0M466.7 656.4h0M443.3 659.7h0M452.7 661.6h0M453.6 662h0M459 667h0M452 667.6h0M446.6 657.9h0M446.8 666.2h0M443 658h0M444.2 659.7h0M451.4 657.4h0M468 648.5h0M446.9 654.4h0M448 655.3h0M444.6 659.5h0M454.8 651h0M452.1 666.3h0M467.6 661.7h0M442.8 662.6h0M467 657.9h0M456.5 656.9h0M452.7 657.9h0M447.6 659.3h0M457.8 655.2h0M456 658.1h0M448.8 668.2h0M446.9 671.2h0M457.8 658.7h0M446.3 667.2h0M444.3 660.7h0M458.8 657h0M467.2 659.9h0M455.9 669.5h0M466.8 667.4h0M447.7 665.7h0M445.5 665.8h0M455.8 662.4h0M448.1 656.5h0M479.2 670.2h0M500.1 674.2h0M483.8 672.1h0M500.1 666.1h0M499.2 670.9h0M492.9 657.7h0M472 655.5h0M483.3 665.8h0M473 662.5h0M478 677.4h0M489.7 678.3h0M494.5 671.7h0M501.3 662.2h0M485 662.2h0M483.1 675.9h0M483.9 668.5h0M475.6 663.1h0M492.5 674.4h0M489.7 658.6h0M485 666h0M485.3 671.9h0M470.9 669.2h0M494.9 682h0M498.6 672h0M504.2 668.8h0M469.1 671.2h0M497 667.8h0M497.3 670.7h0M501.9 665.2h0M470.7 675.2h0M501.2 668.4h0M502.4 668.5h0M480.1 655.5h0M503.9 664.9h0M476.7 660.1h0M502.9 666.3h0M469.4 673.2h0M502.6 669.2h0M496.7 669.1h0M474.5 670.6h0M503.6 662.4h0M493.7 675.7h0M476.1 667.1h0M506.2 674.9h0M478.9 667.1h0M480.1 666.5h0M491.3 670h0M489.1 680.5h0M479.5 663.1h0M492.3 668.1h0M521.4 670.6h0M523.2 670.6h0M516.5 678h0M519.7 679.5h0M521.9 680.5h0M518.2 672.3h0M524.4 679.1h0M523.9 671.7h0M517.6 674.9h0M519.4 681.9h0M532.1 683.3h0M518.2 677.7h0M516.2 670.8h0M523.2 681.7h0M518.2 671.5h0M512.9 671.8h0M535.1 675.2h0M514.1 669h0M530.9 680h0M531.7 683.5h0M512.7 669.5h0M526.3 673.9h0M521.8 668.4h0M518.1 670.8h0M501.2 670.3h0M523.8 677.9h0M508.8 679.3h0M526.8 676.5h0M524.9 677.6h0M539.1 671.7h0M529 681.9h0M526.4 671h0M512 683.5h0M520.9 674.5h0M516.8 673.4h0M520.3 677.2h0M522.6 672.8h0M535.7 674.5h0M519.8 673.8h0M504.1 676.9h0M505.1 677.4h0M524.9 677.8h0M501.2 673.3h0M528.5 676.3h0M525.3 672.7h0M526 677.1h0M522.5 676.2h0M515.6 676.8h0M534.7 672.3h0M514.1 678.1h0M501.2 673.9h0M533.2 675.6h0M522.9 672.5h0M507 675.8h0M523.8 672.4h0M507.4 672.6h0M509.8 674.9h0M535.6 678.7h0M539.1 677.7h0M529.9 674.9h0M520.5 675.8h0M519.5 675.8h0M527.7 676.7h0M517 671.8h0M536.5 675.3h0M539.1 676.8h0M509.3 684.5h0M523.4 673.6h0M533.6 672.4h0M515.5 671.5h0M536.4 671.9h0M526.6 673.1h0M516.6 680.9h0M514 673.8h0M533 677.8h0M519.4 677.9h0M524.1 674.1h0M536 677.5h0M521.8 671h0M523.2 685.5h0M516.2 672.9h0M519 679.6h0M515.8 674.6h0M511.2 672h0M526.6 676.6h0M513.2 678.3h0M521.8 674.9h0M520.8 673.9h0M522.3 677.8h0M517.9 670.6h0M517.4 680.6h0M524.1 675.3h0M536.6 672.6h0M528.1 675.5h0M507.4 676.6h0M522.1 677.1h0M514.9 669h0M515.6 676.9h0M521.6 675.1h0M520.1 680.4h0M519.6 671.4h0M536.4 672h0M531.9 685.5h0M519.4 679.3h0M523.3 673h0M527.6 675.1h0M539.1 677.9h0M511.6 672.5h0M537.3 669.8h0M529.8 672.5h0M519.7 671.9h0M536 678.5h0M521.2 676.4h0M529.3 680.9h0M514.8 677.3h0M516.9 678.3h0M529.9 677.3h0M510.6 676.9h0M515.7 682.3h0M527.7 672.8h0M437.6 738.5h0" stroke="#000" stroke-width="1.0" stroke-linecap="square"/>
<text x="488.3" y="760.5" font-size="5.8" text-anchor="middle" fill="#222" font-family='"Liberation Sans", sans-serif' >log2(FBP2 TPM)</text>
<text transform="translate(418.6,690.3) rotate(-90)" font-size="6.4" text-anchor="middle" fill="#222" font-family='"Liberation Sans", sans-serif'>log2(GPI TPM)</text>
<text x="439" y="646.3" font-size="5.2" text-anchor="start" fill="#222" font-family='"Liberation Sans", sans-serif' >p−value = 7.7e−34</text>
<text x="439" y="652.6" font-size="5.2" text-anchor="start" fill="#222" font-family='"Liberation Sans", sans-serif' >R = −0.36</text>
<rect x="575.7" y="638" width="108.3" height="104.6" fill="none" stroke="#555" stroke-width="0.6"/>
<line x1="578.7" y1="742.6" x2="578.7" y2="744.4" stroke="#555" stroke-width="0.45"/>
<text x="578.7" y="751.8" font-size="4.4" text-anchor="middle" fill="#333" font-family='"Liberation Sans", sans-serif' >0</text>
<line x1="595.9" y1="742.6" x2="595.9" y2="744.4" stroke="#555" stroke-width="0.45"/>
<text x="595.9" y="751.8" font-size="4.4" text-anchor="middle" fill="#333" font-family='"Liberation Sans", sans-serif' >1</text>
<line x1="613.1" y1="742.6" x2="613.1" y2="744.4" stroke="#555" stroke-width="0.45"/>
<text x="613.1" y="751.8" font-size="4.4" text-anchor="middle" fill="#333" font-family='"Liberation Sans", sans-serif' >2</text>
<line x1="630.3" y1="742.6" x2="630.3" y2="744.4" stroke="#555" stroke-width="0.45"/>
<text x="630.3" y="751.8" font-size="4.4" text-anchor="middle" fill="#333" font-family='"Liberation Sans", sans-serif' >3</text>
<line x1="647.5" y1="742.6" x2="647.5" y2="744.4" stroke="#555" stroke-width="0.45"/>
<text x="647.5" y="751.8" font-size="4.4" text-anchor="middle" fill="#333" font-family='"Liberation Sans", sans-serif' >4</text>
<line x1="664.7" y1="742.6" x2="664.7" y2="744.4" stroke="#555" stroke-width="0.45"/>
<text x="664.7" y="751.8" font-size="4.4" text-anchor="middle" fill="#333" font-family='"Liberation Sans", sans-serif' >5</text>
<line x1="681.9" y1="742.6" x2="681.9" y2="744.4" stroke="#555" stroke-width="0.45"/>
<text x="681.9" y="751.8" font-size="4.4" text-anchor="middle" fill="#333" font-family='"Liberation Sans", sans-serif' >6</text>
<line x1="573.9" y1="738.5" x2="575.7" y2="738.5" stroke="#555" stroke-width="0.45"/>
<text transform="translate(570.7,738.5) rotate(-90)" font-size="3.6" text-anchor="middle" fill="#444" font-family='"Liberation Sans", sans-serif'>0</text>
<line x1="573.9" y1="723.1" x2="575.7" y2="723.1" stroke="#555" stroke-width="0.45"/>
<text transform="translate(570.7,723.1) rotate(-90)" font-size="3.6" text-anchor="middle" fill="#444" font-family='"Liberation Sans", sans-serif'>1</text>
<line x1="573.9" y1="707.7" x2="575.7" y2="707.7" stroke="#555" stroke-width="0.45"/>
<text transform="translate(570.7,707.7) rotate(-90)" font-size="3.6" text-anchor="middle" fill="#444" font-family='"Liberation Sans", sans-serif'>2</text>
<line x1="573.9" y1="692.3" x2="575.7" y2="692.3" stroke="#555" stroke-width="0.45"/>
<text transform="translate(570.7,692.3) rotate(-90)" font-size="3.6" text-anchor="middle" fill="#444" font-family='"Liberation Sans", sans-serif'>3</text>
<line x1="573.9" y1="676.9" x2="575.7" y2="676.9" stroke="#555" stroke-width="0.45"/>
<text transform="translate(570.7,676.9) rotate(-90)" font-size="3.6" text-anchor="middle" fill="#444" font-family='"Liberation Sans", sans-serif'>4</text>
<line x1="573.9" y1="661.5" x2="575.7" y2="661.5" stroke="#555" stroke-width="0.45"/>
<text transform="translate(570.7,661.5) rotate(-90)" font-size="3.6" text-anchor="middle" fill="#444" font-family='"Liberation Sans", sans-serif'>5</text>
<line x1="573.9" y1="646.1" x2="575.7" y2="646.1" stroke="#555" stroke-width="0.45"/>
<text transform="translate(570.7,646.1) rotate(-90)" font-size="3.6" text-anchor="middle" fill="#444" font-family='"Liberation Sans", sans-serif'>6</text>
<path d="M582 698h0M581.5 733.5h0M579.1 699.9h0M579.2 657.1h0M581.2 734h0M579.4 687.7h0M580.1 736.2h0M580.8 696h0M579 737.6h0M584.4 679.6h0M581.1 737.3h0M579.1 662.4h0M584.1 658.6h0M580.4 731.9h0M579.7 731.3h0M580.9 665.1h0M579 737.6h0M579.5 734.3h0M578.9 718.2h0M578.8 715.6h0M578.8 734.5h0M583.2 734.8h0M583.9 672.3h0M578.7 685h0M583.5 722h0M578.8 671.8h0M579.6 724h0M579.3 714h0M582 733.3h0M580.3 737.3h0M580.8 659h0M583.2 658.3h0M580.3 736.6h0M580.4 660h0M584.3 691.5h0M578.8 700.4h0M581.4 721.2h0M582.5 658.7h0M578.9 724.3h0M580.8 704.9h0M580.1 733.8h0M581.2 698.4h0M582 673.4h0M579.8 694.1h0M580.7 706.7h0M581.2 727.9h0M582.7 701.1h0M579.7 654.2h0M579 678.1h0M580.2 686.8h0M580 659.7h0M580.4 703.1h0M580.1 700h0M581.8 673.6h0M582 733.7h0M581.9 735.8h0M580.1 654.4h0M580.9 735.5h0M578.7 719.4h0M579.5 678.7h0M584.5 737.6h0M579.3 738.1h0M583.3 694.9h0M580.7 672h0M579.1 664.7h0M579.1 659h0M582.5 737.1h0M581.3 716.8h0M578.8 660.3h0M580.9 713.1h0M580 659.6h0M582.3 655h0M579.2 728.8h0M580.7 721.6h0M579.7 702h0M581.8 657.4h0M581.9 655.3h0M580.9 720.4h0M581.5 704h0M580.3 733h0M579.6 695h0M580.9 706.7h0M580.6 709h0M581 713.6h0M580.4 736.1h0M580.7 728.7h0M581.2 730.4h0M581.2 732.7h0M579 736.9h0M581.4 674.2h0M579.4 659.7h0M582.8 717.1h0M581.5 730.5h0M579.9 721.4h0M579 658.7h0M578.8 736.9h0M583.4 731.8h0M581.7 733.4h0M579.5 718.3h0M580 658.6h0M579.7 685.4h0M585 690.3h0M581 663.4h0M580.6 736h0M583.1 736.1h0M579.6 675.6h0M579.6 681h0M579 711.1h0M579 683.5h0M583.2 732.2h0M579.8 657h0M581.5 737.4h0M580 706.2h0M579.5 735.1h0M580.2 699h0M580.7 665.3h0M578.9 671h0M581.6 736.2h0M579.1 734.4h0M582.2 658.1h0M579.7 693.3h0M579.2 734.2h0M580.6 675.9h0M582.6 670.9h0M581.2 660.5h0M581 709.6h0M580.2 734h0M578.9 671.2h0M580 718.7h0M579.1 668.8h0M581.8 736h0M580.7 699.7h0M579.6 652.8h0M582.9 652.6h0M581.1 725.4h0M580.9 695.2h0M579.4 711.5h0M579.3 730.8h0M581.1 709.3h0M579.4 662.8h0M579.2 734.3h0M579.2 735.7h0M584.4 727.4h0M582.3 683h0M580.4 696.5h0M582.1 713.7h0M580 698.9h0M582.6 687.6h0M580.2 708.8h0M580.5 685.7h0M579 735.8h0M580.6 686.9h0M578.8 725.9h0M583.9 678.7h0M579.9 737.5h0M580.3 668.3h0M582 738.3h0M580.6 732.5h0M584 710h0M580.2 710.8h0M581.1 738.3h0M578.8 727.5h0M581.1 665.5h0M579 686.3h0M581.6 676.6h0M582.1 656.9h0M580 705.9h0M580 732.3h0M580.2 727.1h0M579.5 662.6h0M578.7 693.8h0M579.3 732.7h0M580.9 714.4h0M579.9 667.3h0M579.4 737.8h0M581.4 723.3h0M579.1 737.9h0M580.3 682.8h0M581.2 659.7h0M580.3 733.5h0M579.5 678.3h0M580.1 704.3h0M583.7 701.6h0M579.4 673.8h0M580.3 734.6h0M583.9 721.9h0M579.8 677.5h0M578.9 732.1h0M581.1 736.9h0M579.5 652.6h0M579.3 666.7h0M580.8 733.9h0M579.3 737.6h0M580.9 658.8h0M579.1 657.8h0M579.9 720.5h0M579.1 666.3h0M580.7 733.3h0M581.8 670.6h0M579.4 674.7h0M580.1 733.3h0M579.5 660h0M579.1 734.9h0M581.2 736h0M579.1 666.2h0M578.8 734.4h0M578.7 712.9h0M581.6 717.1h0M579.4 666.3h0M578.8 685.6h0M581.1 666.3h0M578.8 701.1h0M581.3 696.6h0M579.3 737h0M579.1 719.1h0M581.3 658.2h0M580.8 722.2h0M581.9 675.9h0M579.4 674.7h0M580.7 718.2h0M578.8 652.3h0M580 719h0M579.3 724.8h0M580.3 718.4h0M581.7 730.9h0M579.8 715.2h0M579.8 698.3h0M579.9 672.7h0M580.1 701.9h0M580.6 721.6h0M580 733.3h0M579.7 733.7h0M579.3 700h0M581.7 710.4h0M582.6 677.6h0M578.7 725.2h0M583.7 735.6h0M579 710.5h0M580.8 730.6h0M580 672.3h0M581.2 733.6h0M579.3 711.2h0M580.4 734.7h0M583 736.5h0M579.1 657h0M579.5 715h0M579 704.1h0M581 685.6h0M581.1 735.1h0M580.8 735.3h0M584.4 710h0M583.6 653.3h0M580 720.1h0M584.5 692.1h0M581.8 737.8h0M582.3 734.7h0M580.5 737h0M580.6 736.6h0M579.3 663.4h0M586.2 720.7h0M580.1 662.7h0M582.1 734.8h0M579.9 737.3h0M579.1 719.9h0M582.7 690.6h0M578.9 688.3h0M581.6 676h0M579.4 700.6h0M583.2 722.2h0M582.2 691.1h0M579.2 730.9h0M581.6 732.5h0M578.8 738.3h0M582.2 697.4h0M580.3 662.1h0M580.8 714h0M583.5 733.4h0M578.7 652.4h0M582 736h0M582.7 719.9h0M581.7 682.2h0M580.4 670.6h0M578.7 734.1h0M581.4 734.1h0M580.6 736.1h0M579.9 737.9h0M579.7 660.6h0M582.6 731.6h0M580.4 729.7h0M579 731.1h0M582.9 675h0M581.2 666.8h0M580.8 737.2h0M579.5 700.8h0M578.9 724.2h0M579.2 737.7h0M580.1 676.9h0M581.6 681.4h0M581.2 719.3h0M582.8 703.8h0M579.1 659.8h0M579.2 736.5h0M579.9 738.1h0M582.1 700h0M578.9 709.4h0M581.7 735.6h0M581.3 655.2h0M579.5 679.8h0M581 699h0M580.2 731.7h0M579.6 679h0M579 686.5h0M583.1 653.7h0M579.4 675.2h0M579.3 667.6h0M583.2 733.4h0M579.8 687.7h0M579.5 737.8h0M582.1 731.1h0M581.6 656.2h0M579.5 732.1h0M581.4 701.2h0M580.2 695.4h0M579 724.4h0M582.3 736.5h0M578.8 738.4h0M581.4 653.9h0M579.1 707.5h0M580.1 725h0M581.3 654.5h0M594.8 729.3h0M599.6 726.5h0M590.3 705.4h0M611.3 683.8h0M584.1 702h0M598.2 686.2h0M608.6 707.2h0M605.6 725.4h0M599.1 711.9h0M612.1 706.8h0M595.1 734.6h0M598.1 716.5h0M607.5 716.4h0M584.3 706h0M607.2 704.1h0M598.9 732.5h0M601.9 704.5h0M602.8 708.2h0M592.2 731.7h0M600.8 678.9h0M587.8 686.6h0M606.1 703.5h0M593.3 692.7h0M613.8 704.6h0M602 721.5h0M597.5 705.7h0M598 731.7h0M610.4 709.9h0M595.1 685.3h0M603.7 720.7h0M595.3 690.2h0M594.6 732.4h0M604.3 718.4h0M587.2 717.8h0M603.2 712.2h0M585.5 737.1h0M615.1 710.7h0M588.8 712.5h0M597.2 731.7h0M613.7 678.8h0M613.4 721.8h0M604.6 725.3h0M590.1 707.2h0M600.2 727.8h0M594.4 721.7h0M605.3 682.5h0M612.1 703.9h0M613.6 724.7h0M603.5 707.4h0M600.1 701.6h0M604.5 678.1h0M584.3 703.4h0M587.7 679.9h0M589.3 720.6h0M615.5 734.4h0M602.3 714h0M597.3 733.9h0M586.6 735.7h0M587.1 679.3h0M587.1 720.1h0M608.5 693.9h0M601.8 718h0M604.3 736h0M608.9 696.8h0M596.6 730.9h0M606.1 735.3h0M611.4 734.2h0M601.3 688.1h0M592.2 732.8h0M596 735.6h0M590 699.6h0M593.9 722.2h0M599.8 721.6h0M610 717.1h0M598.6 695.1h0M605.5 716.7h0M599 695.6h0M597.1 681.8h0M608.4 714.1h0M614.7 728.3h0M592.3 709.2h0M614.2 696h0M592.3 676.6h0M597.2 726.8h0M593.2 721.7h0M601 712.9h0M596.5 718.2h0M587.3 737.2h0M583.9 715.3h0M594.2 665.9h0M589.2 680.1h0M592.8 664.5h0M595.8 666.2h0M606.7 706.2h0M612.6 673.3h0M596.2 719.4h0M601 692.9h0M602.3 691.1h0M604.5 685.9h0M606.6 717.4h0M625.7 713.9h0M641.6 711h0M616.8 738.3h0M621.1 729.7h0M618.3 723.3h0M635 709.5h0M637.3 686.9h0M618.9 713.8h0M630.8 723.4h0M631.9 716.6h0M624.9 721.2h0M636.3 684.5h0M635.4 727.2h0M627.5 696h0M645.5 716.6h0M617.9 724.2h0M642.6 689.1h0M637.1 687.9h0M638.9 708.4h0M633.3 725.3h0M646.8 728h0M626.2 679.3h0M635.8 683.5h0M637 723.7h0M624.4 733.3h0M628.6 681.6h0M620.3 730.2h0M644.4 738.3h0M643.4 731.1h0M642.5 688h0M621.4 702.7h0M633.2 719.1h0M620.8 674.1h0M626.9 701h0M624.8 692.5h0M636.3 719.6h0M623.6 733.7h0M639.3 723.5h0M627.2 705.9h0M647.5 696.7h0M661 729h0M668.1 733.5h0M666.4 735.1h0M650.3 738.4h0M662.1 732.6h0M670.9 734h0M665.5 735.6h0M641.8 726.9h0M662.6 736.4h0M665.9 738h0M661.9 735.5h0M670.9 733h0M653.1 738.4h0M657.4 729.1h0M658.2 736.2h0M666.2 738.1h0M668.7 733.4h0M648.7 736.9h0M680.2 733.7h0M663.7 730.6h0M658.9 728.6h0M658.2 735.7h0M664.2 736.8h0M662.8 735.7h0M664.2 732.2h0M680.2 737.7h0M645.3 733.8h0M656.6 736.9h0M650.4 732.8h0M665.4 736.5h0M647.1 737.1h0M664 727.7h0M672.6 736.1h0M651.5 732.5h0M661.1 736.9h0M663.7 735.1h0M650.2 734.5h0M652.8 736.1h0M662.7 735.2h0M670.5 736.5h0M670.7 737.5h0M655.5 735.3h0M660 732.3h0M666.6 736.6h0M667.7 734.9h0M670.1 738.1h0M662.2 734.2h0M653.8 736.7h0M656.3 737h0M665.2 738.1h0M656.1 734.7h0M661.4 731.7h0M663.4 732.1h0M653.2 738.5h0M661.4 731.7h0M651.8 733.7h0M646.4 734.7h0M680.2 736.5h0M650.3 736.4h0M656.4 732.7h0M672.2 734.8h0M674.1 725.9h0M668.2 734.7h0M666.8 733.1h0M656.9 731.5h0M660.3 736.7h0M651.9 737.8h0M649.6 737.1h0M656 733.3h0M655 733.2h0M648.1 738.2h0M651.7 735.2h0M659.8 730.6h0M668.8 736.9h0M676 735h0M654.9 730.2h0M656.2 736.2h0M651.9 733.9h0M659.7 736.2h0M657.5 735.9h0M648.5 733.6h0M661.7 738.2h0M654.4 736.8h0M678.6 737.4h0M653.2 737.5h0M671 734.8h0M654.3 734.6h0M657.6 735.6h0M662.5 729.4h0M653 737.8h0M664.7 728.9h0M668.6 731.4h0M666.6 727.4h0M671.9 731.9h0M663.7 737h0M662 736h0M658.8 728.9h0M657 735.9h0M658.6 736.9h0M657.3 734.8h0M654.1 736.4h0M662.4 733.9h0M680.2 736.5h0M670.1 738h0M667 733.8h0M671.7 731.4h0M659.5 730.6h0M657 732.5h0M647.6 735.8h0M647.5 734.2h0M653.6 737.7h0M680.2 733.4h0M666.2 736.2h0M668.1 734.8h0M671.5 737h0M665.2 736.8h0M661.7 734.9h0M658.4 731.8h0M675.4 737.4h0M650.6 737.3h0M665.6 734.8h0M666 738.2h0M670.4 734.2h0M662.4 738.1h0M669.5 738h0M657.2 735.9h0M674.6 732.7h0M668.7 736.6h0M676.2 730.7h0M665 736.3h0M642 720.2h0M658.2 700.9h0M658.7 690.7h0M648.8 719h0M648.9 688.1h0M661.8 716.2h0M648.6 711.4h0M661.2 693.8h0M644.1 707.8h0M643.3 723.2h0M662.3 720h0M669.3 693.9h0M642.2 702.5h0M647.5 719.5h0M650.5 722.2h0M653.9 696.5h0M661.5 725.8h0M672.4 689.3h0M660.9 717.8h0M642.4 698.5h0M641.1 687.6h0M641.7 704.3h0M643.7 685.2h0M645.3 730.6h0M650.7 727.3h0M652.6 708.2h0M667.8 687h0M643.9 708.6h0M662.7 696.6h0M640.6 706.5h0" stroke="#000" stroke-width="1.0" stroke-linecap="square"/>
<text x="629.9" y="760.5" font-size="5.8" text-anchor="middle" fill="#222" font-family='"Liberation Sans", sans-serif' >log2(FBP2 TPM)</text>
<text transform="translate(560.4,690.3) rotate(-90)" font-size="6.4" text-anchor="middle" fill="#222" font-family='"Liberation Sans", sans-serif'>log2(HKDC1 TPM)</text>
<text x="580.5" y="646.3" font-size="5.2" text-anchor="start" fill="#222" font-family='"Liberation Sans", sans-serif' >p−value = 7.9e−20</text>
<text x="580.5" y="652.6" font-size="5.2" text-anchor="start" fill="#222" font-family='"Liberation Sans", sans-serif' >R = −0.36</text>
</svg></body></html>
